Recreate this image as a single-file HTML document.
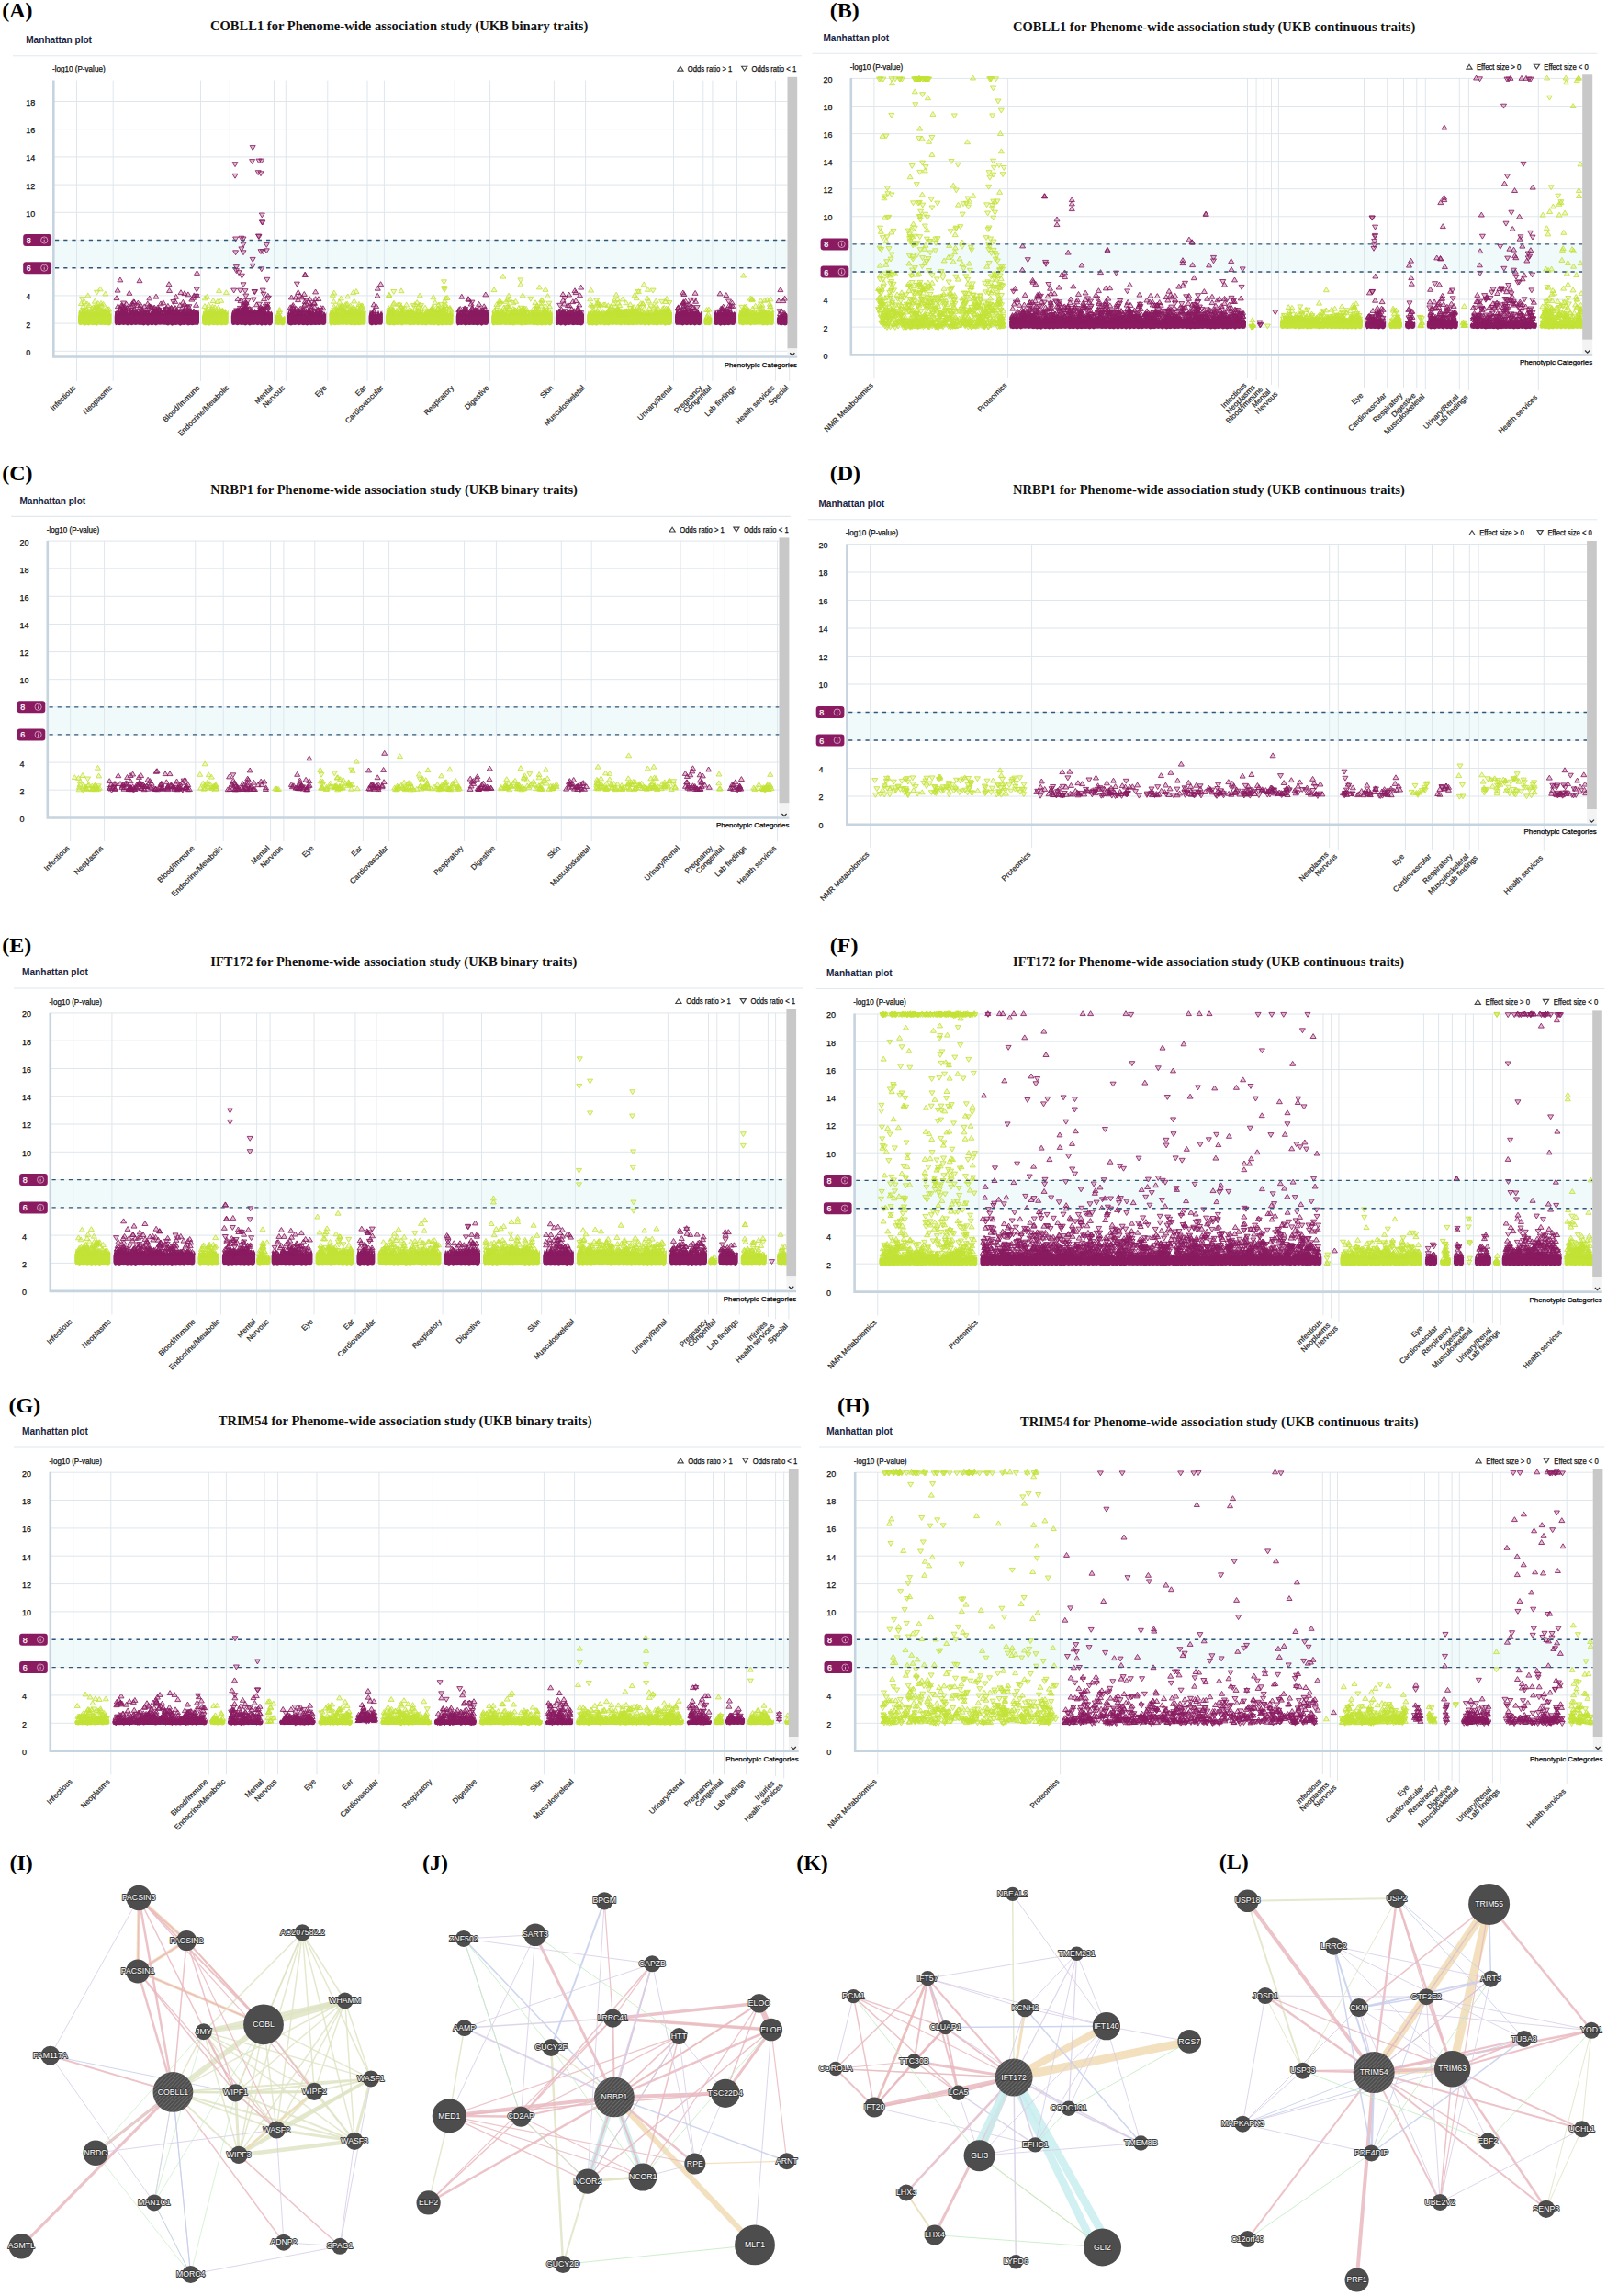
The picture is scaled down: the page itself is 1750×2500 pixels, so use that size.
<!DOCTYPE html>
<html lang="en"><head><meta charset="utf-8"><title>PheWAS Manhattan plots and gene networks</title><style>
html,body{margin:0;padding:0;background:#fff}
svg{display:block}
.pl{font:bold 24px 'Liberation Serif','Times New Roman',serif;fill:#000}
.tt{font:bold 14.5px 'Liberation Serif','Times New Roman',serif;fill:#111}
.mp{font:bold 10.1px 'Liberation Sans',Arial,sans-serif;fill:#1a2340}
.yl{font:8.7px 'Liberation Sans',Arial,sans-serif;fill:#111;stroke:#111;stroke-width:.25}
.lg{font:8.2px 'Liberation Sans',Arial,sans-serif;fill:#111;stroke:#111;stroke-width:.25}
.yt{font:9.8px 'Liberation Sans',Arial,sans-serif;fill:#111;stroke:#111;stroke-width:.25}
.pc{font:8px 'Liberation Sans',Arial,sans-serif;fill:#000;stroke:#000;stroke-width:.25}
.xl{font:8.2px 'Liberation Sans',Arial,sans-serif;fill:#222;stroke:#222;stroke-width:.2}
.bd{font:9.8px 'Liberation Sans',Arial,sans-serif;fill:#fff;stroke:#fff;stroke-width:.25}
.nl{font:8.7px 'Liberation Sans',Arial,sans-serif;fill:#fff;text-anchor:middle;paint-order:stroke;stroke:#3a3a3a;stroke-width:1.8px;stroke-linejoin:round}
polyline{fill:none;stroke:none}
.uL{marker:url(#uL)}.dL{marker:url(#dL)}.uP{marker:url(#uP)}.dP{marker:url(#dP)}
</style></head><body>
<svg width="1750" height="2500" viewBox="0 0 1750 2500">
<defs><pattern id="hatch" width="3" height="3" patternUnits="userSpaceOnUse" patternTransform="rotate(-45)"><rect width="3" height="3" fill="#4d4d4d"/><rect width="3" height="1" fill="#6a6a6a"/></pattern><marker id="uL" markerUnits="userSpaceOnUse" markerWidth="10" markerHeight="10" viewBox="-5 -5 10 10" refX="0" refY="0" overflow="visible"><path d="M-3 1.6h6l-3 -4.9z" fill="#c3e336" fill-opacity=".28" stroke="#c3e336" stroke-width=".85"/></marker><marker id="dL" markerUnits="userSpaceOnUse" markerWidth="10" markerHeight="10" viewBox="-5 -5 10 10" refX="0" refY="0" overflow="visible"><path d="M-3 -1.6h6l-3 4.9z" fill="#c3e336" fill-opacity=".28" stroke="#c3e336" stroke-width=".85"/></marker><marker id="uP" markerUnits="userSpaceOnUse" markerWidth="10" markerHeight="10" viewBox="-5 -5 10 10" refX="0" refY="0" overflow="visible"><path d="M-3 1.6h6l-3 -4.9z" fill="#8a1b61" fill-opacity=".28" stroke="#8a1b61" stroke-width=".85"/></marker><marker id="dP" markerUnits="userSpaceOnUse" markerWidth="10" markerHeight="10" viewBox="-5 -5 10 10" refX="0" refY="0" overflow="visible"><path d="M-3 -1.6h6l-3 4.9z" fill="#8a1b61" fill-opacity=".28" stroke="#8a1b61" stroke-width=".85"/></marker></defs>
<rect width="1750" height="2500" fill="#fff"/>
<g>
<text x="2.2" y="19.3" class="pl">(A)</text>
<text x="229" y="33" class="tt" textLength="411.4" lengthAdjust="spacing">COBLL1 for Phenome-wide association study (UKB binary traits)</text>
<text x="28.2" y="46.5" class="mp">Manhattan plot</text>
<path d="M14 60.8H873" stroke="#e1e8ee" stroke-width="1.1"/>
<text x="57" y="77.7" class="yl" textLength="57.6" lengthAdjust="spacingAndGlyphs">-log10 (P-value)</text>
<path d="M737.8 77.1h6.2l-3.1-4.8z" fill="none" stroke="#444" stroke-width="1.15"/>
<text x="748.8" y="77.8" class="lg" textLength="48.6" lengthAdjust="spacingAndGlyphs">Odds ratio &gt; 1</text>
<path d="M807.6 72.2h6.2l-3.1 4.8z" fill="none" stroke="#444" stroke-width="1.15"/>
<text x="818.6" y="77.8" class="lg" textLength="48.6" lengthAdjust="spacingAndGlyphs">Odds ratio &lt; 1</text>
<text x="28.2" y="386.7" class="yt" textLength="5" lengthAdjust="spacingAndGlyphs">0</text>
<text x="28.2" y="356.5" class="yt" textLength="5" lengthAdjust="spacingAndGlyphs">2</text>
<text x="28.2" y="326.3" class="yt" textLength="5" lengthAdjust="spacingAndGlyphs">4</text>
<text x="28.2" y="296.1" class="yt" textLength="5" lengthAdjust="spacingAndGlyphs">6</text>
<text x="28.2" y="265.9" class="yt" textLength="5" lengthAdjust="spacingAndGlyphs">8</text>
<text x="28.2" y="235.7" class="yt" textLength="10" lengthAdjust="spacingAndGlyphs">10</text>
<text x="28.2" y="205.5" class="yt" textLength="10" lengthAdjust="spacingAndGlyphs">12</text>
<text x="28.2" y="175.3" class="yt" textLength="10" lengthAdjust="spacingAndGlyphs">14</text>
<text x="28.2" y="145.1" class="yt" textLength="10" lengthAdjust="spacingAndGlyphs">16</text>
<text x="28.2" y="114.9" class="yt" textLength="10" lengthAdjust="spacingAndGlyphs">18</text>
<path d="M58 382.3H857.5M58 352.1H857.5M58 321.9H857.5M58 291.7H857.5M58 261.5H857.5M58 231.3H857.5M58 201.1H857.5M58 170.9H857.5M58 140.7H857.5M58 110.5H857.5M83.5 87.6V414.8M123.2 87.6V414.8M218.5 87.6V414.8M250.3 87.6V414.8M298.5 87.6V414.8M311.3 87.6V414.8M356.8 87.6V414.8M400 87.6V414.8M418.4 87.6V414.8M495.2 87.6V414.8M533.6 87.6V414.8M603.4 87.6V414.8M637.6 87.6V414.8M733.5 87.6V414.8M765.8 87.6V414.8M775.9 87.6V414.8M802.5 87.6V414.8M844.4 87.6V414.8M859.7 388.3V414.8" stroke="#dfe6ec" stroke-width="1" fill="none"/>
<rect x="59" y="261.5" width="798.5" height="30.2" fill="#f1fafb"/>
<path d="M83.5 261.5V291.7M123.2 261.5V291.7M218.5 261.5V291.7M250.3 261.5V291.7M298.5 261.5V291.7M311.3 261.5V291.7M356.8 261.5V291.7M400 261.5V291.7M418.4 261.5V291.7M495.2 261.5V291.7M533.6 261.5V291.7M603.4 261.5V291.7M637.6 261.5V291.7M733.5 261.5V291.7M765.8 261.5V291.7M775.9 261.5V291.7M802.5 261.5V291.7M844.4 261.5V291.7" stroke="#dde7ec" stroke-width="1" fill="none"/>
<path d="M86 353.8L85 351.3V344.4L86.5 336.5L88 341.1L89.5 336.3L91 340L92.5 339.1L94 340.8L95.5 336.6L97 341.5L98.5 337.4L100 341.5L101.5 336.8L103 341.5L104.5 338.3L106 339.9L107.5 338.2L109 340.9L110.5 337.3L112 340L113.5 338.2L115 340.2L116.5 338.7L118 342.2L119.5 337.5L121 342L121.7 338.4V351.3L120.7 353.7L118.5 354.6L116.3 353.7L114.1 353.9L111.9 353.7L109.7 354L107.5 353.6L105.3 354.7L103.1 353.7L100.9 354.3L98.7 353.6L96.5 354.6L94.3 353.7L92.1 354.7L89.9 353.6L87.7 354.1zM221 353.8L220 351.3V344.4L221.5 338.8L223 341.3L224.5 336.5L226 341.9L227.5 338L229 342.1L230.5 337.7L232 341.1L233.5 336.6L235 340.7L236.5 336.8L238 341.1L239.5 339.1L241 340.5L242.5 339L244 340.9L245.5 336.2L247 342.2L248.5 337.1L248.8 340.3V351.3L247.8 353.5L245.6 354.2L243.4 353.8L241.2 354.6L239 353.5L236.8 354.6L234.6 353.7L232.4 354.3L230.2 353.6L228 354.7L225.8 353.7L223.6 354.6L221.4 353.6zM300 353.8L299 351.3V347.6L300.5 344.4L302 345.4L303.5 343.1L305 344.9L306.5 344.1L308 345.9L309.5 344L310.8 345V351.3L309.8 353.7L307.6 354.4L305.4 353.6L303.2 353.9L301 353.6zM359.3 353.8L358.3 351.3V344.4L359.8 336.6L361.3 341.7L362.8 336.4L364.3 342.4L365.8 336.7L367.3 340L368.8 336.7L370.3 342.1L371.8 336.5L373.3 342.2L374.8 338.8L376.3 340.2L377.8 338.3L379.3 340.9L380.8 336.3L382.3 341.8L383.8 337.7L385.3 342.4L386.8 338.3L388.3 340.7L389.8 336.4L391.3 341.1L392.8 338.1L394.3 342.4L395.8 338.7L397.3 342.2L398.5 337V351.3L397.5 353.5L395.3 353.8L393.1 353.7L390.9 354.3L388.7 353.8L386.5 354.5L384.3 353.8L382.1 354.3L379.9 353.5L377.7 353.9L375.5 353.6L373.3 354L371.1 353.6L368.9 354.1L366.7 353.7L364.5 354.2L362.3 353.5L360.1 354.7zM420.9 353.8L419.9 351.3V344.4L421.4 336.4L422.9 340L424.4 336.4L425.9 340.2L427.4 338.1L428.9 340.9L430.4 337L431.9 342.3L433.4 336.2L434.9 341.5L436.4 336.7L437.9 340.4L439.4 337.3L440.9 341.2L442.4 336.4L443.9 341.2L445.4 337L446.9 340.2L448.4 338L449.9 341.5L451.4 338.5L452.9 342.1L454.4 337.1L455.9 342.3L457.4 336.5L458.9 340.2L460.4 337.3L461.9 341.7L463.4 338.6L464.9 341.4L466.4 336.7L467.9 341.4L469.4 336.5L470.9 341.8L472.4 337.5L473.9 342.3L475.4 336.3L476.9 342.1L478.4 339.1L479.9 342.3L481.4 336.1L482.9 341.7L484.4 338.3L485.9 340.9L487.4 337.9L488.9 341.7L490.4 337.2L491.9 341.5L493.4 336.3L493.7 341.9V351.3L492.7 353.6L490.5 354.2L488.3 353.7L486.1 354.2L483.9 353.5L481.7 354.6L479.5 353.7L477.3 354.7L475.1 353.5L472.9 354.3L470.7 353.7L468.5 354.1L466.3 353.6L464.1 354.6L461.9 353.7L459.7 354.3L457.5 353.6L455.3 354.3L453.1 353.5L450.9 353.9L448.7 353.7L446.5 354.6L444.3 353.5L442.1 353.8L439.9 353.6L437.7 354.6L435.5 353.5L433.3 354.1L431.1 353.7L428.9 354.4L426.7 353.7L424.5 354.3L422.3 353.5zM536.1 353.8L535.1 351.3V344.4L536.6 339.1L538.1 341.2L539.6 336.2L541.1 340L542.6 336.7L544.1 340.2L545.6 336.1L547.1 340.1L548.6 336.6L550.1 340.3L551.6 338.3L553.1 342.2L554.6 339.1L556.1 341.9L557.6 336.8L559.1 341.5L560.6 337.7L562.1 342.5L563.6 337.3L565.1 340.6L566.6 338.8L568.1 340.6L569.6 338.6L571.1 340L572.6 339.1L574.1 341.9L575.6 338.7L577.1 341.8L578.6 337.2L580.1 340.8L581.6 336.8L583.1 340.8L584.6 337.8L586.1 339.9L587.6 337.5L589.1 340.4L590.6 336.9L592.1 341.3L593.6 338.5L595.1 341.8L596.6 336.1L598.1 341.8L599.6 336.6L601.1 340.9L601.9 337.1V351.3L600.9 353.5L598.7 354.6L596.5 353.6L594.3 354.6L592.1 353.7L589.9 354.5L587.7 353.7L585.5 354.6L583.3 353.8L581.1 354.3L578.9 353.6L576.7 353.8L574.5 353.8L572.3 354.1L570.1 353.8L567.9 354.5L565.7 353.7L563.5 353.8L561.3 353.7L559.1 354.5L556.9 353.8L554.7 354L552.5 353.7L550.3 354L548.1 353.6L545.9 353.9L543.7 353.8L541.5 354.1L539.3 353.7L537.1 354.4zM640.1 353.8L639.1 351.3V344.4L640.6 338.3L642.1 340.9L643.6 337.8L645.1 341.8L646.6 338.8L648.1 342.2L649.6 336.5L651.1 340.6L652.6 338.5L654.1 340.1L655.6 339.1L657.1 342.3L658.6 339.2L660.1 340.2L661.6 337.8L663.1 340.3L664.6 336.3L666.1 340.4L667.6 337.8L669.1 341.8L670.6 337.1L672.1 340.9L673.6 338L675.1 342.3L676.6 337.1L678.1 340.6L679.6 338.8L681.1 341.2L682.6 337.3L684.1 341.9L685.6 336.3L687.1 341.1L688.6 337.3L690.1 340.3L691.6 338.3L693.1 342.2L694.6 338.6L696.1 341.8L697.6 336.7L699.1 340.4L700.6 338.1L702.1 341.6L703.6 338.2L705.1 340.7L706.6 338.3L708.1 341.3L709.6 338.9L711.1 342.2L712.6 338.4L714.1 341.8L715.6 336.4L717.1 340.6L718.6 337.1L720.1 342.4L721.6 337.5L723.1 340.1L724.6 336.8L726.1 340.9L727.6 336.3L729.1 340.7L730.6 338.2L732 340.2V351.3L731 353.6L728.8 354.2L726.6 353.7L724.4 354.7L722.2 353.6L720 354.1L717.8 353.6L715.6 354.7L713.4 353.7L711.2 353.9L709 353.6L706.8 354.5L704.6 353.6L702.4 354.6L700.2 353.6L698 354.1L695.8 353.5L693.6 354L691.4 353.6L689.2 354.3L687 353.7L684.8 354.3L682.6 353.8L680.4 354L678.2 353.6L676 354.6L673.8 353.6L671.6 354L669.4 353.6L667.2 353.9L665 353.5L662.8 354.4L660.6 353.8L658.4 354.5L656.2 353.6L654 353.9L651.8 353.5L649.6 354.7L647.4 353.8L645.2 354.4L643 353.7L640.8 354.2zM767.3 353.8L766.3 351.3V348L767.8 345L769.3 345.8L770.8 343.8L772.3 345.7L773.8 343.9L775.3 346.4L775.4 344.2V351.3L774.4 353.5L772.2 354.3L770 353.7L767.8 354.2zM805 353.8L804 351.3V344.4L805.5 336.1L807 342L808.5 337.8L810 342.3L811.5 337.2L813 340L814.5 336.5L816 341.6L817.5 338.7L819 341.4L820.5 338.2L822 342.1L823.5 336.4L825 340.9L826.5 336.9L828 341.2L829.5 336.6L831 340.2L832.5 337.8L834 342.5L835.5 338.7L837 342.3L838.5 338.3L840 340.1L841.5 336.6L842.9 341.5V351.3L841.9 353.7L839.7 354L837.5 353.6L835.3 354.5L833.1 353.8L830.9 354.4L828.7 353.6L826.5 353.8L824.3 353.6L822.1 354.1L819.9 353.6L817.7 354.4L815.5 353.5L813.3 353.9L811.1 353.6L808.9 354.5L806.7 353.6z" fill="#c3e336"/>
<polyline class="uL" points="98.5,340.5 111.6,341.4 105.8,340 91.4,338.9 88.5,330.9 103.7,341.8 110.4,333.2 103.3,328.6 94.8,331.4 110.6,339.3 106.6,340.9 102.5,339.7 90.5,334.3 106.9,340.6 118.6,337.1 112.7,340 88.9,338.5 100,340.5 97,332.9 95.8,322.3 107,335.8 114.4,338.8 117.3,337.9 93.1,338.9 100.1,336 106.7,330.8 111.1,338.5 112.7,338.9 103,338.8 113.3,339.6 104.2,334.2 110.1,330.7 104.4,341.3 90.3,341.3 114,340.7 105.5,333.7 107.7,334.9 112.5,331.6 96.5,339.5 100.7,342.1 115,340.3 103.1,336 102,334.9 99.4,338.9 105.8,335.5 111.1,340.4 94.1,337.6 116.6,340.2 117.1,341.5 105.9,340.1 114.8,320.4 88.9,339.3 116.4,336.2 100.8,342.5 91.9,329.1 110.5,338.4 231,337.1 231.8,342.2 227.3,342.5 239.1,338.3 227.3,332.7 234.9,341.5 244.1,340.6 231.6,342 241.2,339.2 240.7,327.7 242.9,339.3 229.6,340.2 241.3,341.9 232.2,327.9 229.4,338.6 223,333.9 242.7,341.7 242.2,338.5 236.9,328.9 245.4,339.9 228.8,342.3 223.2,325.2 223.9,342.5 231.4,334.5 234,335.1 238.2,339.8 237.8,335.4 224.8,339.9 242,340.6 303,343.2 304.5,337.9 303.4,342.3 304.2,339.8 303.4,345.2 303.1,346.7 305.1,345.4 304.1,347 374.4,342.3 369.7,329.4 378.7,323.3 381.8,340.5 366.8,339.3 370,334.6 365.5,342.5 394.2,341 363.1,342.3 383.3,341.9 371.5,334.7 393,340.4 369.3,341.2 373.5,337.5 372.2,333.9 381.4,341.5 364.3,337.1 367.6,340.6 370.6,336.7 376,338.8 393.2,334.7 384.7,339.6 384.7,319 386.9,337.2 375.1,339.8 363.7,334.5 377,331.6 361.5,340.2 371.2,334.7 390.8,337.9 376.8,342 391,331.7 379,335.7 384.9,337.1 381.6,333.4 394.5,340.4 385.7,328.4 363.4,328.7 382.2,338.2 368.4,339.8 391.1,338.9 394.7,336.1 363.8,319.4 366.5,336.7 374.9,339.1 371.4,325.3 375.7,333 394.1,333.2 395.2,338.3 369.8,337.2 389.2,341.8 377.3,336.1 390.7,342.4 367.8,334.6 389.3,336.2 361.5,341.6 378.3,331.5 384.9,335.1 382,336.6 379.7,342.1 436.8,334.4 485.8,340.9 444.4,340.3 468.6,342 475.4,342 437.6,342.4 427.3,342.1 470.3,337.9 479,338 446.9,342.5 448.3,340.8 471.1,338.4 490.5,337.7 426.2,339.9 454.2,338.8 471,336.5 448,340.5 457.3,322.3 452.7,336.3 448.5,339.2 447.3,340.9 434.6,331.8 448.9,340.1 466.9,339.2 477.4,336.1 445.4,340.9 434.3,342.4 427.6,337.6 469.3,337.9 428.3,331.6 468.5,338.7 457.1,332.2 490,335.8 473.8,329.8 441.1,336.4 478.7,342 477.6,332.4 476.8,336.6 463,335.5 431.9,341.4 468.8,339.8 480.5,339.1 438.9,336.1 434.2,340.8 442.7,332.4 459,337.1 455.8,338.4 438.8,341.4 423.4,322 426.9,340.4 468,340.8 427.9,338.7 449.5,340.9 438.6,338.7 481.9,339.3 437,335.2 425.9,336.7 475,341.6 437.4,339.8 424,338.2 447,342.1 437.8,342.1 446.8,342.3 423.4,336.1 447.5,338.8 455.4,334.9 465,339.5 454.2,329.9 469.6,341.5 434.9,335.7 444.4,341.3 471.4,334.6 424.2,341.7 479.2,340.6 436.7,341.8 443.6,342.1 485.5,325.2 454.9,340.1 429.1,330.6 470.7,342.4 427.4,340.6 484.3,328.3 451.9,331.9 423.9,321.7 445.5,338.4 428.2,337.7 484.2,336.8 487.1,324.8 470.5,341.6 471,337.6 464.8,340.6 463.5,341.4 469.5,339.5 476.6,337 489.3,336.4 471.6,341.2 481.8,337.8 430.9,341 471.9,324.2 485.1,332.9 482.9,335.6 431.8,339 490.6,342.3 482.3,337.2 437.7,341.4 542,333.8 578.5,340.3 538.8,338.3 570.8,339.5 561.8,341.5 580.7,337.2 566.7,340.7 549.6,337.4 591.9,337.2 568.9,338 573,336.6 544,328 593.8,338.9 560,341.8 569.2,322.2 590.4,327.6 580.3,341.3 563.5,338.6 546.5,339.3 571.3,342.4 558.5,339.9 584.9,333 584.7,336.7 593.1,337.9 538.9,338.8 563.9,341.6 587.4,313.3 589.6,333.5 559.1,341.3 586.6,336.2 544.1,342.4 558.7,341.9 548,341.4 560.2,339.3 554,322.5 584.4,342.4 598.5,334.1 582.2,340 587.9,341 553.2,327 597.1,338.8 583.4,336.7 596.5,323 582.9,340.8 542.5,338.8 584.5,334.3 544.8,329.1 552.9,341 565.5,342 582.9,330 589.8,327.1 558.8,336.8 586.3,340 540.9,332 554.3,334.1 569.7,342.4 570.5,339.1 593,339.4 545.7,341.9 574.6,341 541.1,341.5 575.5,340.8 554.8,336 589.8,330.6 571.1,336.3 555,326.3 586.1,340.3 560.6,337.7 551.1,328.7 561.6,328.7 552.9,341.1 569.1,336.4 552.5,334.3 597,340.5 564.9,335.9 594.7,334.4 592.5,339.4 594.4,341.8 561.1,338.6 545.2,340.3 581.2,341.9 559,330.1 548.5,335.7 562.4,340.1 565.4,339.5 668.4,338.1 705,325.4 652.1,341.6 662.3,333.1 679.4,342.4 676.7,339.1 671.1,321.5 658,342.1 674.8,332.9 655.9,341.9 653.9,332.2 662.1,339.5 645.1,333.4 693.8,340.1 686.4,332.1 671.9,340.9 714.3,328.3 707.2,336.1 669.8,339.7 689.2,341.8 650.7,329.9 695.4,341.4 714.4,341.2 673,340.4 695,341.9 721.8,336.6 662.8,338.8 701.5,341.8 688.5,336.9 728.1,342.2 688.2,340.2 715.1,340.5 667.1,339.3 690.1,334.9 652.1,335.9 693.2,325.1 685.5,342.3 720.1,340.3 705.8,341.4 688.1,337.8 697,335.4 679.2,340.1 677.9,341 698.3,340 695.8,336.5 668,330.6 669.1,327.5 726.1,325.7 675,340.3 657.3,332.3 706.4,328.2 664.9,341.7 716.1,335.3 677.3,342 682.4,339.5 669.8,338.7 669.3,340.4 661.2,341.3 713.5,341.2 645.6,340.5 679.7,340.4 723.2,335.7 701.7,336.4 659.7,342.4 673.2,330.3 682.3,339.1 674.1,338 646.7,337.9 682.3,339.5 697.8,330.9 677.4,342.1 673.3,337 709.2,341.4 647,341.2 642.7,326.1 693.4,340.6 727.6,336.6 678.3,340 651.4,332.6 726.5,339.8 651,342.2 673.6,340 665.3,338.2 665.4,334.1 650.7,339.2 673.2,342 656.7,339.9 672.5,326.4 728,337.1 724.2,340.5 691.2,322 668.9,341.7 662.9,341.7 643.5,332.4 713.9,339.5 725.7,336.3 681.7,330.1 694.6,334.6 700.1,331.3 672.8,339.1 678.2,326.3 647.4,341.5 726.2,340.2 693.4,340.7 728,341.9 688.5,342 669.3,340.2 673,341.4 705.8,340.6 672.6,337.7 712.1,335.2 714.2,333.5 651.4,331 647.5,342.1 722.3,339.4 699.9,331.1 664,336.7 642.5,341.6 727.6,339.5 724.9,328.9 714.9,340.6 659,341.9 701.5,341.6 725.8,340 679.9,342.1 659,332.2 771.9,337.4 771.3,342.6 770.3,345 769.6,337.9 772,348.3 837.1,341.2 810.8,337.8 808.6,342.4 819.6,336.6 818.9,327 814.9,338.9 837.4,342.4 829.8,335.3 828.7,340.6 807.1,341.6 835.4,327 838.3,331.6 839.9,338 827.7,341 820,340.2 820,341.6 810,338.1 808.7,341.3 829.9,332.7 815.2,341.9 822.7,333.7 834,342 819.5,340.5 818.8,326 833.4,340.6 812.3,340.9 809.8,338.6 831.5,339.9 829.2,340.2 831.5,342.1 815.7,341 817.2,325.5 824.6,340.2 810.9,334.7 812.2,342.5 815.4,339.5 812.1,341.9 838.8,334.1 838.9,334.1 828.5,327.7 827,332.6 834.9,340.2 812.5,334.5 838.9,326.2 832.7,327.6 819.3,326.2 109.2,315.2 238.5,316.8 225.6,323.6 246.4,319 362.3,321.7 388,317.8 437,317.1 547.8,301.5 566.9,310.5 538,316 594,315.7 643.6,316.5 701.2,310.3 695.4,318 705.4,315.7 809.6,300.4"/>
<polyline class="dL" points="111.9,342.1 105.5,317.8 93.2,337.3 92.7,341.4 103.7,341.1 236.4,339.1 224.2,340.8 244.7,341.9 241.8,340.7 235.3,341.3 241.2,342.4 232,339.2 225,338.2 228,341 305.9,347.7 304.6,347 302.5,344.7 391.5,340.3 392.7,332.7 383.3,340.3 376.3,340.8 380.3,340.1 366.2,342.5 393.7,341.2 388,337.9 386.3,340.6 479.8,338.7 473.5,340.3 484.5,333.5 485.8,336.5 451,341.7 453,342.3 441.2,340.3 450.4,332.2 426.3,336.6 434.7,331.6 485.1,342.1 428.5,339.1 427.2,341.7 474.4,340.3 458.6,332.2 480.1,331.3 545.2,330 562,342.1 551.6,334.2 553.7,339.8 541.6,342 571.8,338.8 597.9,329.8 568.4,338.3 574.5,339.2 594.7,342 544.8,340.9 553.5,340 577.8,324.9 567.8,334.8 708.6,340.2 719.1,339.4 723.9,340.3 719,340.2 672.2,337.4 692,338.9 686.4,335.1 708.6,332.6 649.6,326.7 728.9,329.2 682.3,338.1 661.8,342 665.1,341.5 711.1,315.7 720.6,327.9 681.2,340.2 669.7,334.3 721.3,339.5 685.3,340.8 645.3,334.1 692.4,341.2 690.1,341.6 813.5,337.7 832.2,339.8 835.8,339.1 827.5,337.2 821.5,339.2 807.9,333.9 833.9,341.7 809.2,340.6 808.2,339.4 89.5,325 428.8,317.1 483.5,306.4 483.8,313.2 484,315 566.9,304.5 695,317"/>
<path d="M125.7 353.8L124.7 351.3V343.9L126.2 337.8L127.7 341.7L129.2 336.7L130.7 339.5L132.2 336.5L133.7 339.3L135.2 337.1L136.7 340.5L138.2 337L139.7 341.1L141.2 336.1L142.7 339.5L144.2 337L145.7 341.1L147.2 337.2L148.7 339.3L150.2 338.2L151.7 340.6L153.2 336.4L154.7 341.6L156.2 335.1L157.7 341.2L159.2 336.2L160.7 341.4L162.2 337.2L163.7 341.9L165.2 337.4L166.7 339.7L168.2 335.7L169.7 340.8L171.2 337.4L172.7 339.8L174.2 336L175.7 341.3L177.2 336.4L178.7 340.9L180.2 337.9L181.7 341.1L183.2 336.7L184.7 341.3L186.2 337.7L187.7 340.8L189.2 336.8L190.7 341.7L192.2 335.7L193.7 339.5L195.2 335.4L196.7 340.4L198.2 337L199.7 339.9L201.2 338.2L202.7 341L204.2 336.8L205.7 340.8L207.2 335.3L208.7 339.9L210.2 335.9L211.7 341.2L213.2 337.9L214.7 339.8L216.2 336.4L217 340.6V351.3L216 353.7L213.8 353.8L211.6 353.7L209.4 354.3L207.2 353.8L205 354.4L202.8 353.6L200.6 353.9L198.4 353.7L196.2 354.7L194 353.6L191.8 354.1L189.6 353.7L187.4 354.7L185.2 353.6L183 354.4L180.8 353.7L178.6 353.8L176.4 353.6L174.2 353.8L172 353.5L169.8 354.5L167.6 353.5L165.4 354.6L163.2 353.5L161 354.7L158.8 353.6L156.6 354.5L154.4 353.7L152.2 354.1L150 353.6L147.8 354L145.6 353.6L143.4 354.3L141.2 353.5L139 354.4L136.8 353.6L134.6 354L132.4 353.5L130.2 354.3L128 353.5L125.8 354.3zM252.8 353.8L251.8 351.3V343.9L253.3 337.1L254.8 341.5L256.3 335.9L257.8 340.9L259.3 335.7L260.8 339.2L262.3 338.4L263.8 339.8L265.3 337.5L266.8 339.6L268.3 338.2L269.8 340.8L271.3 337.8L272.8 340.3L274.3 338.1L275.8 340.1L277.3 335.5L278.8 340.2L280.3 337.7L281.8 340.8L283.3 335.7L284.8 339.2L286.3 335.3L287.8 339.3L289.3 337.4L290.8 340.5L292.3 336.8L293.8 340.4L295.3 338.5L296.8 340.9L297 337.8V351.3L296 353.6L293.8 354.6L291.6 353.6L289.4 354.5L287.2 353.6L285 354.7L282.8 353.5L280.6 354.3L278.4 353.5L276.2 354.1L274 353.8L271.8 354.5L269.6 353.6L267.4 354.4L265.2 353.8L263 353.9L260.8 353.6L258.6 354.3L256.4 353.5L254.2 354.1zM313.8 353.8L312.8 351.3V344.4L314.3 336.8L315.8 342L317.3 336.9L318.8 340.4L320.3 338.1L321.8 342.2L323.3 337.6L324.8 340.9L326.3 336.9L327.8 341.1L329.3 336.7L330.8 341.7L332.3 338.4L333.8 342.4L335.3 337L336.8 341.2L338.3 337.9L339.8 340.3L341.3 338.4L342.8 342.1L344.3 336.1L345.8 342.4L347.3 337.5L348.8 341L350.3 336.8L351.8 342L353.3 339.2L354.8 342L355.3 338.9V351.3L354.3 353.6L352.1 354.1L349.9 353.5L347.7 354L345.5 353.8L343.3 353.9L341.1 353.7L338.9 354.2L336.7 353.5L334.5 354.5L332.3 353.8L330.1 354.3L327.9 353.6L325.7 354.2L323.5 353.6L321.3 353.9L319.1 353.7L316.9 354.5L314.7 353.8zM402.5 353.8L401.5 351.3V344.4L403 336.9L404.5 341.6L406 336.2L407.5 342.4L409 338L410.5 342L412 337.3L413.5 341.8L415 338.3L416.5 341.2L416.9 336.7V351.3L415.9 353.6L413.7 353.8L411.5 353.6L409.3 354.5L407.1 353.5L404.9 354.6L402.7 353.6zM497.7 353.8L496.7 351.3V344.4L498.2 336.3L499.7 340.4L501.2 338.3L502.7 341L504.2 339.2L505.7 341.2L507.2 338.3L508.7 342.4L510.2 338.4L511.7 341.7L513.2 338.5L514.7 340.3L516.2 336.5L517.7 341.1L519.2 338.5L520.7 339.9L522.2 338.8L523.7 342.3L525.2 337.8L526.7 340.5L528.2 338.2L529.7 340.1L531.2 336.4L532.1 341.1V351.3L531.1 353.5L528.9 353.9L526.7 353.5L524.5 354.7L522.3 353.5L520.1 354.5L517.9 353.7L515.7 353.9L513.5 353.8L511.3 354.1L509.1 353.7L506.9 354.4L504.7 353.6L502.5 354L500.3 353.7L498.1 354.5zM605.9 353.8L604.9 351.3V344.4L606.4 336.9L607.9 342.3L609.4 336.1L610.9 341.1L612.4 336.4L613.9 342.2L615.4 337.4L616.9 340.1L618.4 337.1L619.9 341.1L621.4 337.9L622.9 341.6L624.4 336.6L625.9 340.5L627.4 338.9L628.9 340.1L630.4 337.3L631.9 340.9L633.4 337.9L634.9 342.4L636.1 339.2V351.3L635.1 353.6L632.9 354.4L630.7 353.7L628.5 354L626.3 353.8L624.1 354.3L621.9 353.6L619.7 354.1L617.5 353.7L615.3 354.7L613.1 353.6L610.9 354.6L608.7 353.6L606.5 353.9zM736 353.8L735 351.3V344.4L736.5 337.1L738 340.5L739.5 338.9L741 341.1L742.5 338.3L744 342.2L745.5 336.4L747 340.8L748.5 337.4L750 340.2L751.5 339.2L753 341.8L754.5 338.2L756 341L757.5 338.8L759 340.3L760.5 337.1L762 341.5L763.5 338.5L764.3 342.4V351.3L763.3 353.7L761.1 354.2L758.9 353.5L756.7 354.6L754.5 353.6L752.3 354.6L750.1 353.6L747.9 354.2L745.7 353.6L743.5 354.6L741.3 353.7L739.1 353.8L736.9 353.7zM778.4 353.8L777.4 351.3V344.4L778.9 336.4L780.4 341.1L781.9 336.5L783.4 342.2L784.9 337.6L786.4 340.2L787.9 336.6L789.4 340.6L790.9 336.4L792.4 341.1L793.9 336.4L795.4 340.1L796.9 339L798.4 340.5L799.9 339.1L801 340.7V351.3L800 353.7L797.8 354L795.6 353.5L793.4 354.2L791.2 353.7L789 354.4L786.8 353.7L784.6 354.7L782.4 353.6L780.2 353.9zM846.9 353.8L845.9 351.3V346.7L847.4 342.7L848.9 344.8L850.4 342.8L851.9 343.8L853.4 342.2L854.9 345.2L856.4 343L857.9 344L858.2 340.9V351.3L857.2 353.7L855 354.5L852.8 353.7L850.6 354.6L848.4 353.6z" fill="#8a1b61"/>
<polyline class="uP" points="171.9,335.4 133.4,341.5 164.6,339.9 160.4,340.3 154.3,337.2 138.8,336.4 128.4,334.1 207.3,339.6 204.9,321.2 169.7,339.5 159.3,337.4 167.9,339.6 212.4,341.8 160.8,331.3 175.1,341.6 195.9,332.8 159.9,341.1 147.7,339.1 152.3,335.3 133.1,332.9 179,337.5 208.8,326.5 133.6,334.5 164.9,334.7 192.8,338.1 150.4,330.4 190.7,328.8 200.4,338.5 135.8,340.1 165.8,340.9 187.1,339.9 173.1,337.5 213.6,332.7 140.9,319.7 205.7,335.3 203.8,340.8 182.9,333.7 146.5,337 179,337.8 143.9,331.1 144.2,340.9 163.4,334.3 191.1,340.4 183.7,338.3 184.5,339 175.1,331.2 181.1,335.6 157.3,334.2 129.6,339.5 133.5,340.2 162.8,325.3 138.5,336 146.2,340.3 199.9,341.4 179,340.9 198.7,334.8 192.1,340.5 167.6,341.4 155.9,340.1 143.3,340.4 168,339.8 188.4,337.9 143.1,334.2 135.8,334.7 153.1,340.4 186.5,335.8 136.8,337.3 172.2,341.3 205.7,339.2 133.9,334.9 186.7,335.7 185.8,337.2 153.1,332.6 195.1,341.7 144,341.1 146.2,329.4 154.9,338.2 183.1,339.3 135,340 211,339.2 211.4,322.2 168.2,335.4 200.3,339.5 168.2,341.5 205.6,341.8 131.9,333.6 202.2,335.4 183.8,341.3 199.6,341.4 132.7,341.7 190.5,340.8 158.3,341.8 162.5,333.4 161.3,341.7 128.1,340.6 131.2,336.4 177.8,330.1 145,332.5 134,341.4 153.6,341.4 201.2,331.8 132.7,339.4 210.4,324.7 187.2,340.6 167.4,339.4 189.9,336.3 148.6,341 150.1,333 145.5,329.1 174,337.9 185.8,339.7 206.4,339.8 137.7,331.7 191.7,323.6 184.5,316.9 144.7,339.6 191.4,340.1 213.3,340.4 203.5,341.1 151.1,339.1 190.9,335.8 178.6,338.5 175.6,341.8 177.6,339.9 199.4,329.6 255.6,339.9 258.4,338.6 282.7,338.3 287.6,326 278.2,340.2 291.6,333.6 291.3,334.7 283.9,338.7 268.2,334.2 292.9,341.7 263.4,340 291.8,322.6 283.9,338.4 285.7,340.2 263,335.4 267.8,341.4 260,340.9 285.2,336.8 272.7,341.2 288.3,340.7 258.9,339.4 265.3,339 279.5,332.2 290.9,335.7 257.8,339.5 273.1,338.8 257.9,341.8 285.6,340.3 289.6,338.3 284.1,338.9 265.6,340.6 285.1,338.1 286.2,341.7 267.3,335.2 282.7,341.2 268.2,330.4 287.6,341.3 277.8,341.2 264.6,340.4 284.1,335.4 266.6,330.6 260.6,340.4 271.8,336.7 267.3,338 266,327.4 286.9,341.8 261.2,337.3 267.5,336.3 263.9,338.3 286.7,341.2 318.7,334.3 331.5,333.1 334.4,341.9 339,335.6 331.8,332.2 324.7,318.9 337.7,342.4 338.1,334.2 330.7,341.6 322.6,336.8 330,338 328.9,324.3 319.1,342.2 327.2,336.6 322,342.4 318.2,340.1 324.9,338.3 336.8,339 346.9,326 333.1,339.6 335.7,339 330.5,338.3 338.6,337.7 337.6,331.6 316.6,339.9 331.3,320.8 319.2,332.8 324.5,327 343.3,339.9 351.9,336.1 337.5,330.7 326.3,322.4 335.5,339.4 342.2,329.9 350.9,342.1 342.3,331 340.4,341.6 346.3,337.2 343.7,342.5 326.2,340.2 318.9,336.1 316.3,335.1 351.6,342.2 346.4,338.8 332.2,337.7 342.2,338.9 332.2,328.8 327.9,338.8 342.7,335.1 325.2,341.7 337.3,326.1 348.2,342.5 349.6,336 319,339.5 411.1,322.6 409.6,333.8 407.1,332.2 405.6,341.1 407.6,339.3 407.1,338.7 528.2,337 517.6,338.6 506.9,342 501.2,336.8 528.8,321.3 519.6,341.2 502.8,323.6 520.7,341.1 512.5,341.7 526.2,339.1 514,336.1 513.3,340.6 521.6,331.7 513.1,331.4 502.7,340.7 506.2,340.9 524.6,339.7 508.4,338 509.9,326 518.6,339.9 523.7,339 506.1,336.2 519.9,342.4 514.4,337.8 521.9,340 526.1,337.9 513,341.4 517.6,337.8 506.8,337.8 499.8,337.8 527.9,340.5 510.6,341.5 522.7,341.8 500.8,342.2 512.4,342 506.9,338.7 502.4,341.6 519.8,338.1 522.2,336.4 524,341.9 518.3,340.3 528.2,341.6 501.9,341.6 514.4,335.9 510.4,326.7 516.8,341.2 528.8,341.7 514.7,342.2 527.2,334.1 513.6,341.2 527.1,342.4 518.6,338.1 517.5,342.3 505.3,338.5 629.1,338.2 608.6,339.5 625.1,338.9 619.1,341.5 620.1,333.2 622.9,341.6 609.7,339.3 613.1,327.6 618.3,342.1 627,327.9 614.5,331.4 629.5,336.2 612.4,341.1 629,336.6 612.8,340 630.8,332.4 631.5,322.1 614.2,342.5 623.8,329 614.7,341.2 618.4,333 632.1,341 619.6,341.7 622.5,337.2 611.4,337.5 619.6,321.4 622,342.3 608.9,341.2 753.8,334.9 744.3,330.6 753.4,342.6 744.6,329.1 749.6,336.6 744.7,341.5 743.6,342.3 755.3,342.3 738.6,335.6 738.4,341.6 743.8,319.3 739.8,338.4 745.7,338 756.8,338 738.1,336.2 749.9,340 743.8,341.2 742.3,342 745,335.8 744.3,334 754.8,339.6 742.6,338.7 738.8,335.1 755,335.4 757.1,319.7 744.9,320.9 743.9,330.1 757.5,328.7 745,332.8 758.8,340.4 759.4,340.5 749.2,338.6 739.3,339 746.6,328.6 749.6,332 746.7,341.2 751.2,331.4 757.5,342.1 751.6,342.5 754.1,341.5 753.1,339.4 787.7,334.4 790.8,321.9 784.1,341.2 797.7,333.8 795.8,333.5 790,342.5 795.8,341 790.1,340.2 795.1,339.9 786.4,337.1 781.2,340.1 785.1,336.6 793.6,340.5 794.6,336.5 791.3,337.7 786.5,336.3 786.9,339.3 784.2,342.5 789.2,342.4 785.3,339 794,333 789,341.4 852.9,328 854,341.5 853.4,345.6 853.8,345.8 850.5,344.4 850.8,339.1 853.3,344.8 853.3,345.1 854.8,344.6 854.5,343.3 855.2,343 850.5,346.3 849.5,341.9 259,326 262,328 130.9,305.3 152,306.1 184,310 214.5,297.8 128.1,316.5 127,325 214.5,322.3 170,323.5 197,319 201,320 332.1,299.5 332.4,299.8 343.6,318.3 317.4,324.4 322,324.4 343.6,326 411.3,314.6 414.6,310 632.7,313.5 626,317 627,319 613,321 784.1,320.3 797.3,330.3 849.9,316 848,328 854.6,325.5"/>
<polyline class="dP" points="165,334.7 173.1,337.2 143.5,337.2 193.5,339.8 159.8,339.8 199.1,339.2 188.8,328.1 189.9,340.6 169.5,337.9 211.9,339.2 170.8,335.9 205.9,333.3 182.9,336.2 203.4,334.2 192.9,339.2 134.5,329.6 186.3,339.7 190.5,338.7 128,341.3 139.9,337.6 171.1,341.5 211,340.2 182.9,340.1 135.5,337.8 197.9,339.7 209.6,341 186.4,339.9 136,341.8 257.6,337.5 269.7,340.5 267.4,335.8 258,339.4 265.4,340.4 259.1,338.8 272.7,336.4 272.8,341.4 279.3,340.1 289.3,332.9 256.8,341 265,337.1 261.4,335 285,337.8 283.6,336.6 276.3,325.6 285.9,339.2 268.2,340.1 278.9,341.2 283.7,338.5 258.5,338.6 267.9,336.9 267,332.7 268,331.4 284.3,335.7 265.2,332.3 290.7,334.3 291.2,330.9 272.5,341.3 282.4,330.8 287,335.8 321.2,341.4 318.7,339.5 320.8,340.9 348.7,337.1 323.5,338 337.8,340.5 346.8,341.1 345.6,339.2 318.4,338.4 506,339.8 506.7,336 513.9,328.7 516.9,340.4 518.2,338.4 514.3,338.7 528.8,339.2 630.4,341.6 615.7,338.3 622.3,340.3 615.1,324 629.3,341.1 609.7,331.9 632.6,340.2 759.1,334.2 748.3,342.4 748.4,336.6 750.2,342.1 744.7,339.2 749.4,339.3 788.9,338.8 791.3,338.1 793.5,327.6 854.1,345.5 849,338.4 854.3,343.6 275.2,160.2 256,178.3 274.6,175.2 282,174.7 284.8,174.7 256,190.9 281.2,187.3 284,188.4 285.3,233.6 285.3,241.5 285.9,241.7 256.6,259.6 262.9,258.8 265,259.6 281.5,256.6 282,257.2 265,265.6 290.3,266.1 262.9,270.5 256.6,274.4 265,274.4 284,273.3 286.2,273.3 290.3,272.4 275.2,282 275.2,288.9 257.4,290.2 284.8,292.4 257.4,294.3 260.1,296.3 263.4,299.8 290.8,303.9 265,309.4 254.7,315.7 261.5,315.7 267,316.3 277.1,317.1 277.6,317.3 286.2,315.7 267.8,321.7 287,319.8 292.4,323.9 270,327 214.2,314.6 214,322 323.4,308.7 333.5,326.8 752,326 756,326"/>
<path d="M60 261.5H857.5M60 291.7H857.5" stroke="#2f5878" stroke-width="1.35" stroke-dasharray="4.2 5" fill="none"/>
<path d="M58.3 87.6V388.5H868.2" stroke="#c6d4df" stroke-width="2.6" fill="none"/>
<rect x="857.5" y="379.2" width="10.7" height="8.1" fill="#f3f3f3"/>
<rect x="857.5" y="83.8" width="10.7" height="295.4" fill="#c8c8c8"/>
<path d="M860.2 384.2l2.6 2.6l2.6-2.6" stroke="#333" stroke-width="1.3" fill="none"/>
<rect x="25.2" y="255" width="30.9" height="13" rx="3" fill="#8a1b61"/>
<text x="28.8" y="265" class="bd" textLength="5" lengthAdjust="spacingAndGlyphs">8</text>
<circle cx="48.2" cy="261.5" r="3.6" fill="none" stroke="#e9cfe0" stroke-width=".7"/>
<path d="M48.2 260.9v2.6M48.2 259.3v.8" stroke="#e9cfe0" stroke-width=".8"/>
<rect x="25.2" y="285.2" width="30.9" height="13" rx="3" fill="#8a1b61"/>
<text x="28.8" y="295.2" class="bd" textLength="5" lengthAdjust="spacingAndGlyphs">6</text>
<circle cx="48.2" cy="291.7" r="3.6" fill="none" stroke="#e9cfe0" stroke-width=".7"/>
<path d="M48.2 291.1v2.6M48.2 289.5v.8" stroke="#e9cfe0" stroke-width=".8"/>
<text x="868" y="399.5" class="pc" text-anchor="end" textLength="79.3" lengthAdjust="spacingAndGlyphs">Phenotypic Categories</text>
<text transform="translate(82.9 422.8) rotate(-45)" class="xl" text-anchor="end" textLength="35.1" lengthAdjust="spacingAndGlyphs">Infectious</text>
<text transform="translate(122.6 422.8) rotate(-45)" class="xl" text-anchor="end" textLength="41" lengthAdjust="spacingAndGlyphs">Neoplasms</text>
<text transform="translate(217.9 422.8) rotate(-45)" class="xl" text-anchor="end" textLength="52.9" lengthAdjust="spacingAndGlyphs">Blood/Immune</text>
<text transform="translate(249.7 422.8) rotate(-45)" class="xl" text-anchor="end" textLength="74.3" lengthAdjust="spacingAndGlyphs">Endocrine/Metabolic</text>
<text transform="translate(297.9 422.8) rotate(-45)" class="xl" text-anchor="end" textLength="24.6" lengthAdjust="spacingAndGlyphs">Mental</text>
<text transform="translate(310.7 422.8) rotate(-45)" class="xl" text-anchor="end" textLength="30.5" lengthAdjust="spacingAndGlyphs">Nervous</text>
<text transform="translate(356.2 422.8) rotate(-45)" class="xl" text-anchor="end" textLength="14.1" lengthAdjust="spacingAndGlyphs">Eye</text>
<text transform="translate(399.4 422.8) rotate(-45)" class="xl" text-anchor="end" textLength="12.8" lengthAdjust="spacingAndGlyphs">Ear</text>
<text transform="translate(417.8 422.8) rotate(-45)" class="xl" text-anchor="end" textLength="54.7" lengthAdjust="spacingAndGlyphs">Cardiovascular</text>
<text transform="translate(494.6 422.8) rotate(-45)" class="xl" text-anchor="end" textLength="41.9" lengthAdjust="spacingAndGlyphs">Respiratory</text>
<text transform="translate(533 422.8) rotate(-45)" class="xl" text-anchor="end" textLength="33.7" lengthAdjust="spacingAndGlyphs">Digestive</text>
<text transform="translate(602.8 422.8) rotate(-45)" class="xl" text-anchor="end" textLength="16" lengthAdjust="spacingAndGlyphs">Skin</text>
<text transform="translate(637 422.8) rotate(-45)" class="xl" text-anchor="end" textLength="58.3" lengthAdjust="spacingAndGlyphs">Musculoskeletal</text>
<text transform="translate(732.9 422.8) rotate(-45)" class="xl" text-anchor="end" textLength="50.1" lengthAdjust="spacingAndGlyphs">Urinary/Renal</text>
<text transform="translate(765.2 422.8) rotate(-45)" class="xl" text-anchor="end" textLength="39.2" lengthAdjust="spacingAndGlyphs">Pregnancy</text>
<text transform="translate(775.3 422.8) rotate(-45)" class="xl" text-anchor="end" textLength="39.2" lengthAdjust="spacingAndGlyphs">Congenital</text>
<text transform="translate(801.9 422.8) rotate(-45)" class="xl" text-anchor="end" textLength="44.2" lengthAdjust="spacingAndGlyphs">Lab findings</text>
<text transform="translate(843.8 422.8) rotate(-45)" class="xl" text-anchor="end" textLength="56.1" lengthAdjust="spacingAndGlyphs">Health services</text>
<text transform="translate(859.1 422.8) rotate(-45)" class="xl" text-anchor="end" textLength="26.9" lengthAdjust="spacingAndGlyphs">Special</text>
</g>
<g>
<text x="903.8" y="19.3" class="pl">(B)</text>
<text x="1103" y="33.7" class="tt" textLength="438.4" lengthAdjust="spacing">COBLL1 for Phenome-wide association study (UKB continuous traits)</text>
<text x="896.4" y="44.6" class="mp">Manhattan plot</text>
<path d="M884.6 58.3H1739.4" stroke="#e1e8ee" stroke-width="1.1"/>
<text x="925.7" y="75.8" class="yl" textLength="57.6" lengthAdjust="spacingAndGlyphs">-log10 (P-value)</text>
<path d="M1596.9 75.1h6.2l-3.1-4.8z" fill="none" stroke="#444" stroke-width="1.15"/>
<text x="1607.9" y="75.8" class="lg" textLength="48.5" lengthAdjust="spacingAndGlyphs">Effect size &gt; 0</text>
<path d="M1670.3 70.2h6.2l-3.1 4.8z" fill="none" stroke="#444" stroke-width="1.15"/>
<text x="1681.3" y="75.8" class="lg" textLength="48.5" lengthAdjust="spacingAndGlyphs">Effect size &lt; 0</text>
<text x="896.4" y="390.6" class="yt" textLength="5" lengthAdjust="spacingAndGlyphs">0</text>
<text x="896.4" y="360.5" class="yt" textLength="5" lengthAdjust="spacingAndGlyphs">2</text>
<text x="896.4" y="330.4" class="yt" textLength="5" lengthAdjust="spacingAndGlyphs">4</text>
<text x="896.4" y="300.4" class="yt" textLength="5" lengthAdjust="spacingAndGlyphs">6</text>
<text x="896.4" y="270.3" class="yt" textLength="5" lengthAdjust="spacingAndGlyphs">8</text>
<text x="896.4" y="240.2" class="yt" textLength="10" lengthAdjust="spacingAndGlyphs">10</text>
<text x="896.4" y="210.1" class="yt" textLength="10" lengthAdjust="spacingAndGlyphs">12</text>
<text x="896.4" y="180" class="yt" textLength="10" lengthAdjust="spacingAndGlyphs">14</text>
<text x="896.4" y="150" class="yt" textLength="10" lengthAdjust="spacingAndGlyphs">16</text>
<text x="896.4" y="119.9" class="yt" textLength="10" lengthAdjust="spacingAndGlyphs">18</text>
<text x="896.4" y="89.8" class="yt" textLength="10" lengthAdjust="spacingAndGlyphs">20</text>
<path d="M926.5 356.1H1723.2M926.5 326H1723.2M926.5 296H1723.2M926.5 265.9H1723.2M926.5 235.8H1723.2M926.5 205.7H1723.2M926.5 175.6H1723.2M926.5 145.6H1723.2M926.5 115.5H1723.2M926.5 85.4H1723.2M951.9 84.9V412.1M1097.6 84.9V412.1M1358.5 84.9V412.1M1368.1 84.9V414M1376.3 84.9V416.2M1384.5 84.9V418.9M1392.4 84.9V421.7M1485.5 84.9V423M1510.7 84.9V423M1528.5 84.9V423M1542.8 84.9V423M1552.3 84.9V424.4M1589.3 84.9V424.4M1599.4 84.9V425.2M1675.3 84.9V425.2" stroke="#dfe6ec" stroke-width="1" fill="none"/>
<rect x="927.5" y="265.9" width="795.7" height="30.1" fill="#f1fafb"/>
<path d="M951.9 265.9V296M1097.6 265.9V296M1358.5 265.9V296M1368.1 265.9V296M1376.3 265.9V296M1384.5 265.9V296M1392.4 265.9V296M1485.5 265.9V296M1510.7 265.9V296M1528.5 265.9V296M1542.8 265.9V296M1552.3 265.9V296M1589.3 265.9V296M1599.4 265.9V296M1675.3 265.9V296" stroke="#dde7ec" stroke-width="1" fill="none"/>
<path d="M1394.9 357.8L1393.9 355.3V350.7L1395.4 345L1396.9 348.9L1398.4 345.3L1399.9 348.2L1401.4 345.2L1402.9 348.1L1404.4 345.3L1405.9 348.8L1407.4 345.4L1408.9 347.8L1410.4 346.7L1411.9 347.7L1413.4 345.4L1414.9 349.3L1416.4 345.2L1417.9 347.5L1419.4 346.1L1420.9 348.8L1422.4 346.6L1423.9 348.2L1425.4 347L1426.9 349L1428.4 346.1L1429.9 347.6L1431.4 346.8L1432.9 348L1434.4 345.1L1435.9 348.7L1437.4 346.4L1438.9 348.9L1440.4 345.2L1441.9 349.3L1443.4 345.6L1444.9 349.1L1446.4 344.9L1447.9 348.3L1449.4 345.2L1450.9 348.4L1452.4 346.3L1453.9 348.7L1455.4 347L1456.9 349.2L1458.4 345.7L1459.9 348.8L1461.4 345.3L1462.9 348.2L1464.4 346.2L1465.9 348.8L1467.4 345.4L1468.9 348.2L1470.4 346.5L1471.9 348.8L1473.4 345.3L1474.9 347.6L1476.4 346.8L1477.9 348.6L1479.4 347.1L1480.9 348.1L1482.4 345.2L1483.9 349.2L1484 346.6V355.3L1483 357.7L1480.8 358.3L1478.6 357.6L1476.4 358.7L1474.2 357.6L1472 358.4L1469.8 357.7L1467.6 358.4L1465.4 357.7L1463.2 358.6L1461 357.7L1458.8 358.2L1456.6 357.8L1454.4 357.9L1452.2 357.8L1450 358.4L1447.8 357.6L1445.6 358.1L1443.4 357.6L1441.2 357.9L1439 357.7L1436.8 358.4L1434.6 357.8L1432.4 357.8L1430.2 357.6L1428 358.2L1425.8 357.7L1423.6 358.6L1421.4 357.6L1419.2 358L1417 357.7L1414.8 358.4L1412.6 357.5L1410.4 358.3L1408.2 357.6L1406 357.8L1403.8 357.8L1401.6 358.3L1399.4 357.6L1397.2 358L1395 357.7zM1513.2 357.8L1512.2 355.3V352.5L1513.7 349.9L1515.2 350.7L1516.7 349L1518.2 350.6L1519.7 349.4L1521.2 351.4L1522.7 349.3L1524.2 351.1L1525.7 349.2L1527 351.4V355.3L1526 357.6L1523.8 358.2L1521.6 357.7L1519.4 357.9L1517.2 357.8L1515 358.2zM1677.8 357.8L1676.8 355.3V353.4L1678.3 351.2L1679.8 352.7L1681.3 350.5L1682.8 352.1L1684.3 351.3L1685.8 352L1687.3 351.2L1688.8 351.9L1690.3 350.8L1691.8 352.6L1693.3 351L1694.8 352.2L1696.3 350.9L1697.8 352.1L1699.3 350.7L1700.8 352L1702.3 351.3L1703.8 352L1705.3 350.7L1706.8 352.3L1708.3 351.5L1709.8 352.5L1711.3 350.7L1712.8 352L1714.3 351.6L1715.8 352L1717.3 351.2L1718.8 352.1L1720.3 350.8L1721.8 352.3L1723.3 350.7L1724.8 352L1725.2 350.8V355.3L1724.2 357.6L1722 358.1L1719.8 357.6L1717.6 358L1715.4 357.6L1713.2 358.2L1711 357.7L1708.8 358.6L1706.6 357.6L1704.4 358.2L1702.2 357.5L1700 358.5L1697.8 357.6L1695.6 358.3L1693.4 357.6L1691.2 358.6L1689 357.7L1686.8 358.7L1684.6 357.7L1682.4 358.1L1680.2 357.6L1678 358.1z" fill="#c3e336"/>
<polyline class="uL" points="1027.8,320.8 1007.3,186.3 1090.2,304.1 962.8,340.8 979.8,341 962.4,308.2 1039.6,321.9 970.7,253.4 1064.4,343.5 1085.8,300.8 1055.8,219.6 1000.3,356 1041.8,349.8 1004.3,348.1 1034.9,319.6 1049,346.2 975.7,351.1 973.6,347.6 1063.5,355.7 1091.6,346.6 1010.1,328.5 973,338.4 1074.7,290.6 979.9,347.2 960.3,315.1 1064.7,333.3 1065.8,329.5 1059.2,355.4 1055.4,338 1004.6,315.3 964.2,339.8 1088.6,209.7 1068,352 990.7,351.4 1031,332 1085.6,348.1 1020.6,354.9 992.1,250.1 1052.6,353.5 1067.2,335.6 1049.5,337.3 975,352.7 1085.2,352.9 974.5,343.6 963.4,237.5 1040.7,345.8 1040.4,270.4 1087.1,313.2 986.7,340.3 1041,347.7 1049,348.8 990.1,336.3 1030.1,347.3 1090.7,349.3 1073.4,347.3 1071.5,341.2 1014.9,168.8 999.3,344 1021.7,353.8 1038.7,351.8 962,340.6 1051.9,341.5 998,337.8 1028,314.7 971.5,91.1 960.4,349.3 1024.3,352.8 1056.4,337.4 989.9,287.4 1053.5,155.1 1038.2,202.5 963.7,344.1 1027.2,298.8 1083.1,220.4 1063.4,333.9 993.7,329.7 1091.8,355.4 977,321.3 965.2,341.3 958.6,300.1 959.1,323 979.9,338.1 1086.2,331.4 1066.9,351.6 1004.3,212.4 1088,331 1055.7,339.9 1013.9,314.4 1045.3,337.4 1007.3,352.6 1060.4,324.6 1007,311 1081,312.1 1056,350.6 1047.6,340.1 1008,267.6 971,313.5 1056.6,337.9 1041.1,355.6 1056.3,352.4 1005.7,354.9 1054.1,345.5 1007,347.4 1033.7,267.8 1050.1,346.4 1039.8,275.1 1014.3,353.3 1010.8,324.4 958.3,289.6 1064.9,353.2 1079.6,353.5 1078.6,325.3 1080.4,340.6 1000.7,345.3 1015.9,124.8 1074.4,344 1049.2,348 1030.8,353.5 1040.2,256 1054,309.5 1066.2,333.7 1075,335.2 1013.4,330.3 1077,342.5 985.9,351.3 1043.3,354.8 993.3,299.6 1000.8,298.6 1007.5,314.9 969,300.3 1038.3,334.9 1060.7,336.3 989.7,329 990,316.8 1023.9,340.7 962.9,216.2 981.3,333 1055.8,347.9 1001.2,342.4 1035.5,339.7 1006.2,344.2 1089,313.8 1087.7,326.5 1010.8,308.3 1059.6,347.4 1010.4,107.1 989.2,309.9 1014.6,349.1 992,354.6 1033.9,346.5 1027.9,338 1082.3,339.1 959.5,327.8 1066.1,346.1 1089.4,145.9 1090.4,165.2 1088.5,325.4 1014,352 1057.8,313 999.3,299.5 1092.3,353.8 1025.1,324.9 992.3,356 1078.4,351.5 1061.9,342.4 1005.6,315.4 996.3,100.2 965,262.6 1036.4,341.5 965.5,343.8 1000.7,333.4 973.5,353.7 986.2,346.5 956.5,314.8 979.1,350.2 1039.9,336 988.1,355 961,148.7 1029.9,327.4 1000.9,85.4 1066.9,347.9 959.4,252.7 1075.5,331.3 1017.5,346.8 1081.1,332.2 1079.4,319.3 958.4,338.3 998.8,349.6 1026.8,342.5 1088.9,345.3 1021,349.1 996.4,349.6 1007.6,341.9 1011.6,154.7 981.2,336.4 1051.2,349.5 1008.2,335.9 1002.4,313 1053.6,353.6 1011.6,312.3 1055.5,287.4 1084.9,304.7 1047.8,288 983.6,350.4 981.9,319.2 1044.7,347.3 1069.4,341.8 1092.6,339.2 974.6,343.5 995,350 994.6,244.4 1028.2,349.5 1059.5,85.4 971.6,328.4 1062.2,354.7 1040,355.8 1001.7,140.5 991.1,193.1 965.3,335.8 1054.6,320.2 1028.1,284.3 957.6,324.3 1003.4,331.4 1047.5,333.3 1007.8,344.9 1047.8,264.3 1015.2,308.6 961.4,351.1 1045,282.3 1043.5,223.5 968.1,343.9 1059.9,213.6 1087.9,326 1010,352 1090.8,352.3 1028.9,349.5 1023.9,340.5 1071.3,333.5 1074,339.9 1015,352.9 1002.4,354 966,344.8 974.4,348.4 1043.4,304.5 1062.6,336.3 1032.8,280.7 1055.8,326 998.3,355.9 1062.4,328.6 1021.8,334.1 975,340.8 1004.2,151.4 1001.8,309.7 991.8,335.4 974.9,298.8 1008,345.4 1040.5,339.7 1060.9,342.1 961.2,330 1080.4,316.9 1090.5,355.9 1009.6,251.1 995.3,324.2 1061.5,346.8 1056.9,350.3 1038.1,285.5 964,325.2 1020.6,339.5 996.9,352.8 1085.6,331.5 1006.7,271.7 1006.7,287 996.6,319.7 1081.6,347.2 1022.2,351.7 1082.4,300.3 968.9,347.6 1053.1,347.1 1029.7,343.1 980.7,347 964.8,288.7 1364,354.6 1363.9,349.1 1364.4,354.4 1364.5,354.7 1402.6,345.2 1455,344.2 1470.1,347.9 1435,348.9 1474.5,347.8 1412.5,347.9 1441.1,348.4 1470.5,339.1 1478.6,346.6 1398.3,349.8 1469.2,347.8 1441.1,346 1403.7,346.8 1461.5,346 1474,342.5 1422.4,337.8 1472.3,345.1 1463.3,346.6 1480,346.8 1410.6,346.7 1401.4,346.1 1433.2,348 1413.7,347.9 1454.3,345.6 1407,339.2 1438.9,345.7 1397.4,344.3 1435.2,348.8 1459.5,350 1418.8,343.9 1428.5,342.3 1466.4,349.2 1432.1,349.3 1444.2,338.3 1433.8,348.9 1450.1,337.5 1434.8,350.3 1460,346.5 1470.9,349.4 1412.4,346.4 1472.4,347.4 1410.9,345.7 1477.9,343.4 1473.4,333 1458.4,344.8 1436.5,330.5 1404,340.3 1401.3,348.8 1411.3,347.4 1423.2,349.6 1454.3,349.1 1416,338.3 1475.5,349.3 1476.8,331.1 1424.4,350.3 1474.9,334.4 1410.7,349.5 1474.6,347.2 1443.5,346.6 1417.8,340.2 1477.4,340.1 1410.4,349.6 1399.3,348.6 1402.1,350 1435.7,349.5 1466.4,341.1 1453,347.8 1440.4,341.1 1420.7,347.2 1407.4,349.6 1400.1,347.9 1404.8,344.3 1425,342.8 1399.4,347 1411.4,343.4 1439.4,339.6 1404.7,344.6 1414,346.6 1456.7,348.2 1412.8,349.8 1444.3,345.4 1461.3,334.2 1477.8,349.2 1432.3,350.2 1415.6,347.4 1445.5,348.3 1414.2,348.8 1404.9,348.9 1446.1,347.1 1457.1,345.8 1444.3,316.1 1480.2,349.9 1438.1,344.5 1453.6,336.5 1446.6,349.1 1402.5,348.9 1480.8,346.9 1435.8,344.8 1404,348.2 1474.8,334.2 1456.9,349.3 1415.7,343 1422.6,344.9 1422.6,346 1465.8,349.2 1441.9,349.1 1429.3,347.5 1477.9,345.5 1403.2,350.1 1475.3,335.9 1407,346.9 1458.9,349.1 1463.5,347.1 1406.9,346.7 1422.9,347.3 1422.2,349.4 1471.5,347.6 1445.9,346.1 1452.1,342.7 1413,348 1479.4,344.8 1471.3,346.7 1407,335.7 1445.8,346.1 1463.1,348.3 1432.1,348 1403.2,334.9 1474.1,335.3 1472.3,346.3 1459.2,341.1 1476.1,346.2 1456.1,344 1470.2,348.6 1463.6,346.7 1448.9,350.3 1433.8,346.3 1451,349.1 1472.3,350.1 1459.5,350.2 1472,343.5 1427.7,345.1 1479.1,349.1 1474.9,349.2 1412.4,345.9 1399.4,350.3 1520.4,352.3 1518.4,341.7 1523,352.7 1517,346.9 1519.8,351.8 1518.3,350.4 1523.1,351.5 1516.8,351.9 1520,346.8 1522.8,347.4 1517.4,338.5 1522.1,345.6 1518.4,349.7 1522.2,346.9 1520.6,346.6 1520.2,338.3 1517.1,336.5 1523.4,348.1 1522.7,351.5 1523.5,352.3 1517.1,353 1523.2,346.5 1519.1,349.3 1519.6,352 1519.7,349.3 1548.4,351.5 1547,355.2 1547.4,354.8 1547,353.7 1548.3,352.2 1594.2,354.8 1595.3,354.9 1594.1,354.5 1593.5,351.3 1595.3,354.5 1594.5,333.9 1592.9,352.3 1595.6,352.2 1692.6,319.6 1705.5,333.3 1698.2,341.7 1684.7,347.4 1700.3,343.9 1707.6,345.2 1703.5,342.3 1721.1,352.7 1712.5,354.8 1684.8,342.4 1690.1,344.1 1692.7,338.9 1705.9,343.6 1699.2,350.6 1693.8,354.9 1717.5,326.4 1708,349.9 1716.7,299.9 1721,337.1 1686.2,313.5 1705.1,350.5 1681.4,342 1719.2,345.8 1689.8,336.7 1697.9,342.3 1691.4,225.3 1684.1,348.5 1688.2,353.7 1684.3,352.8 1694.4,350.8 1687.4,347.6 1703.7,349.1 1721.4,348.3 1719.6,353.3 1688.2,347.5 1721.2,351.2 1691.1,354.7 1699.4,352.4 1718.6,342.8 1690.9,354.8 1710.2,350 1712,272 1692.3,353.5 1720.6,347.9 1700,350.9 1702.7,314.5 1722,339.5 1697,343.4 1717,326.4 1710.1,341.5 1700.9,283.8 1684.4,249 1713.1,115.9 1720.9,352.3 1689.2,344.7 1713.3,350.2 1690.3,327.8 1719.5,213.9 1708.9,348 1696.2,335.8 1703,350.8 1688,341.9 1721.7,351.8 1703.7,354.8 1688.2,351 1719.3,342.1 1686.2,354.7 1688.6,342.1 1713.7,349.8 1718.3,346 1707.8,354.2 1707.5,310.2 1688.4,339.1 1717.7,334.5 1716.3,323.8 1680.2,234.5 1705.7,338.3 1721.1,337.4 1702.8,253.7 1701.4,272.8 1685,341.2 1721.9,337.4 1708.9,349.1 1719.3,348.7 1689.1,349.7 1712.7,344.8 1689.6,293.4 1705.6,345.7 1722.1,320 1711.8,346.8 1707.4,286.8 1693.8,346.2 1702.7,350.7 1721,179.3 1700.6,353 1690.2,320.7 1680.9,353.1 1697.2,349.2 1702.7,343.4 1703.6,354.6 1681.6,352.1 1701.2,341.5 1711.5,352.7 1704.8,344 1697.8,222.7 1702.2,271 1681.6,351.7 1699.8,332.7 1719.1,354.2 1694,336.7 1680,353.3 1695,351.7 1680.6,349.5 1694.9,354 1704.1,232.4 1720.2,345.3 1701.6,352.5 1680.2,354.6 1685.8,255.3 1717.3,87.8 1720.8,349 1715.2,347.7 1701,346.7 1718.7,354.6 1679.9,343.9 1706.3,298.2 1683.7,346.4 1697.9,342.4 1680.4,349.6 1687.6,230.9 1720.9,339.8 1703.7,354.3 1681.7,343.8 1684.7,327.9 1712,353.1 1687,325.5 1683.9,342.9 1682.7,337.2 1687.6,340.1 1721.1,287 1696.7,343.5 1717.6,354.6 1693.2,350.7 1684.4,337.7 1696.5,328.8 1680.3,344.8 1708.2,353.8 1717.5,349.6 1714.2,352.8 1713,316.3 1713.6,273.6 1689.8,335.5 1683.6,293.5 1685.9,351.4 1710,341 1695.3,346 1703.6,329.9 1684.9,334.8 1679.9,353 1702.9,347.4 1719.8,349.9 1713.6,290.6 1684.6,85.4 1693.2,352.9 1688.1,334.8 1715,352.9 1719.4,207.9 1704.3,344.9 1686.2,347.9 1685,353 1689.2,344.7 1716.9,351.9 1683.5,351.1 1696.4,345.5 1719.8,354.1 1718.3,349.2 1710.2,352.8 1705.1,342.5 1698,234.5 1699.9,221 1704.9,351.1 1705.2,85.4 1682.9,346.1 1686.1,294.7 1690.5,343.6 1705.5,90.2 1692.9,350 1707.1,335.4 1706,353.4 1682.4,339.3 1716.9,335.5 1721,342.7 1691.2,348.7 1721.5,332.5 1693.6,350.8 1688.5,348.4 1715.6,332.4 1679.8,334.2 1699,352 1682.2,350.1 1718.2,348.6 1685.9,350.2 1714.4,341.3 1685.3,353.9 1691.1,316.8 1719,85.4 1719.3,85.6"/>
<polyline class="dL" points="1089.9,289.4 995.3,314.9 1001.7,257.3 1015.3,324.4 1070.7,339 1062.7,355.1 974.7,356.1 1020.6,345.7 990.5,254.5 1015.8,341.1 1009.3,332.8 1091.3,347 1068.9,349 1070.1,346 1003.8,352.2 1042.6,350.8 1059.2,308.5 972.5,335.5 975.1,338.3 1016.2,350.1 1034.1,322.5 966.7,345.2 1011.5,312.8 1007.7,346 991.8,349.5 961.9,347.9 1083.5,230.7 991.1,257 978.7,350.9 977.6,325 1024.3,343.5 1022,324.2 1020.1,355.8 957.8,316.8 1077.1,247.6 1012.2,353.1 971.1,211.5 1072.6,307.9 1008.1,85.4 983.2,353.2 994.2,264.3 1033.4,337 1090.1,337.4 1076.2,340.8 1010.6,353.6 1029.5,351.8 968.1,296 958.8,327.9 1015.9,334.7 1076.8,318.7 1032.3,346.3 1051.1,329.4 998.2,349.6 1074.6,222.4 1009.2,332.6 1038.2,352 1072.3,355.2 991.9,349.4 1075.3,335 1024.7,354.6 969.7,308.2 998.3,200.2 1067.4,350.6 967.1,345.3 987,349.1 1051.8,300.4 1006.6,331 1011,281.2 997.1,265.7 963.8,297.6 1052.3,220.8 1071.7,344.4 995.3,327.4 1001.3,235.1 989.3,250.7 1091.6,292.8 1016.5,328.2 1058.1,312.6 1050,324.6 1077.7,339.2 1003.6,324.9 981.5,343.6 991.6,352.5 1061.3,338.3 1092.2,353 1076.1,355.7 998,310.1 1003.7,353.6 1011.5,294.1 997.6,341.7 1089.1,345.7 994.3,330.6 960.9,346.2 1089.4,343.6 1026.9,355.4 1071.8,352.7 958.9,329.7 984.3,323.7 1076.1,338.3 1000.7,354.2 1048.1,351.7 1035.5,315.1 1026.4,353.4 1068,348.6 1080.2,332.4 1058.6,340.6 1071.3,355 1068.4,348.2 1046.2,351.9 998.4,340.8 1087.9,179.2 1085.7,298.2 1037,352 1067.6,337.8 1019.7,354.4 994.5,350.4 1039,327 1049.3,291.9 964.3,333.8 1092.1,189.3 973.6,298 997.1,343.2 1085.8,351.8 1030,350.5 1009.8,236 992.7,346.5 1073.6,317.4 994.2,281.6 1075.8,306.4 1059.8,354.6 981.2,341.9 1003.4,352.6 1005,349.6 992.5,299.7 1024.9,295.2 964.6,349.4 1056.9,316 1089.5,336.7 1086.9,311.8 1056.4,293.9 1020.3,303.5 1046.9,353.2 967.5,338.6 1027.3,348.1 1077.4,347 989.6,338.1 998.1,85.4 1026.9,351.2 1081.5,95.5 1002,307 1087.3,338.5 994.2,266.6 1004.6,102.3 1077.4,268 1085.2,277.8 1078.8,85.4 1004.7,85.5 990.8,352.4 1032.8,355 971.3,342.7 1035.3,251.3 1079.2,307.5 969.7,324.1 1023.9,322.6 1003.1,338.3 1010.7,345 1080.4,223.1 989.3,348.4 1059.9,320.7 981.3,342.7 1036.6,345.7 973,308.9 980.9,327.1 1018.8,330.2 1080.7,125.5 983.3,347.6 982.7,321.7 1079.6,275.1 996.2,247.7 1056.1,349.6 1011.5,332.4 970.8,125 1087,331.4 993.1,355.3 968.8,338.3 983.8,348.8 1073.7,347.7 991,262.3 1076.5,312.1 996.2,256.8 1093.2,182.1 1082.1,272 1076.2,329.7 1021.1,259.3 1015.5,352.2 1019.1,264 1023.3,329.4 1018.6,355.7 968.8,317.9 1038.5,353.5 958.3,303.6 1033.2,306.6 979.8,349.1 1002.1,319.4 1072.3,355.3 1081.7,218.7 1049.7,330.9 966.8,341.4 1055.4,349.4 1067.2,353 1083.7,275.3 970.7,340.1 960.7,335.8 1054.3,355.6 1007.4,316.1 998.8,85.4 1077.7,85.4 1035.4,341.6 1005.7,322.5 1009.4,259.7 1007.3,245.6 1081.7,236.7 1090.7,310.1 1068.1,344.2 993.7,325.5 999.8,355.5 969.6,321.8 1063.4,352.6 1007.6,351.5 1020,354.5 999.3,348.4 1018.7,272.4 1003.6,349.3 1000.3,328.7 984.2,351.7 1019.5,337.3 1026.2,348.2 1055.9,352.1 1000.3,353.7 991.3,356 1040.1,355.1 1029.4,330.3 986.7,320.6 1062.9,351.1 958.9,85.4 1012.3,351.9 1006.5,353.5 1002.4,317.9 991.7,354.8 1031.5,345.1 996.8,317.7 1014.9,149.1 993.4,342 962.1,346.2 1000.6,150 956.9,327.6 982.6,352.5 1012.4,262.1 959.4,318.9 1043.8,348.6 1090.3,119.7 1081.5,337.5 1055.3,353.1 1060.4,321 969,336.8 1086,320.7 1004.5,326.5 996.6,347.9 1037.4,355.2 1019.3,323.2 1049.2,332.6 1005.9,313.4 970.6,298.1 991.5,312.3 961.6,303.8 1027.3,321.8 996.4,291.2 1077.2,286.1 1016.1,345.2 1060.6,333.4 1077.9,192.8 994.5,220.4 966.7,353.9 1090.3,349.4 1040.8,300.8 967.9,351.1 1025.8,354.5 1085.8,318.3 1080,337.5 1077.1,187.3 969.5,355.5 1004.5,280.2 1066.7,345.1 976.1,331.5 1076.5,355.6 1057.8,334.1 1067.8,343.5 1001.7,187 966.4,204.4 1008.8,349.4 1014.6,343.1 1012,355.7 1061.8,331.6 1061.2,328.6 1083.1,303.2 1016.8,324.4 1034.4,320.5 974.9,85.4 959.9,332 1013.5,333 1064,350.2 1079.1,353.9 1068.8,332.6 961.3,258.2 1063.5,333.6 1083.6,335.6 1019,259.7 1057.7,351.8 975.1,351.8 1039.1,338.3 1090.5,331.4 959,334.3 1039.3,125.5 1029.4,337.7 1089.5,348.4 1033.7,347.4 1088.8,330.3 1010.2,323.8 987.2,330.8 1007.1,354.3 971.6,328.8 997.1,349.9 1045.8,246.3 1091.2,350.9 1038.3,348.8 986.8,355.8 1090.5,321.1 1048.5,341.9 990,311.1 1009.3,284 991,325.1 963.4,343.2 998,343.6 1014.2,216.5 1079.2,351.5 1076.7,202.9 1067.3,321.9 994.1,317.5 1076,249.3 1008,328.5 968,270.2 1012.9,329.4 1067.6,347.6 1078.6,331.1 1081.9,345.5 1072.7,351.1 967.8,236 1072.2,353.8 1036.7,353.9 999.5,349.1 1022.1,356.1 990.3,277.8 1017.9,336.1 1071.8,355.1 994.1,278.9 996.8,113.3 964.6,351.4 1002.2,238.6 1067.7,325.2 994.3,345.7 999.7,85.4 973.5,337.7 966,257.4 1070.1,351.5 977.7,342.2 1052.4,323 963.4,213.5 1089.3,351.8 1080.5,226.4 1072.8,337.7 965.6,284.3 1003.4,325.3 1011.2,354.8 988.3,336.4 973.7,340.9 1028.5,332.5 956.6,336 966.1,323.6 961.6,352 959.1,333.9 972.8,343.1 1007.2,351.4 1037.3,322.6 1015,225.6 967.7,352.1 1005.4,355.5 975,341 1049.3,335.8 965.2,337.2 1008.2,85.4 1032.7,336.9 1036,175.1 1071.5,352.2 1034.5,354.9 1002,235.6 1013.5,262.3 959.4,345 1091.8,352.9 1088.8,292.9 1037.1,329.6 968.1,298.1 1084.4,341.1 971,85.4 959.5,350.8 1040.9,248.6 1001.4,319.2 1089,355.3 1051.6,319 1062.3,324.4 1052.2,336.9 1079.2,349.3 1015.4,339.7 1062.2,325.1 1023.3,344.6 1067.8,321.4 1014.4,337.3 1084.5,85.4 1030.2,336.9 978,354.7 1083.1,312.3 975.8,344.6 959.7,271.1 970.7,306.2 1000.6,345.7 1023.3,343.7 983.3,343.6 1084.4,349.9 1065.7,330.7 1087.5,343.8 985.3,354.4 985.7,333.2 1013.1,319.9 1067.7,326.4 965,147.6 1086.5,355.2 992.5,337 1000.3,351.3 958.7,341.2 995.7,85.4 1065.7,352 1053.9,303.9 1002.6,229.8 1015.1,299.2 994.7,349.2 999.2,264.3 1040,329.9 1053.9,215.6 1081.8,189.7 1037.5,332.1 1088.6,294.1 1082.4,181.9 1076.8,265.6 1021.4,348.5 983.8,356 1078.6,259.6 998.9,85.4 1001.6,349 1043.1,178.8 1051.4,353.2 1025.2,339.4 985.9,337.3 998.2,341.4 1004.8,222.7 1001.2,309.6 1004.5,176.7 1053,342.1 1070.3,349.5 968.1,330.5 990.7,259.2 1086.1,218.5 1008.1,181.2 972.3,353.7 1041.4,247.7 1049.6,326.2 1020.9,220.7 1079.4,300.5 1051.2,354.6 1013.7,328.2 1036.3,347.1 1047.9,327.6 1007.6,232.8 1072.9,340.9 1035.8,279.6 993.5,293.6 1058.1,271.7 998.7,277 1039,326.3 1010.2,355.2 1033.1,338 1066.3,348.7 1082.8,351.5 1010.4,347.4 997.1,341.4 961.4,327.6 997.6,355.1 1074.4,352.2 1075.6,231.6 1011.4,347.6 1051.6,330.2 963.3,351.2 989.9,332.4 999.9,332.2 1018.8,354.2 970.1,281.7 1045.4,353.5 1003.3,329.7 1000,220.7 973.6,315.5 1051.9,338.7 1089.1,299.6 1033.5,314.1 989.5,331.4 970.3,316.4 961.9,312.3 963.9,354.7 1026.8,302 1027.1,328.4 1092.7,344 966.6,300.4 1088.8,350.4 1075.5,335.2 966.1,356.1 999.5,333 1037.2,351.7 1021.3,328.4 1024.9,342.8 998.9,85.4 1028.5,342.2 1041.4,206.6 1048.2,349.2 993.2,180.1 1001.3,311.4 985.3,355 1010.1,342.3 1091.7,289.4 1082.8,297.7 967.9,348.3 971.1,276.6 1086.3,283.6 998.2,85.4 1005.6,344.5 966.6,236.6 1051.6,352.3 958,269.7 957,337.1 999.4,352.7 1049.1,221.3 1050.1,318.6 957.2,316.7 1047.7,268 983.3,348.5 1084.1,281.7 1013,274.6 1015.9,349.9 1081.7,337.3 969.8,345.9 1057.8,355.9 1050.1,352.3 1056.4,352.3 992.5,354.7 1088.7,309.1 1019,335 979,350.4 964.3,348.5 1074.1,258.3 1079.4,85.4 1087,109.6 1036.7,312.8 982.5,336.4 978.8,332.5 996.4,353.2 1016.8,350.3 992.4,341.3 1001.3,220 1069.2,354.4 958.5,247.7 1004.3,289.4 1077,333.3 993.3,351.3 1075.7,344.8 1076.7,271.2 962.1,331.2 1009.8,336.2 983.3,350.3 1082.1,262.6 1057.2,268.8 1072.1,328.6 968.5,348.5 993.1,258.4 1089.4,354.1 1081.5,174.8 996.8,354.1 973,251 1057.7,355.6 1036.4,341.4 1044,337.9 1035.3,355.7 1065.9,345.1 994.3,340.4 1054.5,224.7 1091.9,310.9 1002.1,271.3 971.5,332.6 1015.1,354.6 966.9,210.3 961.7,351.2 993.2,307.1 1048.2,232.7 987.3,355.9 1084.8,352.3 1021.9,355.6 1000.9,85.7 1007.9,85.7 1010.1,85.7 1002.2,85.7 1011,85.7 999.6,85.7 999.7,85.7 1001.2,85.7 1002.3,85.7 1002.4,85.7 1005.8,85.7 999.6,85.7 1001.8,85.7 1011.6,85.7 1007.5,85.7 1007.3,85.7 1009.7,85.7 996.3,85.7 1001.2,85.7 996.5,85.7 957.5,85.7 961.8,85.7 982.4,85.7 979.6,85.7 980.3,85.7 1363,354.7 1363.4,355.4 1364.5,355.8 1363,355.9 1380.4,354.6 1453.9,346 1480,343.2 1455.8,342.8 1480.7,346.7 1430.1,349.3 1472.8,347.9 1438.1,343.7 1403.1,346.4 1415.6,346.2 1424,336.8 1415.8,346.3 1463.9,343.2 1400.3,347 1480.7,350.2 1402.1,350 1455.2,346.3 1414.3,345.3 1462.2,340.7 1447.5,345.7 1451.5,343.9 1467.4,337.3 1448.5,344.4 1458.8,346.6 1470.5,349.1 1463.8,339.7 1403.8,346.6 1444.7,350.2 1421.4,348 1398.3,343 1458.2,343.4 1400.8,348.9 1435,349.2 1460.6,349 1410.1,346.3 1413.7,349.2 1428.9,343.3 1472.6,344.8 1428.5,349.6 1433.8,350.1 1416.8,348.1 1417.9,342 1471.8,349.9 1441.5,338.4 1429,347.5 1427.4,348.8 1404.1,342.1 1461.7,346.2 1410.6,348.7 1470.2,349.3 1415.8,333.5 1447.3,347.3 1400.8,345.9 1450,345.8 1456.4,349.4 1413.4,350.3 1477.8,341 1447.4,349.9 1474.1,350 1409.6,350.1 1428.6,347.3 1434.8,346.8 1423.8,349 1423.4,350.2 1400.1,346.2 1521.8,344.8 1520.8,339 1516.3,348.7 1546.6,345.3 1548.4,346.3 1546.3,345.2 1593.9,350.9 1695.6,344.7 1718.4,351.2 1707.7,348.9 1689.3,349.4 1687.4,105.8 1716.1,350.7 1699.3,340.3 1690.6,340.6 1708.4,330.5 1687.9,348.3 1710.5,351.1 1704.1,328.6 1681.2,353.4 1710.9,347.7 1680.5,350.8 1684,332.7 1685,347.5 1688.5,350.8 1683.2,354.9 1697.3,353.2 1707.8,324.1 1685,312.2 1694.4,351.4 1684.4,343 1683.9,328.3 1698.1,334.2 1719.3,349.3 1689.2,203.4 1696.7,212.7 1682.1,339.5 1699.9,219.3 1701.9,333"/>
<path d="M1100.1 357.8L1099.1 355.3V351.2L1100.6 346.7L1102.1 349.4L1103.6 346.1L1105.1 349.2L1106.6 346L1108.1 349.7L1109.6 347L1111.1 349.3L1112.6 347.3L1114.1 348.6L1115.6 345.9L1117.1 349.1L1118.6 347.6L1120.1 349.8L1121.6 346.4L1123.1 349L1124.6 346.6L1126.1 349.5L1127.6 346.2L1129.1 348.3L1130.6 346L1132.1 349.8L1133.6 346.3L1135.1 349.3L1136.6 346.3L1138.1 349.6L1139.6 347.7L1141.1 349.3L1142.6 345.8L1144.1 348.7L1145.6 346.2L1147.1 349.5L1148.6 346.2L1150.1 349.7L1151.6 347.7L1153.1 349.5L1154.6 346.9L1156.1 349.1L1157.6 346.1L1159.1 349.1L1160.6 346.4L1162.1 349.4L1163.6 347.4L1165.1 349.1L1166.6 346.4L1168.1 349.9L1169.6 347.4L1171.1 349.5L1172.6 345.9L1174.1 348.5L1175.6 346.9L1177.1 349.2L1178.6 346.7L1180.1 349.5L1181.6 345.9L1183.1 348.6L1184.6 346.2L1186.1 348.5L1187.6 347.1L1189.1 349.9L1190.6 346.9L1192.1 348.6L1193.6 347.3L1195.1 348.9L1196.6 345.8L1198.1 349.4L1199.6 347.8L1201.1 349.3L1202.6 347.5L1204.1 349L1205.6 347.1L1207.1 348.8L1208.6 346.7L1210.1 349.8L1211.6 346.3L1213.1 349.7L1214.6 346L1216.1 348.8L1217.6 347.7L1219.1 349.8L1220.6 346.9L1222.1 348.7L1223.6 346.6L1225.1 349.7L1226.6 347.1L1228.1 348.9L1229.6 347L1231.1 349.7L1232.6 347.1L1234.1 348.4L1235.6 347.8L1237.1 348.4L1238.6 347.6L1240.1 349.8L1241.6 347.6L1243.1 348.8L1244.6 347.4L1246.1 349.9L1247.6 347L1249.1 348.4L1250.6 347.5L1252.1 348.5L1253.6 346.1L1255.1 349.6L1256.6 347.2L1258.1 349L1259.6 346.3L1261.1 349L1262.6 346.3L1264.1 349L1265.6 347.3L1267.1 349.7L1268.6 346.8L1270.1 349.1L1271.6 346.6L1273.1 349.1L1274.6 346.9L1276.1 349.6L1277.6 346.5L1279.1 349.8L1280.6 347.4L1282.1 349.8L1283.6 346.1L1285.1 349.3L1286.6 347.6L1288.1 349.7L1289.6 346.4L1291.1 349.4L1292.6 346.1L1294.1 349.9L1295.6 347.3L1297.1 349.7L1298.6 346.6L1300.1 349.6L1301.6 347.1L1303.1 349.4L1304.6 347.6L1306.1 349.1L1307.6 346.7L1309.1 349.2L1310.6 346.3L1312.1 348.4L1313.6 346.9L1315.1 349.6L1316.6 347.8L1318.1 348.7L1319.6 347.1L1321.1 348.8L1322.6 347.3L1324.1 349.1L1325.6 346.8L1327.1 348.7L1328.6 346.2L1330.1 349.4L1331.6 346.8L1333.1 349.4L1334.6 347.2L1336.1 349.4L1337.6 346.1L1339.1 349.2L1340.6 346.5L1342.1 349.7L1343.6 347.1L1345.1 348.3L1346.6 347.1L1348.1 349.8L1349.6 346.4L1351.1 348.6L1352.6 345.9L1354.1 349.1L1355.6 347.7L1357 349.9V355.3L1356 357.6L1353.8 358L1351.6 357.6L1349.4 358.1L1347.2 357.5L1345 358.7L1342.8 357.6L1340.6 358.2L1338.4 357.8L1336.2 358.4L1334 357.7L1331.8 358.5L1329.6 357.6L1327.4 358.3L1325.2 357.7L1323 358.4L1320.8 357.7L1318.6 358.4L1316.4 357.7L1314.2 357.9L1312 357.6L1309.8 358L1307.6 357.7L1305.4 358L1303.2 357.7L1301 358.3L1298.8 357.8L1296.6 358.5L1294.4 357.8L1292.2 358.3L1290 357.6L1287.8 358.1L1285.6 357.6L1283.4 358L1281.2 357.7L1279 358.2L1276.8 357.6L1274.6 358.3L1272.4 357.7L1270.2 358.6L1268 357.6L1265.8 358.5L1263.6 357.6L1261.4 358L1259.2 357.5L1257 358.3L1254.8 357.7L1252.6 358.6L1250.4 357.6L1248.2 358L1246 357.6L1243.8 358.2L1241.6 357.7L1239.4 358.2L1237.2 357.6L1235 358.2L1232.8 357.6L1230.6 358.4L1228.4 357.6L1226.2 358.6L1224 357.6L1221.8 358.2L1219.6 357.6L1217.4 358.7L1215.2 357.6L1213 358.6L1210.8 357.7L1208.6 358.2L1206.4 357.6L1204.2 357.9L1202 357.7L1199.8 358L1197.6 357.5L1195.4 357.8L1193.2 357.5L1191 358.6L1188.8 357.6L1186.6 358.6L1184.4 357.8L1182.2 358L1180 357.7L1177.8 358.3L1175.6 357.8L1173.4 358.6L1171.2 357.6L1169 358.2L1166.8 357.7L1164.6 358.2L1162.4 357.5L1160.2 357.9L1158 357.6L1155.8 357.9L1153.6 357.7L1151.4 358.1L1149.2 357.7L1147 358.5L1144.8 357.6L1142.6 358.5L1140.4 357.7L1138.2 358.2L1136 357.6L1133.8 358.7L1131.6 357.7L1129.4 358.6L1127.2 357.7L1125 358.3L1122.8 357.6L1120.6 357.9L1118.4 357.6L1116.2 357.8L1114 357.6L1111.8 358.6L1109.6 357.6L1107.4 358.4L1105.2 357.7L1103 358.2L1100.8 357.5zM1488 357.8L1487 355.3V352.5L1488.5 349.7L1490 350.4L1491.5 348.8L1493 351.3L1494.5 349.4L1496 350.8L1497.5 349.8L1499 350.6L1500.5 349.9L1502 351L1503.5 349.9L1505 351.3L1506.5 349.9L1508 350.5L1509.2 349.2V355.3L1508.2 357.6L1506 358.4L1503.8 357.6L1501.6 358.6L1499.4 357.8L1497.2 358L1495 357.7L1492.8 358.1L1490.6 357.6L1488.4 358.5zM1531 357.8L1530 355.3V353L1531.5 350L1533 351.1L1534.5 350.3L1536 351.9L1537.5 350.3L1539 351.1L1540.5 350.3L1541.3 351.2V355.3L1540.3 357.6L1538.1 357.9L1535.9 357.6L1533.7 358.5L1531.5 357.5zM1554.8 357.8L1553.8 355.3V352.3L1555.3 349.5L1556.8 350.6L1558.3 349.2L1559.8 350.7L1561.3 348.6L1562.8 350.4L1564.3 348.6L1565.8 350.7L1567.3 348.6L1568.8 350.3L1570.3 349.3L1571.8 350.2L1573.3 349.3L1574.8 351.1L1576.3 348.8L1577.8 350.4L1579.3 349.3L1580.8 350.2L1582.3 349.7L1583.8 350.4L1585.3 349.2L1586.8 350.8L1587.8 349.4V355.3L1586.8 357.7L1584.6 358.3L1582.4 357.6L1580.2 358.5L1578 357.8L1575.8 358.3L1573.6 357.6L1571.4 358.6L1569.2 357.6L1567 358L1564.8 357.5L1562.6 358.4L1560.4 357.8L1558.2 358.4L1556 357.6zM1601.9 357.8L1600.9 355.3V353.4L1602.4 351.3L1603.9 352.2L1605.4 351.3L1606.9 352.1L1608.4 350.6L1609.9 352.4L1611.4 351.1L1612.9 352.5L1614.4 351.2L1615.9 352.5L1617.4 350.5L1618.9 351.9L1620.4 351.5L1621.9 352.1L1623.4 350.8L1624.9 352.3L1626.4 350.9L1627.9 352.5L1629.4 351.6L1630.9 352.7L1632.4 350.9L1633.9 352.5L1635.4 351.1L1636.9 351.9L1638.4 350.6L1639.9 352.1L1641.4 350.8L1642.9 352.6L1644.4 351.5L1645.9 352.2L1647.4 351.5L1648.9 352.5L1650.4 351.4L1651.9 352.5L1653.4 351.5L1654.9 352.3L1656.4 351L1657.9 351.9L1659.4 351.5L1660.9 352L1662.4 350.6L1663.9 352.2L1665.4 350.9L1666.9 352.3L1668.4 351.6L1669.9 352.1L1671.4 351L1672.9 352.1L1673.8 351.6V355.3L1672.8 357.7L1670.6 358.1L1668.4 357.6L1666.2 357.9L1664 357.7L1661.8 358.4L1659.6 357.6L1657.4 357.9L1655.2 357.5L1653 358.2L1650.8 357.8L1648.6 358.5L1646.4 357.7L1644.2 358L1642 357.8L1639.8 358L1637.6 357.6L1635.4 358.3L1633.2 357.8L1631 358.7L1628.8 357.7L1626.6 358.3L1624.4 357.7L1622.2 357.9L1620 357.8L1617.8 358.5L1615.6 357.6L1613.4 358.1L1611.2 357.6L1609 358.3L1606.8 357.8L1604.6 358.1L1602.4 357.6z" fill="#8a1b61"/>
<polyline class="uP" points="1102.2,346.4 1230,338.4 1159.1,349.6 1177.1,350.4 1120.4,344.9 1121,351 1194.7,348.6 1153,348.5 1292.9,349.8 1178.5,346 1197.4,351 1124.6,305.7 1168.8,312.3 1308.9,345.1 1298.6,350.6 1233.7,347.8 1175,345.2 1114.7,344.7 1315.8,350.7 1335.3,348.9 1240.4,349.9 1258.7,350.9 1288.2,336.6 1245.9,344.8 1239,336.1 1159.6,346.3 1116.4,338 1302.9,345.7 1136.1,341 1111,349.7 1345,337.5 1105.5,314.7 1285.1,348.2 1166.4,347.3 1124.2,345.5 1329.1,351 1156.8,347.1 1240,333.7 1340.4,338.7 1287.1,338.9 1182.9,347.5 1201.3,348.8 1130.3,345.2 1153.1,343.5 1199.3,338.3 1333.6,351.1 1145.7,346.2 1325.6,347.9 1323.9,345.1 1312.9,350.1 1180.6,350.3 1195,348.6 1219.7,349.6 1253.5,349.2 1186.4,329.7 1164.8,339.6 1329.8,349 1237.4,349.4 1206.8,325.5 1219,350.9 1186.9,345.5 1122.4,344.4 1322.2,347 1108.2,341.8 1205,344.6 1150.7,345.8 1185.1,344.3 1295.4,340.6 1126.2,349.4 1294.8,322.7 1116.3,321.8 1163.9,344.8 1353.5,344.6 1352.7,346.9 1130.4,347.7 1140.4,347.8 1223.4,342 1302.9,339.3 1347.8,346.9 1139.9,337.6 1271.8,327.4 1301.8,343.9 1259,340 1196.6,348.1 1285.9,340.1 1207.5,341.9 1216.4,350.2 1315.6,346.9 1201.5,349.3 1315.3,341.7 1340.7,347.4 1122.5,343.9 1148.9,342.6 1104.5,331.4 1349.2,349.8 1241.2,350.5 1240,343 1136.4,350.3 1140.4,343.2 1241.1,347.4 1287.8,341.4 1295.4,349.7 1301.5,348.5 1247,342.9 1302.6,345.2 1151.8,345 1199,349.6 1339.5,349.7 1207.4,340.8 1147.9,343.9 1129.8,339.9 1314.7,341.6 1208.6,341.3 1186.4,345.4 1225.1,344.6 1198.1,343.7 1333.5,330.8 1257.5,333.1 1320.7,343.5 1266.9,341.3 1168.7,337.5 1102.4,348.5 1170.7,348.5 1319.7,349.6 1153.6,330.9 1260.7,334.5 1216.9,336.7 1210.5,348.4 1290.5,348.3 1264.7,338.7 1328,325.9 1274.6,347.8 1249.1,339.2 1252.9,343 1351.8,347.4 1230.5,339.4 1295.3,348.5 1205.5,337.8 1216.4,333.7 1240.3,345.3 1314.6,325.7 1225.3,350.4 1313.1,342.7 1165.3,330.1 1303.3,350.8 1329.1,339.5 1294.9,261.4 1204,344.8 1148.6,350.3 1280.6,343.4 1308.2,349.5 1302.4,344 1295.6,349.6 1271.4,350.3 1115.4,332.4 1279,348.9 1121,336.2 1304,340.5 1308.4,345.7 1183.9,344.2 1259.4,344.9 1298.2,332.3 1240.1,349.1 1144,347.2 1141.5,344.3 1272.4,337 1212.2,349.7 1252.6,347.3 1138.3,350.6 1140.3,346.6 1255.5,347.2 1275.6,337.8 1174.5,320.8 1289.7,349.4 1302.5,337.1 1249.5,349.1 1146.1,344.1 1105.6,343.1 1261.7,351 1352.3,351.1 1213.5,346.3 1338.9,336 1158.6,347.5 1304.6,350.7 1307.8,345.1 1316.8,341.9 1228.2,329.7 1256.7,342.9 1314.5,345.8 1352.8,342.4 1231.4,341.1 1217.7,348.3 1197.7,334.1 1327.9,344.2 1156.8,346.6 1258.9,350.1 1320,323.6 1271.4,345.7 1102.6,344.9 1251,348 1323.8,348.9 1233.6,345.2 1219.7,351 1353.5,340.8 1159.1,350.8 1213.3,341.8 1271.3,349.5 1325.9,349.9 1293.2,349.2 1213,344.2 1171,350.6 1114,340.8 1209.8,350 1323,337.6 1164.2,349.9 1255,329.1 1298.4,344.6 1176.5,338.4 1248.2,348.7 1339.6,349.4 1342.1,350.1 1144.4,320.2 1127.4,328.1 1204.6,330.8 1108.1,339.6 1187,338.1 1293.9,342 1258.4,343.2 1294.2,343.7 1349,343.8 1204.5,328.5 1306.7,347.8 1320,330 1155.7,345.7 1215.3,349.9 1229.5,344.9 1314.5,348.6 1221.4,346.7 1164,348.8 1274.6,350.6 1282,346.8 1261.1,340.6 1176.9,339.6 1181,333.4 1215.9,332.2 1291.9,348.4 1241.1,331.8 1333.6,325.7 1212.3,350.4 1279.8,327.3 1258.9,339.9 1146.3,344.4 1120.3,346.4 1239.4,347.5 1305,346.7 1288.9,350.7 1197.2,347.4 1248.7,350.6 1246.5,342.9 1139.9,349.1 1351.3,325.3 1102.5,349 1271.7,345.1 1187.7,347.2 1343.1,344 1199.2,341.5 1293,349.6 1220.3,346.4 1169.8,342.4 1311.1,351.1 1131.3,339.2 1122.9,350.3 1173.3,327.1 1240.9,321.5 1194,348 1144.2,330 1345.7,347.6 1242.7,350.3 1316.6,348.1 1303.5,350.8 1247,348.3 1160.5,349 1199,342.6 1296.6,348 1237.4,347.6 1263.8,342.7 1323.4,340.8 1297.2,350.4 1249.2,345.9 1146.4,345.3 1182.1,319.4 1256.6,349.5 1176.3,350.9 1199.8,350.8 1195.3,337.5 1219.1,347.6 1172.6,329.2 1345.3,344.5 1213.1,347.8 1231.8,349.6 1220.1,344 1220.7,348.9 1216.7,348.4 1321.4,346.5 1326.1,346.5 1144.7,334.8 1248.9,327.4 1102.8,336.5 1351.1,339.9 1131.9,348.2 1169.8,348.8 1125.1,344.3 1111.8,346.8 1154.1,347.7 1281.9,347.6 1156.5,346.8 1128.4,334 1213.5,348.9 1168.5,343.4 1313.6,349.8 1144.6,331.7 1227.1,332.5 1119.7,346.7 1321.8,346.6 1341.7,340.6 1251.9,348.2 1121.4,330.2 1196.9,351.1 1242.9,342.9 1225.4,349.1 1260.3,332.5 1152.7,335 1249.1,344.3 1217.1,346.1 1309.5,343.5 1200.9,350.1 1330.3,333.8 1227.3,350 1209.3,342.5 1137.1,342.3 1301.7,340.7 1214.1,348.9 1217.5,346 1172.9,347.6 1335.7,348.4 1180.9,348.1 1221,338.9 1329.4,351.1 1153.9,332.2 1126.2,345.7 1121.5,329.6 1283.3,344.6 1308.9,350 1153.4,348.5 1207.3,338.2 1227.6,336.6 1347,346.8 1273.3,344.9 1115.5,347.3 1123.8,340.3 1277.7,346.3 1164,343.4 1311.4,317.9 1227.7,350.6 1208.2,350.5 1107.9,350.7 1345.5,350.3 1150,347.4 1210.4,348.5 1310.3,338.9 1295.9,338.9 1279.7,350.1 1177.4,350 1158.7,349.1 1145.3,350.8 1198.2,345.1 1174.1,349 1215.8,345.2 1154.5,350.8 1173.9,348.4 1347,338.2 1170.7,349.9 1174.7,347.1 1333.5,340.3 1187.8,350 1103.6,347.1 1349.3,349.5 1254.1,346.7 1224,344.7 1298.3,341.8 1315.6,346.7 1238.7,346.4 1283.4,349.2 1275.9,343.7 1176.9,342.2 1248.6,344.7 1290.4,350.9 1165.8,342.9 1131.4,340.8 1253.8,346.1 1123.3,338.2 1210.4,350.5 1290.6,335 1304.5,338.5 1281.2,345.3 1122.5,345.1 1328.8,338.4 1294.1,330.8 1128.8,344.3 1128.5,339.5 1247.3,350.8 1323.4,343 1264.2,332.7 1114.8,346.6 1135.8,349.4 1343.7,350.9 1207.6,344.7 1242.4,347.2 1206.9,347.5 1159.4,334.2 1159.5,344.5 1279.6,336.8 1151.5,347.4 1186.1,345.7 1179.9,350 1144.8,342.1 1276.5,324.2 1160.8,338.4 1126.1,343 1208,341.8 1328.3,347.8 1219.6,347.5 1184.3,345.7 1194,340.1 1180.1,349 1126.3,332.6 1151.2,333.8 1181.9,335.7 1213.9,342.5 1171.6,334 1260.3,322.9 1321.4,345.8 1156.3,299.8 1138.5,351.1 1271,350 1220,347.9 1347.2,347.7 1334.2,350.4 1253,322.6 1196.9,331 1148.5,349.8 1221.4,339.9 1272.6,337.7 1137.1,350.5 1249.3,348.8 1202.3,350.6 1338.2,345 1167.6,346.5 1272.4,343.4 1333.5,310.6 1291.8,342.5 1198.4,345.9 1168.3,348.1 1148.2,345.8 1203.8,350.4 1156.9,348.4 1294.6,350.9 1168,350.7 1304.6,339.4 1261.2,350.1 1352.4,347.7 1166,326.3 1308.6,347 1125.3,345.1 1114.4,342.6 1230.4,310.9 1136.6,349.1 1218.8,350.5 1112.8,337.8 1313.2,348.8 1229.3,337.7 1229.3,350.9 1111.1,348.6 1197.8,346.1 1257.4,347.7 1312.2,341.7 1149.2,342.3 1159.1,345.6 1346.7,347.2 1301.7,333.3 1191.5,345.2 1202.6,340.1 1279.2,344.3 1269,345.9 1279.7,322.7 1108.6,350.5 1290.7,346.3 1159.1,349 1189.5,350 1187.7,350.6 1108,326.8 1327,349.3 1306.9,350.7 1266.1,350.2 1153.3,351.1 1220.6,346.9 1168.5,347.9 1175.9,342.6 1125.1,307.6 1162.7,335.5 1232.7,343.7 1338.6,332.4 1141,323.1 1180.4,349.6 1304.9,349.8 1243.4,350.1 1296.3,346.6 1239.9,348.8 1203.2,332.5 1152.8,347.1 1323.9,333.5 1223,348.7 1205.3,333.5 1160.9,350.9 1202.6,349.3 1327.3,348.5 1187.7,345.9 1253.3,350.8 1229.6,342.4 1215.8,340.4 1164.4,346.9 1341.2,343.8 1230.2,337.7 1193.7,345.9 1221.7,350.8 1143.6,314.6 1339.2,345.6 1310.7,342.4 1197.1,350.6 1158.2,334.8 1345.3,348.8 1238.3,343.8 1192.5,349.1 1336.2,350.3 1117.1,347.1 1337.9,348.9 1156.9,348.8 1163.7,350.4 1109.4,347.4 1302.4,350.7 1285.6,343.7 1229.4,345.9 1110.1,332.7 1316.3,337.5 1270,323.9 1305.6,342 1177.3,341.7 1258.2,339.5 1242.9,349 1299,350 1167.3,338.9 1228.8,350.8 1119.5,350.9 1238.4,346.1 1309.4,349.9 1148.9,345.4 1347,350.8 1272.9,347.6 1195.7,339.1 1304.3,333.8 1164.8,347.1 1226.2,343.2 1329.9,344.7 1272.6,344.7 1203.2,337.8 1199.1,341 1131,324.3 1179.5,332.8 1193.5,321.8 1133.3,346.9 1191.4,345.8 1258.7,349.3 1219.1,340.7 1155.2,339.7 1248.1,342.2 1164.6,349 1153.8,337 1196.4,317 1342.7,328.5 1187.3,341.6 1162.3,349.5 1326.3,349.8 1125.5,344.1 1333.3,344.7 1253.2,351 1323.8,349.8 1266.1,342.5 1122.4,336.4 1159.7,345.4 1170.9,351 1135.7,346.1 1184.8,349.7 1350.7,343 1285.4,334.9 1344.4,328.9 1246.9,347.9 1324.8,344.2 1220.9,348.4 1134.5,329.1 1242.5,347.3 1119.7,343.8 1210.8,350.7 1117,347 1156.1,346.9 1225,347.7 1147.1,345.2 1204.5,339.6 1301.3,331.6 1124.2,329.7 1127.9,346.6 1185,347.6 1234,341.3 1129.8,321.8 1204.1,348 1127.3,349.2 1259.6,333.1 1297.3,350 1114.6,339.4 1235.3,338.4 1320.3,338.8 1228.8,350.8 1130.6,349.5 1118.3,340.8 1208.8,333.2 1330.7,343.9 1285.4,350.5 1180.4,334.9 1143.8,349.9 1281.8,338.7 1165.6,347.2 1208,344.4 1144.2,350.9 1109.8,350.5 1163,334 1127.8,309.8 1167.8,341.3 1346.5,342.1 1164,340.6 1338.2,346.9 1124.8,348.6 1183.8,336.4 1235.4,349.3 1184.9,343.4 1305.2,335.9 1307.9,349.4 1353.6,344.9 1120,341.9 1348.2,350.3 1338,351.1 1323.5,346 1222.3,346.1 1146.4,339.6 1190.2,350.7 1152.3,345.7 1316.3,348.3 1204.3,314.3 1105.5,350.8 1121.1,342.6 1281.9,347.4 1283.8,312.5 1294.4,325.7 1318.4,338.9 1138.6,335.3 1173.1,339.3 1293.9,347.4 1324.8,351.1 1197.1,329.2 1255.2,332.4 1337.9,347.8 1152.2,346.4 1123,346.5 1248,349.8 1146.6,350.6 1306.9,346.8 1300.3,303.1 1314.3,351 1278.7,350 1230.9,342.3 1256,347.6 1250.4,341.3 1335.2,346.9 1130.8,349 1156.1,348.9 1225.3,349.1 1289,347.8 1208.7,314.1 1182.1,346.9 1130.8,322.4 1131.8,348.8 1242.3,336.8 1301.3,345.8 1249.4,342.6 1182,327 1158.3,337.8 1273.1,317.6 1178.8,335.3 1278.2,347.7 1287.5,340.3 1312.3,344.8 1249.7,350.4 1279.9,348.6 1264.2,347.7 1264.4,339.4 1113.8,339.8 1213.4,347.3 1228.2,341.2 1304,343.8 1322.3,340.1 1254.6,340.1 1175.9,347.2 1146.7,346.7 1231.2,343.5 1121,332.6 1319.1,347 1170.1,334.9 1124.1,346.9 1125.7,344.5 1349,346.9 1153.2,313.4 1213.4,348.9 1285.2,347.6 1149.3,350.4 1199.7,333.9 1102.6,343.9 1344.9,349.4 1179.7,330.3 1109.2,344.7 1179.5,342.6 1119.4,342 1341,335.9 1335.4,343 1195.3,341.1 1144.5,350.5 1346.1,347.2 1217.7,350.5 1344.5,305.3 1298.6,350.2 1257.8,349.4 1144.6,347.2 1114.3,348.6 1258.4,340.8 1327.3,346 1113.9,343.7 1159.8,344.8 1114.2,340.6 1304,326 1178.1,346.5 1135.2,342.7 1247.3,345 1103.8,349.5 1211.8,347.5 1344.9,342.1 1252,329.4 1176.6,343.5 1153.7,338.8 1114.1,345.7 1148.3,320.2 1322.6,349.2 1212.9,350.6 1329.3,346.2 1164.8,349.2 1329.9,343.8 1331.1,346.2 1107.3,346.8 1234,347.2 1312.5,347.8 1231.2,332.9 1165.3,346.6 1290.5,350.4 1325.9,327.2 1217.8,342.2 1215.9,349.8 1131.1,350.6 1279.1,344.6 1330.6,335.8 1262.7,329.9 1275.9,350.8 1139.1,346.4 1198.6,343.4 1303.7,348.3 1209,348.4 1163,348 1236.1,349.4 1212.3,349 1112,348.9 1104.8,345 1294.3,344.2 1275.2,348.7 1217,345.9 1205.7,347.8 1131.9,320.5 1144.5,336.7 1212.4,350.8 1278.4,348.8 1298.4,338.4 1157.5,341.7 1140.8,344.2 1143.6,349 1170.4,346.4 1278.5,345.4 1116.7,349.7 1140.7,344.7 1196.4,348.4 1183,343.6 1138.5,347.4 1238,350.4 1275.5,348.4 1142.6,336.7 1261.6,344.8 1274.9,321.6 1249.8,348.9 1164.2,348.7 1150.9,350.7 1138.9,348.1 1336.7,337.1 1282.8,344.9 1252.4,349.2 1215.1,350.1 1494.7,350.8 1497.5,327.6 1500.6,344.1 1505.1,329 1494.5,351.1 1491.1,344.4 1498.6,349.6 1495,338.8 1503.9,351.6 1504.6,336.4 1501.6,350.1 1498.9,350.1 1490.6,345.8 1490.2,350.7 1496.7,350.7 1499.2,353.4 1498.8,351.5 1503.5,349.3 1504,339.6 1502.5,341.9 1499.7,339 1500,341.2 1496.4,350.2 1496,348.5 1496.2,350.3 1497.2,349.7 1490.1,348.6 1506.1,337.7 1503.6,350.4 1497.8,301.4 1500,335.9 1490.2,345.3 1498.9,350.2 1495.3,348.3 1501.8,350.2 1492.2,346.9 1493.7,348.1 1497.7,343.5 1501,352.9 1497.1,348.4 1501.1,342.3 1500.3,347.2 1505.6,353.1 1491.4,319.3 1503.7,350.6 1492.4,345.3 1504.9,353.1 1504.4,352.1 1499.3,349.7 1503.2,351.1 1501.5,340 1493.6,350.2 1505.3,345.7 1494.2,348.3 1497.2,349.9 1536.1,350.5 1533.8,351.1 1536.4,346.2 1536.5,351.3 1537,340 1536.5,352.2 1537.8,339.6 1533.8,337.8 1534.5,353.7 1534.6,336.7 1538,345.8 1535.9,341.8 1535.8,352.9 1570.4,325.4 1561.4,350.7 1572.9,349.7 1564.9,349.5 1571.7,346.8 1565,346.5 1566.8,334.9 1571.7,347.3 1557,349.5 1583.1,352.2 1583.8,341.3 1563.9,347.6 1574.4,350.7 1570.9,350.2 1582.7,343.3 1558.1,343.4 1557.6,315.7 1576.9,350.9 1562.8,347.8 1559.1,349.8 1558.4,352.6 1566.3,331.7 1583.5,350.2 1562.4,349.6 1570.1,326.1 1559.3,352.4 1559.2,351.7 1583.1,345.6 1559.9,347.6 1564.7,281.3 1560.3,336.2 1567.8,341.7 1558.9,352.4 1567.5,351.6 1558.2,340.9 1583.1,348 1579.3,351.4 1571.8,344.1 1557.1,329.4 1564.5,351.5 1569.4,348.6 1584.6,340 1565.5,350.6 1562.9,348.4 1566.9,330.1 1567.1,350 1574.7,338.9 1578.8,350.2 1572.1,352.9 1584,341.2 1579.2,343.6 1559.3,347.3 1575.3,338.4 1572,331.9 1573.6,340.1 1563.3,345.7 1575.3,347.2 1572.7,350.7 1584.7,350.2 1558.9,345.4 1558.4,337.1 1580.5,331.4 1569.4,341.8 1558.8,345.8 1570.8,322.6 1579.6,317.7 1567.5,349.6 1583.3,347 1570.2,352 1578.1,345.3 1583.2,333.8 1584,341.3 1582.8,345.5 1568.4,340 1581.5,349.5 1562.1,329.3 1575.9,334.6 1577.6,349.3 1560.7,347.3 1573.9,351.2 1567.4,347.1 1573.3,343.5 1567.4,352 1570.9,351.8 1581.9,341.5 1570,350.5 1572.2,347.1 1558.5,352.7 1567.4,310.4 1563,336.5 1566,345.8 1560.5,343.2 1557.8,342.6 1567.9,346.4 1563.9,334.9 1567.8,350 1581.8,341.7 1581.2,351 1562,348.4 1564,349.2 1581.5,351.2 1577.4,337.4 1638.4,200.4 1609.2,328.8 1632.5,352.2 1646.6,352.8 1654.8,340.6 1659.4,353.4 1661.4,334.3 1616.3,336.5 1611.2,351 1633.7,350.9 1632.4,345.2 1656.2,353.8 1644.7,352.3 1651.2,352.1 1660.5,350.1 1632.6,342.5 1662.7,349.4 1619.6,351.7 1632.4,353.6 1666.3,340.6 1648.6,332.4 1655.1,352.2 1607.9,329 1630.1,330.3 1643.3,343.6 1635.6,352.4 1611.7,342.7 1640.7,318.1 1640.3,340.4 1654.6,236.5 1637.5,350.2 1643.9,271.6 1664.4,353 1639.1,351.7 1627.9,354 1633.8,353.8 1623.7,342.3 1651.1,354.1 1665,349 1649.5,207.9 1669.1,347.1 1630.3,348.7 1626.2,354.9 1646.7,323.2 1646.6,328.1 1631,349.1 1604.5,347.5 1644.5,315 1605.5,341.6 1645.7,350.7 1617.9,353.6 1646.3,344.8 1624,352.8 1621.3,352 1668.2,344.8 1616.7,350.1 1657.8,268.5 1645.6,353.5 1613,349.4 1633.2,346 1607.9,346.8 1635.7,352.2 1666.9,273 1667.2,349.9 1611.5,330.5 1669.3,353.3 1655.2,331.5 1648.3,354.5 1627.2,348.7 1668.5,354 1647.3,349.7 1622.1,347 1630.9,341.6 1666.5,348.7 1630.6,319.9 1668.2,344.6 1648.7,347.2 1653.7,348.3 1655.8,344.3 1670.4,329.6 1639.9,350.2 1621,352.3 1655.1,260.6 1608.8,321.8 1655.7,350.4 1658.9,354.7 1631.5,354 1643.6,350.6 1606.6,353 1658,332 1636.6,335.3 1651.2,331 1625.8,345.2 1627.3,335.3 1650.8,281.1 1614.1,338 1609.3,344.2 1667.8,351 1625.9,331 1611.1,347.1 1649.5,350.8 1660.9,352.1 1626.5,344.8 1652.8,353.3 1648.5,272.5 1658.7,344.3 1659.8,300.2 1652.9,352 1669.2,204.5 1662.8,284.4 1619.6,324.1 1659.9,347.7 1658.1,304.2 1622.1,335 1641.8,353.4 1610.8,344 1658.5,346.3 1620.9,353.7 1620.7,348.3 1640.6,334.7 1657.2,352.9 1649.7,279.1 1669.4,354.7 1637.7,337.9 1637.7,341.6 1613.7,345.2 1635.5,346.9 1650.4,350 1647.2,249.8 1655.2,354.4 1611.4,289.2 1658.6,349.6 1642.4,342.4 1621.8,349.5 1644.4,351.1 1659.7,354.6 1650.2,296.5 1611.9,274 1654.9,341.7 1614.9,349.4 1655.3,329.3 1666.1,345.1 1633.1,352.2 1619.1,324.9 1656.4,350 1669.3,353.6 1604.5,335.4 1632.5,351.9 1604.7,345.2 1663.5,341.4 1607.6,85.4 1644.2,327.5 1632.9,314.9 1662.3,353.8 1137.4,214 1137.7,214.2 1167.3,218 1167.3,222.3 1167.3,228 1151,239.3 1151,245 1313,233.5 1313.3,233.7 1571.3,247 1568.5,281.8 1568.8,282.3 1573.4,291 1536.5,284.5 1534.5,289.5 1536.8,303 1537.3,309.6 1613.3,234.4 1572.9,139.4 1568.8,221 1572.6,215.6 1572.8,218 1645,85.7 1657,85.7 1662,85.7 1113.6,268.3 1113.3,294.4 1163.2,275.5 1206,272.5 1206,273.5 1178,289.4 1198.5,297 1159.5,297.3 1159.5,302 1298,264 1298.3,264.5 1288,284 1288,287 1298.6,289 1288,311.4 1340.7,285 1316.6,289.3 1341,294"/>
<polyline class="dP" points="1181,348.8 1208,340.1 1254.6,347.2 1334.9,346.2 1275.7,342.7 1199.1,336.9 1266.5,349.2 1304.6,349 1258.2,344.9 1282.3,349.4 1161.8,349.2 1326,349.6 1199.9,339.6 1335.9,326 1343.3,326.9 1319.1,349.9 1260.2,332 1337.3,346.3 1347.6,337.2 1103.2,347.8 1221.9,345.5 1131.6,346.9 1318.2,349.4 1250.6,348.3 1330.3,345.9 1229.3,339.2 1153.3,338.9 1257,345.7 1155.3,343.7 1304.3,337.1 1339.3,348.4 1286.8,330.2 1129.2,344.4 1336.5,345.4 1315.7,346.3 1341,323.9 1251.6,344.3 1166.3,337.4 1270,338 1214,340.2 1104.2,347.3 1258.2,349.7 1137.1,338.6 1191.3,349.2 1323.1,350.3 1219.7,346.5 1183.7,349.4 1162.7,334.6 1121.9,337.5 1150.4,328.7 1277.2,339.5 1333.2,343.2 1109.1,350.3 1289.4,349.5 1203.9,350.8 1177.8,348.8 1302.9,335.9 1151.8,349.3 1132.1,332.9 1138,347.2 1203.5,338.9 1231.4,341.1 1348,349.5 1344.1,346.7 1217.7,333.1 1216.5,339.2 1117.4,345.9 1267.9,350 1171.4,350.8 1351.9,341.1 1110.4,347 1231.9,346.7 1248.9,344.7 1289.3,334.8 1303.9,348.9 1243.5,350.8 1145.2,342.2 1254.3,345.5 1187.6,327.6 1227.6,316.5 1184.8,350.4 1278.2,343.6 1183.2,337 1299.4,335.7 1284.7,349 1174.1,349.7 1336.6,349.8 1261.7,341 1194.1,343.8 1254.3,342.8 1268.7,344.3 1214.8,350.6 1126.4,350.9 1145,342.5 1255.4,348.2 1331.4,346.5 1181.7,346.4 1306.4,333.6 1308.9,336 1287.2,349.8 1236.8,344.1 1314.7,336.6 1128.8,350.5 1169.1,349.9 1290.5,307.9 1183.6,351 1216,348.3 1302.6,349.8 1264.9,350.8 1284.1,347.4 1241.9,333.1 1228.9,350.3 1218.3,341.2 1138.7,349.6 1235.5,350.2 1321.8,348.5 1291.7,322.4 1203.7,331.7 1133.9,333.4 1133.4,321.9 1238,344.1 1204.9,345.6 1275.8,333.7 1230.3,344.7 1149.6,327.6 1220.6,345.7 1300.5,331.2 1344,344.1 1252.6,342.4 1288.3,349.6 1214,348.3 1149.6,345.8 1294.3,343.7 1236.9,339.2 1103.9,351 1167.8,347.5 1287.4,350.6 1165.8,341.6 1287.3,335.3 1284.3,350.4 1176.8,347.3 1234,344 1163.7,350.5 1227.7,340.1 1240.7,350.3 1108.7,344.3 1160.1,341.1 1238.6,340.8 1313.4,349.2 1134.9,347.9 1309,348.4 1264.3,350.9 1218.8,350.6 1112.7,343.1 1217.1,350.3 1137.3,328.7 1192.4,346.7 1227.4,348.4 1162.3,338.7 1308.9,344.5 1347.8,349.7 1209.6,339.9 1165.7,349.3 1128.5,337.4 1298.1,342.3 1292.5,350.1 1113.5,345.2 1127.7,337.8 1342.2,338.7 1188.1,333 1296.9,342.5 1143.5,350.7 1136.8,349.5 1150.7,346.6 1132.8,350.9 1219.4,329.8 1211.2,337.5 1266.2,346.8 1275.7,350.7 1222.9,346.6 1133.8,350.2 1141.9,309.1 1104.1,348.2 1304.8,328.1 1173.6,339.8 1279.5,329.5 1226.6,345.3 1195.1,350.5 1263.9,351.1 1251.2,345.5 1319.8,342.7 1304,345.3 1276.4,346.3 1283.2,347.2 1260.4,340 1143.8,329.8 1221.6,350.4 1201.2,349.8 1237.3,345.3 1255.9,339.5 1202,346.4 1332.8,347.8 1141.9,349.8 1120,351.1 1219.7,327.1 1352.1,312 1115.2,346.2 1260.5,344.5 1349.3,343.4 1217.4,348.9 1173.3,335.1 1274.6,348.8 1174.6,347.5 1201.2,350.3 1331.7,306.1 1325.5,338.1 1289.5,341.9 1204.4,348.4 1187.6,351.1 1344.5,344.5 1174.5,342.7 1199.1,350.7 1305.4,346.5 1217,350.9 1138.1,339.6 1269.8,350.8 1142,350.6 1193.1,348.7 1194.6,350.2 1153.8,328.4 1126.9,348.9 1211.9,344 1171.4,350.7 1256,350.7 1172.1,347.2 1307.8,343.9 1273.1,342.5 1136.9,339.8 1331.4,342.1 1168.8,351.1 1241.4,330.9 1269,348.7 1184.5,324.5 1223.3,350.1 1117.5,339.1 1166.8,335.2 1123.4,343.1 1268.4,348.3 1103.6,316.8 1353.2,292.5 1269.3,342.7 1271.8,338 1188.1,342.1 1200.4,349.8 1274.5,342.2 1102.5,349 1201.6,350.7 1235.4,351 1235.5,345.4 1215.5,296.7 1304.6,321.3 1231,347.3 1106.4,328.7 1297.4,347.6 1351.2,341.7 1238.2,345.5 1178.3,347.8 1335.7,347.7 1345.7,343.8 1332.4,344.6 1311.6,349.4 1129.1,346.6 1271.8,345.7 1189,344.1 1175.1,347.3 1121,346.4 1194.9,324.6 1331.7,341.2 1172.2,344.8 1188.4,342.3 1176.2,340.1 1208.8,341.3 1187.3,334.7 1371.9,350.6 1372.3,353.7 1372.7,352.9 1388.8,339.3 1493.5,344.2 1501.7,344.5 1504.5,350.4 1505.9,346 1501,353 1499.3,353 1494.2,345.2 1498.4,348.8 1501.2,346.1 1505.6,349.3 1500.4,350.9 1497.5,349.8 1493.8,347 1500.2,341.5 1535.2,353.5 1536.2,346.7 1533.5,352.1 1535.1,347.2 1535,329.5 1534,345.5 1533.5,351.5 1570.7,350.2 1581.5,315.6 1558.6,347 1582.2,324.4 1562.6,308.3 1578.4,335.7 1561.8,350.8 1572.8,352 1568.1,352.1 1583.4,341.9 1556.8,334.5 1560.6,349.9 1565.1,353 1577.6,342.1 1571.5,348.6 1571.3,351.7 1571.6,345.7 1578.5,350 1564.3,350.2 1573.1,350.1 1571.5,344.9 1564.5,349.5 1561.2,352.8 1576.8,345.7 1642.7,310.1 1662.6,350.8 1666.1,340.5 1669,339.8 1643.9,350.7 1665.5,340.4 1623,324 1664.2,275.6 1667.1,335.6 1649,341.9 1651.8,350.8 1645.9,341.5 1607.3,347.8 1617.2,347.8 1632.5,353.6 1666.4,354.9 1664.2,280.5 1616.6,349.5 1635.1,313.5 1647.9,329.9 1607,348.7 1617.9,325.9 1605.8,347.3 1652.9,333.3 1631.1,353.5 1657,338.1 1625.8,353.8 1619.8,354.7 1618.5,324.9 1657.2,346.6 1637.5,114.8 1654.4,354 1613.3,336.1 1651,301 1617.9,342.6 1619.6,345.5 1611.7,297 1612,350.6 1636.2,331.5 1645.1,327.4 1613.7,335.7 1637.6,347.9 1636.4,353.3 1627.7,353.4 1633.8,267.9 1663.4,348.5 1640.5,325.3 1668.2,350.2 1647.4,352.6 1614.4,256.8 1638.9,330.8 1639.3,347.2 1621.2,346.3 1649.4,352.8 1609.1,348 1609.1,348.7 1665.7,278.8 1640,353.7 1614.5,354.1 1655.2,350.8 1635.2,315.1 1642.4,336 1621.6,343.8 1639,325.2 1651.3,349.6 1648.4,293.8 1660.9,352 1622.4,345.3 1644.3,352 1654.4,306.5 1606.3,344.4 1659,178 1641.7,280.7 1623.1,352.9 1609.6,352.6 1622.4,350.3 1651.1,343.6 1619,347.8 1641.6,327.6 1631.2,346.8 1639.7,352.8 1636.4,345.8 1655.1,335.3 1614.1,352.4 1605.8,342.8 1667.5,343.6 1628.2,349.5 1664.8,352.9 1669.1,346.3 1663.7,354.7 1629.6,330.4 1665.4,337.2 1654.4,354.5 1641.4,191.3 1654.2,354.1 1656.6,343.1 1648.1,327.8 1623.7,354 1669,257.7 1611.5,85.4 1611.8,327.7 1624.6,334.2 1607.6,354.4 1607.1,353.8 1629.4,344.2 1606.3,351.6 1629.8,332.1 1613.5,334.9 1616.2,349.6 1645.8,353.1 1622.1,350.3 1662.7,344.9 1606.8,334.8 1648.4,347.8 1668.7,326.1 1624.6,317.7 1616.1,354.2 1637.7,338 1613.9,349.1 1659.1,352.6 1631.3,344.4 1604.3,347.9 1653.8,347.3 1663.2,351.9 1645.2,345.6 1620,350.9 1641.4,333.1 1666.5,252.9 1639.3,333 1629.8,348.5 1639.8,337.5 1634.4,342.5 1616.6,321.2 1640,242.8 1635.3,350.3 1626.1,314.5 1611.4,353.7 1645.9,319.4 1645.9,230.8 1629.4,349.4 1656,257.4 1664.6,348.5 1654.1,346.9 1614,343.7 1616.3,354.3 1639.2,347.2 1630.9,334.7 1637.8,291.9 1641.5,352.8 1664.6,351.5 1637.8,354.4 1652.8,306.9 1612.2,352.7 1667.9,315.5 1645.4,346.2 1627.3,336.3 1658.3,349.1 1658.7,353.1 1606.7,348 1660.4,354.7 1610.3,354.5 1607.6,352.8 1644.6,349.5 1625.3,340.6 1625.3,349.4 1660.1,325.4 1633.9,351 1668.6,298.6 1607.8,345.9 1669.9,346.6 1641.9,352.7 1668.2,343 1610.5,342.8 1638.1,314.4 1494,236.6 1494.4,236.8 1497.5,246.7 1497.5,256 1497.2,257 1496.7,262 1496.7,266.4 1496,270 1494.3,317 1494.6,317.2 1641,85.7 1643,85.7 1665,85.7 1667,85.7 1119.3,282.3 1138.5,285 1139,287 1321.5,280 1321.5,283.5"/>
<path d="M928.5 265.9H1723.2M928.5 296H1723.2" stroke="#2f5878" stroke-width="1.35" stroke-dasharray="4.2 5" fill="none"/>
<path d="M926.8 84.9V386.4H1734.2" stroke="#c6d4df" stroke-width="2.6" fill="none"/>
<rect x="1723.2" y="369.7" width="11" height="15.5" fill="#f3f3f3"/>
<rect x="1723.2" y="81.3" width="11" height="288.4" fill="#c8c8c8"/>
<path d="M1726.1 381.5l2.6 2.6l2.6-2.6" stroke="#333" stroke-width="1.3" fill="none"/>
<rect x="893.6" y="259.4" width="30.7" height="13" rx="3" fill="#8a1b61"/>
<text x="897.2" y="269.4" class="bd" textLength="5" lengthAdjust="spacingAndGlyphs">8</text>
<circle cx="916.6" cy="265.9" r="3.6" fill="none" stroke="#e9cfe0" stroke-width=".7"/>
<path d="M916.6 265.3v2.6M916.6 263.7v.8" stroke="#e9cfe0" stroke-width=".8"/>
<rect x="893.6" y="289.5" width="30.7" height="13" rx="3" fill="#8a1b61"/>
<text x="897.2" y="299.5" class="bd" textLength="5" lengthAdjust="spacingAndGlyphs">6</text>
<circle cx="916.6" cy="296" r="3.6" fill="none" stroke="#e9cfe0" stroke-width=".7"/>
<path d="M916.6 295.4v2.6M916.6 293.8v.8" stroke="#e9cfe0" stroke-width=".8"/>
<text x="1734.2" y="397.3" class="pc" text-anchor="end" textLength="79.3" lengthAdjust="spacingAndGlyphs">Phenotypic Categories</text>
<text transform="translate(951.3 420.1) rotate(-45)" class="xl" text-anchor="end" textLength="71.5" lengthAdjust="spacingAndGlyphs">NMR Metabolomics</text>
<text transform="translate(1097 420.1) rotate(-45)" class="xl" text-anchor="end" textLength="41" lengthAdjust="spacingAndGlyphs">Proteomics</text>
<text transform="translate(1357.9 420.1) rotate(-45)" class="xl" text-anchor="end" textLength="35.1" lengthAdjust="spacingAndGlyphs">Infectious</text>
<text transform="translate(1367.5 422) rotate(-45)" class="xl" text-anchor="end" textLength="41" lengthAdjust="spacingAndGlyphs">Neoplasms</text>
<text transform="translate(1375.7 424.2) rotate(-45)" class="xl" text-anchor="end" textLength="52.9" lengthAdjust="spacingAndGlyphs">Blood/Immune</text>
<text transform="translate(1383.9 426.9) rotate(-45)" class="xl" text-anchor="end" textLength="24.6" lengthAdjust="spacingAndGlyphs">Mental</text>
<text transform="translate(1391.8 429.7) rotate(-45)" class="xl" text-anchor="end" textLength="30.5" lengthAdjust="spacingAndGlyphs">Nervous</text>
<text transform="translate(1484.9 431) rotate(-45)" class="xl" text-anchor="end" textLength="14.1" lengthAdjust="spacingAndGlyphs">Eye</text>
<text transform="translate(1510.1 431) rotate(-45)" class="xl" text-anchor="end" textLength="54.7" lengthAdjust="spacingAndGlyphs">Cardiovascular</text>
<text transform="translate(1527.9 431) rotate(-45)" class="xl" text-anchor="end" textLength="41.9" lengthAdjust="spacingAndGlyphs">Respiratory</text>
<text transform="translate(1542.2 431) rotate(-45)" class="xl" text-anchor="end" textLength="33.7" lengthAdjust="spacingAndGlyphs">Digestive</text>
<text transform="translate(1551.7 432.4) rotate(-45)" class="xl" text-anchor="end" textLength="58.3" lengthAdjust="spacingAndGlyphs">Musculoskeletal</text>
<text transform="translate(1588.7 432.4) rotate(-45)" class="xl" text-anchor="end" textLength="50.1" lengthAdjust="spacingAndGlyphs">Urinary/Renal</text>
<text transform="translate(1598.8 433.2) rotate(-45)" class="xl" text-anchor="end" textLength="44.2" lengthAdjust="spacingAndGlyphs">Lab findings</text>
<text transform="translate(1674.7 433.2) rotate(-45)" class="xl" text-anchor="end" textLength="56.1" lengthAdjust="spacingAndGlyphs">Health services</text>
</g>
<g>
<text x="2.2" y="522.9" class="pl">(C)</text>
<text x="229.2" y="537.5" class="tt" textLength="399.7" lengthAdjust="spacing">NRBP1 for Phenome-wide association study (UKB binary traits)</text>
<text x="21.4" y="548.5" class="mp">Manhattan plot</text>
<path d="M12.3 562.4H860.8" stroke="#e1e8ee" stroke-width="1.1"/>
<text x="50.7" y="579.7" class="yl" textLength="57.6" lengthAdjust="spacingAndGlyphs">-log10 (P-value)</text>
<path d="M729 579h6.2l-3.1-4.8z" fill="none" stroke="#444" stroke-width="1.15"/>
<text x="740.3" y="579.7" class="lg" textLength="48.6" lengthAdjust="spacingAndGlyphs">Odds ratio &gt; 1</text>
<path d="M798.8 574.1h6.2l-3.1 4.8z" fill="none" stroke="#444" stroke-width="1.15"/>
<text x="810.1" y="579.7" class="lg" textLength="48.6" lengthAdjust="spacingAndGlyphs">Odds ratio &lt; 1</text>
<text x="21.4" y="894.7" class="yt" textLength="5" lengthAdjust="spacingAndGlyphs">0</text>
<text x="21.4" y="864.6" class="yt" textLength="5" lengthAdjust="spacingAndGlyphs">2</text>
<text x="21.4" y="834.5" class="yt" textLength="5" lengthAdjust="spacingAndGlyphs">4</text>
<text x="21.4" y="804.3" class="yt" textLength="5" lengthAdjust="spacingAndGlyphs">6</text>
<text x="21.4" y="774.2" class="yt" textLength="5" lengthAdjust="spacingAndGlyphs">8</text>
<text x="21.4" y="744.1" class="yt" textLength="10" lengthAdjust="spacingAndGlyphs">10</text>
<text x="21.4" y="714" class="yt" textLength="10" lengthAdjust="spacingAndGlyphs">12</text>
<text x="21.4" y="683.9" class="yt" textLength="10" lengthAdjust="spacingAndGlyphs">14</text>
<text x="21.4" y="653.7" class="yt" textLength="10" lengthAdjust="spacingAndGlyphs">16</text>
<text x="21.4" y="623.6" class="yt" textLength="10" lengthAdjust="spacingAndGlyphs">18</text>
<text x="21.4" y="593.5" class="yt" textLength="10" lengthAdjust="spacingAndGlyphs">20</text>
<path d="M51.5 860.2H848.5M51.5 830.1H848.5M51.5 799.9H848.5M51.5 769.8H848.5M51.5 739.7H848.5M51.5 709.6H848.5M51.5 679.5H848.5M51.5 649.3H848.5M51.5 619.2H848.5M51.5 589.1H848.5M76.7 589V916M113.6 589V916M212.8 589V916M243.2 589V916M294.6 589V916M308.9 589V916M342.8 589V916M395.4 589V916M423.6 589V916M505.6 589V916M540.4 589V916M611.3 589V916M644.2 589V916M741.1 589V916M777.3 589V916M789.3 589V916M813.7 589V916M846.6 589V916" stroke="#dfe6ec" stroke-width="1" fill="none"/>
<rect x="52.5" y="769.8" width="796" height="30.1" fill="#f1fafb"/>
<path d="M76.7 769.8V799.9M113.6 769.8V799.9M212.8 769.8V799.9M243.2 769.8V799.9M294.6 769.8V799.9M308.9 769.8V799.9M342.8 769.8V799.9M395.4 769.8V799.9M423.6 769.8V799.9M505.6 769.8V799.9M540.4 769.8V799.9M611.3 769.8V799.9M644.2 769.8V799.9M741.1 769.8V799.9M777.3 769.8V799.9M789.3 769.8V799.9M813.7 769.8V799.9M846.6 769.8V799.9" stroke="#dde7ec" stroke-width="1" fill="none"/>
<polyline class="uL" points="105.6,858.6 93.3,857.5 86.2,860.2 86.3,857.6 106.9,859.6 100.8,859.7 87.1,854.7 100.7,858.9 95.9,855.8 104.6,856.5 85.4,847.7 103.9,855.1 103.2,856.1 99.9,860.1 87.4,851.2 96.6,854.9 94,859.1 90,844.8 100.5,856.3 108.2,858.5 92.2,859.4 102.2,859.1 94.2,859.6 105,860.1 91.1,855.6 235,855 227.3,844.1 221.3,853.4 233.9,857.1 235.3,856.7 218.5,858.6 235.5,859.4 235.2,859.3 231,858.7 226.2,857.1 221.9,859.5 228.6,854 232.2,856.7 224.7,854.2 229.7,858.1 230.3,846.5 226.1,852.3 223.1,859 233.9,856.1 222.7,855.5 299.8,859.2 303.4,859.9 301.1,859.2 301.9,859.8 367.1,847.5 348.7,838.8 373.1,853.2 368.8,859 351.4,851.4 379.6,852.2 375.7,853.7 355.6,857.6 379.8,852.8 355.9,859.1 365.2,856.6 359.7,856.6 364.3,856.7 350.9,852.5 349.8,858.4 350.9,857.2 355.3,859.9 369.6,856.9 378.6,856.1 351.1,858.2 366.3,855.8 365.1,857.8 372.6,858.5 367.7,860.2 370.7,859.2 373.3,858.1 365.4,858 368.9,858.5 349.1,851.1 389.2,859.2 380.3,854.3 366.8,857.3 381.1,854.3 359.9,857.3 369.9,858.1 381.7,855.1 383.9,839.7 383.8,854.9 367.8,846.9 349.9,858.5 359.8,853.6 370.6,849 370,857.2 382.5,859.6 373.7,849.7 473,857.4 489,859.9 440.4,859.1 436.9,855.7 465.9,858.1 442.5,859.3 432.9,858.9 460,848.3 484.8,852.6 434.4,857.1 463.4,856.8 448.7,858 462.4,857.9 475.3,859.2 440.1,852.6 429.8,858.2 466.4,858.7 496.1,850.6 459.4,849.9 441.4,860.1 459,859.4 461.8,858.4 433.5,857.3 480.7,845.3 465.5,854.9 489.2,859.1 500.4,859.3 457.7,856.4 494,855.5 443.6,854.1 484.6,859.1 464.9,853.3 447,853.8 445.5,858.4 479.6,858.2 430.7,860 432.2,860.1 447.2,860.2 445.2,853 486.8,858.9 484.2,853.4 480.2,857.1 498.4,859.7 478,860.1 482,854.3 448.4,857.4 491.3,860.2 456.4,843.5 489.5,859.7 486,855.4 432.7,856.5 465.1,854.7 469.6,859.2 461.3,857.3 482.1,859.1 458.3,856 450.3,860.1 485.9,852.1 499.3,857.6 493,854.1 438.4,857.5 487.8,859.6 463.8,850 476.4,854.8 443.1,858.2 499.2,856.4 479,858.6 453.9,859.7 480.3,859.5 439.5,858.7 491.4,858.4 493.2,853.5 551.7,849 556.7,855.9 571.4,845.1 606,854.3 591.6,850.9 582.2,854.4 570,859 596.2,848.1 552.6,857.9 587.1,843.8 588.6,857.5 570.7,848.3 598,859.7 602.2,856.5 576,857.7 563.7,856.1 550.4,855.2 556.8,856.5 599.8,856.6 554.8,860.1 578.9,854 581.1,851.5 573.9,850 550.9,858.6 565.1,855.1 592.8,850.3 601.1,859.3 590.8,859.7 565.6,859.1 553.9,853.8 563.1,854.7 555.7,856.7 545.7,857.8 559.3,852.7 552.1,858.4 588.7,859.5 604.9,856.2 601.9,858.9 563.5,859.3 587.6,859.2 564.4,858.6 589.6,859.7 550.5,858.6 568.2,860.2 601.5,857.7 595.3,853.5 550,856.2 562.8,857 570.4,847.1 565.2,855.9 577.4,855.5 551.4,856.1 586.9,856 561,850.7 601.9,858.8 574.2,856.2 545.7,859.1 568.3,857.6 570.9,859.2 583.7,859.1 587.1,847.2 606.1,856.9 649.9,853 708.7,858.4 710.1,854.4 691.8,859 712.6,847.2 660.4,859.3 696.8,856.1 661.1,859.2 723.5,855.1 729.2,850.6 693,857.9 692.2,858.8 684.3,853.4 682.9,857.8 707.5,856.4 651.2,859 685,853.9 668.6,853.9 713.4,857.3 650,849.7 664,842.7 665.9,855.1 654.6,854 666.3,857.8 649.7,858.6 683.9,854.5 698.7,853.7 677,855.8 721,854 715.5,859.8 675.5,859.6 731.2,860 701.6,857.4 680.2,857.9 660,858.1 723.2,857 659.5,859.5 689.4,854.7 651,850.9 685.4,859.5 656.5,857.1 704.3,859.3 720.3,859.1 708.8,848.2 651.6,853.7 710.9,852.1 695.5,856 712.2,857.3 723.8,852.2 656.9,858.5 735.1,858.2 691.7,852 678,859.8 724.6,855.9 711.3,858.3 707.1,859 728.5,851 669.8,858.7 650.5,853.6 714.5,848 696.2,854.1 723.3,857.4 671.4,859.6 660.5,853.7 696.6,855.6 687.4,852.4 702,858.6 677.9,858.5 669.6,860.1 716.1,859.1 708.4,857.4 711.9,856.5 660.6,859.6 689.9,851.7 690.5,860 684.2,848.1 664,849.2 651.5,859.2 714.5,858.1 675.6,858.7 703.4,857.7 654.1,857.5 659.5,842.3 655.5,856.9 665.7,854.2 716.7,857.1 704.2,859.4 666.4,858.4 672.5,854.3 727.5,857.2 727,854.4 699.2,858.9 685.7,859.5 687.9,854.9 654.5,848.2 735.4,857.4 782.8,853.2 784.3,859.2 783.4,859.4 831.4,859.9 825.4,858.9 820.8,858.4 831.6,860.1 831.6,858 835.6,855.6 829.9,858.6 833.5,858.3 834.7,858.4 832.6,859 838.8,857 840.1,858.8 826.3,854.8 835.8,859.4 830.9,859.7 821.9,859.8 834.3,859.2 838.3,859.3 836.3,854.4 838.6,855.4 836.1,859 834.8,857.1 837,859.9 106.5,836.6 107.6,845.3 81.3,847 223.2,832.2 217.7,843.7 388.2,829.5 435.5,824 684.6,823.2 651.2,835.5 711.9,835.5 705.4,837.4 567,837 594.4,838.5 489.8,838.2 466,839 783,843.4 838.8,843.7"/>
<polyline class="dL" points="95.6,847.6 107.3,855.4 90.2,859.6 231.5,858.8 496.8,856.4 457.4,848.2 478.3,858.8 498,857.9 585.1,857.9 589.2,855 649.7,857.7 733.1,853.7 733.5,850.3 833.2,860.1 382.8,837.7 364.2,841.5 350,843 576.8,842.3"/>
<polyline class="uP" points="189.7,859.8 140.7,858.5 182.8,858.8 175.8,853.6 202.7,858.1 154.3,859.1 138.6,846.8 204.7,854.9 150.9,857.1 149.2,854.6 135,859.6 159.9,856.6 137.2,853.1 176,857.8 150.6,854.4 119.2,851 141.3,859.7 160.8,859.6 157.5,856.8 198.3,852.7 153.8,858.8 176.3,859.3 125.3,859.7 196.1,854.4 133.3,856 131,853.9 157.5,857 182.9,856.9 133,857.7 159.8,856.3 201.6,858.5 142.1,857.6 148.7,858.3 162.4,856.5 140.4,859.6 125.7,854 174.8,854.8 182.3,858 203.1,856 176.4,858.6 169,859.4 194.1,858.9 171.4,860.2 135.4,857.9 163.3,850.9 203,858 143.4,858.8 119.8,858.7 193.1,860.2 176,855 188.8,857 188.7,857.3 161.1,849.5 189.9,858.5 123.6,858.7 202.1,858.1 169.5,859.8 155.9,854.9 169.8,859.5 151.4,846.8 125.4,859.4 147,859.9 170.2,840.7 195.1,857.8 185.7,856.2 136.7,854.8 194.6,859.1 152.1,852.3 167.3,859.4 144.6,857.1 154.3,854.2 142.1,851.1 164.5,857.8 201.4,849.6 121,854.7 196.9,859.5 153.6,845 141.9,859.3 192.3,859.4 138.7,853.9 142.7,860.1 153.6,855.1 177.1,859.6 142.5,858.2 182.7,860 147.7,857.7 145.8,859.4 194.8,859.3 140.4,860 206.4,860 134,854.9 186.3,855.2 204.6,860.1 174.1,858.4 182.6,856.8 196,857.5 142.2,844.9 157.1,860.1 186.9,855.9 191.4,854.1 151.9,853.1 192.5,851.3 128.8,845.1 165.2,853.7 124.4,854 181.3,852.1 265.1,859.9 289.5,858.1 257,856.4 260,858.5 263.3,858.1 256.2,860.1 273.4,857 266.4,854.6 252.6,854.2 271.6,858.3 248.2,860.1 265.4,859.9 267.3,858.8 269.7,848.4 259.1,859.7 273,858.4 289.4,859.9 287.8,851.4 281.1,855.1 269.2,860.1 250.2,859.9 277.5,859.9 249.6,846.3 258.9,860.1 270.4,849.7 255.8,860.1 269.7,852.6 269.4,855.4 284.2,851.4 264.3,853.9 275.8,859.7 276.5,859.9 256,854.5 272.2,859.9 284.9,855 255.3,852.8 252.3,855.1 253,859.9 276.3,852.6 258.5,857.2 254.1,850.5 268.9,858.8 257.8,859.7 329.9,859.4 333.1,849.6 326.5,850.3 327.1,857.5 334.5,857.8 330.7,858 326.4,859 322.1,858.5 327.9,856 336.1,856.3 323.4,857.9 333.5,860.2 336.8,851 317.4,854.8 324.3,858.9 326.1,854.7 337.1,855.6 325.3,859.1 328.6,855.8 334.1,859.8 319.8,856.1 318.3,857.1 326.5,852.5 334.8,860.1 401.8,859 418.1,852 411.9,854.5 406.4,856.7 412,860 408.7,857.8 416.1,857.1 406.7,858.4 403.8,855.6 407.5,859.7 410.9,856.3 416.3,855.8 411.2,847.1 405.7,855 403,859.6 412,858.1 407,855.6 404.8,854.8 532.6,858.7 534.9,858.7 534.4,858.6 513.1,856.4 521,859.7 524.8,855 519.4,848.7 524.3,857.8 527.9,858 530.6,857.2 533,849.1 526.7,858.7 531,858.8 512.1,859.8 515.6,853.8 522,858.8 520.2,859.2 521.7,859.4 519.8,846.1 521.3,859.9 512.2,848.5 526.3,853.5 515.6,851 514,851.6 529.6,859.3 635.3,853 623.2,857.2 629.4,856.2 628.3,857 620.4,850.9 619.5,857.7 627.3,857.5 633.3,859.3 628.8,859.9 624.7,849.8 638.6,857 619.5,852.1 623.3,853.8 622.4,854.3 620.5,855.2 616.6,859.5 634.2,853.8 625.5,859.5 629.4,857.8 636.5,859.7 631.7,854.3 620,854.1 748.1,852.2 757.4,859.9 763.7,852.7 762.9,859.5 754.5,856.1 762.1,859.4 748.9,858.4 764.2,857 771.6,838.3 753.8,840.3 756.7,856.8 757.1,858.2 762.3,850.3 767.6,855.4 755.3,858 747.7,852.2 772.3,857.7 759.7,859.9 750.9,859.4 762.7,859.7 749.6,856.3 765.3,845.3 762.1,844.2 759.1,859.1 746.5,856.7 764.3,851.9 748.4,845.9 797.6,858 795.5,858.9 805.5,856.9 805,859.1 797.3,855 807.4,848.9 803.9,859.7 806.1,858.2 798.6,855.1 806.7,859.5 800.9,852.1 805.5,856.3 798.8,859.8 171,840 144.6,843.4 180,843 185,843 272.2,839.3 336.8,826.2 323.7,843.7 418.7,820.7 401.5,839.3 417.6,838.8 533.3,837.4 754.5,837.1 746.3,842.8 751.8,844.2"/>
<polyline class="dP" points="119,858.3 145.5,860 198.9,859.7 121.6,859.9 124.4,856.5 200.1,849.7 329.5,856.5 412.3,858.4 523.6,858.1 632.5,858.9 631.7,859.1 751,857.1 803,857.4 803.1,859.6 253.8,843.4"/>
<path d="M53.5 769.8H848.5M53.5 799.9H848.5" stroke="#2f5878" stroke-width="1.35" stroke-dasharray="4.2 5" fill="none"/>
<path d="M51.8 589V890.5H859.4" stroke="#c6d4df" stroke-width="2.6" fill="none"/>
<rect x="848.5" y="874.2" width="10.9" height="15.1" fill="#f3f3f3"/>
<rect x="848.5" y="585.4" width="10.9" height="288.8" fill="#c8c8c8"/>
<path d="M851.4 886l2.6 2.6l2.6-2.6" stroke="#333" stroke-width="1.3" fill="none"/>
<rect x="18.6" y="763.3" width="30.7" height="13" rx="3" fill="#8a1b61"/>
<text x="22.2" y="773.3" class="bd" textLength="5" lengthAdjust="spacingAndGlyphs">8</text>
<circle cx="41.6" cy="769.8" r="3.6" fill="none" stroke="#e9cfe0" stroke-width=".7"/>
<path d="M41.6 769.2v2.6M41.6 767.6v.8" stroke="#e9cfe0" stroke-width=".8"/>
<rect x="18.6" y="793.4" width="30.7" height="13" rx="3" fill="#8a1b61"/>
<text x="22.2" y="803.4" class="bd" textLength="5" lengthAdjust="spacingAndGlyphs">6</text>
<circle cx="41.6" cy="799.9" r="3.6" fill="none" stroke="#e9cfe0" stroke-width=".7"/>
<path d="M41.6 799.3v2.6M41.6 797.7v.8" stroke="#e9cfe0" stroke-width=".8"/>
<text x="859.4" y="901.3" class="pc" text-anchor="end" textLength="79.3" lengthAdjust="spacingAndGlyphs">Phenotypic Categories</text>
<text transform="translate(76.1 924) rotate(-45)" class="xl" text-anchor="end" textLength="35.1" lengthAdjust="spacingAndGlyphs">Infectious</text>
<text transform="translate(113 924) rotate(-45)" class="xl" text-anchor="end" textLength="41" lengthAdjust="spacingAndGlyphs">Neoplasms</text>
<text transform="translate(212.2 924) rotate(-45)" class="xl" text-anchor="end" textLength="52.9" lengthAdjust="spacingAndGlyphs">Blood/Immune</text>
<text transform="translate(242.6 924) rotate(-45)" class="xl" text-anchor="end" textLength="74.3" lengthAdjust="spacingAndGlyphs">Endocrine/Metabolic</text>
<text transform="translate(294 924) rotate(-45)" class="xl" text-anchor="end" textLength="24.6" lengthAdjust="spacingAndGlyphs">Mental</text>
<text transform="translate(308.3 924) rotate(-45)" class="xl" text-anchor="end" textLength="30.5" lengthAdjust="spacingAndGlyphs">Nervous</text>
<text transform="translate(342.2 924) rotate(-45)" class="xl" text-anchor="end" textLength="14.1" lengthAdjust="spacingAndGlyphs">Eye</text>
<text transform="translate(394.8 924) rotate(-45)" class="xl" text-anchor="end" textLength="12.8" lengthAdjust="spacingAndGlyphs">Ear</text>
<text transform="translate(423 924) rotate(-45)" class="xl" text-anchor="end" textLength="54.7" lengthAdjust="spacingAndGlyphs">Cardiovascular</text>
<text transform="translate(505 924) rotate(-45)" class="xl" text-anchor="end" textLength="41.9" lengthAdjust="spacingAndGlyphs">Respiratory</text>
<text transform="translate(539.8 924) rotate(-45)" class="xl" text-anchor="end" textLength="33.7" lengthAdjust="spacingAndGlyphs">Digestive</text>
<text transform="translate(610.7 924) rotate(-45)" class="xl" text-anchor="end" textLength="16" lengthAdjust="spacingAndGlyphs">Skin</text>
<text transform="translate(643.6 924) rotate(-45)" class="xl" text-anchor="end" textLength="58.3" lengthAdjust="spacingAndGlyphs">Musculoskeletal</text>
<text transform="translate(740.5 924) rotate(-45)" class="xl" text-anchor="end" textLength="50.1" lengthAdjust="spacingAndGlyphs">Urinary/Renal</text>
<text transform="translate(776.7 924) rotate(-45)" class="xl" text-anchor="end" textLength="39.2" lengthAdjust="spacingAndGlyphs">Pregnancy</text>
<text transform="translate(788.7 924) rotate(-45)" class="xl" text-anchor="end" textLength="39.2" lengthAdjust="spacingAndGlyphs">Congenital</text>
<text transform="translate(813.1 924) rotate(-45)" class="xl" text-anchor="end" textLength="44.2" lengthAdjust="spacingAndGlyphs">Lab findings</text>
<text transform="translate(846 924) rotate(-45)" class="xl" text-anchor="end" textLength="56.1" lengthAdjust="spacingAndGlyphs">Health services</text>
</g>
<g>
<text x="903.8" y="522.9" class="pl">(D)</text>
<text x="1103.1" y="538.3" class="tt" textLength="426.8" lengthAdjust="spacing">NRBP1 for Phenome-wide association study (UKB continuous traits)</text>
<text x="891.4" y="551.5" class="mp">Manhattan plot</text>
<path d="M879.7 565.7H1739.4" stroke="#e1e8ee" stroke-width="1.1"/>
<text x="920.7" y="583.2" class="yl" textLength="57.6" lengthAdjust="spacingAndGlyphs">-log10 (P-value)</text>
<path d="M1599.9 582.5h6.2l-3.1-4.8z" fill="none" stroke="#444" stroke-width="1.15"/>
<text x="1611.2" y="583.2" class="lg" textLength="48.5" lengthAdjust="spacingAndGlyphs">Effect size &gt; 0</text>
<path d="M1674.1 577.6h6.2l-3.1 4.8z" fill="none" stroke="#444" stroke-width="1.15"/>
<text x="1685.4" y="583.2" class="lg" textLength="48.5" lengthAdjust="spacingAndGlyphs">Effect size &lt; 0</text>
<text x="891.4" y="901.9" class="yt" textLength="5" lengthAdjust="spacingAndGlyphs">0</text>
<text x="891.4" y="871.4" class="yt" textLength="5" lengthAdjust="spacingAndGlyphs">2</text>
<text x="891.4" y="840.9" class="yt" textLength="5" lengthAdjust="spacingAndGlyphs">4</text>
<text x="891.4" y="810.4" class="yt" textLength="5" lengthAdjust="spacingAndGlyphs">6</text>
<text x="891.4" y="779.9" class="yt" textLength="5" lengthAdjust="spacingAndGlyphs">8</text>
<text x="891.4" y="749.4" class="yt" textLength="10" lengthAdjust="spacingAndGlyphs">10</text>
<text x="891.4" y="718.9" class="yt" textLength="10" lengthAdjust="spacingAndGlyphs">12</text>
<text x="891.4" y="688.4" class="yt" textLength="10" lengthAdjust="spacingAndGlyphs">14</text>
<text x="891.4" y="657.9" class="yt" textLength="10" lengthAdjust="spacingAndGlyphs">16</text>
<text x="891.4" y="627.4" class="yt" textLength="10" lengthAdjust="spacingAndGlyphs">18</text>
<text x="891.4" y="596.9" class="yt" textLength="10" lengthAdjust="spacingAndGlyphs">20</text>
<path d="M922.1 867H1728.1M922.1 836.5H1728.1M922.1 806H1728.1M922.1 775.5H1728.1M922.1 745H1728.1M922.1 714.5H1728.1M922.1 684H1728.1M922.1 653.5H1728.1M922.1 623H1728.1M922.1 592.5H1728.1M947.6 592.6V922.9M1123.6 592.6V922.9M1447.7 592.6V922.9M1457.3 592.6V925.1M1530.4 592.6V925.1M1559.5 592.6V925.1M1582.7 592.6V925.1M1600.3 592.6V925.1M1610.1 592.6V926.6M1681.3 592.6V926.6" stroke="#dfe6ec" stroke-width="1" fill="none"/>
<rect x="923.1" y="775.5" width="805" height="30.5" fill="#f1fafb"/>
<path d="M947.6 775.5V806M1123.6 775.5V806M1447.7 775.5V806M1457.3 775.5V806M1530.4 775.5V806M1559.5 775.5V806M1582.7 775.5V806M1600.3 775.5V806M1610.1 775.5V806M1681.3 775.5V806" stroke="#dde7ec" stroke-width="1" fill="none"/>
<polyline class="uL" points="1022.8,846.4 1017.9,862.6 1050.7,847.2 963.9,855.2 1081.4,850.4 1092,854 1004.2,863.2 994.8,861 1093.1,858.6 969.2,859.3 1064.7,861.5 1024,846.5 1023.3,847.8 961.2,860.6 1095.4,864.5 1040.7,857.7 966.9,847.7 1544.7,863.4 1542.4,863.8 1538.8,863.6 1548.9,861.8 1615.2,851.5 1630.2,864.2 1637.3,849.4 1639.5,850.3 1633.9,854.7 1616.1,858.5 1666.6,858.1 1627.7,848.1 1650,847.7 1623,849.9 1651.4,860.7 1639.1,851 1625.4,856.7 1671,863.1 1629.7,858.4 1654.3,851.6 1640.1,861.5 1630.4,861.1 1089.1,839.1 1090.4,844.8 1588.7,845 1613.8,844.2"/>
<polyline class="dL" points="1087,854.7 1033.3,852.2 980.4,859 1058,852.2 1073.6,862.5 1009.1,846.8 1056.8,850.9 1020.3,860.3 954.9,858.3 988.7,864 1033.5,864.6 1057,853 986.4,858.3 1079.4,862.2 1027.3,856.4 982.2,850 987,860.7 1033.3,857.5 1019.3,863.2 1014.3,862.3 999,863.8 1048.7,847.7 1009,855.5 1059,862.7 1026.4,858.7 1041.5,848.8 975.8,859.7 1115,853.6 1106.3,852.1 971.4,857.4 997.3,856 1012.6,852.6 986.7,859.9 1050.9,859.8 977.9,856.6 1045.5,849.6 1027.7,859.9 1054.1,854 1088.6,862 1037.4,853.7 958.5,864.1 1054.8,858.2 1108.6,859 965.2,850 1105.6,858.8 1085.2,864.7 1087.8,863.5 1101.7,850.2 1110.7,846.4 1090.4,864.8 973.6,860.8 1087.5,861.3 978.3,855.7 1047.6,860.7 1053.7,862.6 994.1,853.2 986,848.4 1057.7,862.5 1033.2,859 1094.1,853.2 963.2,864.7 1040.5,858.4 988.8,850.7 1073.1,856.8 966.5,858 1054.6,847.1 1091.5,848.1 1105.8,855.9 1022.6,848.2 973.3,850.7 1015.1,846.5 987.6,847.2 987.1,861.3 988.8,865.2 1056.1,857.4 1038.7,860.5 1017.7,862.4 1008,849.6 1114.9,864.4 1113.3,858.8 1005.8,852 1086.4,853.6 1018.6,856.8 985.2,862.7 993.9,846.5 965.6,846.9 1017.5,856.1 1044.8,862.4 1021.1,857.9 1074.3,861.4 1072.7,863.2 963.2,855.4 1104.8,846.7 1099,854.4 1033.2,854.3 1110.9,861.9 953.4,865 952.7,849.2 1094.7,860.1 983.7,858.2 1100.9,860.7 1030.7,856.4 1064.4,847.4 1072.3,855.6 968.9,864.5 1025.3,861 1090,857.4 1019.7,860.7 1115.1,859.4 1102.6,848.3 1080.4,857.7 1075,849.8 1537.1,861.9 1544,865 1543.9,863.8 1548.3,860.2 1554.2,852.7 1551,858.9 1553.4,854.1 1552.2,859.6 1541,855 1551,856.9 1593,866.6 1589.4,866.9 1624.3,848.8 1671.2,858.6 1645.2,850.8 1616.5,859.3 1630.5,854.7 1659.5,856.7 1662.5,866.5 1631.5,849 1651.6,860.6 1670.7,851.4 1650.5,864.7 1648.1,847.4 1649.1,847.6 1618.9,858.9 1643.8,863.5 1631,850.8 1616.4,862.8 1661.6,856.9 1660.2,851.3 1632.5,854.8 1659.1,848.7 1617.4,860.4 1638.6,851.9 1651.4,849.5 1667.6,865.5 1641.2,860.7 1643,856.8 1656.5,861.3 1669.4,853.8 1665.7,859.5 1620.1,847.4 1647.7,859.1 1670.5,856.7 1649,863.9 1590,833.6 1592.5,854 1652.2,842.3"/>
<polyline class="uP" points="1207,865.1 1205.4,853.2 1160.8,857.4 1195.6,856.1 1222.2,856 1433.4,865.1 1205.3,861.9 1145.6,864.3 1202.2,859.4 1385.9,859.5 1345.6,862.8 1423.4,858.3 1426.8,863.5 1388.4,864.3 1151.6,861.3 1228,861.3 1402.1,865.9 1411.1,864.2 1144.6,861.3 1297,861.6 1146.6,866 1401,859.1 1385.1,862.7 1166.4,855.8 1226.1,864.5 1254.2,862.5 1153.8,859.5 1208.1,864 1295.4,864.8 1391.8,864.9 1264.7,861.7 1317.8,859.7 1296.6,856.8 1346.6,860.3 1302.8,855.6 1178.6,854 1429.6,848.7 1415.5,852.2 1282.1,866.2 1218,865.3 1327.5,864.5 1376.1,861.9 1427.4,865.5 1359.7,861.8 1380.9,862.6 1300.6,865.4 1362.9,843.9 1359.5,856.9 1207.4,861.7 1312.4,862.8 1156.8,841 1316.3,858.5 1400.3,864 1297.2,865.6 1320.4,863.2 1188.3,862 1388.4,860.2 1332.1,862.5 1161.4,865.7 1328.8,863.5 1134.4,861.7 1210,858.6 1183.9,861.2 1349.9,865.4 1410.1,861.3 1133.3,857.5 1174.7,864.4 1233.3,857.1 1366.1,864.9 1371,857.9 1343.7,856.4 1284.6,864.4 1357.3,865.1 1293.2,861.2 1413.6,856.5 1326.4,861.8 1337.8,852 1152.5,865.8 1328.7,863.5 1378.4,860.9 1201.3,865 1152.6,865 1364.8,861.5 1383.9,858.4 1212.5,850.5 1396.4,864.6 1175.5,865.2 1227.4,860.7 1171.3,861.7 1230.4,857.5 1193.5,847.4 1256.9,865.8 1380.2,862.9 1128.8,862.8 1282.4,850.4 1340.8,865.6 1137.7,859.8 1214.7,856.9 1341.8,853.6 1398.2,852.9 1196.5,859.7 1134.3,851.3 1401,860.2 1369.4,855.8 1384.9,858.4 1167.7,865.4 1219.7,862.7 1403.6,858.4 1289.9,859.5 1165.7,864.6 1156.9,866.2 1173.9,853.1 1180.7,865.3 1142.1,865.1 1174.1,866.2 1255.2,866 1269.4,855.4 1395.2,863.9 1374.7,860.1 1305.3,862.9 1396.2,865.1 1338.2,864.7 1213.2,863 1260.3,866.1 1439.9,865.3 1213.8,863.4 1431.2,853.4 1432.8,865.1 1156.7,866.2 1344.9,863.9 1274.1,859.3 1264.4,845 1355.2,865.3 1424.7,863.9 1353.1,845.5 1294.3,852.7 1225.5,857.4 1393.1,863.4 1259.3,864.9 1406.3,850 1273,865.9 1268.4,862.9 1383.7,860.5 1173.2,863.6 1307.1,859.4 1385.1,861.7 1144.9,860.1 1181.5,862.5 1373.9,861.9 1207.8,863.1 1238.6,855.3 1437.9,854.4 1220.8,864.9 1262,865.4 1360.6,864.8 1397.3,864.5 1147.1,865.9 1164.9,840.6 1209.6,864 1433.6,865 1341.3,863.9 1274.9,841.7 1192.9,864 1355.4,863.1 1492.1,863.7 1509,864.4 1489.4,864.9 1524.6,860.4 1473.3,858.2 1520,847.1 1464.2,864.6 1514.9,859.3 1508.4,865.2 1492.3,866 1519.2,853.8 1510.8,864.6 1468.2,854.5 1466.7,865.8 1466.3,862.6 1507.6,860 1480.1,865.1 1462.5,864 1517.9,861.5 1485.9,863.6 1497.7,859.1 1470.8,864.9 1491.6,865.6 1482.7,861.9 1504.9,862.3 1488.8,855.6 1521,860.6 1498.3,859.9 1511.3,865.8 1496.4,862.9 1487.5,861.5 1490.5,861.2 1515.2,866.1 1478.6,866 1485.1,866.1 1523.2,856.4 1507.4,862.7 1573.4,858.8 1575.2,856.4 1567.9,860 1577.5,857.7 1567.9,865.6 1572.9,859.5 1574.7,856.3 1577.4,860.7 1565.7,864.9 1699.6,864.2 1687.3,847.5 1706.1,864.9 1698.8,864.7 1717.6,850.4 1726.7,864.1 1695.1,866 1707.5,854 1724.8,844.1 1689.7,864.6 1715.4,859.5 1725.5,860.6 1693.8,865 1690.5,861.3 1701.4,866.1 1720.3,862.3 1720.9,857.3 1691.6,856.5 1726.1,854.5 1286.3,832.5 1386.1,823.2 1704,839.1"/>
<polyline class="dP" points="1199.3,865.9 1228,863.3 1186.4,861.8 1354.1,863.2 1197.8,857.3 1411.4,861.7 1151.5,861.3 1300.5,865.7 1365.4,861.4 1290.1,862.3 1404.2,859.5 1332.4,863.4 1190.1,862 1254,858.6 1281.9,858.7 1159.3,863.1 1432.7,856.2 1292.5,862.8 1249.2,863.7 1189.3,864.5 1156.4,865.6 1192.6,859.7 1348.2,860.8 1157.5,865.5 1176.8,863 1434.9,866.1 1277.8,865.3 1216.3,865.6 1209.9,859.8 1214.6,866.2 1157.3,855.9 1394.5,844.2 1370.9,865.3 1210.8,865.8 1389.5,863.8 1253.8,863 1359.2,864.3 1326.6,853.9 1186,848.6 1361.9,862.9 1193,861.6 1355.2,860.9 1201.2,865.4 1226.8,864.2 1306.9,863.6 1332.5,865.5 1380.3,864.8 1354.8,865.7 1307.1,855.4 1437.9,863.7 1225.8,863.9 1401.3,862.3 1300.2,861.7 1162.9,846.5 1327.5,864.7 1150.4,865.7 1292.4,862.5 1249,865.1 1308,865.6 1145.1,858.3 1341.3,857.5 1251.8,864.4 1257.5,865.2 1395.7,865.2 1269.8,864 1146.6,856.1 1200.7,858.7 1361.3,865.8 1356.2,854.9 1325,866.1 1226.3,849.9 1260.7,856.3 1374,860.7 1221.5,866 1413.5,862.7 1129.8,860.9 1400.7,859.9 1418.2,859.2 1316.7,860.7 1429.8,860.1 1323.8,865 1421.6,859.5 1382.9,864.6 1192.7,861.3 1182.6,859 1227.3,864.5 1319.9,859.7 1305.1,862.3 1133,865.9 1325.9,858.1 1228.3,863.2 1236.5,861.2 1240.4,865.8 1370.5,860.9 1300.1,864.5 1387.6,859.6 1360.7,859.3 1329.3,860.4 1290,857.4 1290.6,865 1468.7,854.8 1486.7,863.1 1466.4,859.7 1512.8,860.4 1511.1,862 1464.7,863.1 1464.2,865.5 1466.2,863.3 1473,863.8 1502.1,865.9 1498.4,858.6 1464,839.8 1464.9,846.9 1503.4,866.1 1472.5,863.8 1505.5,865.8 1570,856.1 1570.3,857 1702.5,862.8 1711.9,865.1 1716.2,865.1 1695.8,854.6 1707.1,863.5 1698.6,864.4 1714.2,858.5 1710.3,843.8 1701.7,865.9 1695.7,862.9 1704.6,856.6 1702.6,854.5 1713.6,865.5 1696.4,865.7 1705.4,862.5 1695.5,856.3 1690.8,854.8"/>
<path d="M924.1 775.5H1728.1M924.1 806H1728.1" stroke="#2f5878" stroke-width="1.35" stroke-dasharray="4.2 5" fill="none"/>
<path d="M922.4 592.6V897.7H1738.8" stroke="#c6d4df" stroke-width="2.6" fill="none"/>
<rect x="1728.1" y="881" width="10.7" height="15.5" fill="#f3f3f3"/>
<rect x="1728.1" y="589" width="10.7" height="292" fill="#c8c8c8"/>
<path d="M1730.8 892.6l2.6 2.6l2.6-2.6" stroke="#333" stroke-width="1.3" fill="none"/>
<rect x="888.7" y="769" width="30.7" height="13" rx="3" fill="#8a1b61"/>
<text x="892.3" y="779" class="bd" textLength="5" lengthAdjust="spacingAndGlyphs">8</text>
<circle cx="911.7" cy="775.5" r="3.6" fill="none" stroke="#e9cfe0" stroke-width=".7"/>
<path d="M911.7 774.9v2.6M911.7 773.3v.8" stroke="#e9cfe0" stroke-width=".8"/>
<rect x="888.7" y="799.5" width="30.7" height="13" rx="3" fill="#8a1b61"/>
<text x="892.3" y="809.5" class="bd" textLength="5" lengthAdjust="spacingAndGlyphs">6</text>
<circle cx="911.7" cy="806" r="3.6" fill="none" stroke="#e9cfe0" stroke-width=".7"/>
<path d="M911.7 805.4v2.6M911.7 803.8v.8" stroke="#e9cfe0" stroke-width=".8"/>
<text x="1738.8" y="908.1" class="pc" text-anchor="end" textLength="79.3" lengthAdjust="spacingAndGlyphs">Phenotypic Categories</text>
<text transform="translate(947 930.9) rotate(-45)" class="xl" text-anchor="end" textLength="71.5" lengthAdjust="spacingAndGlyphs">NMR Metabolomics</text>
<text transform="translate(1123 930.9) rotate(-45)" class="xl" text-anchor="end" textLength="41" lengthAdjust="spacingAndGlyphs">Proteomics</text>
<text transform="translate(1447.1 930.9) rotate(-45)" class="xl" text-anchor="end" textLength="41" lengthAdjust="spacingAndGlyphs">Neoplasms</text>
<text transform="translate(1456.7 933.1) rotate(-45)" class="xl" text-anchor="end" textLength="30.5" lengthAdjust="spacingAndGlyphs">Nervous</text>
<text transform="translate(1529.8 933.1) rotate(-45)" class="xl" text-anchor="end" textLength="14.1" lengthAdjust="spacingAndGlyphs">Eye</text>
<text transform="translate(1558.9 933.1) rotate(-45)" class="xl" text-anchor="end" textLength="54.7" lengthAdjust="spacingAndGlyphs">Cardiovascular</text>
<text transform="translate(1582.1 933.1) rotate(-45)" class="xl" text-anchor="end" textLength="41.9" lengthAdjust="spacingAndGlyphs">Respiratory</text>
<text transform="translate(1599.7 933.1) rotate(-45)" class="xl" text-anchor="end" textLength="58.3" lengthAdjust="spacingAndGlyphs">Musculoskeletal</text>
<text transform="translate(1609.5 934.6) rotate(-45)" class="xl" text-anchor="end" textLength="44.2" lengthAdjust="spacingAndGlyphs">Lab findings</text>
<text transform="translate(1680.7 934.6) rotate(-45)" class="xl" text-anchor="end" textLength="56.1" lengthAdjust="spacingAndGlyphs">Health services</text>
</g>
<g>
<text x="2.2" y="1037" class="pl">(E)</text>
<text x="229.2" y="1051.6" class="tt" textLength="399.1" lengthAdjust="spacing">IFT172 for Phenome-wide association study (UKB binary traits)</text>
<text x="24.1" y="1062" class="mp">Manhattan plot</text>
<path d="M15 1076H874.2" stroke="#e1e8ee" stroke-width="1.1"/>
<text x="53.4" y="1093.5" class="yl" textLength="57.6" lengthAdjust="spacingAndGlyphs">-log10 (P-value)</text>
<path d="M735.8 1092.5h6.2l-3.1-4.8z" fill="none" stroke="#444" stroke-width="1.15"/>
<text x="747.2" y="1093.2" class="lg" textLength="48.6" lengthAdjust="spacingAndGlyphs">Odds ratio &gt; 1</text>
<path d="M806.2 1087.6h6.2l-3.1 4.8z" fill="none" stroke="#444" stroke-width="1.15"/>
<text x="817.5" y="1093.2" class="lg" textLength="48.6" lengthAdjust="spacingAndGlyphs">Odds ratio &lt; 1</text>
<text x="24.1" y="1410.1" class="yt" textLength="5" lengthAdjust="spacingAndGlyphs">0</text>
<text x="24.1" y="1379.8" class="yt" textLength="5" lengthAdjust="spacingAndGlyphs">2</text>
<text x="24.1" y="1349.5" class="yt" textLength="5" lengthAdjust="spacingAndGlyphs">4</text>
<text x="24.1" y="1319.3" class="yt" textLength="5" lengthAdjust="spacingAndGlyphs">6</text>
<text x="24.1" y="1289" class="yt" textLength="5" lengthAdjust="spacingAndGlyphs">8</text>
<text x="24.1" y="1258.7" class="yt" textLength="10" lengthAdjust="spacingAndGlyphs">10</text>
<text x="24.1" y="1228.4" class="yt" textLength="10" lengthAdjust="spacingAndGlyphs">12</text>
<text x="24.1" y="1198.1" class="yt" textLength="10" lengthAdjust="spacingAndGlyphs">14</text>
<text x="24.1" y="1167.9" class="yt" textLength="10" lengthAdjust="spacingAndGlyphs">16</text>
<text x="24.1" y="1137.6" class="yt" textLength="10" lengthAdjust="spacingAndGlyphs">18</text>
<text x="24.1" y="1107.3" class="yt" textLength="10" lengthAdjust="spacingAndGlyphs">20</text>
<path d="M54.5 1375.4H856.4M54.5 1345.1H856.4M54.5 1314.9H856.4M54.5 1284.6H856.4M54.5 1254.3H856.4M54.5 1224H856.4M54.5 1193.7H856.4M54.5 1163.5H856.4M54.5 1133.2H856.4M54.5 1102.9H856.4M79.7 1102.8V1431.5M121.9 1102.8V1431.5M213.9 1102.8V1431.5M240.4 1102.8V1431.5M279.6 1102.8V1431.5M294.1 1102.8V1431.5M342 1102.8V1431.5M386.9 1102.8V1431.5M409.9 1102.8V1431.5M482.1 1102.8V1431.5M524.5 1102.8V1431.5M589.7 1102.8V1431.5M626.4 1102.8V1431.5M727.4 1102.8V1431.5M771.5 1102.8V1431.5M780.8 1102.8V1431.5M805.2 1102.8V1431.5M836.4 1102.8V1434M844.6 1102.8V1436.5M858.9 1405.7V1436.5" stroke="#dfe6ec" stroke-width="1" fill="none"/>
<rect x="55.5" y="1284.6" width="800.9" height="30.3" fill="#f1fafb"/>
<path d="M79.7 1284.6V1314.9M121.9 1284.6V1314.9M213.9 1284.6V1314.9M240.4 1284.6V1314.9M279.6 1284.6V1314.9M294.1 1284.6V1314.9M342 1284.6V1314.9M386.9 1284.6V1314.9M409.9 1284.6V1314.9M482.1 1284.6V1314.9M524.5 1284.6V1314.9M589.7 1284.6V1314.9M626.4 1284.6V1314.9M727.4 1284.6V1314.9M771.5 1284.6V1314.9M780.8 1284.6V1314.9M805.2 1284.6V1314.9M836.4 1284.6V1314.9M844.6 1284.6V1314.9" stroke="#dde7ec" stroke-width="1" fill="none"/>
<path d="M82.2 1377.1L81.2 1374.6V1367.7L82.7 1359.5L84.2 1363.5L85.7 1360.2L87.2 1365.2L88.7 1361.5L90.2 1363.9L91.7 1360L93.2 1365.7L94.7 1362L96.2 1363.5L97.7 1362.2L99.2 1364.1L100.7 1361.5L102.2 1364.1L103.7 1359.8L105.2 1364.3L106.7 1361.3L108.2 1364.9L109.7 1360.6L111.2 1364.2L112.7 1361.2L114.2 1364.6L115.7 1360.8L117.2 1365.1L118.7 1362L120.2 1364.3L120.4 1362.2V1374.6L119.4 1376.9L117.2 1377.8L115 1376.9L112.8 1377.3L110.6 1377L108.4 1378L106.2 1377L104 1378L101.8 1377.1L99.6 1377.9L97.4 1377.1L95.2 1377.7L93 1376.9L90.8 1377.6L88.6 1376.9L86.4 1377.9L84.2 1376.8zM216.4 1377.1L215.4 1374.6V1369.1L216.9 1362.4L218.4 1366.6L219.9 1363.4L221.4 1366.1L222.9 1364.4L224.4 1367.3L225.9 1363.1L227.4 1366.6L228.9 1362.5L230.4 1366.8L231.9 1364.8L233.4 1367.2L234.9 1362.7L236.4 1366.7L237.9 1363.8L238.9 1365.7V1374.6L237.9 1377.1L235.7 1377.4L233.5 1377L231.3 1377.7L229.1 1377L226.9 1377.9L224.7 1377.1L222.5 1377.2L220.3 1377L218.1 1377.7zM280.1 1377.1L279.1 1374.6V1370.9L280.6 1367.3L282.1 1368.7L283.6 1367L285.1 1368.7L286.6 1366.5L288.1 1368.3L289.6 1366.9L291.1 1369.3L292.6 1366.6L294.1 1368.8L294.6 1366.2V1374.6L293.6 1377L291.4 1377.3L289.2 1376.9L287 1377.2L284.8 1376.9L282.6 1377.8L280.4 1377.1zM344.5 1377.1L343.5 1374.6V1367.7L345 1362.2L346.5 1364L348 1360.9L349.5 1363.4L351 1362.2L352.5 1364.1L354 1362.4L355.5 1365.3L357 1359.9L358.5 1363.6L360 1362.3L361.5 1364.4L363 1361.6L364.5 1364.2L366 1361.3L367.5 1365.5L369 1361.7L370.5 1364.5L372 1359.5L373.5 1364.6L375 1359.9L376.5 1365.3L378 1362.2L379.5 1365.1L381 1359.8L382.5 1364.6L384 1360.1L385.4 1363.5V1374.6L384.4 1376.9L382.2 1378L380 1376.8L377.8 1378L375.6 1376.8L373.4 1377.9L371.2 1377L369 1377.3L366.8 1376.8L364.6 1377.2L362.4 1376.9L360.2 1377.8L358 1377L355.8 1377.2L353.6 1376.9L351.4 1377.6L349.2 1377L347 1377.6L344.8 1376.9zM412.4 1377.1L411.4 1374.6V1367.7L412.9 1361.1L414.4 1365L415.9 1360.2L417.4 1363.4L418.9 1361.4L420.4 1363.4L421.9 1360L423.4 1364.6L424.9 1361.7L426.4 1364.7L427.9 1361.9L429.4 1364.8L430.9 1361.8L432.4 1365.3L433.9 1359.5L435.4 1363.3L436.9 1360.7L438.4 1364.9L439.9 1360.5L441.4 1363.7L442.9 1362.2L444.4 1365.3L445.9 1359.5L447.4 1363.4L448.9 1360.7L450.4 1364.6L451.9 1361.8L453.4 1363.3L454.9 1360.5L456.4 1365.7L457.9 1362.5L459.4 1363.5L460.9 1360.5L462.4 1363.3L463.9 1362.4L465.4 1364.8L466.9 1360.1L468.4 1365L469.9 1360.7L471.4 1364.2L472.9 1362.3L474.4 1364.1L475.9 1361.1L477.4 1363.9L478.9 1361.9L480.4 1363.8L480.6 1360.3V1374.6L479.6 1376.9L477.4 1377.7L475.2 1377.1L473 1377.6L470.8 1376.9L468.6 1377.6L466.4 1376.8L464.2 1377.7L462 1377.1L459.8 1377.7L457.6 1377.1L455.4 1377.1L453.2 1376.8L451 1377.2L448.8 1377.1L446.6 1378L444.4 1377L442.2 1377.9L440 1377L437.8 1377.2L435.6 1377L433.4 1377.7L431.2 1376.9L429 1377.7L426.8 1377L424.6 1377.2L422.4 1376.8L420.2 1377.5L418 1376.9L415.8 1377.1L413.6 1377.1zM527 1377.1L526 1374.6V1367.7L527.5 1360.8L529 1365.7L530.5 1361.5L532 1364.9L533.5 1362L535 1365.8L536.5 1361.6L538 1365L539.5 1362.4L541 1365.4L542.5 1360.2L544 1364.2L545.5 1361.4L547 1365.3L548.5 1362L550 1364L551.5 1359.5L553 1364.5L554.5 1359.7L556 1365.5L557.5 1359.9L559 1364.2L560.5 1360.4L562 1364.8L563.5 1362.1L565 1365.7L566.5 1361.8L568 1364.7L569.5 1359.8L571 1365.1L572.5 1362.1L574 1364.5L575.5 1360.1L577 1365.7L578.5 1361.8L580 1364.9L581.5 1359.4L583 1363.4L584.5 1360.6L586 1364.8L587.5 1360.8L588.2 1364.4V1374.6L587.2 1376.9L585 1377.5L582.8 1377L580.6 1377.8L578.4 1376.9L576.2 1378L574 1376.9L571.8 1377.9L569.6 1376.9L567.4 1377.3L565.2 1377.1L563 1377.2L560.8 1377.1L558.6 1377.5L556.4 1377.1L554.2 1377.6L552 1377.1L549.8 1377.2L547.6 1377.1L545.4 1377.2L543.2 1376.9L541 1377.9L538.8 1377.1L536.6 1377.9L534.4 1376.9L532.2 1377.6L530 1377L527.8 1377.7zM628.9 1377.1L627.9 1374.6V1367.7L629.4 1360L630.9 1363.9L632.4 1362.5L633.9 1363.5L635.4 1362L636.9 1365L638.4 1359.6L639.9 1363.4L641.4 1360.9L642.9 1363.7L644.4 1361.1L645.9 1363.3L647.4 1359.5L648.9 1363.4L650.4 1362.3L651.9 1363.3L653.4 1360.1L654.9 1364.6L656.4 1360.3L657.9 1363.8L659.4 1361L660.9 1365.4L662.4 1362.3L663.9 1365.5L665.4 1360.5L666.9 1363.7L668.4 1359.9L669.9 1365.5L671.4 1362.3L672.9 1363.6L674.4 1361.1L675.9 1365.6L677.4 1361.2L678.9 1363.4L680.4 1362.3L681.9 1365.5L683.4 1362.2L684.9 1365.6L686.4 1361.7L687.9 1365.6L689.4 1360.8L690.9 1365.2L692.4 1360.2L693.9 1363.4L695.4 1360.4L696.9 1365L698.4 1362.3L699.9 1364.9L701.4 1361.4L702.9 1364.7L704.4 1359.6L705.9 1364.5L707.4 1359.8L708.9 1365.7L710.4 1360L711.9 1363.7L713.4 1361.5L714.9 1364.9L716.4 1359.8L717.9 1363.3L719.4 1360.8L720.9 1363.9L722.4 1360.8L723.9 1365.7L725.4 1360.6L725.9 1363.3V1374.6L724.9 1377L722.7 1377.9L720.5 1377L718.3 1377.5L716.1 1377L713.9 1377.4L711.7 1376.9L709.5 1377.8L707.3 1376.9L705.1 1377.9L702.9 1377L700.7 1377.8L698.5 1377.1L696.3 1377.6L694.1 1377L691.9 1377.5L689.7 1376.9L687.5 1377.8L685.3 1376.9L683.1 1377.5L680.9 1376.9L678.7 1377.4L676.5 1376.8L674.3 1377.6L672.1 1377L669.9 1377.3L667.7 1377L665.5 1377.8L663.3 1377L661.1 1377.2L658.9 1376.8L656.7 1377.2L654.5 1376.9L652.3 1377.2L650.1 1376.8L647.9 1377.2L645.7 1377L643.5 1377.7L641.3 1377L639.1 1377.6L636.9 1377L634.7 1377.8L632.5 1377L630.3 1378zM772 1377.1L771 1374.6V1372.7L772.5 1370L774 1371.8L775.5 1370.2L777 1371.4L778.5 1370.5L780 1371.7L781.3 1370.4V1374.6L780.3 1376.9L778.1 1377.5L775.9 1376.9L773.7 1377.6zM807.7 1377.1L806.7 1374.6V1369.1L808.2 1364.4L809.7 1365.5L811.2 1363.1L812.7 1365.9L814.2 1364.3L815.7 1366.5L817.2 1363.5L818.7 1367.5L820.2 1363.7L821.7 1365.7L823.2 1364.4L824.7 1366.7L826.2 1363.1L827.7 1366.1L829.2 1363.7L830.7 1366.9L832.2 1363.1L833.7 1367.5L834.9 1364.7V1374.6L833.9 1376.9L831.7 1377.5L829.5 1376.8L827.3 1377.8L825.1 1377L822.9 1377.2L820.7 1377L818.5 1377.5L816.3 1377L814.1 1377.5L811.9 1376.9L809.7 1377.5zM847.1 1377.1L846.1 1374.6V1369.1L847.6 1363.7L849.1 1366L850.6 1363.7L852.1 1365.5L853.6 1362.9L855.1 1366L856.6 1364.4L858.1 1366.7L858.4 1363V1374.6L857.4 1376.9L855.2 1377.5L853 1377.1L850.8 1377.7L848.6 1376.9z" fill="#c3e336"/>
<polyline class="uL" points="92.3,1364.7 107.2,1363.7 112.1,1361.4 90.8,1359.6 104.5,1364.8 105.3,1355.1 87,1365.2 102.9,1361.7 100.6,1356.7 88.6,1360.9 99.4,1359.7 85.4,1361.8 94.4,1365.3 100.4,1365.2 111.5,1364.8 111.7,1364.4 88.4,1358.5 93.7,1361 102.3,1346.6 115.8,1364.1 88.1,1350.2 99.8,1358.6 99.8,1361.3 85.8,1364.6 111.1,1360.8 112.4,1355.8 103.3,1357 93.4,1357 95.2,1359 96,1361.8 84.4,1365.2 85.5,1348.2 94.9,1348.9 105.3,1354.1 90.3,1360.5 114.4,1364.3 90.8,1358.8 87.4,1362 107.5,1355.1 87.5,1363.4 97.3,1352.5 85.5,1364.4 103,1355.6 93.6,1355.2 115.2,1362.4 114.5,1363.6 116.8,1362.5 102.5,1352.7 107.2,1354.2 108.9,1364.6 93,1365.7 86.4,1359.5 114.7,1363.1 106.3,1363.5 103,1363.4 84.8,1364.1 97.2,1362.6 93.4,1365.7 102.9,1362.7 108.3,1353 91.5,1365.5 100.5,1364.6 94.7,1359.6 105.4,1352.8 104.6,1356.4 91.8,1360.5 227.7,1356.4 227.8,1362.5 235,1366.2 233,1365.4 221.7,1356.3 229,1363.5 231.8,1368 219.2,1361 231.8,1364 231.6,1365.5 233.6,1366.1 219.1,1364.2 232.4,1361.6 232.5,1355.8 222.9,1367.7 223.8,1364.2 224.7,1367.2 224.4,1361.1 221.2,1367.3 229.9,1364.6 226.8,1358.7 234.8,1357.3 220.9,1364 221.7,1366.1 221.3,1365.6 232.4,1366 220.7,1360.5 235.2,1366.5 234.4,1367.4 233.6,1358.6 234.7,1366.9 233.3,1367.6 229.8,1363.2 221,1357.6 232,1363.8 228,1360.7 221,1367.8 224.8,1365.7 228.1,1355.6 227.4,1357.9 282.2,1365.7 287.8,1366.6 290.8,1353.1 285.2,1366.2 282.4,1370.9 290,1370.6 285.2,1370 283.1,1370.2 286.2,1367.6 283.2,1370.2 288.3,1363.4 283.3,1361.6 290,1370.6 291.2,1369 288.9,1369.9 286.8,1358.4 288,1362.9 285.8,1359.1 285,1361.7 285.3,1363.7 283.3,1366.2 286.8,1358.3 286,1339.2 282.6,1371.1 284.3,1366.5 291.2,1369.6 286.7,1354.9 286,1356.9 287.2,1370.7 285.9,1354 374.6,1365.2 360.1,1358.4 379.1,1363.8 353.6,1349.3 362.8,1362 361.7,1363.6 370.8,1365.7 357.9,1365.6 352.4,1349.1 366.4,1364.7 362.1,1364.7 355.1,1341.9 372.8,1363 366.8,1364.8 357.3,1361.3 372.8,1362.9 381.9,1365.1 382.3,1360.8 376.7,1363.3 352.2,1365.4 359.8,1360.1 358.8,1365.2 368.7,1362.2 365,1361.9 357.8,1359.3 350,1360.5 363.5,1361.7 346.8,1364.4 374.3,1365.7 372.1,1365.4 366.2,1363.8 379.3,1364.2 363.5,1359.8 349.2,1362.2 360.4,1356.6 351.9,1359.5 376.3,1361.6 349.3,1357 365.2,1358.5 382.1,1363 349.1,1365.6 382,1365.2 369.5,1364.5 375.5,1364.8 359,1363.8 351,1364 374.7,1362.8 362.6,1361.3 354.1,1362.5 379.9,1356.6 361.2,1362.4 370.6,1347.3 357,1359 382,1360.6 374.5,1361.9 359.5,1352.8 357.9,1358.3 348.1,1342.3 474.1,1365.3 462.3,1365.6 448.8,1361.6 470.2,1365.6 456.7,1365.1 471.8,1361.8 465.4,1362.8 435.8,1357.1 467.5,1352.7 458.6,1332.8 417.5,1353 421.6,1359.8 475.5,1356.3 461,1361.2 477.6,1356.1 473.1,1363.3 427.2,1349.4 459.2,1363.5 425.1,1359.9 468.3,1360.8 440.3,1362.5 431.2,1350.9 453.3,1364.3 452,1351.8 454.1,1359.2 462.3,1358.5 419.9,1362.6 461.5,1354.1 432.2,1360.6 473.2,1351 441,1359.9 457.4,1351.2 418.7,1364.4 472,1364.3 423.8,1362.2 438.9,1359.2 473.5,1356.5 420.6,1356.4 417.9,1362.6 426.5,1355.4 439.5,1363.3 474.6,1355.8 425.7,1364.9 457.3,1363.6 414.6,1364.1 468.6,1359.5 429.5,1343.6 428.5,1355.8 464.9,1364.6 446.8,1360.7 449.4,1357.6 459,1363.9 456.5,1364.7 461.7,1360.5 470.9,1352.1 426.4,1365 456.9,1357.3 460.6,1364.3 470.8,1362.8 430,1365.1 432.4,1347.7 474.8,1360.3 417.5,1365.1 416,1363.7 440.2,1347.5 439.9,1354 442.9,1364 475.5,1356.2 437.1,1351.2 470.5,1363.9 431,1361.4 425.1,1351.7 422.8,1362 434,1339.2 458,1362.4 477,1363.2 440.5,1357 449.2,1361 455.2,1364.9 476,1365.5 475.3,1365.1 415,1362.7 466.5,1365.2 418.3,1365.5 441.1,1365.8 463.1,1365.3 460.2,1362.9 455.1,1362.8 426.7,1358 452.5,1355 417.2,1364.7 472,1364.4 472.5,1365.4 418.1,1362.8 422.5,1362.6 466.2,1352.6 468.4,1365.4 416.5,1365.2 430.8,1358.2 425.3,1365.7 450.1,1359.7 471.6,1363.9 445.4,1363.2 435.6,1364.1 464.2,1363 452.2,1363.3 436.1,1362.1 460,1353.7 428.3,1363.9 447.7,1352.8 472.3,1362.2 472.8,1360.3 417.7,1360.3 420.6,1357.6 462.1,1340.5 434.2,1365.2 465.6,1363.6 471.4,1365.7 563.7,1351.7 562.3,1365.7 545.2,1361.7 559.4,1362.3 549.5,1353.5 552.7,1364.7 531,1359 558.2,1360.4 578.7,1364.6 568.1,1365.2 547.9,1360.1 556.3,1361.4 536.4,1363.8 537.9,1357.6 546.5,1359.2 572.7,1361.6 567.3,1362.8 577.6,1363.3 551.8,1364.5 543.2,1352.9 556.9,1348.8 563.6,1347.6 555.8,1359.4 538.1,1353.5 578.3,1365.7 580.4,1364 531.5,1362.7 542.5,1352.7 572.5,1357.7 550.6,1363.5 535.1,1354.7 529.1,1354 529,1351.7 578.3,1361 578.1,1360.3 560.9,1361.4 574.4,1365.3 529.2,1361.3 536.8,1365.4 543,1360.6 535.8,1360.8 571.1,1358.6 558.1,1363.7 553.3,1365.8 553.7,1365.3 573.8,1359.6 535.1,1332.9 534.2,1362.2 571.6,1363.1 564.5,1364.5 555.6,1356.9 572,1364.1 550.2,1364.5 553.5,1357.6 537.6,1359.7 538.2,1345.1 579.5,1352.2 548.6,1335.8 576.4,1356.5 559.9,1357 565.7,1362.3 556.9,1362.7 583.5,1364.5 551.6,1361.4 537.7,1362.6 556.3,1361.2 553.4,1360.7 529.3,1357.7 538.9,1363.1 578.3,1353.8 577,1362.7 541.9,1359.4 540.5,1363.4 559,1359.9 562.5,1358.4 557,1330.9 550,1356.7 559.8,1365.1 573.2,1364 572.3,1362.6 572.3,1352.6 574.8,1359 567.2,1364.1 549,1362 580.2,1365.3 569.8,1364.2 573.1,1359.8 574.3,1363.4 565.4,1355.5 561.8,1358.7 539.9,1362.9 547.2,1362.4 547.8,1359.7 565.3,1364.3 557.3,1357.9 578.9,1356.9 533.3,1363.6 567.9,1365.6 562.9,1350.9 571.8,1350.6 581.1,1334.6 558.2,1358.8 569.6,1359.2 547.4,1350.8 540.3,1338.9 570.8,1360.4 584.8,1345.7 545.3,1338.2 560.4,1365.8 579.3,1349.5 584.6,1364.6 554,1364.5 583.7,1363.5 568.7,1363.3 532.5,1362.3 550.5,1365.8 530.5,1365.6 548.5,1358 536.7,1363.4 572.6,1361.3 551.7,1363.9 582.5,1360.5 539.7,1357.4 563.8,1361.5 534.7,1363.5 539.7,1359.6 532.4,1361.8 532.7,1365 703.6,1349 664.1,1359.2 647.4,1363.9 721.3,1361.4 673,1359.3 632.1,1362.8 717.1,1362.7 643.5,1361.4 716.4,1365.8 703.1,1360.2 687.7,1365.1 673.1,1365.4 641.5,1365.1 657.6,1364.7 688.6,1365.1 696.9,1360.2 680.8,1365.8 649.3,1354.9 713.8,1362.9 632.1,1361.6 678.9,1356.6 678.2,1363.6 635.5,1351.1 705.6,1363.2 701.5,1364.5 701.2,1353.6 691.2,1361.9 707.3,1362 659,1364.3 702.2,1363.9 640.3,1360.1 707,1351.2 717.1,1363.1 710.6,1357.3 660.8,1362.9 672.4,1362 641.6,1360.7 686,1365.5 672.5,1355 658.6,1363.1 642,1358.1 678.7,1361.6 643.7,1362.1 651.3,1361.5 658,1365.8 634.7,1362.8 693.3,1365.7 651.3,1353.4 709.2,1365.4 695.5,1355.7 634.7,1365.5 674.1,1361.5 638.8,1361.6 680.2,1352.5 691.8,1348.4 641,1364.8 721.7,1354.6 667,1364.5 695.2,1352.9 642.6,1363.9 707.5,1355.8 635.1,1360.8 653.6,1356.8 664.4,1355.5 717.1,1359 643.3,1362.3 664.4,1365.6 678.3,1365.7 644.6,1358.5 632.8,1362.1 676.3,1365.6 705.1,1360.8 655,1363.9 672.3,1365.1 644.3,1365.8 700.6,1359.4 687.7,1365.3 713.7,1363.1 684.9,1365.4 696.8,1363.6 690.2,1360.4 679.4,1363 668.8,1364 664.4,1361.9 719.3,1363.2 667.6,1364.7 714.8,1365.7 664.5,1361.6 653.6,1361.6 633.2,1364.6 690.4,1359.1 699.5,1365.6 705.8,1355.9 665.7,1365.2 642,1365.3 688.7,1362.9 676.8,1354.5 688.2,1356.7 658.3,1362.4 631.1,1364 634,1357.4 704.2,1358.4 718.9,1355.9 681.1,1363.7 683.6,1363.1 705.2,1361.7 639.5,1361.5 671.9,1347.9 709.5,1364.4 686.6,1365.3 711.2,1364.5 662.9,1364.3 660.4,1354 714.5,1355.9 666.7,1362.1 696.5,1364.3 648.2,1339.3 714.5,1361.2 673.4,1362.1 666.7,1357.6 710.2,1349.5 714.9,1338.4 677,1364 644.8,1356.9 636,1349.8 657.1,1356.7 634.8,1358.8 662.2,1349.7 682.8,1359.9 655.4,1365.4 649.6,1361.2 686.3,1357.1 711.4,1365.6 644.5,1362.4 711.8,1360.8 640.9,1363.5 711.9,1360.3 682.1,1360.6 685.7,1361.3 709.9,1365 675.6,1365.3 659.4,1363.8 660.5,1352.2 640.7,1362.8 647.1,1352.5 638,1344.2 693.4,1362.5 658.8,1358.3 656.2,1355.7 631,1357 666.5,1356.4 693.6,1358.7 657.4,1361.9 652.5,1359.2 716.6,1355.1 636.4,1359.1 651.8,1352.4 662.4,1361.8 681.6,1362.4 680,1350.8 710,1363 660.4,1354.3 633,1364.5 681,1358 717.5,1361.6 700.5,1357.9 676,1363.4 650.3,1364.7 701.7,1340.3 662.3,1365.3 703.8,1364.8 693.1,1357.9 652.8,1351.8 720.9,1353 632.6,1351.4 666.7,1360.4 774.5,1372 775.4,1373.9 776.6,1371.7 776.5,1371.8 774,1373.5 774.7,1373.5 777.9,1368.9 775.7,1372.1 774.2,1372.1 812.7,1366.6 812,1352.7 816.4,1362.8 819.7,1365.6 828.7,1356.8 830.8,1348.9 812.4,1365.5 814.5,1361.6 825.9,1361 811.2,1367.2 811.8,1364.7 823.6,1366.3 819.2,1362.3 811,1362.5 812.7,1363.6 820.9,1365.2 831.2,1368 814.8,1364.2 820.5,1367.9 817.3,1368 814.9,1367.6 826.7,1365.1 830.8,1366.3 810.4,1361.5 819,1364.9 811,1349.4 814.2,1360.2 820.7,1367.7 811.4,1367.5 821,1353.4 820.8,1353.2 819.4,1353.7 825.2,1367.6 820.4,1356.2 813.7,1367.3 826,1350.9 819,1361.8 828.5,1367.3 855.2,1366.8 852,1358.7 851.7,1365.2 853.7,1364.4 854.6,1358 854.1,1367.5 853.9,1364.7 850,1344.6 849.2,1367.2 850.7,1362.5 852.2,1368.1 852.8,1367.6 89.3,1339.6 99.4,1339 95.8,1344.7 234.7,1348 345.8,1325.4 368.1,1321.6 356.1,1338.2 353.9,1344.2 366,1344.2 369.8,1347 537.4,1305.3 537.4,1309.4 462.7,1329.1 563.7,1328 563.7,1331 676.2,1334.6 811.3,1333.8 811.6,1334 635,1340 654.6,1341.2"/>
<polyline class="dL" points="106.5,1352.6 94.3,1358.4 96.3,1363.4 101.9,1359.7 106.4,1361.4 105.4,1361.8 227.8,1364.9 219.3,1366.1 228.7,1365.7 373.9,1354.4 349.2,1359.1 369.2,1354.6 379.1,1364.2 351.2,1361.2 368.3,1361.2 380.7,1361.6 354.8,1357.9 368.3,1351.6 374.8,1364 364.4,1364.4 370,1349.5 379.7,1349 348,1365.7 350.7,1364.4 368,1365.1 475,1358.2 462.1,1364 418.3,1363.3 436.8,1362.8 468.9,1358.8 422.3,1359.1 418.7,1365.1 426.9,1361.7 418,1360.1 427.5,1362.9 451.8,1342.3 560.8,1361.4 555.9,1342.9 562.4,1361.4 578.1,1363.6 531.5,1361.4 545,1353.5 558.2,1365.5 565.2,1361.8 536,1363.9 571.9,1363.3 634.7,1353.9 691.4,1352.5 649.8,1364.5 642.9,1365.7 664.2,1356.9 631.7,1358.5 721,1361.2 631,1352.1 661.8,1365.4 646.2,1365.5 711.9,1357.9 642.8,1354.9 647.8,1363.6 722.5,1364.3 710.1,1364 707.7,1364.2 651.7,1363.1 720.4,1357.8 683.2,1360.5 714.5,1356.1 685,1353 662.5,1359.3 665.3,1357.6 819.6,1361.3 824.4,1359.2 822.2,1368.1 826,1366.8 825.8,1366.1 829.7,1368 831.1,1351.7 849.1,1367.4 851.1,1362 631.3,1152.4 642.6,1176.7 630.8,1182 688.8,1188.3 642.6,1211.5 688.6,1214.6 809.4,1234.3 809.4,1246.9 689.6,1253.5 630.5,1274 689.3,1270.8 630.5,1289.4 689.9,1308.6 689.9,1317.9"/>
<path d="M124.4 1377.1L123.4 1374.6V1367.7L124.9 1360.3L126.4 1363.9L127.9 1359.4L129.4 1364.5L130.9 1360.8L132.4 1364.7L133.9 1360.4L135.4 1363.6L136.9 1360.1L138.4 1365.2L139.9 1359.9L141.4 1365.7L142.9 1360.5L144.4 1365.3L145.9 1361.5L147.4 1364.3L148.9 1362.1L150.4 1363.9L151.9 1360.4L153.4 1363.8L154.9 1361L156.4 1363.6L157.9 1360.2L159.4 1364.4L160.9 1360.4L162.4 1365.1L163.9 1360.6L165.4 1365L166.9 1362.1L168.4 1364.2L169.9 1359.6L171.4 1364.6L172.9 1362L174.4 1364.1L175.9 1361.9L177.4 1364.1L178.9 1360.2L180.4 1365.2L181.9 1361.6L183.4 1364.6L184.9 1360.4L186.4 1364L187.9 1359.5L189.4 1364.2L190.9 1359.6L192.4 1365.2L193.9 1361.7L195.4 1363.3L196.9 1360L198.4 1364.8L199.9 1362.3L201.4 1365.1L202.9 1361.2L204.4 1365.7L205.9 1360.6L207.4 1363.4L208.9 1361.5L210.4 1364.9L211.9 1361.6L212.4 1364.7V1374.6L211.4 1376.9L209.2 1377.4L207 1377.1L204.8 1377.2L202.6 1376.8L200.4 1377.7L198.2 1377.1L196 1377.5L193.8 1376.9L191.6 1377.5L189.4 1376.9L187.2 1378L185 1377L182.8 1377.5L180.6 1377.1L178.4 1377.8L176.2 1377L174 1377.6L171.8 1377L169.6 1377.7L167.4 1376.9L165.2 1377.9L163 1376.9L160.8 1377.2L158.6 1377.1L156.4 1377.5L154.2 1377.1L152 1377.3L149.8 1377.1L147.6 1377.9L145.4 1377.1L143.2 1377.8L141 1377L138.8 1377.8L136.6 1377L134.4 1377.3L132.2 1377L130 1377.9L127.8 1376.9L125.6 1377.7zM242.9 1377.1L241.9 1374.6V1367.7L243.4 1362.3L244.9 1365.1L246.4 1362.2L247.9 1363.2L249.4 1361.5L250.9 1365.2L252.4 1359.8L253.9 1365.2L255.4 1360.7L256.9 1364.9L258.4 1360.7L259.9 1364.5L261.4 1359.5L262.9 1363.4L264.4 1361.3L265.9 1364.4L267.4 1362.5L268.9 1363.6L270.4 1361.9L271.9 1363.4L273.4 1360.1L274.9 1363.2L276.4 1360.7L277.9 1363.8L278.1 1360.8V1374.6L277.1 1377L274.9 1377.7L272.7 1377.1L270.5 1377.8L268.3 1377L266.1 1377.8L263.9 1377L261.7 1377.5L259.5 1377L257.3 1377.6L255.1 1377.1L252.9 1377.7L250.7 1376.9L248.5 1378L246.3 1377.1L244.1 1377.3zM296.6 1377.1L295.6 1374.6V1367.7L297.1 1359.8L298.6 1364.7L300.1 1360L301.6 1365.7L303.1 1362.4L304.6 1365.7L306.1 1359.7L307.6 1365.1L309.1 1359.9L310.6 1364L312.1 1361.9L313.6 1363.8L315.1 1360.1L316.6 1364.9L318.1 1362.3L319.6 1364.2L321.1 1362.1L322.6 1365.4L324.1 1362.1L325.6 1365.4L327.1 1362L328.6 1363.5L330.1 1362.5L331.6 1365.3L333.1 1361.9L334.6 1365.3L336.1 1361.6L337.6 1364.6L339.1 1360.4L340.5 1365V1374.6L339.5 1376.9L337.3 1377.2L335.1 1377L332.9 1377.7L330.7 1376.9L328.5 1377.7L326.3 1377L324.1 1377.2L321.9 1377.1L319.7 1377.7L317.5 1377L315.3 1377.5L313.1 1376.9L310.9 1377.6L308.7 1377.1L306.5 1377.2L304.3 1376.9L302.1 1377.7L299.9 1377L297.7 1377.7zM389.4 1377.1L388.4 1374.6V1367.7L389.9 1359.4L391.4 1363.2L392.9 1361.1L394.4 1363.9L395.9 1362L397.4 1364.5L398.9 1360.5L400.4 1365.4L401.9 1360L403.4 1365.2L404.9 1359.5L406.4 1365.6L407.9 1361.6L408.4 1365V1374.6L407.4 1377L405.2 1377.4L403 1377L400.8 1377.9L398.6 1377.1L396.4 1377.5L394.2 1377L392 1377.9L389.8 1377zM484.6 1377.1L483.6 1374.6V1367.7L485.1 1360.4L486.6 1364.4L488.1 1361.3L489.6 1365.5L491.1 1359.8L492.6 1365.5L494.1 1360.5L495.6 1363.8L497.1 1360.6L498.6 1363.2L500.1 1360.7L501.6 1365.7L503.1 1360.3L504.6 1363.2L506.1 1361.2L507.6 1363.6L509.1 1361.4L510.6 1365L512.1 1360L513.6 1365L515.1 1361.8L516.6 1364.8L518.1 1360.1L519.6 1363.6L521.1 1362.2L522.6 1363.8L523 1359.4V1374.6L522 1377L519.8 1377.9L517.6 1376.9L515.4 1377.2L513.2 1376.9L511 1377.7L508.8 1377L506.6 1377.5L504.4 1376.9L502.2 1377.6L500 1376.9L497.8 1377.3L495.6 1376.9L493.4 1377.8L491.2 1376.8L489 1377.9L486.8 1376.9zM592.2 1377.1L591.2 1374.6V1367.7L592.7 1361L594.2 1363.2L595.7 1359.5L597.2 1365.4L598.7 1359.6L600.2 1364.1L601.7 1361.5L603.2 1365.5L604.7 1360.5L606.2 1363.2L607.7 1362L609.2 1364.5L610.7 1361.5L612.2 1363.5L613.7 1359.6L615.2 1365.1L616.7 1361L618.2 1364.2L619.7 1362.2L621.2 1363.7L622.7 1360.6L624.2 1363.5L624.9 1360.9V1374.6L623.9 1377L621.7 1377.5L619.5 1377L617.3 1377.9L615.1 1377L612.9 1377.3L610.7 1377L608.5 1377.8L606.3 1376.9L604.1 1377.6L601.9 1376.9L599.7 1377.5L597.5 1376.9L595.3 1377.4L593.1 1377zM729.9 1377.1L728.9 1374.6V1367.7L730.4 1359.6L731.9 1364.3L733.4 1359.6L734.9 1365.3L736.4 1362.4L737.9 1365.7L739.4 1359.9L740.9 1363.9L742.4 1360.1L743.9 1365L745.4 1360L746.9 1365.3L748.4 1360.7L749.9 1364.2L751.4 1359.5L752.9 1363.5L754.4 1361.1L755.9 1365.5L757.4 1359.4L758.9 1363.6L760.4 1361.2L761.9 1365.7L763.4 1362.3L764.9 1365.1L766.4 1360.3L767.9 1363.8L769.4 1361.9L770 1365.7V1374.6L769 1376.9L766.8 1377.3L764.6 1377L762.4 1377.8L760.2 1376.9L758 1377.7L755.8 1376.9L753.6 1378L751.4 1377.1L749.2 1377.8L747 1377.1L744.8 1377.2L742.6 1377.1L740.4 1377.7L738.2 1377.1L736 1377.6L733.8 1377.1L731.6 1377.5zM783.3 1377.1L782.3 1374.6V1368.6L783.8 1363.3L785.3 1364.9L786.8 1362L788.3 1366.5L789.8 1362.1L791.3 1365.9L792.8 1362.2L794.3 1366.6L795.8 1362.2L797.3 1365.7L798.8 1361.7L800.3 1365.9L801.8 1362.8L803.3 1365.1L803.7 1364V1374.6L802.7 1376.9L800.5 1378L798.3 1376.8L796.1 1377.6L793.9 1377L791.7 1377.4L789.5 1377L787.3 1377.2L785.1 1377.1z" fill="#8a1b61"/>
<polyline class="uP" points="139.8,1364.7 163.1,1360.6 161.5,1358.5 138.7,1360.7 152.2,1355.8 163.5,1359.7 172,1364.3 152.3,1360.3 177.9,1365.1 166.8,1350.4 148.3,1363.4 203.8,1355.7 209.4,1363.8 147.4,1348.7 152.2,1342.3 185.2,1365.1 189.9,1354.2 162.7,1364.1 152.9,1363.7 175,1353.4 174.6,1357 204.6,1351.9 175.9,1361.3 140.5,1348.7 144.8,1365.6 187.4,1365.3 144.3,1351.3 169.5,1347.7 129.5,1361.3 159.5,1365 177.6,1365.6 193.9,1347.7 150.9,1357.6 169.2,1361.5 150.5,1348.4 197.8,1365.2 163.2,1347.2 134.6,1330.2 160.9,1353.5 129.5,1364.5 146.3,1359.6 160.6,1358.8 185.1,1360.5 175.2,1364.5 163.5,1361.5 191.5,1359.6 152.1,1365 182.8,1360.7 138.3,1362.2 188.5,1360.2 205.6,1363.5 193.2,1364.6 168.1,1365.1 199.3,1363.3 181.7,1365.4 173.6,1364.3 191.9,1356.5 134.6,1358.1 189.5,1357.4 145.6,1364 195.1,1363.9 146.2,1360.2 141.3,1362.9 151.4,1362.6 158.1,1349.8 134.9,1361.6 134.4,1364.7 192,1350.7 174,1355.5 161.7,1360.5 132.6,1354.7 199.4,1362.4 128.7,1352.8 145,1360.9 207.9,1353.3 170.1,1338.6 155.3,1364.9 127.5,1360.5 157.9,1332.9 131.3,1362.8 155.7,1357.1 167.5,1361.7 160.4,1353.1 172.3,1361.5 203.9,1363.7 165.5,1363.3 170.4,1363.3 174.7,1353.3 170.1,1364.7 198.1,1365.8 180.7,1355.2 128.9,1364.4 206.7,1349.8 186,1360.1 167.6,1364 172.3,1350.6 159.2,1362.1 207.2,1357.1 159.8,1352 150.3,1359 196.8,1363.5 172.4,1364.7 142.4,1365.4 133.2,1362.8 186.1,1357.8 134.2,1348.9 130.8,1364.9 157.3,1358.3 172.6,1361.6 197.8,1363.8 135.6,1346.7 152.8,1347 173.3,1363.3 172.9,1356.2 191.8,1364.5 164.5,1365 146.8,1361.6 167.1,1362.1 196.8,1346.7 144.9,1362.8 128,1365.5 182.6,1348.6 200,1351.5 154.7,1361 132,1363.6 173.6,1355.5 137.4,1363.5 181.6,1360.1 187.4,1358.8 127.7,1360.1 139.7,1365.5 203.8,1363.1 156.2,1358.3 133.2,1359.9 163.6,1365.1 206.1,1361.7 128.7,1362.1 128.2,1357.1 202.9,1364.8 189.4,1365 202.1,1357.4 135,1353.3 149,1363.8 183.3,1359.2 177.2,1358.9 159.4,1363.8 205.1,1364.9 178.2,1356.2 268.1,1365.5 247.4,1363 246.9,1350.6 262.3,1361.1 268.8,1363.2 270.5,1339.6 251.5,1363.5 260.1,1364.2 268.2,1364.1 263.4,1365.3 269.7,1356.5 264.4,1352.7 250.3,1361.3 262.4,1356 254.9,1365.5 261.2,1365.2 252.2,1364.6 255,1350.8 255.7,1354.5 255,1363.1 248.5,1357.8 259.4,1339.3 271.5,1357.8 254.4,1362 275.1,1364.6 257.9,1352.8 269.6,1360.6 265.4,1364.2 272.6,1356.2 264.2,1361.3 247.1,1359.8 251.5,1353.1 263.7,1362.4 263.2,1360.6 250,1354.8 259.9,1341.9 267.6,1363.5 266,1354 253.8,1350.5 252.4,1348.9 261.3,1363.3 245.4,1360.7 261.9,1359.7 260.2,1365 250.7,1364.2 259.4,1362.8 268.2,1359.4 258.3,1364.8 262.4,1364.5 246.9,1352.5 272.5,1364.6 264,1358.5 259.5,1361.8 248.4,1365.6 249.1,1357.7 265.6,1344.6 268.1,1360.6 268.1,1360.2 245.4,1365.3 333.4,1365 326.6,1356.9 301.7,1353.3 308.9,1363.8 300.3,1364 307.9,1364.8 308.4,1363.2 334.7,1362.3 323.6,1355 328.1,1360.6 321.2,1363 331.3,1360.5 319.7,1365.3 336.7,1362.5 322.7,1362.7 330.5,1352.5 317.5,1347.6 325.9,1365.1 314.5,1361.4 322.8,1363.8 317.5,1360.3 310.5,1361.1 311.9,1355.1 328.3,1343 315.9,1356.8 306.3,1356.9 314.7,1364.8 301.8,1364.9 308.6,1361.6 320.4,1365.8 319,1363.4 324.6,1363.9 300.5,1364.6 318.6,1362.6 315.3,1358.6 319.8,1363.3 322.2,1359.6 305.2,1359.1 316.5,1362.7 318.3,1358.6 315.8,1351.5 323.8,1364.6 332.3,1365.8 307.4,1364.1 319.3,1365.5 318.1,1364.8 324.8,1360.5 323.1,1354.2 335.5,1358.7 313.5,1353.1 320.6,1362.8 319.9,1358.1 326.2,1363.8 309.5,1365.5 320.9,1362.2 303,1352.9 330.9,1361.5 397.4,1356.6 397,1364.7 395.2,1362.3 397.2,1355.3 401.3,1359.2 396.5,1365.5 398.2,1361.8 397.2,1365.7 395.8,1361.3 404.1,1362.2 392.1,1359.2 402.6,1364.6 396,1362.9 397.8,1360.8 398.5,1358.8 397.5,1364.2 400.5,1342.9 405.1,1359.2 403.2,1350 392.2,1351.1 400.6,1342.5 398.5,1363.4 402.9,1363.5 395.8,1364.1 393.3,1353.9 405,1361.3 497,1364.3 515.8,1361.7 513.1,1358.8 519.4,1346.6 498.1,1365.5 519.5,1344.4 501.8,1359.3 488.7,1365.9 516.4,1358.7 493.4,1361.9 510,1363.9 488.3,1356.4 502.9,1363.2 513.1,1351.4 499.6,1356.3 505.4,1364.5 517.4,1360.6 497.4,1359.2 506.3,1363.1 488.1,1353.2 492.1,1360.4 494.4,1354.1 500.9,1354.1 509.7,1364.1 501.4,1362.8 487.8,1347.3 519.8,1360.8 493.2,1361.3 512.5,1360.5 499.8,1363.6 517.5,1332.3 516.4,1365.9 514.5,1354.1 509.5,1359.9 500.3,1365 518.7,1363.9 517.4,1364.1 505.3,1356 492.3,1365.4 514.3,1364.5 497.1,1365 511.4,1354.6 515.2,1353.9 500.1,1365.5 510.7,1365.8 502.6,1364.5 516.3,1355.1 508.3,1362.3 508.4,1359.5 518.8,1354.5 506.9,1364.1 495.5,1365.5 514.6,1362.5 490,1364 487.4,1365.1 494,1362.7 515.7,1365.3 600.1,1362.7 600.9,1365.8 609,1355.5 606.5,1362.5 609.5,1357.7 600.9,1360.6 620.1,1345.2 616.8,1363.4 608.2,1361 618.2,1364.1 615,1361.8 594.6,1352.7 609.8,1362.7 598.9,1354.1 617.7,1361.8 594.6,1356.2 605.9,1347.6 615.7,1363 618.3,1363 618.8,1365.6 614.9,1358.1 617.9,1344.4 607.7,1336.3 609.8,1364.5 594.7,1344.8 611.2,1365.5 619.5,1360.2 599.9,1344.8 599.5,1363.5 611,1352.9 598.2,1359.6 611.9,1358.2 615.2,1357.7 610.8,1357.4 603.4,1337.3 608.3,1350 604,1363 610.1,1365 602.5,1356.2 614.1,1359.3 612.4,1346.5 598.6,1350.2 607.1,1363.2 605.7,1357 606.7,1355.4 607.7,1350.4 619.8,1361.4 604.9,1364.3 599.1,1364.4 621.5,1347.5 606.7,1351.2 618.1,1356.9 603.2,1350.8 611.7,1349.8 602.8,1362.9 753.6,1361.6 758.1,1362.2 739.9,1359 741.7,1361.8 763.2,1364.7 752.3,1365.3 733.5,1351.8 739.2,1365.4 737.9,1359.4 733.1,1363.6 741.5,1364 744.7,1365.2 733.8,1358.6 732.5,1365.5 758.5,1357.4 732.1,1360.8 747,1357.7 755.9,1361.7 733.4,1365.5 752.4,1361.7 763.5,1365.7 765.9,1363.2 766.6,1357.9 732.5,1360.8 744.6,1360.1 737.1,1362.6 766.1,1347.2 746.7,1365.4 746.5,1357.8 766.1,1363.5 744.2,1355.1 764.6,1364.9 765.3,1362.8 751.8,1344.8 765.6,1358.8 761.6,1353.4 740.9,1341.7 733.2,1365.1 737.8,1364.6 746.5,1364.7 759.2,1344.5 760.3,1360.1 748.1,1343.7 745.6,1361.9 760.2,1354.1 752.4,1355.9 741.8,1364.3 742.6,1354.8 766.9,1360.7 756.5,1361.3 756.9,1358.4 754.8,1354.4 739.4,1356 742.3,1348.9 758.1,1356.9 765.5,1350.1 738.9,1356.8 764.2,1354.9 759.7,1357.5 751.7,1365.2 745.7,1365.7 761.5,1363.9 734.7,1360.4 733.8,1360.5 752.2,1363.6 745,1359.7 763.1,1354.4 766.8,1365.3 740.1,1340.2 785.4,1361.1 796.2,1367.3 787.4,1364.7 789.4,1359.5 787.8,1360 792.3,1362.8 790.2,1363.5 785.4,1361.4 788.3,1366.4 796.7,1366.7 793.3,1342 792.4,1361.5 793.3,1364.4 795.7,1364 792.2,1358.8 794.7,1361.7 794,1363.7 796.9,1363.4 789.7,1341.8 799.4,1356.1 796.3,1356.4 790.5,1365.1 787.6,1362.9 794.4,1367.2 792.7,1364.8 789.4,1364.3 245.3,1312.2 245.6,1312.5 246.4,1327.6 246.8,1327.8 253.8,1326.8 244.3,1337.7 263.4,1341.2 139.1,1338.8 146,1335.5 144.6,1344.7 145,1345 173.6,1341 173.9,1341.2 156,1345 166.5,1346.8 306.4,1339.8 316.8,1340.6 321.5,1344.4 303.9,1346.8 309.4,1346.8 332.7,1349.8 337.4,1350.4 393.8,1338.5 399.8,1341.2 405.5,1346.2 513.6,1344.7 486.7,1345.8 599.3,1333.2 612.4,1339.8 610,1343 747.7,1337.9 790.1,1344.7"/>
<polyline class="dP" points="150.5,1362.6 138.1,1365.4 179.6,1362.2 137.5,1358.7 182.2,1354.2 172.8,1362.8 141.6,1355.7 191,1344.5 133.9,1358.5 126.5,1347.2 151.7,1354.1 168.7,1364.3 149.3,1365.7 159.6,1364.5 161.7,1360.5 133.8,1360.3 192.6,1363.3 190.4,1364.7 148.9,1355.5 181.3,1351 142.4,1361.9 252.2,1362.2 248.1,1364.2 245.7,1364.4 253.5,1365.9 266.9,1363.9 252.8,1365.3 253.8,1362.3 267.8,1359.6 255.2,1362.4 252.5,1361.5 255.7,1357.2 265.7,1351.6 266.3,1365.2 269.9,1363.3 271,1356.4 245.3,1346.1 257.1,1349.2 332.4,1359.4 299.2,1358 324.3,1357.7 316.7,1361.2 328,1357.1 312.6,1364.1 326,1359.6 298.9,1364.6 402.4,1351 506.4,1364.2 504.3,1363.9 513.5,1363.7 516.5,1362.3 506.8,1357.7 512.6,1365.6 488,1351.2 508.9,1364.6 518.8,1363.5 507.4,1346.5 507.1,1361.6 596.5,1364.6 615.5,1364 609,1365.5 615.4,1364.4 613.1,1359.9 602.2,1360.6 598.9,1364.7 612.1,1363.4 606,1355.6 742.3,1357.8 735.8,1365.1 754.7,1363.1 758.5,1361.3 746.1,1363.6 786.6,1354.6 790.1,1349.2 800.5,1366 786.5,1362.2 794.3,1364.3 250.5,1208.6 250.5,1221 272.2,1239 272.2,1253.3 272.7,1315.4 272.2,1327.3 253.3,1336.1 263.4,1341.2 273.6,1347.3 405.3,1337.7 402.5,1341.5 509.5,1334.9 509.8,1335.5 747.7,1337.9 840.5,1373.2"/>
<path d="M56.5 1284.6H856.4M56.5 1314.9H856.4" stroke="#2f5878" stroke-width="1.35" stroke-dasharray="4.2 5" fill="none"/>
<path d="M54.8 1102.8V1405.9H867.1" stroke="#c6d4df" stroke-width="2.6" fill="none"/>
<rect x="856.4" y="1389.1" width="10.7" height="15.6" fill="#f3f3f3"/>
<rect x="856.4" y="1099" width="10.7" height="290.1" fill="#c8c8c8"/>
<path d="M859.1 1400.7l2.6 2.6l2.6-2.6" stroke="#333" stroke-width="1.3" fill="none"/>
<rect x="21.1" y="1278.1" width="30.7" height="13" rx="3" fill="#8a1b61"/>
<text x="24.7" y="1288.1" class="bd" textLength="5" lengthAdjust="spacingAndGlyphs">8</text>
<circle cx="44.1" cy="1284.6" r="3.6" fill="none" stroke="#e9cfe0" stroke-width=".7"/>
<path d="M44.1 1284v2.6M44.1 1282.4v.8" stroke="#e9cfe0" stroke-width=".8"/>
<rect x="21.1" y="1308.4" width="30.7" height="13" rx="3" fill="#8a1b61"/>
<text x="24.7" y="1318.4" class="bd" textLength="5" lengthAdjust="spacingAndGlyphs">6</text>
<circle cx="44.1" cy="1314.9" r="3.6" fill="none" stroke="#e9cfe0" stroke-width=".7"/>
<path d="M44.1 1314.3v2.6M44.1 1312.7v.8" stroke="#e9cfe0" stroke-width=".8"/>
<text x="867.1" y="1416.7" class="pc" text-anchor="end" textLength="79.3" lengthAdjust="spacingAndGlyphs">Phenotypic Categories</text>
<text transform="translate(79.1 1439.5) rotate(-45)" class="xl" text-anchor="end" textLength="35.1" lengthAdjust="spacingAndGlyphs">Infectious</text>
<text transform="translate(121.3 1439.5) rotate(-45)" class="xl" text-anchor="end" textLength="41" lengthAdjust="spacingAndGlyphs">Neoplasms</text>
<text transform="translate(213.3 1439.5) rotate(-45)" class="xl" text-anchor="end" textLength="52.9" lengthAdjust="spacingAndGlyphs">Blood/Immune</text>
<text transform="translate(239.8 1439.5) rotate(-45)" class="xl" text-anchor="end" textLength="74.3" lengthAdjust="spacingAndGlyphs">Endocrine/Metabolic</text>
<text transform="translate(279 1439.5) rotate(-45)" class="xl" text-anchor="end" textLength="24.6" lengthAdjust="spacingAndGlyphs">Mental</text>
<text transform="translate(293.5 1439.5) rotate(-45)" class="xl" text-anchor="end" textLength="30.5" lengthAdjust="spacingAndGlyphs">Nervous</text>
<text transform="translate(341.4 1439.5) rotate(-45)" class="xl" text-anchor="end" textLength="14.1" lengthAdjust="spacingAndGlyphs">Eye</text>
<text transform="translate(386.3 1439.5) rotate(-45)" class="xl" text-anchor="end" textLength="12.8" lengthAdjust="spacingAndGlyphs">Ear</text>
<text transform="translate(409.3 1439.5) rotate(-45)" class="xl" text-anchor="end" textLength="54.7" lengthAdjust="spacingAndGlyphs">Cardiovascular</text>
<text transform="translate(481.5 1439.5) rotate(-45)" class="xl" text-anchor="end" textLength="41.9" lengthAdjust="spacingAndGlyphs">Respiratory</text>
<text transform="translate(523.9 1439.5) rotate(-45)" class="xl" text-anchor="end" textLength="33.7" lengthAdjust="spacingAndGlyphs">Digestive</text>
<text transform="translate(589.1 1439.5) rotate(-45)" class="xl" text-anchor="end" textLength="16" lengthAdjust="spacingAndGlyphs">Skin</text>
<text transform="translate(625.8 1439.5) rotate(-45)" class="xl" text-anchor="end" textLength="58.3" lengthAdjust="spacingAndGlyphs">Musculoskeletal</text>
<text transform="translate(726.8 1439.5) rotate(-45)" class="xl" text-anchor="end" textLength="50.1" lengthAdjust="spacingAndGlyphs">Urinary/Renal</text>
<text transform="translate(770.9 1439.5) rotate(-45)" class="xl" text-anchor="end" textLength="39.2" lengthAdjust="spacingAndGlyphs">Pregnancy</text>
<text transform="translate(780.2 1439.5) rotate(-45)" class="xl" text-anchor="end" textLength="39.2" lengthAdjust="spacingAndGlyphs">Congenital</text>
<text transform="translate(804.6 1439.5) rotate(-45)" class="xl" text-anchor="end" textLength="44.2" lengthAdjust="spacingAndGlyphs">Lab findings</text>
<text transform="translate(835.8 1442) rotate(-45)" class="xl" text-anchor="end" textLength="26.4" lengthAdjust="spacingAndGlyphs">Injuries</text>
<text transform="translate(844 1444.5) rotate(-45)" class="xl" text-anchor="end" textLength="56.1" lengthAdjust="spacingAndGlyphs">Health services</text>
<text transform="translate(858.3 1444.5) rotate(-45)" class="xl" text-anchor="end" textLength="26.9" lengthAdjust="spacingAndGlyphs">Special</text>
</g>
<g>
<text x="903.8" y="1037" class="pl">(F)</text>
<text x="1103.1" y="1052.4" class="tt" textLength="426" lengthAdjust="spacing">IFT172 for Phenome-wide association study (UKB continuous traits)</text>
<text x="899.9" y="1062.6" class="mp">Manhattan plot</text>
<path d="M888.7 1076.5H1747.3" stroke="#e1e8ee" stroke-width="1.1"/>
<text x="929.2" y="1094" class="yl" textLength="57.6" lengthAdjust="spacingAndGlyphs">-log10 (P-value)</text>
<path d="M1606.2 1093.3h6.2l-3.1-4.8z" fill="none" stroke="#444" stroke-width="1.15"/>
<text x="1617.5" y="1094" class="lg" textLength="48.5" lengthAdjust="spacingAndGlyphs">Effect size &gt; 0</text>
<path d="M1680.4 1088.4h6.2l-3.1 4.8z" fill="none" stroke="#444" stroke-width="1.15"/>
<text x="1691.7" y="1094" class="lg" textLength="48.5" lengthAdjust="spacingAndGlyphs">Effect size &lt; 0</text>
<text x="899.9" y="1410.8" class="yt" textLength="5" lengthAdjust="spacingAndGlyphs">0</text>
<text x="899.9" y="1380.6" class="yt" textLength="5" lengthAdjust="spacingAndGlyphs">2</text>
<text x="899.9" y="1350.3" class="yt" textLength="5" lengthAdjust="spacingAndGlyphs">4</text>
<text x="899.9" y="1320.1" class="yt" textLength="5" lengthAdjust="spacingAndGlyphs">6</text>
<text x="899.9" y="1289.8" class="yt" textLength="5" lengthAdjust="spacingAndGlyphs">8</text>
<text x="899.9" y="1259.6" class="yt" textLength="10" lengthAdjust="spacingAndGlyphs">10</text>
<text x="899.9" y="1229.4" class="yt" textLength="10" lengthAdjust="spacingAndGlyphs">12</text>
<text x="899.9" y="1199.1" class="yt" textLength="10" lengthAdjust="spacingAndGlyphs">14</text>
<text x="899.9" y="1168.9" class="yt" textLength="10" lengthAdjust="spacingAndGlyphs">16</text>
<text x="899.9" y="1138.6" class="yt" textLength="10" lengthAdjust="spacingAndGlyphs">18</text>
<text x="899.9" y="1108.4" class="yt" textLength="10" lengthAdjust="spacingAndGlyphs">20</text>
<path d="M930.3 1376.2H1734.2M930.3 1345.9H1734.2M930.3 1315.7H1734.2M930.3 1285.4H1734.2M930.3 1255.2H1734.2M930.3 1225H1734.2M930.3 1194.7H1734.2M930.3 1164.5H1734.2M930.3 1134.2H1734.2M930.3 1104H1734.2M955.8 1103.4V1432.4M1065.9 1103.4V1432.4M1440.9 1103.4V1432.1M1449.6 1103.4V1435.7M1457.9 1103.4V1438.9M1550.4 1103.4V1438.9M1566.6 1103.4V1438.9M1581.4 1103.4V1438.9M1595.6 1103.4V1438.9M1604.4 1103.4V1441.1M1625.4 1103.4V1441.1M1634.2 1103.4V1443M1702.1 1103.4V1443" stroke="#dfe6ec" stroke-width="1" fill="none"/>
<rect x="931.3" y="1285.4" width="802.9" height="30.2" fill="#f1fafb"/>
<path d="M955.8 1285.4V1315.7M1065.9 1285.4V1315.7M1440.9 1285.4V1315.7M1449.6 1285.4V1315.7M1457.9 1285.4V1315.7M1550.4 1285.4V1315.7M1566.6 1285.4V1315.7M1581.4 1285.4V1315.7M1595.6 1285.4V1315.7M1604.4 1285.4V1315.7M1625.4 1285.4V1315.7M1634.2 1285.4V1315.7M1702.1 1285.4V1315.7" stroke="#dde7ec" stroke-width="1" fill="none"/>
<path d="M958.3 1377.9L957.3 1375.4V1372.1L958.8 1368.7L960.3 1370.8L961.8 1368.9L963.3 1370.9L964.8 1367.9L966.3 1370.3L967.8 1368.1L969.3 1370.6L970.8 1368.4L972.3 1370.4L973.8 1368.9L975.3 1370.4L976.8 1368.5L978.3 1369.7L979.8 1367.8L981.3 1370.1L982.8 1368.2L984.3 1370.5L985.8 1368.8L987.3 1370.1L988.8 1368.4L990.3 1369.8L991.8 1369L993.3 1370.3L994.8 1368L996.3 1370.5L997.8 1368L999.3 1370.6L1000.8 1368.5L1002.3 1370.2L1003.8 1368.9L1005.3 1370.8L1006.8 1368.8L1008.3 1370.9L1009.8 1368.5L1011.3 1370L1012.8 1369L1014.3 1370.4L1015.8 1369.3L1017.3 1370.2L1018.8 1369.2L1020.3 1369.9L1021.8 1368.3L1023.3 1370.6L1024.8 1368.6L1026.3 1370.6L1027.8 1369.1L1029.3 1370.2L1030.8 1368.2L1032.3 1370.2L1033.8 1368L1035.3 1370.4L1036.8 1368.1L1038.3 1370.4L1039.8 1368.8L1041.3 1369.7L1042.8 1367.8L1044.3 1370.7L1045.8 1369L1047.3 1370.1L1048.8 1369L1050.3 1370.7L1051.8 1368.5L1053.3 1370.3L1054.8 1368.7L1056.3 1370.3L1057.8 1368L1059.3 1370L1060.8 1368.6L1062.3 1369.8L1063.8 1368.7L1064.4 1370.4V1375.4L1063.4 1377.8L1061.2 1378.6L1059 1377.6L1056.8 1378.2L1054.6 1377.6L1052.4 1378.5L1050.2 1377.6L1048 1378.6L1045.8 1377.8L1043.6 1378.7L1041.4 1377.7L1039.2 1378.3L1037 1377.8L1034.8 1378.7L1032.6 1377.8L1030.4 1377.9L1028.2 1377.7L1026 1378.1L1023.8 1377.8L1021.6 1378.6L1019.4 1377.7L1017.2 1378L1015 1377.7L1012.8 1378.1L1010.6 1377.6L1008.4 1378.3L1006.2 1377.8L1004 1378.5L1001.8 1377.8L999.6 1378.4L997.4 1377.8L995.2 1378.1L993 1377.6L990.8 1378.3L988.6 1377.8L986.4 1377.9L984.2 1377.8L982 1378L979.8 1377.7L977.6 1378.1L975.4 1377.8L973.2 1378.4L971 1377.7L968.8 1378.5L966.6 1377.8L964.4 1378.7L962.2 1377.7L960 1378.7zM1460.4 1377.9L1459.4 1375.4V1369.8L1460.9 1365.3L1462.4 1368.1L1463.9 1365.2L1465.4 1367.4L1466.9 1363.7L1468.4 1367.4L1469.9 1365.1L1471.4 1366.2L1472.9 1363.4L1474.4 1366.3L1475.9 1365.3L1477.4 1368.2L1478.9 1364.6L1480.4 1366.4L1481.9 1363.4L1483.4 1368L1484.9 1364.9L1486.4 1368.1L1487.9 1363.9L1489.4 1366.1L1490.9 1364.6L1492.4 1368.1L1493.9 1365L1495.4 1366.9L1496.9 1365.3L1498.4 1367.2L1499.9 1364.5L1501.4 1368L1502.9 1363L1504.4 1367.2L1505.9 1364.7L1507.4 1368.2L1508.9 1365.1L1510.4 1366.8L1511.9 1365.6L1513.4 1367.8L1514.9 1363.2L1516.4 1367.6L1517.9 1363.5L1519.4 1367.9L1520.9 1364.7L1522.4 1368.1L1523.9 1364.1L1525.4 1366.1L1526.9 1364L1528.4 1367.8L1529.9 1364.2L1531.4 1368.2L1532.9 1364.8L1534.4 1366.8L1535.9 1363.5L1537.4 1366.4L1538.9 1363.4L1540.4 1366.6L1541.9 1363.2L1543.4 1367.3L1544.9 1364.1L1546.4 1367.8L1547.9 1365.6L1548.9 1367.8V1375.4L1547.9 1377.8L1545.7 1377.9L1543.5 1377.7L1541.3 1378.4L1539.1 1377.7L1536.9 1378.7L1534.7 1377.6L1532.5 1378.1L1530.3 1377.8L1528.1 1378.5L1525.9 1377.7L1523.7 1378.4L1521.5 1377.8L1519.3 1378.4L1517.1 1377.6L1514.9 1377.9L1512.7 1377.8L1510.5 1378L1508.3 1377.7L1506.1 1378.4L1503.9 1377.6L1501.7 1378.2L1499.5 1377.7L1497.3 1378.3L1495.1 1377.8L1492.9 1378.5L1490.7 1377.6L1488.5 1378.5L1486.3 1377.7L1484.1 1378.2L1481.9 1377.7L1479.7 1378.4L1477.5 1377.6L1475.3 1378.7L1473.1 1377.7L1470.9 1378.4L1468.7 1377.7L1466.5 1378.5L1464.3 1377.8L1462.1 1377.9zM1569.1 1377.9L1568.1 1375.4V1373L1569.6 1370.5L1571.1 1372.1L1572.6 1370L1574.1 1371.4L1575.6 1370.2L1577.1 1371.5L1578.6 1369.7L1579.9 1371.4V1375.4L1578.9 1377.8L1576.7 1378.5L1574.5 1377.8L1572.3 1378.7L1570.1 1377.6zM1626.9 1377.9L1625.9 1375.4V1373.9L1627.4 1371.4L1628.9 1372.8L1630.4 1372.3L1631.9 1373.3L1633.4 1371.5L1633.7 1373.2V1375.4L1632.7 1377.7L1630.5 1377.9L1628.3 1377.8zM1704.6 1377.9L1703.6 1375.4V1369.8L1705.1 1365L1706.6 1366.7L1708.1 1363.7L1709.6 1366.9L1711.1 1363.7L1712.6 1367.4L1714.1 1365.3L1715.6 1367.9L1717.1 1365L1718.6 1367.5L1720.1 1363.6L1721.6 1366.5L1723.1 1365.6L1724.6 1366.8L1726.1 1363.7L1727.6 1367.8L1729.1 1364L1730.6 1367L1732.1 1364.9L1733.6 1366.2L1735.1 1364.5L1736.2 1366.5V1375.4L1735.2 1377.7L1733 1378.7L1730.8 1377.7L1728.6 1378.5L1726.4 1377.6L1724.2 1378.7L1722 1377.6L1719.8 1378.2L1717.6 1377.6L1715.4 1378.4L1713.2 1377.7L1711 1377.9L1708.8 1377.6L1706.6 1377.9z" fill="#c3e336"/>
<polyline class="uL" points="1008.3,1206.6 1058.2,1368.8 1004.1,1360.4 1032.5,1104 983.3,1367 1052.1,1365.1 1032.9,1347.1 977.3,1358 1018,1197.7 1056.3,1370.2 1034.8,1315 1030.9,1233.3 1053.1,1371.3 1034.1,1174.5 1026.4,1326.6 1026.3,1372 1045.3,1369.2 1035.7,1352.4 1056,1362.2 1043.3,1363.9 971.2,1371.2 1005.7,1372.6 1026.7,1371.9 984.1,1349.7 1051.1,1240.6 981.5,1327.5 1055.1,1368.7 990.9,1350.9 970,1323.9 1014.7,1241 1050.8,1370.5 961,1366.4 1028.4,1369 1035.5,1280.2 1047.9,1372.5 1014.6,1371.1 1030.3,1342.3 1053.3,1359.3 1035.8,1262.1 996.6,1367.3 1056.6,1362.8 1022.6,1372.5 978.4,1354.3 1006.2,1371.7 966,1354.8 1027.5,1369.1 1045,1369.1 1049.5,1337.8 1004,1369.6 997,1368 1009.6,1345.1 1017.6,1291.4 1038.5,1369.1 979.7,1359.9 960.9,1250.6 982.7,1335.2 979.9,1369.5 1033.4,1160.1 981.5,1357.8 1057.8,1239.6 1007.1,1276.9 1031,1188.9 991,1369.5 1035.9,1364.4 1045.7,1369.9 979.6,1130.7 973.1,1219.1 1044.4,1370.9 992.1,1371.9 961.4,1360.1 991.1,1359.9 1047,1271.1 1007.6,1371.7 1007.9,1372 1056.2,1296.5 1028.8,1210.3 1016.5,1122.7 987.9,1371.3 1042.3,1367.3 966.8,1359.8 1029.9,1157.2 989.6,1370 1021.6,1371.6 977,1357.8 1010,1370 1013.3,1334.4 967.6,1371.7 1024.1,1270.2 1042.9,1104 1041.9,1371.8 1060.5,1350.1 986.3,1344.8 1013.8,1365.4 1011.7,1235 1039.2,1368 986.5,1119.5 1058.7,1371.6 975.9,1349.9 1027.2,1367.6 1057,1226.6 1031.6,1127.5 962.2,1153.5 989.4,1369.6 999.4,1370 997.6,1366.2 1037.8,1365.2 964.8,1371.4 1043.7,1104 1058.1,1370.4 1000.7,1365.6 973.8,1371.5 998.6,1372.4 1037.9,1366.4 1045.8,1104 973.2,1369.7 974.3,1361.7 997.9,1371.9 1044.3,1361.1 1028.5,1370.1 1020.2,1365.3 1036.6,1311.5 1009.5,1367.7 1034.3,1205.9 968.9,1356.8 971.2,1189.1 993.6,1367.7 1023.6,1117.3 982.9,1371.7 1007,1372.5 990,1369.5 1020.6,1366.5 1040.4,1364.2 1011.2,1332.3 989,1366.4 975.4,1358.6 969.4,1362.6 1035.5,1319.5 1033.5,1362.3 1036.5,1371.1 1059.2,1269.3 1004.5,1358.2 1003.4,1362 998.2,1362.1 1041.3,1104 979.7,1366.6 984.4,1359.5 989.9,1144.7 965.7,1359.2 1011.8,1371.8 999.3,1369.6 1050,1233.2 1020,1274.5 973.7,1305.2 969.2,1302.2 968.4,1364.9 1005.4,1367.3 1020.3,1370.8 984.3,1371.8 1006.6,1367.5 1042.5,1371 992,1370.5 991.1,1350.4 963.7,1372.3 1061.1,1104 963.4,1280.3 980.7,1342.9 1051.3,1215.5 1008.8,1364 1053.3,1286.4 994.3,1353.1 962.3,1367.7 1019.7,1350.6 962.1,1330.4 1017.9,1331.3 1053.5,1354.2 962.8,1370.6 1058.1,1336.3 1058.4,1369.3 1034.3,1338.4 980.7,1372 1037.5,1263 1048.4,1365.2 1042.9,1169.6 979,1303.1 1055.1,1367.1 999,1364.8 984,1204.3 1057.1,1359.9 1013.7,1368.1 1020.7,1368.4 988.1,1261 1037,1350.7 1008.9,1371.4 1034.2,1370.9 1029.2,1347 1019.4,1366.2 972.4,1351.2 1005.9,1356.2 1033.2,1104 990.6,1364.8 981.5,1369.8 1058.7,1357 1012.7,1362 1033.8,1232.4 1032.1,1368.6 1013,1262.1 963.3,1366 1053.6,1104 970.9,1360.7 1029.3,1369.7 1023.6,1355.4 1028.4,1358.3 1043.2,1371.6 1006,1369 972.1,1369.2 1027.4,1247.5 1025.9,1307.8 966.7,1229 1050.6,1311 982.1,1278.3 1047.5,1362.6 1003.8,1372.1 1040.6,1361.1 1007.2,1262.8 1032.9,1371.4 1031.3,1352.3 974.9,1368.8 1054.9,1255.9 1004.4,1366.6 1017.4,1338.6 1028.6,1334.1 1051.8,1358.3 1034.3,1353.4 978.4,1228.2 1034.2,1369.1 1031.8,1279.1 1017.2,1283.6 1021.9,1312.8 1059.1,1283.6 965.3,1371.8 985.2,1368.9 1035.3,1355.7 1059.3,1363.3 984.7,1205.3 966.8,1341.3 1048.8,1369.5 1043,1330 990.8,1290.6 1050.9,1365.6 1034.2,1265.2 965.3,1254.5 991.5,1104 1056.1,1366.3 964.4,1315.3 1030.5,1353.8 1025.7,1371.7 1030,1370.9 1047.2,1362.7 1044.5,1369.8 1008.1,1232.7 987.9,1270.8 990.1,1361 1059.1,1205.6 1033.2,1285.7 1046.1,1109.3 1008.8,1371.9 986.1,1359.5 1017.9,1285.8 1000.9,1372.3 1041.4,1368 997.4,1372.6 982.7,1104.3 1049.8,1104.3 1019.9,1104.3 1034.5,1104.3 1004.1,1104.3 1008.6,1104.3 993.6,1104.3 1023,1104.3 972.1,1104.3 970.7,1104.3 975,1104.3 988.8,1104.3 1042.9,1104.3 1031.4,1104.3 996.5,1104.3 986.3,1104.3 1013.2,1104.3 1034.7,1104.3 1025.5,1104.3 1043.7,1104.3 964.5,1104.3 1009.6,1104.3 1030.5,1104.3 962,1104.3 983.7,1104.3 990.9,1104.3 1034.9,1104.3 1017.6,1104.3 1051.9,1104.3 1028.9,1104.3 995.8,1104.3 994.3,1104.3 961.9,1104.3 974.4,1104.3 1024,1104.3 972.5,1104.3 1024.5,1104.3 1022.7,1104.3 1445.2,1375.9 1516.1,1366.5 1529.9,1368.7 1493.6,1368.2 1495.7,1360.1 1517.1,1365.5 1468.3,1367.6 1540.3,1363.9 1510.1,1360 1484.8,1368.5 1525.2,1367.4 1504.3,1366.5 1484.5,1360 1475.8,1363 1482.9,1360.3 1533.4,1367.6 1469,1355.6 1532.5,1364.9 1544.7,1363.4 1497.1,1368.4 1489.9,1361.9 1518.3,1367.5 1500.8,1365.1 1468.5,1353.7 1482.9,1365.4 1513.2,1366 1501.4,1362.1 1518.4,1363.5 1509.8,1359.6 1517.7,1366.7 1523.2,1368 1513.5,1364.2 1527.1,1367.8 1470,1361.1 1543.2,1366.4 1476.7,1358 1490.7,1361.8 1535.1,1363.7 1527.8,1361.1 1509.5,1353 1529.8,1367.5 1513.6,1358.4 1465,1355.7 1493.9,1362.5 1512.5,1365.7 1508,1362 1537.8,1362.1 1507.1,1361.5 1507.6,1344.7 1544.5,1355.9 1509.1,1365.5 1504.7,1366.6 1510,1364.8 1526.8,1351.8 1495.5,1367.2 1512.2,1362.9 1501.9,1351.9 1490.7,1359.9 1491.1,1368 1527.3,1356.1 1507.2,1363.5 1472.4,1364.8 1479.9,1365 1545.2,1363.6 1490.2,1362.2 1471.9,1366.5 1500.3,1361 1537.5,1362.3 1524.7,1358.1 1488.6,1354.8 1499.7,1350 1494.2,1363.3 1540.1,1366 1513.5,1368.7 1534.1,1357.3 1478.6,1350.7 1476.6,1362 1506.6,1365.6 1541.1,1365.1 1517.6,1368.5 1473.5,1365 1468.1,1367.3 1468.3,1366.9 1477.3,1358 1513.5,1368 1495.4,1368.8 1504.2,1367.3 1484.5,1366 1525.1,1362.4 1463.5,1368.2 1537.3,1366.2 1531.1,1366.7 1530.6,1359.3 1493.8,1362.2 1474.3,1367.2 1511.4,1360.1 1494.4,1353.1 1501.4,1364.7 1539.9,1366.8 1527.7,1359.9 1479.5,1359.1 1515.9,1354.3 1516.4,1356.6 1516.5,1351.3 1499.5,1358.5 1528.4,1361.2 1518.6,1368.7 1488.8,1368.7 1463.8,1364.4 1504.1,1365.5 1500,1367.2 1500.3,1362 1479.1,1367.2 1482.6,1362.4 1534.2,1364.1 1506.1,1367.4 1498.2,1363.4 1520.8,1368.3 1542.1,1367.7 1544.5,1365.6 1470.4,1364.3 1478.6,1360.6 1528.2,1367.5 1536.8,1366.9 1532.7,1355.7 1504.4,1368.1 1510.9,1363.9 1517.3,1364.6 1527.9,1353.7 1476.5,1365.8 1509.1,1365.2 1540.3,1360.6 1534.6,1368.8 1535.2,1342.8 1537,1368.9 1506.7,1366.2 1533.8,1364.2 1497,1367 1517.7,1366.6 1544.5,1365.6 1465.9,1365.3 1490.1,1359.2 1531.8,1365.8 1574.9,1362.3 1575.5,1366.1 1573.8,1364 1572.7,1362.5 1574,1371.6 1574.8,1361.6 1574.3,1373.8 1574.5,1358 1571.4,1371.7 1574.9,1371.1 1574.6,1366.6 1575.6,1370.8 1574.1,1365.9 1575.7,1368.7 1573.3,1361.3 1600.1,1328.2 1629.3,1373.1 1630.6,1375.1 1630.6,1373.5 1630,1372.7 1630.5,1367.8 1629.9,1375.1 1723.2,1368.4 1720.9,1366.1 1723.1,1366.3 1720.4,1363.3 1715.1,1363.8 1723.8,1356.7 1714.7,1333.8 1710,1354.6 1708.5,1353.8 1709.1,1364 1731.7,1357 1727.4,1354.7 1718,1365.3 1722.2,1360.4 1726.9,1360.4 1716.5,1353.6 1716.1,1359.9 1709.7,1368.3 1714.4,1359.1 1709,1358.1 1728.6,1365.4 1730,1363.7 1729.5,1362.3 1721.3,1351.5 1730.6,1367.6 1729.8,1359.9 1714.6,1368.3 1724,1359.1 1722,1355.8 1717.2,1360.9 1728.5,1365.3 1726.1,1356.9 1712.9,1367.6 1707.8,1363 1725.9,1362.1 1711.5,1359.9 1718.5,1360.4 1709.1,1363.4 1715.7,1365.1 1707.7,1318 1716.3,1367.7 1716.7,1367.9 1722.6,1346.6 1729.9,1320.7 1731.9,1350.4 1716.1,1325.8 1715.2,1362.9 1710.6,1336.5 1719.9,1368.3 1718.9,1360.4 1719.1,1366.8 1730.6,1364.5 1732.2,1285.3 1706.6,1368.9 1732.5,1368.6 1720.6,1367.9 1722.8,1356.2 1706.7,1366.9 1730,1362.9 1731.1,1365.5 1721.7,1359 1706.7,1360.9 1722.2,1361.2 1719.3,1366.4 1706.6,1366.9 1712.8,1363.5 1723.9,1350.6 1723.3,1363.1 1730.8,1346.4 1712.1,1331.2 1712.2,1297.9 1714.8,1361.4 1730.4,1367 1722.1,1361.6 1710.7,1348.6 1715.2,1361.8 1717,1366.3 1728.3,1351.3 1713.3,1363.8 1709.9,1361 1717.3,1354.6 1711.1,1351.6 1725.6,1368.2 1706.9,1330.6 1708.5,1358.5 1715.9,1360.1 1713.6,1364.9 1707.3,1192.8 1707.3,1197.2 1488,1337 1519,1328 1542,1347"/>
<polyline class="dL" points="960.7,1239.5 1025.1,1208.2 963.7,1372 1058.2,1349 979.9,1192 959.9,1202.9 992.6,1372.1 1010.1,1368.4 1017,1372.4 1035,1339.2 984.4,1371.3 1044.6,1366 983.5,1339.3 979.9,1368.6 973.9,1366.8 1049,1368.6 975,1289.6 1016.1,1371.9 970.2,1367.5 1014.9,1371.8 977,1354.2 1058.8,1370.6 1023.7,1127.2 973.1,1363.1 975,1358 1054.3,1289.3 1060.2,1368.2 971.5,1361.2 1021,1364.5 1018.7,1288.6 1053.5,1371.7 1020,1262.5 1059.7,1281.6 987.9,1370.1 982.2,1189.6 984.5,1313.6 982.7,1343.2 992.3,1365.6 960.2,1297 984,1303.8 984.9,1104 986.7,1204.8 979.9,1358.7 1054.1,1262.1 994,1369.5 982.3,1356.6 1054.8,1362 1023.9,1148 1051.5,1280.2 1052,1309.6 1027.6,1260.6 1031.8,1364.6 963.6,1356.2 1052.8,1104 974,1364.2 1000.9,1369.5 1061,1371.1 976.8,1330.3 959.5,1304.9 1036.5,1369.6 1022.4,1371.9 1047.8,1371.8 1022.3,1298.1 962.5,1315.8 988,1367.4 1032.7,1273.1 975.5,1369.8 976.5,1370.9 964.2,1372.7 1007.7,1303.2 1024.6,1372.7 993.8,1365.8 996.8,1372.6 1001.1,1372.5 1023.8,1293.9 1057.2,1328.8 986.3,1281.6 1007.8,1324 1007.6,1330.4 987,1243.5 988.3,1365.3 1009.3,1368.2 1006.7,1351.9 1054.4,1370.8 967.4,1370.2 978.2,1367.9 1029.2,1299.6 1043.9,1352.3 1058.8,1210.3 1039.4,1368.9 1035.7,1291.9 1045.8,1360.6 988.4,1359.9 1054.5,1215.4 1017.2,1369.5 1021,1335.6 1023.2,1130 1038.4,1104 1029.7,1352 964.3,1372.4 1032.8,1158.8 996.3,1372.5 1051.7,1372.3 963.8,1364.4 968.9,1134 968.1,1372.4 1058.1,1371.4 1049.9,1227 1025,1341 999,1371 1027,1266.3 973.4,1182.2 969.8,1364.3 1014.5,1371.7 1045,1331.5 1001.6,1364.4 1001.4,1368.7 1007,1372.2 1009.9,1371.5 997.4,1371.2 1013.5,1104 967.8,1263.2 1024.5,1239 967.2,1358.8 1043.2,1118.2 975.7,1366.7 984.3,1355.3 1001,1370.5 1014.7,1174.2 1024.4,1104 1022.5,1289.4 995.5,1366.1 1027.9,1279.3 1039.8,1150.7 999.9,1359.8 998.6,1369.5 1056.5,1322.7 1022.8,1371.9 1043.1,1364 1021.1,1355.6 1031.5,1370.5 1022.9,1172.9 979.1,1367.9 981.9,1370.9 975.7,1371.6 1010.5,1356.4 1030.6,1195.2 1038.9,1342.7 1021.3,1208 978.3,1356.9 1027,1285.1 976.7,1351.8 980.7,1371.3 981.2,1104 1020.4,1337.7 978.7,1334.9 1052.8,1334.4 1034.2,1368.3 985.5,1352.5 1040.2,1104 988.5,1256.9 1006.3,1361.9 1001.7,1366.8 1038,1371.2 1013.2,1371.4 970.1,1313.2 983.1,1320.8 961.3,1247.1 1008.2,1334.8 1016.3,1367.1 997.4,1367.2 1049,1173.6 969.3,1185.5 1032.5,1371.1 1020.6,1320 1010.5,1369.4 1038.4,1365.6 1039.7,1369.6 1049.9,1357.9 1049.6,1357.7 1046.4,1350.6 1061.3,1368.3 1008.7,1330.2 974.5,1296.4 981.6,1372.6 990.8,1161.8 986.4,1282.6 1047,1366.2 975.8,1334.3 976.5,1360.4 996.2,1372.3 963.3,1248.4 1011.1,1368.1 1015.8,1367.6 1026,1358.9 1003.8,1367.2 1032.6,1367.4 985.7,1304.4 1013.9,1299.3 1052.2,1344 1011.3,1369.8 1039.6,1277.7 973.8,1370 1019,1286 975.4,1369.8 1051.7,1371.3 985.1,1306.3 980.6,1368.4 1011.7,1299.4 1008.4,1104 970.6,1363.5 1058.7,1354.9 985.3,1327.5 1002.6,1365.3 1019.7,1371.6 1043.1,1319 1037.3,1342.1 1038.4,1369 974.4,1249.5 1039.8,1369.4 1030.7,1356.8 1049.3,1371.9 974.9,1369 1009.5,1305.8 997.9,1367.5 1048.2,1317 1014.2,1203.8 999.9,1354 971,1372.2 970.8,1281 989.5,1369.7 1036.2,1284.4 1036.9,1250.8 1013.2,1366.7 976.6,1362.3 1038.9,1307.3 1015,1189.5 1021.6,1351.4 1037,1104 966,1365.8 1024.9,1203.7 1044.6,1301.1 1025.9,1144.5 1052,1346.4 1025.9,1364 969.6,1365 1045.8,1371.7 970.3,1300.6 1000.9,1366.8 962.7,1368.4 1042.1,1104 1028,1243.5 1010.6,1358.3 1025.7,1104 1059.7,1259.9 999.7,1366 1047.3,1364.9 1054.8,1153 980.7,1160.5 963.7,1361.9 964,1366.1 1008.9,1292.2 969.7,1368.4 1011.8,1372.7 984,1269.1 1014.3,1322.3 993,1367.4 1039.2,1106.5 1049.7,1335.7 1045.7,1137.2 972.8,1180.2 985.8,1195 970.2,1322 973.5,1284.5 1015.1,1254.2 984.1,1370.6 1028.8,1104 1023.8,1301.4 1024,1290.7 1060.3,1168 969.7,1362.8 1061.7,1255.2 1015.9,1318.2 1045.3,1335.3 982.3,1316 1017.5,1282 989.1,1371.2 960.4,1226.8 997.9,1364 1024.9,1157 973.9,1362.5 970,1358.5 1048.6,1104 1021.5,1273.5 1002.3,1362.9 1035.6,1365.2 1029.1,1372 1033.5,1369.6 976.7,1371.2 1028.6,1371.8 997.1,1369.9 999.2,1364.8 1046.7,1356.8 1052.4,1201.4 970.1,1347.1 1028.5,1168.8 1043.2,1363 1035.6,1274.7 994.7,1363.5 1036.2,1372.6 1014.2,1367.9 1007.8,1280.8 1027.8,1357.5 1010.5,1369 1034,1366.8 980.4,1328.9 988.2,1368.8 1014.4,1363.7 993.4,1370.1 1025.3,1329.9 1020.1,1367.6 1008.5,1370.6 1006.6,1366 993.8,1370.9 1027.3,1368.3 1031.8,1340.4 1039.2,1288.7 1048.4,1364.2 1030.8,1366.5 1016.1,1350.6 993.1,1368.8 1042.2,1307.8 1032.9,1357.5 1032.7,1204 1050.1,1344.6 978.9,1333.9 1029.7,1349.8 1050.5,1104 1032.8,1369.5 1010.9,1270.4 1044.9,1362.9 1045.3,1271.6 1023.3,1371.1 1061.9,1104 1021.2,1220.3 1053.2,1371.5 1038.5,1372.4 986.3,1371.7 1042.7,1362 986.3,1290.4 1012,1341.8 987,1317.1 963,1354.9 1051.6,1342.7 1043.9,1310.9 1049.8,1366.8 969.2,1234.6 985.3,1365.3 1040.3,1372.2 988.5,1353.1 992.9,1364.5 969.6,1288.5 997.3,1355.3 1057,1368.4 1007.6,1285.5 1024.6,1218.7 1020.3,1345.2 1052.3,1353.3 992.4,1367.9 976.4,1363.4 1030.2,1326.5 979,1104 969,1367.5 1054.5,1370.5 1021.7,1270.9 1013,1329.4 1012.2,1371.3 999,1366.9 974,1104 959.7,1209.1 960.9,1372 1059.1,1368.9 1001.1,1372.1 1040.1,1319 965.2,1368.2 1038.8,1365.2 1018.5,1295.1 966.4,1364.1 1061,1298.7 1036.2,1202.2 1004.4,1370.3 1021.3,1371 1035.1,1358.9 1035.8,1372.3 976,1370 985.8,1370.4 1047.9,1363.1 1026.5,1371.6 993.7,1370.6 1044.2,1293.1 1038.5,1222.5 1026.8,1333.8 969.6,1367.6 974.1,1370.6 982.1,1139.4 1034.9,1371.9 961.2,1104.3 1023.9,1104.3 1058.1,1104.3 1056.5,1104.3 997.7,1104.3 1036,1104.3 1037.8,1104.3 972.1,1104.3 975.8,1104.3 1011.2,1104.3 972,1104.3 999.3,1104.3 1004.7,1104.3 961.9,1104.3 1040.3,1104.3 993.9,1104.3 1044.3,1104.3 1000.1,1104.3 1032.3,1104.3 1013.2,1104.3 988.7,1104.3 975.1,1104.3 1043.1,1104.3 1002.2,1104.3 1039.8,1104.3 991.2,1104.3 995.2,1104.3 971.2,1104.3 1056,1104.3 1021.9,1104.3 1059.1,1104.3 1030.8,1104.3 1049.1,1104.3 999.9,1104.3 962.6,1104.3 1041.6,1104.3 1007.2,1104.3 964.3,1104.3 1025.1,1104.3 961.2,1104.3 987.7,1104.3 962.6,1104.3 961.1,1104.3 1051.4,1104.3 1029.7,1104.3 1019.1,1104.3 987.4,1104.3 1055.6,1104.3 982.6,1104.3 1020.5,1104.3 1039.4,1104.3 997.4,1104.3 1048.2,1104.3 992.1,1104.3 1016.3,1104.3 972.3,1104.3 992.8,1104.3 1445.1,1369.5 1446,1375.5 1445.8,1365.7 1465.5,1362.5 1516,1357.5 1484.4,1367.4 1462.7,1367.5 1463.9,1368.7 1537.5,1358.1 1522.3,1359.8 1471.5,1359.3 1529.2,1367.2 1467.6,1367.4 1479.7,1368.7 1523.8,1365.8 1506.8,1352.5 1534.7,1367.2 1475.5,1368.4 1482.8,1360.6 1509.4,1358.9 1536.1,1358.4 1488.6,1366 1511.3,1365.2 1540,1364.6 1542.4,1362.2 1538.5,1341.9 1495.1,1368.8 1462.5,1351.8 1508.9,1366.7 1486.9,1363.2 1463.4,1365.2 1483.3,1364.8 1522.4,1360.4 1504,1362.9 1498.6,1364.9 1482.7,1363.4 1537,1356.7 1490.9,1368.4 1538.6,1367.2 1492.1,1352.9 1475.9,1366.7 1501.1,1365 1528.1,1347.4 1468.7,1366.6 1498.4,1368.5 1479.8,1368.7 1510.3,1367.4 1516.9,1367.4 1470.2,1368.3 1493.5,1365.8 1507.6,1354.8 1490.7,1366 1516.5,1352.3 1496.6,1358.9 1519.1,1368.7 1477.8,1358 1574,1369.6 1573.7,1354.3 1574.8,1356.4 1575.6,1364.4 1575.9,1336 1576.5,1373.4 1576.8,1371.4 1574,1353.9 1571.2,1351 1600.8,1353.4 1600.5,1369.7 1600.1,1352 1599.9,1374 1630.6,1375.4 1709.5,1366.7 1725.3,1358.8 1718.4,1344.2 1711.8,1323.7 1720.9,1359.1 1707.9,1355.9 1722.3,1354.1 1726.1,1368.5 1713.7,1360.6 1711.4,1358.4 1722.4,1360.2 1730.9,1364.4 1721.9,1366.8 1727.7,1368.5 1707.9,1367.4 1724.1,1368.4 1712.3,1352.1 1709.5,1332.6 1716.1,1363.8 1720.2,1362.3 1717.5,1366.9 1629.9,1103.9 1630.2,1104.2 1599.2,1326.7 1599.2,1335.5 1485.5,1316.5 1485.8,1325 1511.3,1337.8 1542,1343"/>
<path d="M1068.4 1377.9L1067.4 1375.4V1370.7L1068.9 1365.9L1070.4 1368L1071.9 1365.8L1073.4 1367.8L1074.9 1364.8L1076.4 1368.2L1077.9 1367.1L1079.4 1367.6L1080.9 1365.4L1082.4 1369.4L1083.9 1366.7L1085.4 1368.6L1086.9 1366.5L1088.4 1368.2L1089.9 1366.2L1091.4 1367.6L1092.9 1366L1094.4 1368.9L1095.9 1366.1L1097.4 1369.3L1098.9 1365L1100.4 1368.9L1101.9 1366L1103.4 1368.9L1104.9 1365.2L1106.4 1368.4L1107.9 1365.4L1109.4 1368.9L1110.9 1365.9L1112.4 1367.7L1113.9 1366.8L1115.4 1369.2L1116.9 1365.9L1118.4 1367.7L1119.9 1367L1121.4 1368.7L1122.9 1366.8L1124.4 1368.2L1125.9 1366L1127.4 1368.2L1128.9 1366.7L1130.4 1369.3L1131.9 1365.5L1133.4 1368.3L1134.9 1365.6L1136.4 1369L1137.9 1365.7L1139.4 1368.8L1140.9 1364.8L1142.4 1367.8L1143.9 1365.5L1145.4 1368.5L1146.9 1365.8L1148.4 1369.2L1149.9 1365.5L1151.4 1368.2L1152.9 1365.5L1154.4 1368.6L1155.9 1365.5L1157.4 1368L1158.9 1366.7L1160.4 1367.8L1161.9 1367.1L1163.4 1368.5L1164.9 1366.4L1166.4 1368.8L1167.9 1366.6L1169.4 1368.7L1170.9 1366L1172.4 1367.7L1173.9 1367L1175.4 1367.8L1176.9 1365.9L1178.4 1368.9L1179.9 1367.1L1181.4 1369.2L1182.9 1364.9L1184.4 1368.8L1185.9 1366.8L1187.4 1369.2L1188.9 1365.9L1190.4 1369.2L1191.9 1366.6L1193.4 1368.4L1194.9 1365.4L1196.4 1368.5L1197.9 1367L1199.4 1367.9L1200.9 1367.1L1202.4 1367.6L1203.9 1366.8L1205.4 1368.8L1206.9 1365.3L1208.4 1368.7L1209.9 1365.2L1211.4 1367.9L1212.9 1367.1L1214.4 1369.1L1215.9 1365.6L1217.4 1368.4L1218.9 1365.8L1220.4 1368.9L1221.9 1365.7L1223.4 1368.4L1224.9 1365.1L1226.4 1369.2L1227.9 1366.4L1229.4 1367.8L1230.9 1365.9L1232.4 1368L1233.9 1366.8L1235.4 1368.9L1236.9 1366.8L1238.4 1368.8L1239.9 1366L1241.4 1368.4L1242.9 1365.3L1244.4 1367.7L1245.9 1365.1L1247.4 1368.8L1248.9 1365.9L1250.4 1368L1251.9 1365.3L1253.4 1369.2L1254.9 1366L1256.4 1368.2L1257.9 1364.8L1259.4 1368.9L1260.9 1365.7L1262.4 1368.8L1263.9 1365L1265.4 1369.2L1266.9 1366L1268.4 1367.9L1269.9 1366.7L1271.4 1367.9L1272.9 1366.1L1274.4 1369L1275.9 1366.2L1277.4 1368L1278.9 1367.1L1280.4 1368.4L1281.9 1366.4L1283.4 1369.1L1284.9 1365.2L1286.4 1367.9L1287.9 1365.9L1289.4 1369.1L1290.9 1365.1L1292.4 1368.5L1293.9 1366L1295.4 1369.3L1296.9 1366.9L1298.4 1367.7L1299.9 1366.7L1301.4 1368.4L1302.9 1365.6L1304.4 1367.6L1305.9 1365.5L1307.4 1368.2L1308.9 1366.8L1310.4 1368.1L1311.9 1366.8L1313.4 1367.7L1314.9 1364.9L1316.4 1369.3L1317.9 1365.5L1319.4 1368.4L1320.9 1365.3L1322.4 1368.3L1323.9 1366.7L1325.4 1367.9L1326.9 1366.8L1328.4 1367.6L1329.9 1365.3L1331.4 1369L1332.9 1365.5L1334.4 1367.6L1335.9 1365.4L1337.4 1367.9L1338.9 1366.2L1340.4 1368.8L1341.9 1367L1343.4 1368.5L1344.9 1365.7L1346.4 1367.6L1347.9 1365.6L1349.4 1367.7L1350.9 1365.1L1352.4 1369L1353.9 1365.4L1355.4 1368.2L1356.9 1365.7L1358.4 1367.7L1359.9 1365.4L1361.4 1367.9L1362.9 1366.7L1364.4 1368L1365.9 1364.9L1367.4 1369L1368.9 1365.3L1370.4 1369.2L1371.9 1366.3L1373.4 1368.6L1374.9 1365L1376.4 1369.2L1377.9 1365.8L1379.4 1368.2L1380.9 1364.8L1382.4 1368.1L1383.9 1365.3L1385.4 1368.2L1386.9 1366.5L1388.4 1368.7L1389.9 1366.2L1391.4 1368.7L1392.9 1366.9L1394.4 1367.6L1395.9 1365L1397.4 1368.6L1398.9 1365.2L1400.4 1369.2L1401.9 1365.4L1403.4 1367.6L1404.9 1366.6L1406.4 1369L1407.9 1366.2L1409.4 1367.9L1410.9 1365.6L1412.4 1367.9L1413.9 1365.4L1415.4 1368.4L1416.9 1366L1418.4 1367.9L1419.9 1366.7L1421.4 1367.5L1422.9 1366.8L1424.4 1368.4L1425.9 1365.7L1427.4 1369.1L1428.9 1366.2L1430.4 1368.9L1431.9 1366.4L1433.4 1369.2L1434.9 1365.1L1436.4 1369.2L1437.9 1364.8L1439.4 1368.8V1375.4L1438.4 1377.7L1436.2 1377.9L1434 1377.8L1431.8 1377.9L1429.6 1377.6L1427.4 1377.9L1425.2 1377.8L1423 1378.3L1420.8 1377.7L1418.6 1378L1416.4 1377.6L1414.2 1378L1412 1377.6L1409.8 1378.3L1407.6 1377.6L1405.4 1378.2L1403.2 1377.8L1401 1378L1398.8 1377.6L1396.6 1377.9L1394.4 1377.6L1392.2 1377.9L1390 1377.7L1387.8 1378.4L1385.6 1377.6L1383.4 1378L1381.2 1377.8L1379 1378L1376.8 1377.7L1374.6 1378L1372.4 1377.8L1370.2 1378.1L1368 1377.8L1365.8 1378L1363.6 1377.6L1361.4 1378L1359.2 1377.6L1357 1378.5L1354.8 1377.7L1352.6 1378.2L1350.4 1377.8L1348.2 1378.7L1346 1377.7L1343.8 1378.7L1341.6 1377.6L1339.4 1378.4L1337.2 1377.6L1335 1378.1L1332.8 1377.8L1330.6 1378.5L1328.4 1377.7L1326.2 1378.2L1324 1377.7L1321.8 1378.5L1319.6 1377.9L1317.4 1378.1L1315.2 1377.8L1313 1378.1L1310.8 1377.7L1308.6 1377.9L1306.4 1377.8L1304.2 1378.2L1302 1377.8L1299.8 1378.7L1297.6 1377.6L1295.4 1378.5L1293.2 1377.6L1291 1378.4L1288.8 1377.7L1286.6 1378.5L1284.4 1377.7L1282.2 1378.5L1280 1377.9L1277.8 1378.3L1275.6 1377.6L1273.4 1378L1271.2 1377.7L1269 1378.7L1266.8 1377.8L1264.6 1378.6L1262.4 1377.7L1260.2 1378L1258 1377.7L1255.8 1378L1253.6 1377.7L1251.4 1378.1L1249.2 1377.8L1247 1378.7L1244.8 1377.8L1242.6 1378.1L1240.4 1377.8L1238.2 1377.9L1236 1377.7L1233.8 1378.1L1231.6 1377.7L1229.4 1378L1227.2 1377.6L1225 1378.7L1222.8 1377.7L1220.6 1378.7L1218.4 1377.6L1216.2 1378.4L1214 1377.7L1211.8 1378.3L1209.6 1377.6L1207.4 1378.6L1205.2 1377.8L1203 1378.5L1200.8 1377.9L1198.6 1378.3L1196.4 1377.6L1194.2 1378.1L1192 1377.7L1189.8 1377.9L1187.6 1377.6L1185.4 1378.5L1183.2 1377.6L1181 1378.1L1178.8 1377.6L1176.6 1378.2L1174.4 1377.6L1172.2 1378.2L1170 1377.6L1167.8 1377.9L1165.6 1377.8L1163.4 1377.9L1161.2 1377.6L1159 1378.2L1156.8 1377.7L1154.6 1378.5L1152.4 1377.6L1150.2 1378.8L1148 1377.6L1145.8 1378.2L1143.6 1377.7L1141.4 1378.1L1139.2 1377.7L1137 1378.3L1134.8 1377.6L1132.6 1378.3L1130.4 1377.6L1128.2 1378.5L1126 1377.7L1123.8 1378.1L1121.6 1377.7L1119.4 1378.2L1117.2 1377.7L1115 1378.6L1112.8 1377.6L1110.6 1378.4L1108.4 1377.7L1106.2 1378L1104 1377.6L1101.8 1378.7L1099.6 1377.8L1097.4 1378.3L1095.2 1377.8L1093 1378.4L1090.8 1377.6L1088.6 1378.2L1086.4 1377.6L1084.2 1378L1082 1377.7L1079.8 1378.1L1077.6 1377.6L1075.4 1378.3L1073.2 1377.8L1071 1378.5L1068.8 1377.8zM1552.9 1377.9L1551.9 1375.4V1371.6L1553.4 1366.8L1554.9 1370.3L1556.4 1367.5L1557.9 1369.4L1559.4 1368.3L1560.9 1370.3L1562.4 1367.5L1563.9 1369.4L1565.1 1367.8V1375.4L1564.1 1377.6L1561.9 1378.4L1559.7 1377.8L1557.5 1378.6L1555.3 1377.6L1553.1 1377.9zM1583.9 1377.9L1582.9 1375.4V1372.1L1584.4 1367.8L1585.9 1369.8L1587.4 1369L1588.9 1370.7L1590.4 1367.9L1591.9 1370L1593.4 1368L1594.1 1370.7V1375.4L1593.1 1377.7L1590.9 1378.4L1588.7 1377.6L1586.5 1378.4L1584.3 1377.8zM1606.9 1377.9L1605.9 1375.4V1371.2L1607.4 1365.9L1608.9 1369.5L1610.4 1367.2L1611.9 1368.8L1613.4 1367.7L1614.9 1369.1L1616.4 1366.3L1617.9 1368.4L1619.4 1365.8L1620.9 1369.1L1622.4 1365.9L1623.9 1369.7V1375.4L1622.9 1377.6L1620.7 1378.5L1618.5 1377.8L1616.3 1378.4L1614.1 1377.7L1611.9 1378.2L1609.7 1377.6L1607.5 1378.6zM1636.7 1377.9L1635.7 1375.4V1370.3L1637.2 1364.1L1638.7 1368.1L1640.2 1365.8L1641.7 1367.4L1643.2 1365.8L1644.7 1368.7L1646.2 1364L1647.7 1368.1L1649.2 1364.8L1650.7 1368.3L1652.2 1366.2L1653.7 1367.4L1655.2 1364.7L1656.7 1368.2L1658.2 1364L1659.7 1368.7L1661.2 1364.9L1662.7 1367.2L1664.2 1364.9L1665.7 1368L1667.2 1364.6L1668.7 1367.3L1670.2 1364.7L1671.7 1367.8L1673.2 1366.2L1674.7 1367L1676.2 1364.5L1677.7 1366.9L1679.2 1364.3L1680.7 1367.6L1682.2 1365.1L1683.7 1368.6L1685.2 1364.4L1686.7 1368.8L1688.2 1364.4L1689.7 1368.1L1691.2 1365.7L1692.7 1367.2L1694.2 1364.3L1695.7 1367.6L1697.2 1366L1698.7 1368.1L1700.2 1365.2L1700.6 1368V1375.4L1699.6 1377.7L1697.4 1378.1L1695.2 1377.8L1693 1378.2L1690.8 1377.8L1688.6 1378.7L1686.4 1377.6L1684.2 1378.5L1682 1377.7L1679.8 1378L1677.6 1377.8L1675.4 1378.2L1673.2 1377.7L1671 1378.4L1668.8 1377.7L1666.6 1378.1L1664.4 1377.7L1662.2 1378.5L1660 1377.6L1657.8 1378.7L1655.6 1377.7L1653.4 1378.4L1651.2 1377.8L1649 1378.2L1646.8 1377.8L1644.6 1378.4L1642.4 1377.8L1640.2 1377.9L1638 1377.7z" fill="#8a1b61"/>
<polyline class="uP" points="1214.8,1339.7 1197.9,1349.3 1178.7,1365.9 1374.9,1367.8 1153,1356.7 1194.3,1354.2 1140.9,1366.6 1192.6,1367.2 1286.5,1358.6 1145.1,1364.7 1291.6,1363 1197.8,1345.9 1071.5,1193.3 1408.3,1363.8 1176.8,1367.7 1265.3,1368.2 1242.6,1357.5 1420.9,1244.3 1255.2,1348 1407.7,1158.7 1297.4,1369.6 1227.4,1368.2 1213.6,1348 1360.9,1360.5 1413.9,1365.8 1373.6,1342.8 1345.3,1336.8 1331.6,1349.9 1095.8,1304.1 1277.7,1370.1 1209.2,1356.1 1177.7,1364.8 1275.3,1350 1399.9,1366.8 1168.8,1363.3 1098.5,1335.3 1394.7,1350 1330.2,1361.3 1322,1364 1187.4,1329.8 1136.3,1348.4 1077.9,1357.4 1289,1137.2 1436,1364.4 1328.2,1369.9 1234.2,1310 1113.9,1369.4 1292.4,1345.9 1417,1363.2 1108.6,1357.1 1413.1,1341 1139.7,1368.9 1124.3,1369.2 1297.7,1367.1 1186.2,1363.1 1390.8,1348.1 1179.4,1345.6 1112.9,1367.6 1277.9,1369.2 1198,1293.3 1115.8,1356.2 1254.3,1369 1217,1352.8 1076.4,1366.3 1331,1359.3 1104.7,1367.1 1394.2,1367.1 1321,1365.4 1313.5,1364.1 1153.7,1345.8 1368.5,1355.7 1338.5,1360.1 1417.1,1364.9 1098.4,1367.4 1400.6,1360.7 1413.2,1330.5 1264.7,1364.3 1110.9,1328 1266,1141.5 1377.4,1361.4 1211.1,1367.6 1434.9,1365.5 1099.4,1359.9 1126.3,1359 1428.7,1360 1369.2,1255.1 1304.1,1367.7 1095.5,1367.8 1396.5,1355.7 1206.5,1360.6 1385,1328.3 1255,1362.7 1243,1368.5 1292.9,1363.8 1187.6,1351.8 1087.6,1306.5 1136.1,1360.2 1125.7,1335.6 1391.7,1367.1 1268.3,1361.8 1103.9,1288 1324.7,1365.7 1434.1,1256.4 1145.5,1349.1 1257.2,1347.6 1426.2,1366.7 1425.4,1368.1 1375.1,1352.3 1172.6,1363.4 1097.5,1337.4 1183.1,1355.2 1224.2,1366.3 1157.9,1368.4 1308.7,1338.6 1383.4,1321.7 1413.7,1367.5 1420.6,1369.5 1203.3,1305.2 1232.2,1367.9 1311.8,1367.9 1162.7,1359 1262.1,1366.3 1238.8,1342.6 1157.2,1367.8 1313.5,1362.3 1142.9,1263 1167.5,1335.2 1241.5,1366.3 1220,1357.6 1343.6,1366.9 1177.1,1331.1 1197,1354.5 1115.1,1368.5 1260.8,1347 1231.5,1364.4 1159.1,1368.5 1406.7,1251.2 1271.4,1361.1 1354.8,1325.5 1228.5,1346.7 1415.7,1370 1129.3,1358.7 1111.9,1366.9 1134.1,1250.5 1179,1370.2 1260.6,1367.8 1131.4,1369 1289.6,1366.7 1304.8,1367.2 1198.1,1369.7 1340.4,1357.1 1370.4,1369.5 1433.1,1367.6 1095.4,1365.7 1358.5,1365.8 1091.6,1370.2 1318.2,1328.7 1384.5,1313.2 1152,1361.8 1142.3,1369.4 1432,1368.8 1196.6,1355.5 1304.5,1359.4 1403.7,1356.2 1077.3,1351.3 1289,1347.8 1243.3,1357.8 1419.7,1370 1255.8,1368.8 1090.9,1366.8 1427.7,1355.7 1236.6,1363.8 1137.7,1363.2 1152.6,1363.4 1425.2,1359 1131.6,1363.5 1425,1364.8 1208.7,1365.8 1294,1350.6 1223.3,1364.8 1139.2,1361 1274.9,1357.3 1108.3,1342.3 1421.8,1350.4 1223.4,1362.4 1076.9,1362.5 1218.3,1362.5 1147,1347.5 1122.7,1368.5 1146.5,1358.6 1397.7,1367.3 1338.4,1367.9 1095.1,1369.6 1324.9,1309 1297.5,1349.5 1279.9,1367.2 1293.4,1348.5 1377.2,1354 1224.9,1358 1421.7,1369.5 1264.1,1354.7 1347.8,1360.6 1136.3,1369.7 1191,1370.1 1315.9,1361.7 1325.5,1337.7 1321,1297 1417.1,1368.5 1207,1368.6 1131.5,1319.9 1380.9,1322 1126.7,1367.4 1286,1362 1263.5,1366 1388.1,1359 1129.5,1359.9 1143.1,1366.5 1367.1,1358.2 1177.3,1369.4 1131,1351.7 1095.1,1360.1 1301.8,1357.9 1243.1,1351.1 1093.4,1333 1262.6,1363.2 1187.6,1104 1229.1,1370.2 1223.5,1357.8 1282.8,1363 1175.2,1348.5 1246.8,1179.5 1359.6,1366.3 1347.5,1352.9 1203.5,1363.5 1351.4,1362.5 1389.5,1363.7 1353.6,1176.2 1389.1,1370.1 1401.1,1367 1356.3,1369.3 1322.7,1185.3 1081.1,1328.2 1294.4,1365.2 1286.1,1356.1 1123,1172.3 1318.1,1359.3 1161.1,1316.3 1179.3,1364.7 1216.6,1370.1 1401.6,1358.6 1362.6,1364.6 1393.4,1200.1 1159.3,1370.1 1399.8,1334.9 1095.5,1368.6 1094.1,1362.9 1221.6,1369.8 1096.8,1347.5 1210.1,1362.5 1330.4,1347.6 1144.3,1369.2 1236.8,1367.2 1266.6,1357 1404,1363 1374.2,1215.1 1206.6,1369.9 1365.2,1339.1 1135.4,1369.2 1125.6,1270.6 1433.4,1350.4 1369.8,1337.3 1303.4,1349.9 1362.7,1369.8 1144.2,1365.2 1268.8,1313.9 1168.4,1366.7 1309,1351.6 1394.4,1369.7 1425.7,1358.3 1411.1,1369 1182.3,1363.8 1112.1,1343.8 1197.1,1367.2 1218,1369.2 1117.1,1363.1 1137.7,1370.3 1070.4,1327.4 1418.4,1354.1 1297.3,1352.4 1384.2,1368.7 1183.9,1335.2 1240.7,1359.2 1188.5,1344.5 1243.8,1368 1297,1320.7 1074.2,1356.9 1347.3,1357.4 1120.3,1363.7 1380,1366.7 1151.1,1360.1 1269.8,1343.3 1423.1,1361.7 1413.3,1200.9 1292.3,1251.7 1308.1,1359.8 1238.6,1367.1 1326.7,1366.7 1072.2,1359 1192.3,1368.7 1245.1,1357.2 1356.1,1349.2 1398.6,1294.5 1167.6,1366.4 1385.6,1365.3 1224.1,1349.1 1265,1356.5 1346.2,1366.1 1347.5,1368.2 1268,1363.4 1099.6,1108.3 1184.9,1342.7 1168.7,1340.5 1254.7,1365.7 1129.5,1342.2 1344.2,1354.3 1387.7,1368.7 1292.5,1369.9 1339.2,1343.6 1338.9,1362 1081.7,1370.2 1247.9,1331 1203.7,1328.9 1226.8,1361.9 1188,1369.6 1321.5,1359.4 1353.7,1365.7 1192.9,1363.9 1418.6,1348.8 1365,1367.2 1198.8,1368.6 1118.3,1367.4 1088.4,1104 1247.1,1357.1 1321.5,1350 1375.9,1366.4 1140.2,1365.5 1415.5,1325.8 1165.8,1366 1209,1265.6 1205.6,1321.3 1287.4,1356.2 1336.1,1358.4 1230.7,1369.5 1366.9,1367.5 1241.3,1350.2 1396.4,1334 1167.5,1245.8 1187.5,1365.2 1248.5,1369.4 1402.1,1320.6 1406,1348.5 1199.8,1315.7 1429.7,1368.9 1354.8,1274.1 1180.2,1358.6 1245.7,1351.1 1264.3,1368.1 1346.4,1184.7 1343,1366.7 1264.1,1354 1196.7,1362.5 1136.9,1335.6 1348.9,1354 1410.5,1369.2 1302.1,1322.4 1312.1,1366.5 1168.1,1341.3 1205.8,1368.1 1356.2,1354.1 1145.2,1370.1 1267.5,1361.4 1151.8,1331.9 1215.2,1353.7 1210.5,1368.1 1276.9,1346.2 1372.9,1368.3 1240.6,1364.4 1147.4,1355.1 1185.3,1320.4 1423.1,1360 1431.6,1362.1 1372.1,1358.2 1326.8,1247 1158.9,1361.6 1323.9,1261.5 1364.8,1367.7 1273.5,1366.2 1317.8,1361 1083,1285.9 1398.3,1344.7 1137.5,1360.2 1235.3,1355.6 1403,1364.8 1402.8,1370.4 1178,1369.6 1130.3,1354.9 1325.3,1357.6 1370.1,1361.2 1394.6,1343.3 1137.1,1297.8 1371.7,1351.6 1226,1104 1103.7,1369 1227,1354.4 1249.4,1358.7 1186.6,1322.6 1091.8,1356.3 1259.9,1352.5 1281.5,1295.8 1345,1355.1 1093.8,1177.3 1200.5,1364.4 1166,1328.3 1295.8,1357.5 1372.2,1365.8 1376.4,1369.1 1091.8,1341.6 1273,1338.3 1423.5,1369.2 1161.5,1364.5 1306.7,1363.8 1318.6,1368.3 1423.4,1357.6 1264.9,1340.6 1074.2,1357.5 1332.7,1370 1274.6,1340.3 1205.2,1349.1 1073.2,1337.6 1185.1,1355.5 1154.2,1249.8 1282.6,1353 1420,1358.9 1192.9,1297 1418,1345.5 1188.4,1345.3 1173.7,1357.4 1271.1,1364 1284.8,1358.7 1260.5,1357.1 1104,1104 1211.2,1356.7 1354.2,1333.8 1086,1368.9 1173.3,1368.6 1327.3,1336.5 1361,1370.1 1230.6,1351 1082.9,1342.3 1119.6,1337.7 1093,1370.3 1201.1,1364.7 1170.4,1365.2 1246.2,1360.2 1281.1,1358.2 1165.1,1326.6 1399.3,1235.7 1374.6,1352.5 1092,1104 1267.7,1362.4 1298.4,1364.5 1314.5,1333.2 1329.6,1291.2 1228.5,1364.5 1374.9,1369.8 1085.6,1360.5 1141.6,1356.8 1143.1,1359.5 1171.3,1232.1 1216.6,1317.8 1159.5,1363.8 1135.6,1357.4 1154,1236.3 1312,1367.3 1401.8,1363.4 1086.4,1355.9 1394.4,1289.1 1152.7,1368.8 1337.8,1356.9 1258.6,1291.1 1099.8,1368.8 1163.5,1361.7 1210.3,1345.6 1302.5,1355.3 1429.5,1358.5 1249.9,1370 1215.5,1362.2 1292,1367 1374.8,1354.2 1136,1357.1 1086.8,1367.8 1126.1,1334.6 1097.8,1359.8 1383.9,1359.8 1309.2,1345.8 1411.9,1363.5 1171.2,1360.9 1306.2,1104 1205.7,1364.3 1162.7,1363.4 1211.2,1334.5 1175.5,1358.4 1106.1,1367.9 1249.6,1292.9 1265.8,1363.4 1242.2,1335.9 1179.2,1104 1304,1355.9 1358.5,1366.8 1404.1,1356.2 1350.8,1370.1 1126.2,1356.5 1130.7,1307.7 1416.7,1312 1263.6,1367.2 1137.1,1369 1407.1,1345.6 1163.5,1344 1121.8,1331.7 1403.3,1362.4 1198.4,1369.3 1135.2,1357.7 1215.2,1367.7 1312,1346.2 1230.3,1365.2 1218.8,1340.5 1361.7,1366.4 1209.5,1342.8 1243.2,1295.8 1070.4,1353.5 1172,1356.8 1354.9,1351.6 1314.2,1341.5 1087,1349.8 1358.1,1365.8 1217.8,1362.8 1361,1359 1171,1356 1401.8,1303.4 1291.6,1308 1365.7,1344.4 1137.1,1368.3 1183.5,1357.5 1232.3,1341 1264.3,1360.9 1383.6,1352.7 1263.8,1357.5 1154.6,1368.5 1427.3,1358.5 1402,1212.1 1254.6,1357.8 1187.3,1351.1 1168.1,1346.7 1077.3,1370.4 1182.3,1366.3 1171.5,1341.7 1415.4,1347.2 1219.1,1355.1 1177.3,1365.4 1351.9,1366 1078.8,1354 1079.1,1359.8 1124.5,1359.6 1161.5,1366.9 1161.1,1313 1270.3,1358.4 1297.5,1362.4 1160,1352.9 1219,1362.6 1094.1,1343.2 1374.4,1295 1118.2,1315.7 1261.1,1354.3 1300.8,1355.8 1193.6,1368.2 1279.7,1366.6 1238.3,1369 1294.4,1104 1429.4,1332.8 1141.4,1364.1 1329.8,1355.4 1093.7,1359.3 1388.1,1348.5 1355,1267.3 1248.4,1359 1359.9,1356.4 1153.1,1345.3 1410.4,1340.1 1198.2,1363.6 1205.4,1323.1 1422.6,1360.1 1382.6,1370.1 1348.9,1341.6 1091,1367.3 1334.6,1361.2 1115.8,1362.2 1251.1,1366.4 1363.5,1365.6 1216.9,1364.1 1112.5,1353.6 1347.1,1364.2 1362.6,1361.2 1290.2,1333.7 1325.7,1362.9 1331.4,1369 1388.6,1324.5 1409,1359.6 1109.8,1365.4 1418.2,1351.2 1230.4,1356.5 1383.5,1369.3 1172.8,1370.1 1090.7,1363.2 1303,1348.5 1266.2,1363.4 1355,1367.4 1210,1355.4 1248.8,1362.5 1290.2,1350.9 1416.2,1350.7 1071.1,1368.9 1098.4,1367.6 1096.4,1368.1 1214.2,1341.3 1435.1,1339.4 1143.2,1370 1123,1306.9 1408.1,1287.5 1205.1,1363.2 1421.8,1363.4 1396.3,1353.9 1419.1,1351.6 1344.9,1368.8 1413.9,1356.3 1114.6,1104 1220.8,1365.3 1179.6,1354.6 1177,1326.8 1093.8,1366.2 1138.5,1342.7 1362.4,1366.5 1414.2,1356.8 1190.2,1359.2 1139,1148.9 1371.1,1355.5 1430.1,1128.9 1084.3,1366.8 1428.9,1341.4 1355.3,1333 1392.1,1341.5 1362,1338.8 1163.2,1344.9 1101.7,1354.7 1125,1359 1175.1,1361.6 1151.4,1368.8 1120.9,1350.2 1295.6,1370.1 1277.5,1166.3 1102.2,1365.6 1397.9,1367.6 1375.9,1370.4 1104.7,1369.3 1115.8,1130.2 1105.4,1362.7 1415.9,1360.6 1344.7,1344 1290.9,1334.9 1422.7,1368.6 1312.6,1363.3 1356.8,1360.6 1166.7,1366.9 1126.1,1358.8 1128.2,1365.2 1274.1,1355.2 1120.9,1364 1286.8,1321.6 1075.8,1104 1351.3,1363 1370.5,1363.9 1330.8,1361.6 1340.7,1361.7 1151.7,1367.7 1145.1,1367.8 1073.1,1292.7 1296.4,1347.1 1188.5,1368.8 1244.1,1362.3 1412.5,1364.1 1194.4,1367.5 1259.1,1345.1 1360.7,1267.4 1071.8,1358.8 1379.9,1363 1136.8,1123.5 1158.6,1367.3 1181,1361.1 1116,1338.7 1135.2,1358.6 1070.6,1364.4 1263.2,1362.8 1395.2,1370.3 1139,1364.1 1392.8,1351.4 1375.8,1359 1329,1293.9 1357.1,1347.6 1261.2,1367.2 1072.1,1348.6 1140.4,1364.6 1374.1,1363.3 1281.5,1362.4 1192.3,1299.7 1296.1,1194.5 1432.1,1292.4 1231.8,1368.4 1337.9,1368.2 1232.6,1332.6 1241.3,1333.1 1136.6,1365.2 1320.3,1354.4 1412.9,1368.3 1317,1104 1133.6,1364.4 1181.6,1359.5 1218.1,1304.1 1122.4,1355.5 1377.8,1363.9 1227.2,1362.4 1136.6,1360.6 1154,1367.1 1186.8,1356.3 1257.5,1365.5 1203.3,1370.2 1328.3,1359.4 1362.5,1262.1 1370.5,1327.3 1366.3,1353 1378.3,1364.7 1085.7,1365.4 1338.3,1358.2 1338.4,1237.7 1079,1342.6 1146.6,1368.6 1141.6,1360.6 1222.2,1351.7 1135.6,1365.3 1412.8,1335.2 1082.4,1370.4 1411.4,1357.4 1424.4,1366 1158,1370.2 1271.7,1357.9 1080.4,1360.3 1204.3,1348 1215,1367.3 1151.1,1368.9 1425,1359.7 1365.2,1357.3 1309.5,1361.3 1072.7,1304.4 1253.6,1368.7 1207.1,1369.4 1212,1370.2 1384.9,1360.5 1453.4,1362.3 1559.4,1367.9 1555.4,1368.1 1559.6,1370.7 1560.1,1367.2 1558.7,1371.3 1558.3,1371.8 1561.8,1371.3 1558.5,1371 1556.5,1370.3 1561.4,1366.9 1561.5,1366.4 1557.9,1368.5 1586.4,1366.8 1587.6,1361.3 1587,1355.2 1588.3,1371.6 1588.1,1357.2 1590.6,1370.2 1590.2,1366.5 1590.7,1365.7 1586,1368.7 1587,1371.1 1590.2,1369.2 1591,1367.9 1586.4,1367.3 1618.8,1370.3 1620.1,1369.5 1610.9,1360.6 1614.8,1367.7 1618,1345.2 1619.5,1370.3 1611.9,1369.9 1615.3,1360.1 1619.9,1368.3 1612.6,1358.1 1611.7,1358.8 1612.9,1371.1 1618.9,1362.8 1618.3,1368.1 1616.7,1361 1614.3,1358.4 1611.8,1364.4 1619.1,1363.5 1616.2,1368.9 1619.7,1357.7 1609.6,1367.7 1611.9,1368.4 1619,1366.2 1616,1370.2 1686,1350.7 1684.3,1368.4 1670.8,1368.9 1667.9,1362.7 1653,1323.5 1640.2,1332.5 1644,1369.5 1689.6,1352.6 1695.6,1344.9 1645.3,1336.9 1660.8,1360.1 1648.2,1367.9 1671.6,1360 1684.7,1356.5 1650.6,1369.6 1667.9,1104 1674,1349.5 1691,1361.3 1660.1,1367.9 1695.9,1232.5 1678.2,1356.6 1659.4,1355 1677.3,1362 1667.6,1368.8 1689.1,1366 1691.7,1360.2 1645.8,1360.5 1665.9,1364.5 1665.3,1349.8 1690.5,1347.1 1687.8,1350 1654.6,1363.8 1645,1363.7 1694.4,1367.5 1682.4,1358.1 1653.4,1367.1 1687,1355.8 1682.2,1345.5 1690.3,1362.1 1655.9,1368.9 1640.3,1368.7 1692.1,1355 1664.7,1368.3 1686.3,1311.5 1649.4,1365.4 1695.8,1361.7 1666.5,1369.6 1673.7,1365.9 1678.5,1367.2 1688.6,1317.5 1689.1,1366.8 1675.5,1352.7 1664.9,1363 1650.9,1369.2 1645.7,1366.2 1662.2,1363.3 1643.8,1369.5 1682.7,1349.5 1656.3,1367.9 1644.5,1356.9 1672.7,1367.1 1659.9,1369.6 1662,1358.9 1648.7,1361.9 1673,1362.7 1649,1369.5 1677.1,1356.9 1675.2,1354.2 1643.9,1354.3 1675.1,1364.8 1678,1336.7 1655.8,1358.9 1674.4,1369 1683.8,1366 1696.6,1361.2 1642.2,1262.8 1687.2,1255.3 1686.9,1338.8 1665.1,1363.9 1695.4,1111.1 1662.2,1360 1663.6,1368.9 1645.1,1367.7 1647.4,1368.3 1689.4,1366 1697.4,1369.2 1690.1,1357.5 1697.5,1368.3 1646.1,1365.6 1696.2,1369.2 1675.1,1368.5 1674.1,1355.3 1693.6,1357.4 1656.4,1330.8 1647.9,1341 1670,1360.3 1646.3,1363.1 1684.3,1358.1 1664.1,1362.4 1653.3,1360.2 1669.1,1307.7 1682.8,1361.6 1639.6,1367.6 1693.1,1366.7 1639.9,1360.8 1660.9,1367.8 1668.8,1364 1665.2,1365.7 1694.3,1352 1676.4,1366.9 1668.4,1352.2 1653.3,1363.3 1669.6,1365 1652.4,1328 1690.7,1359.8 1649.4,1362.7 1650.2,1364.5 1640.7,1364.1 1670.6,1357.7 1694.4,1368.2 1678.3,1117.5 1678,1348.2 1665.2,1365.2 1675.2,1369.5 1655.2,1364 1653.1,1364.4 1692.5,1358.3 1685.9,1364.5 1697.5,1364.7 1682.7,1352.5 1654.5,1362.4 1660.3,1364.3 1640,1369.1 1660.5,1351.2 1647.4,1362.2 1694.3,1287.6 1682.5,1366.7 1640.4,1362.9 1639.5,1369.6 1642.1,1367.5 1641.5,1351.6 1692.5,1352.6 1690.4,1342.9 1652.2,1367.9 1658.5,1104.3 1685.7,1104.3 1660.3,1104.3 1666.9,1104.3 1660.6,1104.3 1677,1104.3 1652.7,1104.3 1670.5,1104.3 1670.2,1104.3 1683.2,1104.3 1586.1,1283.7 1586.4,1284 1587,1339.5 1616.5,1349"/>
<polyline class="dP" points="1176.8,1332 1397.8,1361.7 1220,1366.2 1144.4,1362.9 1297.1,1357.8 1198.6,1356.1 1223.5,1271.9 1418.2,1355.8 1246.8,1357.4 1268.2,1353.8 1263.6,1360.5 1124.9,1353.9 1164.2,1368.8 1073.4,1363.7 1084,1354.9 1301.4,1350.9 1149,1367.7 1154.4,1367.1 1364.4,1359 1117.8,1340.5 1403.4,1329.9 1171.6,1367.2 1327.4,1355.4 1157.8,1358.1 1143.7,1356.2 1130.8,1365.9 1388.7,1341.4 1337.4,1343.4 1115.8,1360.6 1098,1357.4 1179.1,1364.4 1171,1329.5 1313.5,1325.7 1300.6,1356.7 1190.2,1361.9 1282,1359.7 1093.3,1310.4 1341.3,1364.8 1262.8,1370.2 1141.4,1334.9 1406.7,1368 1252.9,1358.5 1112.2,1367.4 1361.1,1368.3 1342.2,1355.5 1415.4,1364.4 1315.6,1344.4 1261.9,1363.6 1146.1,1353.6 1340.4,1351.6 1153.1,1368.2 1323.2,1364.8 1372.9,1353.3 1316.3,1240.4 1360,1362.6 1139.5,1363.3 1213.2,1349.4 1294.6,1358.7 1360.1,1363.1 1381,1370 1128,1179.4 1173.6,1358.9 1371.5,1344.9 1141.1,1369.3 1430.3,1356.7 1377.6,1360.4 1211.2,1339 1424.6,1358.4 1193.5,1359.5 1143.1,1367.1 1266.2,1284.9 1341.2,1363.8 1216.5,1354 1126.6,1364.1 1312.1,1347.2 1228.4,1344.6 1107.6,1266.7 1314.6,1365.4 1171.2,1360.7 1425.6,1357.6 1197.8,1358.3 1137.8,1369.4 1097.4,1366 1129.6,1360.5 1133.2,1341.8 1197.6,1341.8 1169.2,1365.5 1159.8,1360.4 1310.8,1316.5 1271.6,1324.7 1428.5,1335.1 1250.4,1283.7 1232.5,1361.6 1275.7,1353.2 1225.9,1360.5 1071.2,1355.8 1098.3,1344.2 1329.7,1355.3 1083.5,1271.4 1162.1,1349.7 1278.7,1343.1 1077.8,1320.7 1196.2,1347.7 1132.7,1323 1156.9,1363.8 1334.8,1365.7 1354.6,1363.1 1203.4,1361.7 1393.6,1368.6 1177.9,1314.9 1290.8,1368.3 1112,1367.9 1130.1,1362.2 1157.2,1367.2 1297.9,1361.1 1306.8,1358.6 1098.6,1365.1 1323.2,1358 1093.6,1355.1 1272.5,1368.4 1192.4,1362.9 1372.7,1364.6 1235.9,1366 1289.4,1335.7 1431,1368.4 1168.4,1368.8 1313.1,1356.4 1301.1,1366.5 1263.2,1330.9 1164.9,1360.5 1140,1334.1 1250.5,1359.4 1273.6,1326.9 1132.6,1346.5 1206.4,1313.8 1381.7,1369.3 1120.2,1367.3 1217.1,1356.1 1164.6,1358.2 1298.7,1363.6 1129.6,1174.1 1423,1365.6 1362.8,1353.8 1314.5,1363.4 1187.5,1367 1301.5,1352.4 1073.5,1329.7 1402.4,1366 1227.1,1354 1163.6,1258.3 1235.3,1369.3 1354.5,1339.2 1363,1361.3 1153.6,1359.7 1401.1,1365.5 1102.2,1328.6 1121.1,1347.8 1090.4,1364 1375.5,1367.3 1300,1337 1220,1368.8 1110.3,1366.9 1153.3,1362.8 1248.4,1365.7 1294.3,1369.4 1081.9,1312.1 1233.5,1359.7 1290.7,1354.2 1165.5,1363.4 1427.6,1352.4 1153.2,1362.5 1127.8,1366.4 1327.9,1297.9 1165.7,1366.3 1232.8,1157.3 1191.1,1370 1143.6,1355.7 1104,1369.8 1185.4,1346.7 1160.8,1220.8 1391.9,1361.6 1109.6,1362.9 1225.7,1337.7 1304.5,1361.5 1406.7,1335.5 1202.5,1367.8 1366.6,1333.7 1070.5,1368.4 1354.1,1356.6 1375.4,1366.9 1336.9,1352.9 1374.4,1143.5 1219.5,1370.3 1154,1366.9 1427.1,1368.9 1398.1,1349.3 1361.8,1368.4 1401.9,1223.4 1428.1,1307.6 1369.7,1370 1371.3,1327.6 1075.4,1363.2 1434.1,1324 1126.3,1326.6 1303.5,1361.5 1343.2,1367.5 1281.5,1360.7 1340.2,1360.8 1384.7,1359.4 1260,1364.4 1133.9,1326.2 1164.9,1370 1126,1304.2 1202.3,1368.3 1314.3,1357.4 1397.8,1104 1110.9,1365.7 1138.2,1356.2 1076,1104 1385.7,1349.1 1356,1366.9 1363.6,1362.8 1190,1351.2 1221.7,1362 1204,1363 1417.8,1333.7 1140.7,1196 1075,1362.9 1361.8,1338.2 1307.9,1362.6 1111,1358.4 1170.5,1196.3 1284,1340.2 1187.5,1358.7 1212.9,1345 1072.3,1359.6 1366.4,1358.5 1218.3,1317.8 1115.6,1370.2 1126.2,1349.9 1287.1,1369.7 1172.5,1355.9 1210.7,1360.8 1419.6,1366.8 1410.3,1347.4 1096.5,1362.2 1331.9,1370.3 1270.1,1246.6 1313.6,1356.7 1284.4,1364 1420.8,1366.8 1435.6,1363 1075.2,1348.2 1158,1321.7 1227.9,1365.5 1280.4,1370.3 1395.4,1360.2 1354.2,1363 1103.5,1343.4 1126.2,1345.2 1422,1368.2 1299.6,1365.2 1290,1317.1 1324.7,1365.9 1091,1362.8 1342.6,1352.2 1231.7,1104 1227.3,1351.6 1271.2,1366.1 1106.6,1352.2 1088,1346.3 1340,1358.1 1407.8,1368.4 1182.6,1320.9 1286.3,1352.5 1267.6,1347.7 1258,1362.5 1188,1361.7 1312.5,1346.7 1116.6,1351.7 1248.7,1367.9 1232.5,1344.2 1131,1366.9 1299.9,1357.8 1337.4,1360.9 1172.1,1368.1 1081.1,1349 1285.1,1344.6 1283.2,1349.9 1206.6,1370 1410.1,1368 1360.7,1354.5 1194.1,1356.1 1175,1337.7 1297.2,1351.6 1116.9,1365.9 1232.6,1368.7 1359.4,1365.8 1381.5,1364.4 1096.9,1344.7 1149.4,1361.5 1174.4,1322 1337.9,1297 1419.9,1367.6 1285.5,1346.6 1179.3,1365.6 1183.1,1368.2 1178.9,1352.8 1294.8,1366.3 1218.6,1309.1 1412.3,1318.8 1206.6,1322.1 1186,1370.3 1232.9,1348 1320.9,1329.7 1374.8,1359.2 1206.9,1365.4 1178.2,1366.4 1117.5,1358.1 1183.7,1363.1 1288.2,1333.1 1158.1,1194.5 1191.2,1370.3 1097.1,1223.5 1351.9,1356.8 1244.6,1325.5 1324.8,1355.9 1191.1,1288.6 1327.4,1366.9 1240.1,1260.7 1269.9,1365.4 1115,1365.6 1112.2,1359.6 1282.1,1343.9 1164.3,1354 1293.5,1359 1140.1,1322 1187,1310.4 1326.1,1328.4 1123.2,1345.4 1114.5,1352.7 1326,1369.4 1285.7,1370 1153.9,1368.3 1246.9,1362.2 1194.9,1370.4 1336.5,1358.7 1303.4,1359.9 1354.9,1338.9 1252,1311.8 1109.2,1351.1 1121.6,1370.1 1242.3,1358.3 1202.2,1284.3 1411.1,1328.5 1223.5,1366.1 1108.2,1369 1152.2,1370.1 1212.1,1179.8 1242.9,1351.6 1166,1369.8 1278.2,1369.6 1096.9,1366.7 1433.7,1316.8 1136.6,1359.8 1269.9,1240.9 1099.7,1345.2 1186.5,1348.1 1206.2,1360.6 1261.3,1368.3 1309.8,1362.5 1204.2,1354.5 1094.1,1353.9 1336.4,1365.7 1270,1356.4 1098.1,1140 1100.4,1344.4 1365.1,1370.1 1379.1,1354.2 1321.2,1357.9 1295.7,1344.7 1150.5,1367.5 1104.9,1367.6 1365.6,1355.8 1203.4,1229.1 1170.6,1277.7 1140.6,1367 1302.2,1329.9 1194.1,1308.7 1240.2,1354.8 1283.6,1360.7 1149,1361.3 1319.1,1363.7 1302.9,1362.7 1173.5,1363.3 1107.2,1351.1 1092.3,1363.5 1226.5,1350.5 1242.3,1352.2 1367.4,1195.7 1073.6,1354.7 1406.9,1357 1215,1337.9 1237.6,1355.5 1081.8,1337.4 1166.9,1361 1283.2,1368.7 1337.6,1348 1242.6,1359.2 1320,1369.8 1115.6,1337 1090.5,1362 1358.4,1370 1164.3,1365.1 1401.5,1364.4 1226.4,1351.1 1386.9,1357.7 1342.5,1355.9 1269.7,1368.3 1319.9,1370 1252,1366.4 1293.4,1368.9 1148,1359.7 1395.1,1365.8 1341.5,1369.2 1324.7,1234.9 1210.7,1362.1 1356.9,1355.2 1394.1,1343.7 1419.8,1364.5 1387.6,1310.2 1196.9,1349.2 1074.9,1326.8 1311.3,1369.4 1220.7,1361.9 1185.4,1360.3 1202.1,1357.5 1307.6,1366.7 1119.2,1362.8 1162.2,1369.5 1308.5,1356.8 1299.8,1335.8 1261.3,1162.4 1254.2,1298.2 1100.8,1367.2 1081.6,1367.1 1200.5,1305.4 1245.8,1358.5 1147.3,1325.9 1390.9,1365.7 1287.3,1353.8 1082.2,1341.5 1076,1336.2 1231.4,1370 1411.8,1245.3 1386.6,1366.7 1222,1369.7 1433.8,1362.6 1394.5,1347.4 1226.9,1307.7 1177.2,1294.5 1346.4,1365.9 1163.4,1351.8 1080.4,1339.8 1406.3,1357.8 1283.3,1367 1265.3,1306.2 1305.6,1330.7 1151.6,1349.3 1357,1315.9 1071.1,1351.1 1252.1,1362 1425.5,1338.9 1279.5,1340.6 1155.2,1335.3 1279.7,1349.4 1219.7,1367.9 1302.7,1357.8 1422.4,1369.8 1205.2,1367.5 1082.7,1309.8 1435.5,1333.6 1320.1,1354.9 1194,1341.9 1364.8,1349.6 1433.2,1366.1 1384.9,1104 1338,1366.5 1290.7,1354.5 1309.2,1364.1 1233.9,1369.9 1315.2,1357.8 1209.5,1304.6 1309.6,1356.7 1089,1360.7 1392.8,1338.2 1203.1,1356.4 1406.5,1355.6 1120.6,1363.1 1175.6,1365.6 1139.5,1354.3 1288.6,1350.6 1426.8,1359.3 1131,1368.8 1115.9,1355.8 1085.9,1352 1373.4,1365.6 1241.3,1366.3 1293.5,1369 1079.1,1367.2 1432.7,1362.9 1402.4,1367.1 1402,1356.8 1197.1,1366.7 1430.6,1329.8 1300.4,1364.7 1128.2,1363.1 1187.1,1359.2 1133.7,1365 1215.5,1364.4 1093.1,1357.6 1326.1,1360.1 1079.2,1336 1124.6,1366.9 1417.5,1364.7 1264.2,1356.9 1162.5,1364.6 1139.9,1354.6 1195.6,1367.8 1383.9,1235.2 1341.5,1370.4 1345.6,1362.5 1267.7,1359 1362,1182.1 1326.4,1322 1150.6,1350.5 1285.5,1361.9 1297.6,1370.1 1219.5,1352.3 1247.7,1302.9 1153.3,1308.4 1302.6,1367 1326,1365 1424,1104 1384.1,1366.9 1323.1,1370.2 1407,1361.1 1373.8,1368 1118.9,1197.1 1231.2,1365.3 1304.7,1329 1230.5,1357.3 1076,1370.3 1124,1368.2 1359.7,1363.8 1154.7,1358.8 1319.2,1368.3 1239.6,1331.3 1341.7,1362.8 1320.2,1365.8 1189.9,1365.2 1205,1351.7 1129.2,1367.2 1152.3,1357.3 1158.6,1362.3 1325.8,1359.7 1386.2,1299.4 1190.7,1369.5 1089.3,1365.9 1232.2,1362 1167.7,1272.6 1405.8,1355.6 1141.9,1347.7 1267,1364.4 1210.4,1350.2 1349.9,1348.9 1121.2,1280.6 1243.1,1365.2 1076.3,1316.2 1277.6,1218.5 1222,1367.3 1196.6,1337 1376.3,1355 1230.3,1348.7 1248.1,1369.7 1405.7,1370.4 1339.6,1364.9 1205.4,1356 1401.4,1367.9 1098.3,1354.7 1253.2,1370.1 1257,1355.4 1284.9,1348.6 1133.8,1360 1135.5,1343.6 1157.2,1334.8 1186.2,1364.5 1106.4,1335.8 1206.4,1355.5 1137.6,1288.7 1188.5,1346 1228.9,1347.4 1093.6,1359 1189.4,1319.8 1425.4,1354.6 1415.1,1342.7 1355,1314.9 1266.2,1366.5 1160,1352.9 1124.8,1360.9 1172.9,1354 1194.5,1370.1 1192.6,1363.1 1089.2,1366.1 1385.9,1351.1 1107.9,1362.5 1116.7,1302 1199.4,1366.4 1272.8,1354.2 1322.7,1368.9 1118.1,1366.6 1270.9,1365.3 1136.5,1201.5 1178.5,1357.6 1214.6,1348 1271.2,1356.1 1225,1353 1094.1,1369.2 1328.9,1347.6 1338.7,1351.1 1413.9,1369.2 1426.5,1366.7 1338.8,1356.4 1232.4,1354.7 1392.3,1365.6 1166,1360.3 1104.8,1319.6 1133.1,1318.5 1235.4,1370 1329.6,1366.9 1162.6,1363.5 1231.1,1369.3 1306.6,1335.1 1073.4,1363.6 1261,1366.4 1160.6,1286.3 1220.4,1304.2 1101.1,1365.4 1348.1,1363.7 1380.4,1365.3 1110.5,1354 1138,1283.9 1316,1368.5 1435.4,1357.2 1427,1368.4 1083.2,1370 1123.7,1370.4 1294.5,1356.6 1182.1,1365.2 1288.4,1364 1410.3,1303.2 1232.9,1370.1 1130.3,1357.9 1127,1367.3 1300.4,1369 1249.8,1347.7 1380.9,1370.2 1375.9,1354.1 1364.4,1368.9 1271.1,1333.7 1418.9,1369.3 1416.7,1358.1 1207,1358.1 1264.2,1370 1079.6,1367.8 1123,1341.7 1075.1,1356.6 1301.1,1289 1106.6,1365.3 1370.1,1104 1390.5,1369.8 1150.7,1369.9 1100.1,1368.4 1167.6,1362.3 1097.6,1364.7 1123.4,1363.2 1266.8,1369.5 1223.9,1369.1 1334.1,1367.2 1158.8,1369.9 1258.2,1338 1093,1345.6 1090.1,1362.8 1193.6,1370.1 1185.7,1363.6 1092.1,1366.5 1151.4,1369 1183.6,1354.7 1079.8,1367.1 1264.6,1366.7 1267.5,1367.6 1368.7,1338 1154.7,1365.6 1361.3,1227.8 1146.1,1367 1376.2,1360.9 1325,1358.7 1213.4,1357.1 1296.5,1369.7 1196.3,1367.8 1422.6,1250.7 1147.4,1356 1250.3,1369.5 1081.1,1365.3 1429.7,1361.8 1125.8,1369.5 1302.7,1369 1164,1364.5 1414.7,1369.2 1269,1286.9 1356.9,1352.7 1170.3,1207.6 1328,1344.1 1221.4,1356 1104.4,1356.9 1349.6,1353.7 1101.9,1360.1 1421.3,1367.2 1288.8,1366.7 1095,1369.8 1433.8,1362.2 1418.2,1348 1256.7,1368.2 1318.1,1349.9 1314.2,1347.2 1336.9,1359.5 1129.6,1343.5 1276,1330.1 1318.4,1363.5 1157.3,1351.8 1320.7,1370.3 1413.7,1195.8 1371.8,1346.5 1221.1,1351.2 1285.9,1367 1407.3,1356.3 1128.7,1366.4 1365.4,1364.9 1128.3,1349 1409.9,1344.5 1282.1,1354.9 1375.5,1342.8 1134.7,1364.8 1284.3,1366.4 1079.3,1326.6 1195.5,1362.7 1221.8,1364.7 1181.2,1346.3 1179.5,1365.3 1101.6,1339.2 1304.5,1337.7 1322.3,1348 1078.9,1350.6 1158.2,1345.2 1330.1,1343.9 1280.2,1260.5 1077.5,1365.3 1391.3,1338 1303.1,1338.1 1144,1337.2 1194.2,1360 1359.5,1367.5 1290.5,1368.3 1158.6,1370.2 1132.7,1362.7 1083.7,1362 1337.3,1356.7 1361.1,1361.3 1300.6,1363.4 1149.9,1354.6 1222.2,1334.8 1434.5,1360.3 1155.7,1366.5 1083,1361.7 1072.5,1364.4 1236.2,1355.1 1141.4,1346.7 1087.2,1369.8 1178.5,1334.1 1328.4,1369.4 1261.3,1282.2 1361.6,1363.2 1300.8,1355 1127.3,1344.5 1331,1342.3 1168.2,1338.6 1255.6,1363.8 1405.4,1359.1 1130.2,1367.9 1337.1,1369 1131.7,1363.3 1159.6,1366.8 1298.5,1359.9 1097.9,1355 1370.7,1356.3 1110.7,1356 1424.1,1348.4 1287.2,1262.9 1309.2,1350.1 1418.4,1121.4 1362.4,1361.6 1251.6,1367.8 1144.7,1366.6 1112.3,1344.6 1271.3,1194.1 1131.8,1367.6 1179.6,1344.5 1305,1366 1218.8,1339.6 1107.8,1356.6 1332,1366.9 1338.7,1359.1 1101.3,1368.8 1144.7,1303.6 1291.9,1359.6 1380.2,1338.9 1350.1,1369.2 1406.9,1361.4 1129.2,1349.6 1315.8,1333.3 1430.6,1283 1116.2,1370.2 1116.5,1359.3 1286.1,1323.1 1415.9,1248.4 1356.6,1364.4 1341.6,1349.9 1116.2,1368.3 1195.7,1361.3 1226.8,1320.2 1394.1,1363.3 1249.8,1366.8 1304.5,1183.5 1415.8,1367 1220.1,1356.1 1271.2,1367.9 1097.7,1370.3 1358.1,1345.8 1371.2,1359.6 1416.5,1357.2 1097.2,1368.8 1188.4,1356.9 1195.7,1368.4 1219,1344.7 1089.2,1347.4 1263.2,1323.9 1281.1,1293.3 1195.8,1370.1 1245.4,1362.8 1410.4,1364.2 1250,1333.4 1233.8,1369.3 1326.2,1327.2 1321.1,1361.1 1075,1361.3 1162,1354.6 1246.4,1347.3 1388.2,1362.4 1393.5,1357.4 1220.3,1358.9 1304.2,1369.4 1341.7,1368 1315.6,1367.5 1318,1363.2 1294.9,1337.8 1082.7,1367.6 1400.7,1354.2 1404.9,1356.3 1219.5,1269.2 1137.3,1362.3 1421.7,1362 1121.6,1363.5 1273.4,1362 1278,1234.3 1256.8,1368.8 1401.7,1362.7 1142.4,1370.3 1353.1,1360.1 1201.4,1358.7 1225.2,1362.6 1343.6,1364.9 1233.1,1351.1 1190.9,1354.1 1148.3,1367.8 1110.4,1368.2 1355.2,1363.1 1153.8,1357.9 1349.5,1365.2 1135.7,1348.2 1424.7,1365.4 1183.7,1368.4 1396.6,1351.1 1398.2,1332.6 1209.6,1315.6 1415.6,1360.6 1378.1,1361.6 1109.5,1349.9 1136.5,1355.7 1273.4,1331.9 1152.2,1364.2 1296,1367 1363.8,1367.4 1319.9,1338 1155.6,1337.3 1305.1,1369.5 1420,1204.5 1155.1,1349.5 1321,1326.1 1265.9,1367.4 1115,1355.9 1425.2,1348.1 1382.2,1364.6 1383,1362.5 1402.4,1369.8 1425,1333.6 1433,1340.5 1406.6,1356.4 1405.5,1359.9 1307,1245.5 1367.9,1369.9 1175.9,1358.2 1353.7,1368.2 1264.5,1364.7 1559.5,1371.8 1555.3,1359 1555.3,1367.6 1561.4,1356.7 1558,1370.7 1555.3,1364.3 1555.9,1367.7 1560.3,1354.8 1589.9,1370.1 1586.3,1367.5 1588.9,1356.6 1586.9,1369.5 1588.4,1358.2 1589.9,1372.5 1611.2,1367.2 1616.4,1370.4 1614.8,1370.1 1611.9,1366.4 1610.8,1366.8 1616.1,1366.9 1620.4,1370.8 1646.9,1366.9 1661.6,1350.6 1651.5,1305.5 1687.1,1355.1 1671.5,1356.3 1661.9,1365.5 1645,1298.1 1679.8,1365.4 1674.9,1353 1672.3,1366.2 1682.4,1369 1654.1,1366.9 1692.7,1365.5 1675.9,1367.3 1656.9,1354.9 1692.7,1360.3 1648.4,1367 1677.6,1354.9 1686.7,1365.3 1692.5,1365.3 1644.4,1357.7 1681.1,1357.3 1656.7,1369 1654.9,1357.7 1678.3,1352.3 1677.3,1367.2 1679,1366.3 1676.5,1369.1 1641.6,1361.5 1673,1362.8 1680.6,1362.4 1667,1360.1 1694.7,1312 1662,1357.9 1677.4,1361.6 1653.8,1361.6 1683.6,1365.1 1655.5,1362.3 1670.9,1367.8 1665.3,1366.3 1691.2,1369.5 1671,1359.7 1643.2,1358.4 1695,1366.8 1677.4,1345.7 1649.9,1362.2 1665,1366.4 1641,1362.5 1665.7,1354.9 1677.8,1365.6 1671.1,1354.6 1652.9,1199.4 1656.1,1336.6 1675.2,1369.4 1668,1360.6 1660.4,1347.4 1662.9,1368 1696.3,1361.9 1655.8,1340.4 1670.3,1366.4 1641.8,1358.3 1650.8,1298.6 1675.1,1364.7 1672.6,1352.7 1695.7,1368.8 1661.5,1367.7 1688.6,1215.5 1673.3,1323.7 1687.9,1367.1 1671.3,1356.2 1696.2,1367.5 1677.4,1366.8 1680.5,1327.2 1642.5,1286.1 1642.3,1343.2 1683.8,1348.5 1652.3,1352 1663.8,1361.2 1688.7,1357.9 1691.7,1362.9 1692.5,1344.8 1670.3,1364.7 1661.2,1340.9 1654.4,1364 1659.5,1345.9 1650.3,1369.5 1673.4,1358.5 1686,1359.2 1642.3,1368.1 1674.7,1368.7 1683.9,1362.3 1658.4,1350.2 1678.6,1354.7 1675.1,1340.2 1668.7,1361.7 1663.8,1347.9 1681,1367.9 1671,1367.4 1668.9,1367 1654.6,1361.6 1653.7,1359.8 1642.2,1157.6 1691.4,1368.9 1644.6,1240.9 1681.2,1343.3 1682.3,1355.9 1665.5,1365.7 1642.8,1368.9 1683.4,1344.7 1641.4,1360.2 1674.4,1368.1 1676.7,1368.2 1698.6,1104.3 1695.7,1104.3 1682.2,1104.3 1699.5,1104.3 1683.5,1104.3 1678.6,1104.3 1654.1,1104.3 1688.6,1104.3 1667.1,1104.3 1697,1104.3 1666.6,1104.3 1663.5,1104.3 1642.2,1104.3 1656.3,1104.3 1681.1,1104.3 1649.2,1104.3 1587,1337 1616.5,1346"/>
<path d="M932.3 1285.4H1734.2M932.3 1315.7H1734.2" stroke="#2f5878" stroke-width="1.35" stroke-dasharray="4.2 5" fill="none"/>
<path d="M930.6 1103.4V1406.6H1744.8" stroke="#c6d4df" stroke-width="2.6" fill="none"/>
<rect x="1734.2" y="1391" width="10.6" height="14.4" fill="#f3f3f3"/>
<rect x="1734.2" y="1100.4" width="10.6" height="290.6" fill="#c8c8c8"/>
<path d="M1736.9 1402l2.6 2.6l2.6-2.6" stroke="#333" stroke-width="1.3" fill="none"/>
<rect x="896.9" y="1278.9" width="30.7" height="13" rx="3" fill="#8a1b61"/>
<text x="900.5" y="1288.9" class="bd" textLength="5" lengthAdjust="spacingAndGlyphs">8</text>
<circle cx="919.9" cy="1285.4" r="3.6" fill="none" stroke="#e9cfe0" stroke-width=".7"/>
<path d="M919.9 1284.8v2.6M919.9 1283.2v.8" stroke="#e9cfe0" stroke-width=".8"/>
<rect x="896.9" y="1309.2" width="30.7" height="13" rx="3" fill="#8a1b61"/>
<text x="900.5" y="1319.2" class="bd" textLength="5" lengthAdjust="spacingAndGlyphs">6</text>
<circle cx="919.9" cy="1315.7" r="3.6" fill="none" stroke="#e9cfe0" stroke-width=".7"/>
<path d="M919.9 1315.1v2.6M919.9 1313.5v.8" stroke="#e9cfe0" stroke-width=".8"/>
<text x="1744.8" y="1417.8" class="pc" text-anchor="end" textLength="79.3" lengthAdjust="spacingAndGlyphs">Phenotypic Categories</text>
<text transform="translate(955.2 1440.4) rotate(-45)" class="xl" text-anchor="end" textLength="71.5" lengthAdjust="spacingAndGlyphs">NMR Metabolomics</text>
<text transform="translate(1065.3 1440.4) rotate(-45)" class="xl" text-anchor="end" textLength="41" lengthAdjust="spacingAndGlyphs">Proteomics</text>
<text transform="translate(1440.3 1440.1) rotate(-45)" class="xl" text-anchor="end" textLength="35.1" lengthAdjust="spacingAndGlyphs">Infectious</text>
<text transform="translate(1449 1443.7) rotate(-45)" class="xl" text-anchor="end" textLength="41" lengthAdjust="spacingAndGlyphs">Neoplasms</text>
<text transform="translate(1457.3 1446.9) rotate(-45)" class="xl" text-anchor="end" textLength="30.5" lengthAdjust="spacingAndGlyphs">Nervous</text>
<text transform="translate(1549.8 1446.9) rotate(-45)" class="xl" text-anchor="end" textLength="14.1" lengthAdjust="spacingAndGlyphs">Eye</text>
<text transform="translate(1566 1446.9) rotate(-45)" class="xl" text-anchor="end" textLength="54.7" lengthAdjust="spacingAndGlyphs">Cardiovascular</text>
<text transform="translate(1580.8 1446.9) rotate(-45)" class="xl" text-anchor="end" textLength="41.9" lengthAdjust="spacingAndGlyphs">Respiratory</text>
<text transform="translate(1595 1446.9) rotate(-45)" class="xl" text-anchor="end" textLength="33.7" lengthAdjust="spacingAndGlyphs">Digestive</text>
<text transform="translate(1603.8 1449.1) rotate(-45)" class="xl" text-anchor="end" textLength="58.3" lengthAdjust="spacingAndGlyphs">Musculoskeletal</text>
<text transform="translate(1624.8 1449.1) rotate(-45)" class="xl" text-anchor="end" textLength="50.1" lengthAdjust="spacingAndGlyphs">Urinary/Renal</text>
<text transform="translate(1633.6 1451) rotate(-45)" class="xl" text-anchor="end" textLength="44.2" lengthAdjust="spacingAndGlyphs">Lab findings</text>
<text transform="translate(1701.5 1451) rotate(-45)" class="xl" text-anchor="end" textLength="56.1" lengthAdjust="spacingAndGlyphs">Health services</text>
</g>
<g>
<text x="9.6" y="1537.6" class="pl">(G)</text>
<text x="237.7" y="1552.4" class="tt" textLength="406.8" lengthAdjust="spacing">TRIM54 for Phenome-wide association study (UKB binary traits)</text>
<text x="24.1" y="1562" class="mp">Manhattan plot</text>
<path d="M15 1576H872.3" stroke="#e1e8ee" stroke-width="1.1"/>
<text x="53.4" y="1593.5" class="yl" textLength="57.6" lengthAdjust="spacingAndGlyphs">-log10 (P-value)</text>
<path d="M738 1592.8h6.2l-3.1-4.8z" fill="none" stroke="#444" stroke-width="1.15"/>
<text x="749.3" y="1593.5" class="lg" textLength="48.6" lengthAdjust="spacingAndGlyphs">Odds ratio &gt; 1</text>
<path d="M808.7 1587.9h6.2l-3.1 4.8z" fill="none" stroke="#444" stroke-width="1.15"/>
<text x="819.7" y="1593.5" class="lg" textLength="48.6" lengthAdjust="spacingAndGlyphs">Odds ratio &lt; 1</text>
<text x="24.1" y="1911" class="yt" textLength="5" lengthAdjust="spacingAndGlyphs">0</text>
<text x="24.1" y="1880.7" class="yt" textLength="5" lengthAdjust="spacingAndGlyphs">2</text>
<text x="24.1" y="1850.3" class="yt" textLength="5" lengthAdjust="spacingAndGlyphs">4</text>
<text x="24.1" y="1820" class="yt" textLength="5" lengthAdjust="spacingAndGlyphs">6</text>
<text x="24.1" y="1789.6" class="yt" textLength="5" lengthAdjust="spacingAndGlyphs">8</text>
<text x="24.1" y="1759.3" class="yt" textLength="10" lengthAdjust="spacingAndGlyphs">10</text>
<text x="24.1" y="1729" class="yt" textLength="10" lengthAdjust="spacingAndGlyphs">12</text>
<text x="24.1" y="1698.6" class="yt" textLength="10" lengthAdjust="spacingAndGlyphs">14</text>
<text x="24.1" y="1668.3" class="yt" textLength="10" lengthAdjust="spacingAndGlyphs">16</text>
<text x="24.1" y="1637.9" class="yt" textLength="10" lengthAdjust="spacingAndGlyphs">18</text>
<text x="24.1" y="1607.6" class="yt" textLength="10" lengthAdjust="spacingAndGlyphs">20</text>
<path d="M54.5 1876.3H858.9M54.5 1845.9H858.9M54.5 1815.6H858.9M54.5 1785.2H858.9M54.5 1754.9H858.9M54.5 1724.6H858.9M54.5 1694.2H858.9M54.5 1663.9H858.9M54.5 1633.5H858.9M54.5 1603.2H858.9M79.7 1602.8V1932.4M120.8 1602.8V1932.4M227.3 1602.8V1932.4M246.4 1602.8V1932.4M288.1 1602.8V1932.4M302.6 1602.8V1932.4M345 1602.8V1932.4M385.5 1602.8V1932.4M412.9 1602.8V1932.4M471.4 1602.8V1932.4M520.4 1602.8V1932.4M592.4 1602.8V1932.4M625.6 1602.8V1932.4M746.3 1602.8V1932.4M776.5 1602.8V1932.4M788.5 1602.8V1932.4M812.6 1602.8V1932.4M844.6 1602.8V1934M853.7 1602.8V1936.5" stroke="#dfe6ec" stroke-width="1" fill="none"/>
<rect x="55.5" y="1785.2" width="803.4" height="30.3" fill="#f1fafb"/>
<path d="M79.7 1785.2V1815.6M120.8 1785.2V1815.6M227.3 1785.2V1815.6M246.4 1785.2V1815.6M288.1 1785.2V1815.6M302.6 1785.2V1815.6M345 1785.2V1815.6M385.5 1785.2V1815.6M412.9 1785.2V1815.6M471.4 1785.2V1815.6M520.4 1785.2V1815.6M592.4 1785.2V1815.6M625.6 1785.2V1815.6M746.3 1785.2V1815.6M776.5 1785.2V1815.6M788.5 1785.2V1815.6M812.6 1785.2V1815.6M844.6 1785.2V1815.6M853.7 1785.2V1815.6" stroke="#dde7ec" stroke-width="1" fill="none"/>
<path d="M82.2 1878L81.2 1875.5V1874.4L82.7 1872.8L84.2 1873.4L85.7 1872.9L87.2 1873.4L88.7 1872.5L90.2 1874L91.7 1872.6L93.2 1873.5L94.7 1872.8L96.2 1873.9L97.7 1873L99.2 1873.8L100.7 1872.7L102.2 1873.6L103.7 1873L105.2 1873.9L106.7 1873.1L108.2 1873.6L109.7 1872.9L111.2 1873.4L112.7 1872.9L114.2 1873.7L115.7 1872.6L117.2 1873.4L118.7 1872.5L119.3 1873.4V1875.5L118.3 1877.8L116.1 1878.1L113.9 1877.8L111.7 1878.5L109.5 1877.8L107.3 1878L105.1 1877.9L102.9 1878.6L100.7 1877.8L98.5 1878.5L96.3 1877.7L94.1 1878.5L91.9 1877.8L89.7 1878.6L87.5 1877.7L85.3 1878.4L83.1 1877.9zM229.3 1878L228.3 1875.5V1873.5L229.8 1871.5L231.3 1872.7L232.8 1870.8L234.3 1872.2L235.8 1871.4L237.3 1872.5L238.8 1871.2L240.3 1872.2L241.8 1870.7L243.3 1872.7L244.8 1871.3L245.4 1872.1V1875.5L244.4 1877.7L242.2 1878.6L240 1877.7L237.8 1878.7L235.6 1877.9L233.4 1878.2L231.2 1877.7zM347.5 1878L346.5 1875.5V1874.3L348 1872.5L349.5 1873.6L351 1872.8L352.5 1873.2L354 1872.8L355.5 1873.1L357 1872.4L358.5 1873.2L360 1872.4L361.5 1873.5L363 1872.7L364.5 1873.5L366 1872.6L367.5 1873.6L369 1872.2L370.5 1873.3L372 1872.4L373.5 1873.4L375 1872.8L376.5 1873.5L378 1872.3L379.5 1873.6L381 1872.6L382.5 1873.5L384 1872.6V1875.5L383 1877.9L380.8 1878.9L378.6 1877.9L376.4 1878.5L374.2 1877.8L372 1878L369.8 1877.7L367.6 1878.8L365.4 1877.7L363.2 1878.8L361 1877.9L358.8 1878L356.6 1878L354.4 1878.4L352.2 1877.9L350 1878.8L347.8 1877.8zM415.4 1878L414.4 1875.5V1874.3L415.9 1872.6L417.4 1873.2L418.9 1872.2L420.4 1873.6L421.9 1872.3L423.4 1873.7L424.9 1872.1L426.4 1873.6L427.9 1872.5L429.4 1873.4L430.9 1872.1L432.4 1873.6L433.9 1872.3L435.4 1873.5L436.9 1872.2L438.4 1873.7L439.9 1872.6L441.4 1873.3L442.9 1872.3L444.4 1873.1L445.9 1872.4L447.4 1873.2L448.9 1872.4L450.4 1873.3L451.9 1872.4L453.4 1873.1L454.9 1872.8L456.4 1873.5L457.9 1872.4L459.4 1873.4L460.9 1872.6L462.4 1873.5L463.9 1872.7L465.4 1873.7L466.9 1872.9L468.4 1873.7L469.9 1872.4V1875.5L468.9 1877.8L466.7 1878.6L464.5 1877.9L462.3 1878.1L460.1 1877.8L457.9 1878L455.7 1877.9L453.5 1878.1L451.3 1877.9L449.1 1878.5L446.9 1877.7L444.7 1878.7L442.5 1877.7L440.3 1878.5L438.1 1877.8L435.9 1878.8L433.7 1877.8L431.5 1878.1L429.3 1878L427.1 1878L424.9 1877.7L422.7 1878.6L420.5 1877.7L418.3 1878L416.1 1877.9zM522.9 1878L521.9 1875.5V1874.3L523.4 1872.5L524.9 1873.4L526.4 1872.6L527.9 1873.5L529.4 1872.8L530.9 1873.4L532.4 1872.2L533.9 1873.3L535.4 1872.1L536.9 1873.5L538.4 1872.5L539.9 1873.7L541.4 1872.8L542.9 1873.4L544.4 1872.6L545.9 1873.4L547.4 1872.7L548.9 1873.5L550.4 1872.6L551.9 1873.5L553.4 1872.1L554.9 1873.3L556.4 1872.6L557.9 1873.2L559.4 1872.3L560.9 1873.3L562.4 1872.4L563.9 1873.2L565.4 1872.9L566.9 1873.4L568.4 1872.2L569.9 1873.3L571.4 1872.3L572.9 1873.5L574.4 1872.8L575.9 1873.6L577.4 1872.5L578.9 1873.6L580.4 1872.6L581.9 1873.7L583.4 1872.2L584.9 1873.2L586.4 1872.6L587.9 1873.6L589.4 1872.9L590.9 1873.4V1875.5L589.9 1877.8L587.7 1878.9L585.5 1877.9L583.3 1878.3L581.1 1877.8L578.9 1878.2L576.7 1877.9L574.5 1878.9L572.3 1877.8L570.1 1878L567.9 1877.8L565.7 1878.8L563.5 1877.9L561.3 1878.4L559.1 1877.8L556.9 1878.5L554.7 1877.8L552.5 1878.5L550.3 1877.7L548.1 1878.7L545.9 1877.7L543.7 1878.3L541.5 1877.7L539.3 1878L537.1 1877.8L534.9 1878.5L532.7 1877.8L530.5 1878.2L528.3 1877.8L526.1 1878.8L523.9 1877.9zM628.1 1878L627.1 1875.5V1874L628.6 1871.8L630.1 1872.8L631.6 1871.6L633.1 1872.9L634.6 1871.9L636.1 1873.3L637.6 1871.6L639.1 1872.9L640.6 1871.5L642.1 1873.1L643.6 1872.3L645.1 1873.2L646.6 1872.3L648.1 1873L649.6 1871.7L651.1 1873L652.6 1872.4L654.1 1873.2L655.6 1871.5L657.1 1873L658.6 1871.7L660.1 1873L661.6 1872.1L663.1 1872.8L664.6 1871.9L666.1 1873.4L667.6 1872.3L669.1 1873L670.6 1872.5L672.1 1873.1L673.6 1871.6L675.1 1873L676.6 1871.9L678.1 1872.7L679.6 1871.6L681.1 1873.2L682.6 1872.1L684.1 1872.9L685.6 1872.3L687.1 1872.9L688.6 1872.2L690.1 1873.2L691.6 1871.5L693.1 1873L694.6 1871.8L696.1 1872.8L697.6 1872L699.1 1873.1L700.6 1872.4L702.1 1873.2L703.6 1871.7L705.1 1872.9L706.6 1872.2L708.1 1872.7L709.6 1872.1L711.1 1872.9L712.6 1871.8L714.1 1872.9L715.6 1871.9L717.1 1873L718.6 1871.9L720.1 1872.8L721.6 1871.8L723.1 1872.7L724.6 1872.3L726.1 1872.8L727.6 1872.1L729.1 1872.9L730.6 1872.3L732.1 1873.1L733.6 1872.2L735.1 1873L736.6 1872.3L738.1 1872.8L739.6 1872.3L741.1 1873.4L742.6 1872.2L744.1 1872.9L744.8 1871.6V1875.5L743.8 1877.8L741.6 1878.3L739.4 1877.7L737.2 1878.2L735 1877.8L732.8 1878L730.6 1877.9L728.4 1878L726.2 1877.9L724 1878.8L721.8 1877.9L719.6 1878.5L717.4 1877.9L715.2 1878.5L713 1877.7L710.8 1878.1L708.6 1877.9L706.4 1878.9L704.2 1877.8L702 1878.5L699.8 1877.7L697.6 1878.3L695.4 1877.9L693.2 1878.1L691 1878L688.8 1878.5L686.6 1877.9L684.4 1878.2L682.2 1877.8L680 1878.7L677.8 1877.7L675.6 1878.8L673.4 1877.9L671.2 1878.2L669 1877.9L666.8 1878.1L664.6 1877.7L662.4 1878L660.2 1877.9L658 1878.1L655.8 1877.8L653.6 1878.7L651.4 1877.8L649.2 1878.1L647 1877.8L644.8 1878.1L642.6 1877.9L640.4 1878.7L638.2 1877.7L636 1878.4L633.8 1877.8L631.6 1878.4L629.4 1877.9zM778 1878L777 1875.5V1874L778.5 1871.9L780 1872.9L781.5 1872.3L783 1872.8L784.5 1871.5L786 1872.8L787.5 1872.5L788 1872.7V1875.5L787 1877.7L784.8 1878.3L782.6 1877.9L780.4 1878.3L778.2 1877.7zM815.1 1878L814.1 1875.5V1874.3L815.6 1872.4L817.1 1873.4L818.6 1872.8L820.1 1873.3L821.6 1872.6L823.1 1873.4L824.6 1872.3L826.1 1873.6L827.6 1872.4L829.1 1873.3L830.6 1872.1L832.1 1873.7L833.6 1872.7L835.1 1873.2L836.6 1872.4L838.1 1873.7L839.6 1872.7L841.1 1873.5L842.6 1872.4L843.1 1873.3V1875.5L842.1 1877.9L839.9 1878L837.7 1877.9L835.5 1878.6L833.3 1877.9L831.1 1878.4L828.9 1877.8L826.7 1878L824.5 1877.9L822.3 1878.3L820.1 1877.9L817.9 1878.5L815.7 1877.8zM855.2 1878L854.2 1875.5V1874.4L855.7 1873L857.2 1873.5L858.7 1872.9L860.2 1873.8L860.9 1873.1V1875.5L859.9 1877.8L857.7 1878L855.5 1877.8z" fill="#c3e336"/>
<polyline class="uL" points="115.9,1871.6 115.5,1874.8 98.1,1848.4 99.7,1870.7 107.6,1872.8 90.8,1873.5 84.9,1869.6 87.5,1875 90.8,1866 104.9,1872.2 110.9,1874.1 108.8,1871.6 110,1870.9 107.3,1874.4 104.7,1871.1 94.8,1873.1 86.8,1873.1 114.6,1871.7 113.5,1865.7 100.8,1855 91.5,1867.7 108.5,1864.5 101.1,1868.1 93.5,1874.5 96.4,1875.5 96.2,1871.8 107.6,1873.1 109.4,1870.3 112.1,1868 104.6,1870.1 101.1,1873.4 110.7,1874.3 87.7,1875.5 95.6,1874.8 94.7,1873.6 92.8,1874.6 108.6,1868.3 99.4,1871.4 103.7,1874 101.1,1873.1 91.8,1874 114.3,1875.5 87.2,1874.8 110.8,1871.8 115.4,1868.8 99.1,1874.8 90,1870.2 103.1,1868.9 111.1,1871.6 86.3,1871.5 96,1861.8 112.3,1872.3 90,1875.6 86.5,1869.4 89.7,1869.8 112.5,1875.3 94.6,1869.7 100.6,1872 106.8,1875.5 102.3,1875.3 107,1872.5 107.4,1874.6 84.2,1857.8 109.4,1861.1 97.6,1862.8 97.4,1873.9 95.5,1862.5 96.6,1865.2 94.3,1871.2 107.3,1871.1 109.6,1862.9 95.9,1872.2 105.3,1862.9 96,1874.1 98.4,1875.5 93.3,1869.4 100,1873.3 109.1,1872.7 97.4,1865.4 99.9,1862 86.2,1869.6 101.2,1875.7 86.8,1869.9 97.4,1871.9 94,1872.7 94.6,1868.6 114.5,1869.2 102.8,1875.2 108.2,1850.9 106.9,1863.2 104.8,1873.5 94,1865.2 102.3,1868.3 88.6,1868.8 102,1873.9 237.1,1873.7 233.5,1870.5 232.7,1857.8 237.8,1874 240.9,1865.8 234,1874.6 241.4,1867.2 232.4,1872.7 236.3,1872 238.1,1873.7 233.7,1872.8 235.5,1872.1 233.6,1873.9 232.2,1873.3 241.1,1874.5 242.3,1871.9 236.4,1857.5 239,1874.9 237.8,1874.9 241,1873.3 232.9,1871.1 234.6,1872.8 234.9,1872.2 237.4,1872.8 234.5,1868.2 231.5,1872.6 294.5,1859.2 292,1853.4 294.7,1860.1 294.5,1874.4 292.2,1874.9 292.4,1864.8 291.9,1871.1 292.2,1865.2 294.5,1874.3 298.2,1871 293.1,1863.9 365.9,1875 360.2,1875.5 376.7,1870.6 356.4,1868.9 373.8,1868.3 351.1,1864.4 361.1,1869.6 370.9,1871.2 377.9,1875.1 358,1870.7 367.6,1874.7 361.4,1871.9 369.9,1864.9 358.3,1862.7 377.3,1871.7 372.5,1875.3 360.9,1862.6 369.6,1849.3 372.6,1859.7 354.9,1872.7 369.5,1861.3 371.6,1871.1 370.6,1875.3 366.3,1873.2 364.9,1872.5 375.9,1853.6 358.4,1872.7 366.6,1872.2 354.8,1860.4 378.6,1874.8 373.9,1871.5 368.9,1874.1 378.2,1866.7 357.9,1860.3 367.5,1867.2 379.4,1867.7 374.1,1870.5 373.7,1868.8 359.1,1871.8 375.5,1871.8 358.7,1875.1 380.8,1868.9 380,1864.1 368.6,1875.3 351.9,1870.9 377.2,1866.2 352.3,1875.3 361.5,1856.4 363.1,1868.5 357.4,1875.1 367.3,1867 359,1870.6 368.6,1865.2 355.4,1873.6 370.9,1874.9 378.8,1867.4 363.9,1869.3 369.8,1875.1 372.6,1871.9 380.2,1874.1 369.1,1862.1 357.4,1857.6 365.7,1875 371.1,1861.8 372.5,1874.1 376.1,1875.6 373.1,1873.1 371.7,1875 351.8,1872.3 366.5,1873.7 367.3,1867.6 359.2,1859 366.8,1866 372.5,1875.6 351.2,1870.4 363.6,1864.3 373.9,1875.3 376.2,1870.5 371.4,1873.3 374.5,1875.4 362,1874.2 380.7,1869.5 380.7,1873.3 378.1,1857.8 363,1875.7 377.2,1867.1 371.8,1870.1 351.1,1870 378.7,1868.5 364,1869.9 374.9,1874.5 371.2,1875.3 353.2,1874.6 375.7,1874.3 375.6,1875.1 431.5,1874 451.7,1862.7 445.9,1873.5 457.3,1867 454,1867.7 420.1,1875 450.7,1875.4 418.7,1868.9 434.2,1861.1 425.5,1863.4 440.9,1869.7 423.5,1864.7 459.6,1873.9 442.4,1864.6 451.8,1869.1 441.1,1874 440.5,1872 425.7,1871.3 435.4,1863.8 430.6,1873.1 464.8,1871.6 420.4,1864.3 432.7,1875.7 461.6,1853.2 466.7,1875.5 419.9,1873.5 452.2,1873.6 449.6,1860.6 425,1869.4 464,1872.1 435.4,1872.7 434,1872 438.8,1867 453.8,1872.6 455.4,1873.6 436.7,1855.8 420,1873.9 429.7,1872.7 444.4,1856 453.1,1872 444.2,1871.8 459.8,1870.4 439.3,1867.8 449.5,1857 458.1,1875 440.6,1872.2 461.5,1875.5 429.8,1875.2 422.9,1875.6 426.4,1861.5 451.7,1874.9 459.3,1873 463.5,1874.3 428.3,1872.9 455.6,1873.5 426.2,1875.7 452.5,1870.9 449.1,1875.8 463.7,1868.3 463.9,1868.8 434.1,1875.1 464.9,1875.7 442.6,1868.8 434.4,1863.8 426.8,1874.6 431.6,1873.7 463.1,1872.8 459.2,1875.4 455.1,1867.3 418.2,1864.8 429.6,1874.4 456.9,1872.7 462.8,1875.2 450.1,1868.7 433.7,1873.8 433.5,1872.3 429.8,1871.9 464.6,1866 449.1,1870.1 440.3,1866.3 436.4,1866.1 430.7,1863.8 433,1873.7 422.5,1859.5 425.9,1874.1 425.4,1874.7 433.3,1867.5 451.2,1868.4 440.4,1875.7 434,1869.1 426.5,1867 449.5,1871.1 463.1,1875.1 425.1,1868 441.3,1861.9 433,1874 455.4,1875.8 448,1875.1 441.7,1875.3 450.6,1875.4 443.6,1872.7 433.8,1873.6 421.1,1875.8 435.7,1867.9 452.2,1873.5 439.9,1873.8 430.5,1863.3 446.5,1863.6 439.7,1874.9 447.7,1867 447.9,1875.3 446,1874.7 466.4,1874.7 447.6,1873.2 441.4,1867.9 425.1,1874.4 436.3,1865.2 446.3,1875.7 421.1,1872.6 464,1875.7 450.3,1875.1 466.1,1874.9 462.7,1875.2 425.1,1868.2 466.4,1875.7 429,1867.1 446.6,1874.2 445.3,1869.1 453.3,1868.8 421.4,1870.4 421.8,1873.2 453.4,1874.9 448.5,1861.3 419.5,1870.2 419,1866.8 435.5,1868.1 459.8,1872.7 459.1,1874.7 465.8,1874.6 417.8,1874.2 437.2,1857.5 442.7,1875 442.2,1871.7 445.5,1867.8 443.1,1874.1 447.2,1873.6 438.1,1871.3 531,1871.5 540.3,1870.9 532.9,1872.9 525.4,1875.3 553,1874.4 552,1868.3 567.9,1875.8 551.5,1875.5 583.3,1869.2 539.6,1865.7 548.8,1864 549.9,1873.6 559.9,1872.8 533.6,1874.6 578.5,1866.8 535.5,1871.7 529.9,1866.1 535.6,1875.5 526,1871.2 553.6,1875.2 561.9,1871.7 541.8,1873.3 549.7,1870.8 555.4,1869.5 560.3,1864.4 560.2,1874.1 547.8,1856.1 550.1,1863.5 573.6,1874.4 578.7,1871.8 566.3,1875.1 533.1,1874.8 543.7,1874.9 529.3,1875.3 579.5,1874.8 533,1869.9 534.8,1865.5 554.4,1871 535.6,1875.2 545.8,1872.6 570.9,1875.8 572.6,1872.9 537.9,1872.8 579,1874.4 547.4,1873.9 539.4,1868 539.4,1873.3 532.3,1873.1 541.3,1873.1 569.9,1873.5 543.3,1874.3 554.7,1871.7 532,1872.9 555,1870.7 564.6,1873.5 563.3,1875.4 535.5,1873.9 582,1873.5 580.2,1859.5 582.5,1870.8 548.6,1870.8 547.2,1867.6 549.8,1869.3 585,1866.5 555.4,1867.7 585.7,1872.7 575.1,1872.5 575.2,1874.8 571.3,1873.1 574.1,1871.9 558.4,1867 555.4,1875.2 536.4,1873.3 530.1,1873.1 525.2,1869 552.5,1875 546.9,1870.9 525.7,1866.9 559.7,1873.8 581,1871.6 546.8,1856 536.6,1862.4 558.8,1874.2 535.4,1874.8 557.5,1870.1 527.1,1866.7 570.7,1863 565,1873.2 534.4,1874.4 537.2,1857.6 568.1,1875.2 537,1868.6 548.1,1875.2 569.7,1875.3 553.7,1873.9 532.6,1863.7 535.8,1872.8 559,1875.2 579.8,1873.8 566.5,1871.6 533.5,1872.7 565.7,1875.5 537.2,1873 535.5,1871.7 585.2,1863.9 568.3,1872.9 577.5,1867.5 536.8,1872.4 570.1,1872.5 549.3,1873.3 570.8,1868.7 553.5,1872.7 559.9,1875.5 577.1,1871.1 571.6,1874.2 539.2,1872.5 579.7,1871.2 554.4,1867.9 564.4,1871.9 531.4,1875 586.1,1875 532,1869.3 555.9,1845.8 535.5,1875.5 564.6,1872.7 559.9,1872.5 583.1,1874.7 535.9,1862.5 539,1875.5 569,1875.5 541,1872.5 547.8,1872.3 539.6,1874.1 567.5,1865.1 584.8,1874.6 546.9,1873.9 548,1871.6 582.5,1874.5 574.5,1864.4 555.8,1865.7 543.9,1875.7 584,1862.8 569,1872.3 531.4,1868.8 531.6,1874.7 556.4,1875.7 552.2,1850.5 537.6,1870.4 559.4,1856.4 559,1875.5 542.6,1863.8 552.3,1874.5 538.5,1872 552.1,1872.7 580,1874.6 579.6,1872.8 554.3,1873.9 541.6,1870.3 537.6,1868.2 563.8,1873.6 543.5,1867.2 572.7,1865.8 574.5,1871.4 552.7,1869.6 526.1,1870.7 568.5,1874.1 553.9,1871.1 537.3,1866.6 576.6,1873.4 530.3,1866.6 586.9,1874 538.5,1875.3 532.7,1857.8 532.1,1873.8 541.2,1875.3 537.4,1873.3 525.1,1872.6 583.1,1875 540.6,1872.9 553.6,1866.6 526.3,1865 528.8,1874 567.1,1875.5 528.2,1873.6 678.8,1872.5 683.9,1871.3 732.5,1869.5 652.1,1872 709.9,1870.5 635.1,1860.2 666.8,1870.5 661.4,1873.7 675.6,1870.3 653.9,1874.7 677.4,1871.6 728.1,1875 654.2,1872.4 641.8,1873.6 738.6,1875.4 739.8,1867.7 693.8,1874.7 681.7,1874.6 632.5,1873.3 709.8,1870.8 695.4,1875.2 698.1,1871.9 666.7,1870.6 667,1871.4 733.2,1875 682,1867.5 651.6,1875.4 654.1,1872.7 671,1874.9 666.8,1874.1 660.8,1872.5 685.8,1861 731.7,1861.9 674.6,1873.6 646.7,1873.8 679.9,1874.3 643.9,1862.3 690.4,1874.7 636.9,1875.2 658,1862.2 667.8,1873.2 685.6,1869.1 654.4,1871.1 704.9,1862.5 645.1,1872.8 687.4,1874.3 669.6,1868.7 633.6,1870 694.6,1875.5 676.1,1866.2 729.2,1865.2 667.1,1871.4 737.6,1871.8 710.8,1874.9 645.4,1875 674.8,1874.4 730.4,1864 683.3,1867.6 733.2,1869.1 725.1,1867.7 654.3,1873.9 716.1,1871.8 732.1,1861.7 633.1,1872.9 654.7,1871.1 662.6,1870.5 731.6,1875.3 681.5,1875.3 740,1875 657.2,1873.5 735.7,1858.4 677.7,1869.2 739.5,1869.8 665.7,1861.4 669.1,1865.4 735.9,1858 704.5,1860.4 716,1867.5 643.6,1870.9 663.9,1875.1 736.1,1873.7 700.3,1870.6 724,1866.8 723.8,1872.3 645.7,1874.8 729.1,1871.2 668.5,1869.6 708.3,1867.6 698.6,1873.6 729.1,1857.6 665.4,1874.9 719.8,1864 634.9,1875.5 683.8,1872.3 730.1,1869.7 631.5,1870.5 696.8,1871.3 678.3,1866.5 717.5,1875.5 643.8,1862.8 649.2,1871.6 708,1865.1 679.1,1865.6 641.7,1867.1 715.2,1866.9 635,1875.6 665.8,1856.8 725.7,1874.1 709.5,1873.8 723.5,1861 637.1,1867 684.9,1870.7 672.8,1874.1 738.8,1874.2 668.8,1869.3 721.8,1875.7 642.3,1875.2 647.8,1857.7 701.9,1872.4 671.8,1871.6 715.4,1873.6 687.9,1874.7 674.9,1875.4 731,1875.4 723.3,1855 739.3,1875.2 675,1867.6 685.5,1875.6 694.5,1874.6 732.3,1874.3 687.6,1860.7 692.1,1875.2 723.3,1863.4 736.6,1875 713.7,1862.6 739.1,1852.7 716.5,1873.1 737.3,1871.3 718.8,1866.4 677.4,1870.9 695.9,1869 676.4,1866.9 681.9,1875.4 650.2,1875.2 727.8,1874.6 653.8,1872.2 712.9,1873.7 654.6,1873.6 644.8,1874.3 659.8,1873.1 716,1874.2 681.4,1873.8 733.4,1873.2 643.4,1867.9 653.4,1856 686.4,1861.9 691.3,1875.6 706.3,1872.8 737.6,1866.9 712.8,1869.2 730.5,1874.5 677.3,1870.6 637.1,1861.8 680.1,1866.1 694.3,1875.8 724.8,1873.2 669.3,1870.9 728.6,1865.6 718.4,1872 693.9,1865.4 665.5,1874.4 678.7,1872.9 736.7,1872.3 635.9,1872.1 731.2,1871.2 735.4,1867.3 634.9,1872.9 666.2,1865.4 645.7,1869.9 701.6,1871.9 639,1867.1 735.9,1860.2 741.3,1872.5 734.2,1869.2 707.4,1848.7 732,1870.9 699.6,1867.5 679.9,1866.3 690.6,1875.3 724.9,1875.7 722.3,1875.4 678.2,1859 691,1872.4 705.2,1870 707.7,1874.7 635.8,1874.9 669.3,1871.5 709.8,1872.7 634.5,1868.3 732.8,1868.1 659.9,1874.7 670.3,1862.9 631.9,1875.7 635.4,1870.6 716.2,1863.2 668.4,1874.1 714.2,1870.1 666.9,1869.5 704.8,1867.5 643.9,1875.2 680.3,1871.3 683.8,1870.7 658.2,1874.1 693.5,1869.5 676.2,1867.6 720.6,1875.3 630.9,1875.8 634.1,1871.5 696.8,1875.4 645.1,1874.1 729.8,1872.7 634.7,1874.9 715.2,1874.7 631.4,1859.7 714.9,1875.8 723.6,1872.6 726.5,1874.2 690.9,1869.1 715.6,1871.8 701.2,1868.8 635.6,1874.4 715.7,1874.7 660.5,1853.1 652.2,1867.9 706.2,1869.2 723.6,1875.6 680.7,1870.5 731.8,1869.4 704.7,1873.1 634.7,1869.1 698,1874.9 676.4,1872 638.8,1868.1 680.8,1874.6 693.3,1875.3 642.1,1870.4 664.4,1875.2 733.7,1873.7 726.8,1872.2 698.2,1867.7 635.4,1869.7 706.6,1871.4 670.1,1875.7 679.9,1864.7 675.9,1870 654.8,1875 708.7,1870.6 716.1,1861.9 687.5,1874.1 725.4,1871.1 733.8,1871.8 636.3,1873.2 640.6,1864.8 643.5,1872.1 704.4,1874.1 668.3,1869.7 658.2,1863.5 641.3,1875.8 714.7,1873.1 713.8,1869.5 723.2,1873.1 731.6,1875.6 673.7,1875.4 649.7,1871.5 694,1858.4 656,1863.7 698.7,1874.7 740,1875.3 652.8,1875.6 652,1872 633.5,1865.6 643.3,1875.2 635.5,1873.2 642.9,1873.9 686.4,1875.7 686,1875.7 675.6,1874.1 721.3,1867.1 730.8,1870.7 670.5,1870.1 636.1,1874.6 659.5,1872 664,1872.6 680.9,1872.4 728.7,1869.3 656.3,1872.4 669.4,1871.4 678.1,1869.5 733.9,1870.1 673.3,1872.3 679,1873.5 724.4,1872.4 708.7,1871.2 704.4,1871.8 709.8,1874.8 636.5,1865.6 638.5,1875.6 666.2,1875 677.5,1861.9 697.4,1874.7 646.4,1875 637.4,1875.6 701.2,1873.9 726,1867.8 682.3,1872.1 702.7,1874.3 738.8,1866.6 689.4,1871.3 678.9,1866.6 687.9,1875.7 663,1863.2 670.9,1874.3 681.9,1856.8 658.7,1875.8 704,1871.9 635.3,1869.6 734.7,1873.9 690.8,1871.8 676.3,1872.7 717.4,1861.7 652.4,1868.8 633.5,1875.6 679.7,1872.9 732.2,1873.1 687.4,1873.8 697.5,1875.3 662.5,1875 670.1,1873.1 634.2,1872.8 631,1875.5 693.2,1860.2 726.4,1872.1 638.3,1872.4 719.7,1874.8 685.4,1874.6 738.9,1869.5 651.5,1865.2 639.5,1864.3 648.4,1870.3 706.9,1875.4 665.5,1874.8 643.5,1874 657.6,1875.2 652.3,1866 672.5,1874.7 670.2,1870.2 654.8,1874.3 673,1872.1 675.5,1873.3 696.9,1859.9 728.8,1872.9 673.3,1857.2 687,1869.4 650,1863.1 684.1,1874.6 684.5,1861.9 638.4,1875.7 682.8,1875.3 732,1864.7 706.9,1875.3 697.1,1874.7 690.1,1858.9 674.5,1875.2 643,1871.7 665.7,1875.1 683.1,1864.8 649.9,1874 708.3,1870.2 666.1,1871.8 642,1871.8 661.1,1873.9 726,1869 645.1,1875.1 702.1,1871 652.9,1874 714.5,1873.7 719.4,1870.5 784.4,1871.3 782.6,1872.9 780.3,1875.1 784.4,1875.7 784.6,1875.4 784.1,1870.7 784,1874.4 784.4,1867.8 781.9,1875.1 782,1871 784,1870.1 782,1870 780.8,1875.2 783,1873.5 784.1,1875.1 783.9,1873.3 825.9,1863 822.4,1873.8 820.2,1870.9 818.5,1870 832.6,1864.8 838.9,1874.7 836.4,1871.3 832,1857.6 822.5,1874.5 820.4,1872.6 836.4,1875.3 824.5,1874.5 821.8,1866.9 838.2,1875.5 832.1,1868.1 825,1874.7 835.9,1870.6 827.8,1875.2 835.2,1873.2 831.1,1875.4 829.8,1874.5 818.4,1871.8 829.7,1873.9 837.5,1873 828.7,1867.3 824,1873.4 822.3,1873.6 837.3,1875.4 837.1,1873.5 828.7,1875 829.8,1868 817.3,1875.6 826.4,1872.9 820.5,1873 829.6,1872.2 830.5,1873.8 817.7,1875.6 827.6,1871.7 828.8,1871 835.1,1870.5 829.3,1867.7 831,1867 838.6,1862.7 818.9,1871.8 837.2,1873.5 838.1,1875.3 821.7,1874.5 833.2,1874.8 818,1871.8 824.2,1872.6 833.6,1875.6 832,1874.8 825,1863 817.1,1871.9 831.3,1875.4 825.1,1872.5 819.6,1865.8 824.6,1868.9 831.4,1864.8 824.4,1873.1 834.8,1868.8 826.5,1875.6 834.8,1873.4 834,1866.4 820.5,1869 832.7,1873.4 828.7,1874.2 857.3,1873.1 857.8,1868.2 93.1,1845.3 104,1850 115.3,1850.2 293.5,1853 297.9,1855.4 426.1,1850.8 440,1852 703.3,1783.4 703.6,1797.7 631.3,1795.5 629.4,1834.9 688.3,1836 706.9,1843 711,1845 680.9,1842.5 817.4,1818.5 782.4,1848.3 557.7,1844.2"/>
<polyline class="dL" points="95.7,1875.6 99.7,1867.9 116.2,1871.1 111.1,1866.6 111.4,1870.7 102.6,1872.5 95.7,1874.7 89.2,1872.7 94.6,1874.2 94.8,1871.4 102.2,1860.5 297.2,1871.2 355.1,1872.4 378.1,1871.5 349.8,1864.5 359.5,1872.8 362.1,1874.6 380,1866.7 353,1872 359.3,1875.3 372.6,1875.1 423.6,1870.4 465.3,1860.4 456.8,1873.2 437,1875.8 438.4,1871 450.9,1869.3 452.5,1871.1 427,1872.4 439.6,1874.2 417.7,1873 425.7,1872.4 451,1871.8 449,1869.2 460.8,1874.8 438,1874.7 454.3,1867.6 532.7,1874.1 572.4,1863.7 532.5,1875.5 583.3,1874 570.1,1873.1 581.3,1873.7 546.8,1872.7 545.2,1873.1 576.1,1875.6 567.5,1875.6 583.5,1875.4 585.5,1874.3 538.5,1874.1 550.5,1873.3 549.2,1874.3 563,1872.3 567.2,1870.8 584,1872.8 554.4,1871.2 580.2,1871.5 571.4,1866.8 549.8,1875.1 585.3,1870.8 669.9,1871.6 657.7,1869.4 711.5,1845.6 660.5,1871.7 729.1,1866.3 730.4,1875.8 693.3,1875.5 721.5,1873.9 633.1,1865.8 697.6,1873.1 648.4,1872.6 735.9,1875.2 649.9,1864.1 709.5,1871.5 634.5,1870.4 637.6,1873.5 675,1866.7 730.1,1875.5 658.1,1873.9 736.4,1871.8 641.4,1875.7 725.3,1873.3 644.9,1867.9 710.1,1870.2 688.9,1866.5 682,1875.5 647.2,1874.2 712,1869.5 681.5,1871.6 727,1859.3 740.1,1875 708.2,1875 709.9,1873.3 640.2,1874.3 697.5,1874.5 725.3,1868.6 631.6,1866.5 785,1868.1 781.3,1873.6 834.6,1869.6 823.4,1871.4 831.8,1874 826.2,1872.9 824.5,1873.5 831.4,1871.7 827.5,1873.7 823.6,1872 822.3,1871.9 703.6,1812.2 631.3,1809.7 641.2,1832.1 703.6,1832.1 817.4,1829.7"/>
<path d="M123.3 1878L122.3 1875.5V1874.3L123.8 1872.3L125.3 1873.7L126.8 1872.8L128.3 1873.6L129.8 1872.1L131.3 1873.7L132.8 1872.6L134.3 1873.7L135.8 1872.1L137.3 1873.7L138.8 1872.2L140.3 1873.2L141.8 1872.7L143.3 1873.5L144.8 1872.3L146.3 1873.7L147.8 1872.5L149.3 1873.2L150.8 1872.6L152.3 1873.3L153.8 1872.4L155.3 1873.4L156.8 1872.5L158.3 1873.7L159.8 1872.6L161.3 1873.7L162.8 1872.7L164.3 1873.4L165.8 1872.8L167.3 1873.6L168.8 1872.9L170.3 1873.5L171.8 1872.9L173.3 1873.3L174.8 1872.8L176.3 1873.6L177.8 1872.5L179.3 1873.1L180.8 1872.8L182.3 1873.3L183.8 1872.7L185.3 1873.4L186.8 1872.8L188.3 1873.7L189.8 1872.7L191.3 1873.1L192.8 1872.8L194.3 1873.5L195.8 1872.3L197.3 1873.6L198.8 1872.9L200.3 1873.2L201.8 1872.6L203.3 1873.6L204.8 1872.4L206.3 1873.4L207.8 1872.4L209.3 1873.7L210.8 1872.6L212.3 1873.6L213.8 1872.2L215.3 1873.6L216.8 1872.8L218.3 1873.5L219.8 1872.8L221.3 1873.7L222.8 1872.2L224.3 1873.5L225.8 1872.1V1875.5L224.8 1877.7L222.6 1878.4L220.4 1877.9L218.2 1878L216 1877.7L213.8 1878.7L211.6 1877.7L209.4 1878.5L207.2 1877.7L205 1878.4L202.8 1877.8L200.6 1878L198.4 1877.9L196.2 1878.5L194 1877.9L191.8 1878.4L189.6 1877.8L187.4 1878.5L185.2 1877.9L183 1878L180.8 1877.7L178.6 1878L176.4 1877.8L174.2 1878.1L172 1877.8L169.8 1878.5L167.6 1877.8L165.4 1878.1L163.2 1877.9L161 1878L158.8 1877.7L156.6 1878.6L154.4 1877.8L152.2 1878.3L150 1877.9L147.8 1878.1L145.6 1877.8L143.4 1878.1L141.2 1877.9L139 1878L136.8 1877.9L134.6 1878.6L132.4 1877.8L130.2 1878.3L128 1877.9L125.8 1878.6L123.6 1877.8zM248.9 1878L247.9 1875.5V1874.4L249.4 1872.5L250.9 1873.8L252.4 1872.7L253.9 1873.9L255.4 1872.9L256.9 1873.8L258.4 1873.1L259.9 1873.9L261.4 1873.2L262.9 1873.8L264.4 1872.7L265.9 1873.5L267.4 1872.6L268.9 1873.9L270.4 1872.5L271.9 1873.8L273.4 1872.5L274.9 1873.9L276.4 1873.1L277.9 1873.8L279.4 1873L280.9 1873.5L282.4 1873L283.9 1873.9L285.4 1873.1L286.6 1873.4V1875.5L285.6 1877.7L283.4 1878.4L281.2 1877.9L279 1878.1L276.8 1877.9L274.6 1878.1L272.4 1877.8L270.2 1878.2L268 1877.7L265.8 1878.5L263.6 1877.9L261.4 1878.3L259.2 1877.7L257 1878.6L254.8 1877.9L252.6 1878L250.4 1877.7zM305.1 1878L304.1 1875.5V1874.3L305.6 1872.5L307.1 1873.1L308.6 1872.3L310.1 1873.3L311.6 1872.2L313.1 1873.7L314.6 1872.5L316.1 1873.7L317.6 1872.4L319.1 1873.3L320.6 1872.5L322.1 1873.4L323.6 1872.3L325.1 1873.5L326.6 1872.8L328.1 1873.1L329.6 1872.6L331.1 1873.7L332.6 1872.7L334.1 1873.6L335.6 1872.9L337.1 1873.1L338.6 1872.8L340.1 1873.6L341.6 1872.3L343.1 1873.2L343.5 1872.2V1875.5L342.5 1877.8L340.3 1878.3L338.1 1877.8L335.9 1878.5L333.7 1877.9L331.5 1878.7L329.3 1877.9L327.1 1878.6L324.9 1877.7L322.7 1878.6L320.5 1877.8L318.3 1878.1L316.1 1877.9L313.9 1878L311.7 1877.8L309.5 1878.2L307.3 1877.7L305.1 1878.1zM473.9 1878L472.9 1875.5V1874L474.4 1871.6L475.9 1873.2L477.4 1872.1L478.9 1873.4L480.4 1872.2L481.9 1873.2L483.4 1872.4L484.9 1872.9L486.4 1871.6L487.9 1873.4L489.4 1871.5L490.9 1873.2L492.4 1871.5L493.9 1872.8L495.4 1872.1L496.9 1872.7L498.4 1872.1L499.9 1873L501.4 1871.9L502.9 1872.8L504.4 1871.7L505.9 1873.4L507.4 1871.7L508.9 1872.7L510.4 1872.3L511.9 1872.8L513.4 1871.8L514.9 1873.3L516.4 1872.5L517.9 1872.9L518.9 1872V1875.5L517.9 1877.8L515.7 1878.8L513.5 1877.8L511.3 1878.3L509.1 1877.8L506.9 1878.5L504.7 1877.8L502.5 1878.8L500.3 1877.8L498.1 1878.1L495.9 1877.9L493.7 1878.5L491.5 1877.7L489.3 1878.3L487.1 1877.9L484.9 1878.1L482.7 1877.8L480.5 1878.7L478.3 1877.7L476.1 1878L473.9 1877.8zM594.9 1878L593.9 1875.5V1874.4L595.4 1873.1L596.9 1873.9L598.4 1872.9L599.9 1873.5L601.4 1873.1L602.9 1873.9L604.4 1872.5L605.9 1873.6L607.4 1872.7L608.9 1873.7L610.4 1872.8L611.9 1873.4L613.4 1873.2L614.9 1873.7L616.4 1872.7L617.9 1873.8L619.4 1873L620.9 1873.9L622.4 1872.8L623.9 1873.6L624.1 1872.5V1875.5L623.1 1877.9L620.9 1878.3L618.7 1877.9L616.5 1878.3L614.3 1877.7L612.1 1878.5L609.9 1877.8L607.7 1878.4L605.5 1877.8L603.3 1878.3L601.1 1877.8L598.9 1878.2L596.7 1877.8zM748.8 1878L747.8 1875.5V1874.4L749.3 1873L750.8 1873.9L752.3 1872.9L753.8 1873.6L755.3 1872.5L756.8 1873.9L758.3 1873.2L759.8 1874L761.3 1872.9L762.8 1873.9L764.3 1872.6L765.8 1873.9L767.3 1872.5L768.8 1873.7L770.3 1872.9L771.8 1873.7L773.3 1873L774.8 1873.4L775 1872.5V1875.5L774 1877.8L771.8 1878L769.6 1877.9L767.4 1878.2L765.2 1877.8L763 1878.5L760.8 1877.7L758.6 1878.2L756.4 1877.9L754.2 1878.1L752 1877.8L749.8 1878.5zM791 1878L790 1875.5V1873.1L791.5 1870.3L793 1871.9L794.5 1870.3L796 1871.5L797.5 1870.1L799 1871.4L800.5 1870.3L802 1871.9L803.5 1869.7L805 1871.5L806.5 1870L808 1871.3L809.5 1870.1L811 1871.4L811.1 1870.3V1875.5L810.1 1877.9L807.9 1878.1L805.7 1877.8L803.5 1878.1L801.3 1877.7L799.1 1878.1L796.9 1877.8L794.7 1878.5L792.5 1877.8z" fill="#8a1b61"/>
<polyline class="uP" points="166.7,1871.6 161.7,1857.6 176.1,1872.3 171.6,1873.2 221.5,1859.9 211.1,1866.8 204.1,1870.2 195.1,1871.2 148.9,1874.9 213.8,1870.9 141.3,1873.5 132,1847.3 151.5,1865.5 126.8,1857.1 212.9,1872.2 153.8,1872.4 215.5,1859 157.5,1859.7 170.4,1875.3 133.9,1873.7 163.5,1875.7 162.4,1873.3 133.7,1866.6 180.1,1867.6 144,1874.8 214.5,1854.7 200.6,1870.7 188.4,1871.2 162.8,1865.9 188.1,1866 145.7,1867.4 143.5,1873 197.8,1871.7 167.3,1870.1 161.3,1866.6 182.7,1863.3 136,1872.3 153.5,1873 199.8,1872.4 196.9,1875.3 160.2,1872 145.9,1872.2 136.7,1874.7 218.2,1875.8 161.9,1866.7 179.6,1864.7 203.9,1866.1 175.4,1873.6 179.2,1874.5 182.5,1866.7 202.4,1872.1 218.3,1869 208.8,1870.6 201.4,1871.8 183.5,1874.2 167,1874.7 159.1,1868.3 221.1,1872.8 174.8,1857.7 205,1874.6 137.2,1875.2 137.3,1871.8 153.9,1874 160.6,1869.8 132.9,1855.4 212.3,1874.9 206.1,1864.6 156.4,1868.6 146.2,1862.7 205.3,1871.8 174.7,1871.6 139.2,1863.2 175.8,1875.5 220.2,1858.8 149.1,1872.8 166.9,1867.2 140.5,1875.1 161.5,1870.4 190.5,1874.7 165.2,1870.9 157.5,1859.2 130.7,1874.6 176.7,1855.3 158.9,1874.4 171.4,1848.5 169.4,1872.9 175.5,1870.5 191.9,1875.1 179.6,1868.5 202.3,1874.6 180.3,1875.1 221.7,1870.3 127.9,1874 194.9,1874.1 219.3,1875.4 207.9,1863.7 207.4,1873.3 158.9,1871.6 181.5,1875.2 179.3,1864.1 128.4,1870.1 128.2,1874.4 180.8,1864.1 182.3,1873.8 184.9,1872.4 204.7,1871.7 171.7,1855.6 173.7,1872.2 213.7,1872.8 197.8,1874.4 193.6,1875.5 178.8,1871.5 158.3,1871 208.1,1875.7 128.4,1875.4 146.2,1869.7 176.9,1871.6 145.3,1853.8 221.3,1872 134.2,1866.6 164.8,1872.5 179.9,1873.8 184.5,1863.5 139.8,1873.8 200.1,1874.5 170.4,1871.5 165.9,1865.9 160.3,1874.6 158.9,1868.2 190.4,1874.5 194.8,1875.7 135,1875.5 140.6,1871.4 171.4,1874.5 182.1,1866 133.6,1872 203.7,1865.7 167.8,1868.3 152.9,1864.4 137.7,1856.6 210.2,1869.6 164,1875 146.9,1851.8 145,1868.2 154.9,1871.3 175.3,1873.7 197.8,1873.2 184.9,1864 195.8,1875.1 129.7,1871.3 212,1873.6 202.9,1875.2 204.7,1865.1 135.5,1872.7 156.5,1875 172.1,1875.1 135.4,1874.7 158.6,1871.1 187.7,1872 205.8,1875.6 186.9,1867.8 131.2,1868.1 185.9,1864.8 193.1,1873.6 216.8,1867.3 191,1862.1 203.2,1873.7 205.7,1875.2 139.8,1873.7 220.2,1875.3 142.6,1869.4 134.1,1874.3 201.1,1868.7 170.1,1864.5 203.7,1872.2 212,1869.7 193.5,1865.1 212.7,1874.7 219.2,1872 176.5,1870 128.9,1874.5 220.8,1874.3 142.1,1873.9 222.7,1860.1 167.9,1860.2 149.9,1875.3 180.4,1874.6 177.1,1871.5 194,1868.2 191.2,1873.8 165.6,1874.3 184.5,1859.5 212.3,1868.2 212.3,1865.3 206.4,1864.8 159.1,1866.7 177,1872.2 212.1,1870.5 137.1,1867 131.9,1856.3 207.3,1871.4 177.2,1874.8 140.3,1874 127.3,1853.4 194.3,1875 154.9,1869.4 191.3,1875 184,1875.6 212.7,1875.6 210.5,1869.7 152.5,1870.8 218.4,1872.4 150.9,1875.2 197.3,1873.4 203.7,1872.6 127.9,1875.4 216.3,1848.1 150.9,1865.4 166.3,1875 189.3,1872.2 207.4,1870.8 217,1873.7 151.2,1875.6 163.3,1864.5 221,1862.8 162,1867.5 204.4,1856.4 161.3,1869.9 162.3,1869.5 164.9,1861.5 164.4,1875.8 173.6,1860.4 201,1869.9 162.8,1875.3 129.1,1872.6 193.7,1851 173,1874.6 220.1,1866.8 177.9,1868.7 131,1854.9 143.1,1873.9 131.8,1872.9 186.1,1873.8 131.6,1871.7 161.7,1868.5 201.3,1863.1 128,1856.3 180.8,1871.8 162.3,1858.6 129.7,1875.1 135.7,1875.5 188.9,1872.7 170.2,1867.2 166.9,1854.4 191.8,1875.6 156.2,1866.1 172.7,1860.7 149.7,1871.8 167.1,1873.1 154.5,1873.3 177,1874.9 159.9,1875.8 184.8,1869.3 172.1,1871.3 177.6,1859.8 173.5,1872.2 192.2,1871 195.3,1874.9 164,1875.4 167.6,1868.5 158.4,1875.1 137.2,1874 127.2,1871 144.8,1871.7 213.5,1874.1 170,1872.1 212.5,1872.5 187.7,1867.1 169,1866.4 209.5,1875.5 207.5,1869.5 211.5,1865 157.8,1873.8 170.8,1853.8 146.4,1872.6 131.3,1875.4 200.5,1871.6 174.2,1873.7 219,1871.5 126,1870.8 180.6,1870.1 166.2,1869.8 186.3,1872.7 140.8,1867 152.5,1873.7 197.7,1873.6 178.3,1873.9 214.5,1874.1 129.6,1851.7 195.6,1873.2 196.4,1875 169.9,1851.4 156.9,1872.9 167.9,1875.3 217.4,1870.9 153.5,1870.6 215.1,1861.5 161,1873.1 163.4,1870.9 214.3,1870.4 129.7,1867.8 191.7,1873.2 202.7,1871.1 196.8,1871.5 202.5,1869.6 280.2,1874.5 266.9,1867.6 275.9,1867.7 256.7,1874.9 267.8,1873.6 254.4,1873.4 260.6,1861.3 270.5,1872 262.5,1867.9 270.9,1869.2 280.8,1870.3 267,1855.7 255.9,1849.2 261.2,1868.1 278.3,1861.9 262.1,1875 266.6,1871.7 265.7,1874.2 271.2,1874.9 252.6,1869.1 259.5,1875.6 252.4,1871.9 267.5,1865.2 274.8,1875.1 253.5,1866.5 255.5,1855.7 251.6,1871.6 272.1,1872.3 268.9,1875.3 270,1869 278.7,1870.7 258.3,1866.8 257.4,1868.1 264.3,1851.7 273.6,1866.7 279.3,1874.3 253.9,1875.1 261.4,1875 269.2,1875.1 265.5,1869.4 273.6,1862.3 254,1864.6 282.3,1874.3 262.8,1873 252.5,1862.6 276.5,1872.4 261.9,1858.5 255,1869.7 262,1874.5 271.1,1872.6 273.9,1872.7 257.5,1870 273.2,1874.4 256.1,1871.4 273.9,1875.5 281.3,1875.2 267.1,1873 257.7,1867.8 258.6,1873.2 256.1,1871.1 282.4,1870.9 266.5,1874.9 282.9,1866 281.4,1861.1 265.5,1871.8 261.7,1864.8 252.2,1867.9 276.7,1874.4 280.8,1872.7 280.9,1869.5 251.7,1870 275.1,1867.2 253.4,1872.3 251.8,1874.5 280,1862.1 280.2,1866.2 261.3,1875.5 267.8,1872.4 277.4,1854.8 269.5,1874.9 271.3,1859.5 267,1864.7 253.6,1862.1 253.6,1875.1 265.8,1871.7 283.6,1867.1 254.7,1863 272.7,1866.7 315.8,1875.2 340.4,1873.7 329.9,1870.2 315.3,1869.6 330.5,1874.3 311.4,1871.1 319.5,1872.9 337.9,1873.3 329.2,1873.5 327.4,1874.9 312.5,1873.3 340.1,1869.9 322.9,1874.2 325.9,1874.4 332.1,1868.1 309.2,1873.6 325.7,1860.7 322.7,1875.1 312.5,1868.1 333,1875.2 313.2,1873.7 315.9,1875.7 335.6,1872.3 320.7,1870.9 330.6,1873.7 335.1,1874.6 336.6,1872.4 315.5,1872.5 316,1872.6 324.4,1868.5 320.8,1874.5 326.8,1871.1 334.9,1869.6 332.5,1865.9 326.3,1875 334.1,1872.6 320.9,1874.5 324.7,1871.8 320,1869 332.8,1873.7 310,1871 324.2,1874 312.8,1874.8 339.6,1866.8 340.5,1867.1 327.2,1859.3 321.7,1871.5 335.9,1862.8 336.4,1868.8 322.1,1868.4 313.9,1868.2 318.3,1873.5 325.2,1875.7 338.7,1871.3 312,1869.8 322.9,1873.9 308.8,1875.6 329.8,1871.9 316.3,1873 324.9,1871.9 330.4,1866 323.6,1869.5 311.1,1869.9 319.2,1874.4 322.1,1863.5 322.5,1870.8 336.8,1871.6 316.9,1872.5 312.3,1875.7 331.5,1872.4 315.7,1868.9 317,1861.9 308.2,1861.8 323.2,1871.5 312.4,1873.6 313.4,1875.5 337.5,1871.2 327.8,1864.5 320.3,1872.1 336.9,1871.5 321.9,1875.3 326.4,1871.3 322.2,1874.7 336.1,1869 338.4,1875.3 337.7,1874.4 323,1872.4 316.1,1875.7 311.2,1873.1 328.3,1873.1 335,1866.3 311.6,1875.5 323.1,1869.1 338.9,1875.5 324,1875.4 337.6,1872 322.1,1873.2 406.1,1872.4 397.8,1871 407.7,1867.3 396.4,1870.9 399.4,1867.3 393,1867.1 406.4,1865.7 404.5,1870.7 396.9,1872.9 396.4,1872.7 403,1869.4 390.3,1873.7 403.2,1852.5 406.7,1872.7 395.1,1863.8 396.5,1873.1 408.4,1872.8 394.1,1873 405.4,1869.1 403.6,1870.9 401.8,1870.6 393.9,1865.5 404.5,1872 397.7,1870 400.4,1865.7 398.6,1869 391.1,1873.8 403.7,1872.7 408.2,1872.2 405.7,1872.7 396.5,1863.2 397.4,1872.9 397.3,1872.1 403.2,1872 405.2,1868.9 404.5,1861.5 406.9,1867.6 403.9,1866.1 401.9,1868.9 394.3,1856.9 404.1,1872.8 404.6,1872.7 407.4,1871.2 398.8,1871.8 390.1,1870.8 390.7,1867.6 405,1867 407.3,1873.9 396.9,1873.5 396.8,1870.2 390.1,1873.9 395.9,1869.2 400.4,1866.4 390.7,1870.9 400.9,1841.8 392.3,1868.6 391.7,1872.7 407.8,1865 405.9,1872.9 400.7,1872.9 394.8,1865.1 396.7,1871.8 396.1,1859.6 391.2,1872.6 391.7,1871.6 392.6,1869.6 405.5,1868 407.4,1873.6 395.6,1860.5 397,1863 399.8,1873.7 407.9,1870 496.8,1865.3 480.6,1874 501.6,1874.7 482.8,1861.6 494.4,1872.6 496,1872 515.6,1866.7 508.1,1862.3 514.2,1873.8 491.3,1860.3 508.7,1872.4 481,1872.8 500.6,1870.7 493.8,1871.9 512.8,1873.1 503.6,1846.2 515.1,1875.7 504.8,1874.4 502.7,1865.1 476.7,1873.8 497.4,1871.5 514.6,1868.9 480.4,1867.5 506.1,1854.2 509.5,1875.3 492.5,1872.6 484,1874.3 504.7,1870.5 514.5,1872.8 513.2,1870.3 495.5,1872.2 503.6,1871.8 493.5,1866 483.8,1875.3 497.7,1875.5 491.6,1866 489,1872.1 503.5,1868.8 513.6,1872.5 494.4,1867.4 478.6,1874.2 479.2,1875.7 501.7,1864.4 511.9,1874.8 481.9,1875.5 486.7,1870.6 491.7,1874.8 480.5,1874.2 490.2,1862.6 498.1,1872.1 496.4,1868.2 481.4,1872.5 506.6,1867.3 505.1,1855.4 491.6,1870.2 490.5,1868 508,1869.5 515,1873.7 494,1874 509.4,1875.3 508.2,1874.3 486.5,1869.1 492.9,1872.9 501.3,1872.5 515.4,1873.3 511,1875.7 478.5,1873.3 513.6,1867.5 502.1,1871.6 495.7,1874.9 477.3,1866.4 481.1,1875.4 502.8,1874.7 486.6,1861.7 498.6,1869.2 476.7,1875.5 488.8,1874.5 491.1,1870.8 508.1,1872.1 482.4,1860.9 506.6,1872.5 486.3,1875.5 483,1868.9 509.2,1867.6 511.3,1854.3 476.6,1874.3 482.7,1873.5 486.9,1864.2 489.4,1874.8 502.7,1874 512.1,1874.2 482.8,1868.9 514,1871.9 506.4,1863.1 480.8,1849.3 498.2,1862.6 503.5,1869.5 620.6,1875.5 611.9,1867.6 611.6,1868.8 600.1,1872.5 598.4,1872.2 607.8,1861 615.7,1874 599.3,1858 620.9,1867.8 620.3,1873.1 600.3,1863.5 619,1875.2 606.4,1854.7 613.4,1861.6 619.9,1874.3 620.4,1865.3 608.4,1867 620.3,1872.8 610.5,1870.1 599.4,1858.6 611.9,1873.7 610.4,1873.7 615.6,1865.4 611.1,1856.5 608.6,1870.3 620.5,1865.8 616.6,1867.5 603.8,1873.3 602.6,1864.8 607.7,1874.3 604.5,1871.1 603.3,1858 615.7,1856.3 611.7,1870.5 597.5,1864.6 612.8,1873.9 597.3,1855 612,1873.8 616.9,1875.1 610.5,1871.1 611.8,1861.7 608.8,1868.7 604.2,1870 608.2,1867 619.3,1870.7 598.3,1869.8 600.4,1873.9 608.6,1872.2 619.1,1860.7 613.3,1873.4 610.8,1873.3 598.3,1866.3 598.4,1866.6 612.7,1862.3 610.6,1865.8 604.8,1868.1 620.8,1862.6 616.5,1871.1 608.2,1870.2 619.5,1874.3 600.8,1874.4 607.7,1874.5 597.6,1875.7 609,1866.6 619.9,1875.1 607.7,1873.3 601.3,1871.4 609.6,1870.9 601.4,1874.7 616,1855.6 602.8,1867.9 620.1,1874.2 607.6,1851.7 609.5,1866.5 614.5,1875.5 612.7,1873.9 613.2,1875.6 613.2,1873.6 604,1866.3 766.7,1871.4 756.8,1865.3 752.1,1868.8 753.9,1868.8 766.3,1860.3 761,1871.2 764.6,1850.6 754.2,1852.8 761.7,1866.6 756.8,1875.2 752.8,1874.7 760.2,1873 770.6,1875.5 764.5,1870.3 755.7,1872.4 765.5,1866.1 755.9,1874.6 757.4,1873.5 766.4,1872.4 768.9,1874.5 764.8,1869.5 758.5,1860.3 768.6,1869.5 752.9,1866 762.8,1855 760.7,1873.2 755.8,1874.7 752.9,1869.6 762.8,1867.8 762,1870.5 764,1873.2 755,1871.1 755.1,1863.4 757.9,1874.2 756.4,1872 754.3,1857.8 762.4,1871.3 754.3,1857.3 770.3,1874.4 761.6,1873.5 752.7,1865.3 763.5,1874.6 765.4,1864.9 770.2,1870.6 758.5,1867.3 766.3,1872 760.5,1871.7 769.2,1870.5 772,1864.6 753.7,1864 753.4,1868.7 766.8,1856.4 758.8,1862 764.6,1869.2 756.3,1875.6 750.9,1858.3 762.6,1863.9 759.4,1870.5 751.9,1868.6 751.8,1860.2 763.1,1870.6 767,1874.9 752.7,1875.7 759.6,1870.6 753.6,1865 752.8,1873.1 793.9,1858.6 796.4,1874.2 807.4,1873.2 797.2,1869.7 805.9,1872.4 805.9,1873.1 795.1,1868.2 797.3,1871.1 805.7,1873.5 806.6,1872.2 795.8,1873.1 794.3,1873.6 800.1,1874.3 794.4,1872.7 804.3,1861.2 797.3,1868.6 801.6,1872.9 794.4,1852.5 797.1,1870.3 796.3,1870.2 800.6,1871.5 804,1873.5 806.4,1873.5 801.7,1873.8 804.2,1871.1 794.7,1873.4 807.1,1870.2 801.2,1873.4 803.9,1867.5 797.2,1871.3 796.2,1868.4 797,1873.8 803.4,1872.3 803.8,1874.2 800.9,1864.8 803.5,1872.8 793.3,1872.9 804.1,1869 799,1873.8 797.7,1872.7 804.9,1874.2 807,1874.2 793.1,1873.9 794.4,1869.3 255.5,1830.2 252.7,1841.2 279.3,1847 276,1849 283,1858.7 174.1,1845.8 185.1,1843.9 190,1845.8 131.4,1854.3 141,1853 160,1855 170,1853.5 219.3,1852.4 337.6,1857.6 401.2,1848.6 407.2,1853 505.1,1843.1 516,1853 599.6,1838.2 609.2,1843.9 614,1851 757.7,1837.1 754.5,1838 768,1847 771,1847 848.5,1866.5 848.5,1872"/>
<polyline class="dP" points="149.8,1875.2 168.5,1874.9 165.5,1873.2 126.4,1875.5 213.5,1874.3 187.4,1871.4 217.1,1873.8 202.8,1875.6 222,1866.7 206.1,1863.4 157,1870 174,1874.7 184.7,1874.8 131.9,1874.8 206.7,1872.8 167.3,1870 134.8,1875 130.3,1871.2 186.8,1872.6 183.7,1872.8 219.3,1872.7 149.2,1873.1 187.6,1875.2 202.4,1869.5 208.2,1869.7 177.4,1862 141.3,1875.4 220.1,1870.3 151.3,1875 167.3,1870.9 183.7,1872.7 160.1,1870 149,1866 127.6,1868.7 180.6,1875.1 255.5,1864.1 251.7,1863.6 271.8,1859.4 267.4,1870.2 266.1,1871.3 267.5,1874.5 252.4,1870.8 262.3,1873.4 262.5,1869.4 279.4,1875.1 268.2,1867.3 260.2,1866.8 273.7,1874.3 264,1868.6 277.4,1868.3 274.3,1869.8 263.4,1865.9 255.3,1875.1 262.5,1875.5 281.7,1869.7 254.4,1858.5 266.1,1858.3 252.1,1875.5 310.7,1874.1 321.6,1875.8 320.6,1873.2 318.9,1874.5 322,1874.7 324.9,1874.1 319.8,1869.1 312.3,1870.3 329.6,1874.9 320.9,1858.1 311.2,1865.1 337.5,1863.7 331.1,1861 399.5,1868.6 399.3,1873.9 398.9,1869.5 402.2,1872.1 391,1869.6 397.8,1866.3 396.1,1872.1 401.7,1873.4 400.7,1871.2 399.8,1867 408.2,1871.8 503.1,1866.5 481.8,1871.8 479.4,1875.3 513.8,1875.7 513,1867.9 480.1,1874.6 512.9,1871.9 512.7,1875.4 489.5,1875.3 489.1,1868.8 480.9,1869.9 484.2,1875.5 494.7,1874.4 485,1867.7 515,1873 486.1,1849.9 512.7,1859.2 501.4,1875.2 491.7,1872.5 478.5,1875.4 511.9,1874.4 493.5,1867.3 502.4,1871.1 505.4,1873.8 496.9,1873.9 511.7,1874.9 482.9,1874.6 508.1,1867.1 514.5,1862.2 497.2,1866.6 483.7,1864.3 501.1,1871.2 493,1868.5 490.3,1875.6 477.5,1874.8 483.9,1868.1 513,1864 515.6,1857.7 491.4,1867.5 493.8,1870.7 479.7,1870.8 492.8,1875.3 501.6,1870 511.3,1871.8 476.6,1875.3 504.9,1872.5 597.6,1868.8 614.8,1874.9 610.2,1862.6 600.2,1863.5 602.9,1866.1 621,1873.5 604,1864.7 611.5,1873.7 598,1856.5 601.4,1875.7 616.4,1869.5 612.5,1855.9 768.7,1855.9 771.4,1870.6 755.5,1869.3 760.5,1871.6 758.5,1871 757.8,1872.7 766.1,1875.3 765.6,1863.2 761.2,1874.2 761,1873.3 803.5,1864.6 806.2,1867.9 801.4,1871.7 805.4,1870.5 256,1783.4 280.4,1808.6 257.4,1814.6 280.4,1839.5 280.7,1839.8 255.8,1845.3 215.5,1845.8 479.1,1831.3 480.7,1843.4 500.7,1838.2 512,1854 757.7,1837.1 848.5,1866.5 848.5,1872"/>
<path d="M56.5 1785.2H858.9M56.5 1815.6H858.9" stroke="#2f5878" stroke-width="1.35" stroke-dasharray="4.2 5" fill="none"/>
<path d="M54.8 1602.8V1906.8H869.6" stroke="#c6d4df" stroke-width="2.6" fill="none"/>
<rect x="858.9" y="1891" width="10.7" height="14.6" fill="#f3f3f3"/>
<rect x="858.9" y="1599.3" width="10.7" height="291.7" fill="#c8c8c8"/>
<path d="M861.6 1902l2.6 2.6l2.6-2.6" stroke="#333" stroke-width="1.3" fill="none"/>
<rect x="21.1" y="1778.7" width="30.7" height="13" rx="3" fill="#8a1b61"/>
<text x="24.7" y="1788.7" class="bd" textLength="5" lengthAdjust="spacingAndGlyphs">8</text>
<circle cx="44.1" cy="1785.2" r="3.6" fill="none" stroke="#e9cfe0" stroke-width=".7"/>
<path d="M44.1 1784.6v2.6M44.1 1783v.8" stroke="#e9cfe0" stroke-width=".8"/>
<rect x="21.1" y="1809.1" width="30.7" height="13" rx="3" fill="#8a1b61"/>
<text x="24.7" y="1819.1" class="bd" textLength="5" lengthAdjust="spacingAndGlyphs">6</text>
<circle cx="44.1" cy="1815.6" r="3.6" fill="none" stroke="#e9cfe0" stroke-width=".7"/>
<path d="M44.1 1815v2.6M44.1 1813.4v.8" stroke="#e9cfe0" stroke-width=".8"/>
<text x="869.6" y="1917.6" class="pc" text-anchor="end" textLength="79.3" lengthAdjust="spacingAndGlyphs">Phenotypic Categories</text>
<text transform="translate(79.1 1940.4) rotate(-45)" class="xl" text-anchor="end" textLength="35.1" lengthAdjust="spacingAndGlyphs">Infectious</text>
<text transform="translate(120.2 1940.4) rotate(-45)" class="xl" text-anchor="end" textLength="41" lengthAdjust="spacingAndGlyphs">Neoplasms</text>
<text transform="translate(226.7 1940.4) rotate(-45)" class="xl" text-anchor="end" textLength="52.9" lengthAdjust="spacingAndGlyphs">Blood/Immune</text>
<text transform="translate(245.8 1940.4) rotate(-45)" class="xl" text-anchor="end" textLength="74.3" lengthAdjust="spacingAndGlyphs">Endocrine/Metabolic</text>
<text transform="translate(287.5 1940.4) rotate(-45)" class="xl" text-anchor="end" textLength="24.6" lengthAdjust="spacingAndGlyphs">Mental</text>
<text transform="translate(302 1940.4) rotate(-45)" class="xl" text-anchor="end" textLength="30.5" lengthAdjust="spacingAndGlyphs">Nervous</text>
<text transform="translate(344.4 1940.4) rotate(-45)" class="xl" text-anchor="end" textLength="14.1" lengthAdjust="spacingAndGlyphs">Eye</text>
<text transform="translate(384.9 1940.4) rotate(-45)" class="xl" text-anchor="end" textLength="12.8" lengthAdjust="spacingAndGlyphs">Ear</text>
<text transform="translate(412.3 1940.4) rotate(-45)" class="xl" text-anchor="end" textLength="54.7" lengthAdjust="spacingAndGlyphs">Cardiovascular</text>
<text transform="translate(470.8 1940.4) rotate(-45)" class="xl" text-anchor="end" textLength="41.9" lengthAdjust="spacingAndGlyphs">Respiratory</text>
<text transform="translate(519.8 1940.4) rotate(-45)" class="xl" text-anchor="end" textLength="33.7" lengthAdjust="spacingAndGlyphs">Digestive</text>
<text transform="translate(591.8 1940.4) rotate(-45)" class="xl" text-anchor="end" textLength="16" lengthAdjust="spacingAndGlyphs">Skin</text>
<text transform="translate(625 1940.4) rotate(-45)" class="xl" text-anchor="end" textLength="58.3" lengthAdjust="spacingAndGlyphs">Musculoskeletal</text>
<text transform="translate(745.7 1940.4) rotate(-45)" class="xl" text-anchor="end" textLength="50.1" lengthAdjust="spacingAndGlyphs">Urinary/Renal</text>
<text transform="translate(775.9 1940.4) rotate(-45)" class="xl" text-anchor="end" textLength="39.2" lengthAdjust="spacingAndGlyphs">Pregnancy</text>
<text transform="translate(787.9 1940.4) rotate(-45)" class="xl" text-anchor="end" textLength="39.2" lengthAdjust="spacingAndGlyphs">Congenital</text>
<text transform="translate(812 1940.4) rotate(-45)" class="xl" text-anchor="end" textLength="44.2" lengthAdjust="spacingAndGlyphs">Lab findings</text>
<text transform="translate(844 1942) rotate(-45)" class="xl" text-anchor="end" textLength="26.4" lengthAdjust="spacingAndGlyphs">Injuries</text>
<text transform="translate(853.1 1944.5) rotate(-45)" class="xl" text-anchor="end" textLength="56.1" lengthAdjust="spacingAndGlyphs">Health services</text>
</g>
<g>
<text x="912" y="1537.6" class="pl">(H)</text>
<text x="1111" y="1553" class="tt" textLength="433.7" lengthAdjust="spacing">TRIM54 for Phenome-wide association study (UKB continuous traits)</text>
<text x="900.2" y="1562" class="mp">Manhattan plot</text>
<path d="M892 1576H1747.3" stroke="#e1e8ee" stroke-width="1.1"/>
<text x="929.8" y="1593.5" class="yl" textLength="57.6" lengthAdjust="spacingAndGlyphs">-log10 (P-value)</text>
<path d="M1607 1592.8h6.2l-3.1-4.8z" fill="none" stroke="#444" stroke-width="1.15"/>
<text x="1618.3" y="1593.5" class="lg" textLength="48.5" lengthAdjust="spacingAndGlyphs">Effect size &gt; 0</text>
<path d="M1680.9 1587.9h6.2l-3.1 4.8z" fill="none" stroke="#444" stroke-width="1.15"/>
<text x="1692.3" y="1593.5" class="lg" textLength="48.5" lengthAdjust="spacingAndGlyphs">Effect size &lt; 0</text>
<text x="900.2" y="1911" class="yt" textLength="5" lengthAdjust="spacingAndGlyphs">0</text>
<text x="900.2" y="1880.7" class="yt" textLength="5" lengthAdjust="spacingAndGlyphs">2</text>
<text x="900.2" y="1850.3" class="yt" textLength="5" lengthAdjust="spacingAndGlyphs">4</text>
<text x="900.2" y="1820" class="yt" textLength="5" lengthAdjust="spacingAndGlyphs">6</text>
<text x="900.2" y="1789.6" class="yt" textLength="5" lengthAdjust="spacingAndGlyphs">8</text>
<text x="900.2" y="1759.3" class="yt" textLength="10" lengthAdjust="spacingAndGlyphs">10</text>
<text x="900.2" y="1729" class="yt" textLength="10" lengthAdjust="spacingAndGlyphs">12</text>
<text x="900.2" y="1698.6" class="yt" textLength="10" lengthAdjust="spacingAndGlyphs">14</text>
<text x="900.2" y="1668.3" class="yt" textLength="10" lengthAdjust="spacingAndGlyphs">16</text>
<text x="900.2" y="1637.9" class="yt" textLength="10" lengthAdjust="spacingAndGlyphs">18</text>
<text x="900.2" y="1607.6" class="yt" textLength="10" lengthAdjust="spacingAndGlyphs">20</text>
<path d="M930.9 1876.3H1734.7M930.9 1845.9H1734.7M930.9 1815.6H1734.7M930.9 1785.2H1734.7M930.9 1754.9H1734.7M930.9 1724.6H1734.7M930.9 1694.2H1734.7M930.9 1663.9H1734.7M930.9 1633.5H1734.7M930.9 1603.2H1734.7M955.8 1603.1V1932.4M1154.6 1603.1V1932.4M1440.3 1603.1V1932.1M1448.3 1603.1V1935.7M1456.5 1603.1V1938.9M1535.6 1603.1V1938.9M1551.5 1603.1V1938.9M1566.8 1603.1V1938.9M1581.1 1603.1V1938.9M1589.3 1603.1V1941.1M1625.4 1603.1V1941.1M1633.9 1603.1V1943M1706.2 1603.1V1943" stroke="#dfe6ec" stroke-width="1" fill="none"/>
<rect x="931.9" y="1785.2" width="802.8" height="30.3" fill="#f1fafb"/>
<path d="M955.8 1785.2V1815.6M1154.6 1785.2V1815.6M1440.3 1785.2V1815.6M1448.3 1785.2V1815.6M1456.5 1785.2V1815.6M1535.6 1785.2V1815.6M1551.5 1785.2V1815.6M1566.8 1785.2V1815.6M1581.1 1785.2V1815.6M1589.3 1785.2V1815.6M1625.4 1785.2V1815.6M1633.9 1785.2V1815.6M1706.2 1785.2V1815.6" stroke="#dde7ec" stroke-width="1" fill="none"/>
<polyline class="uL" points="1031.5,1868.5 1057.4,1872.5 1022.7,1837.9 1094.4,1865.2 1101.8,1802.9 996.5,1846.4 991,1847.7 1119.6,1866 1041.5,1864.8 1021.1,1861.3 1145.2,1871.5 1073.9,1851.6 981,1874.2 1124.7,1762.9 1029,1870.4 1139.3,1859.1 1006.4,1813.2 1005.6,1603.2 1107.8,1874 1124.7,1711.9 1056.2,1873.4 1136.4,1875.9 1066.7,1866.9 1003.3,1847.4 1003.9,1830.4 1099.7,1873.1 997.6,1824.5 1002.5,1863.3 1010.1,1851.6 1129.7,1866.2 1042.4,1867 1081.7,1864.4 1120.4,1868.1 1071.9,1872.4 971.8,1828.8 1078.6,1875.8 1039.2,1871.6 1062.1,1866 1143.8,1859 1071.9,1843.5 991.4,1870 1105.6,1822.1 1006.7,1715.7 1062.2,1831.4 971.8,1874.5 1063.6,1872.3 1141.8,1867.7 983.6,1866.3 1011.5,1866 1092.8,1819.6 994.5,1839.4 1092.5,1860.8 977,1856.9 1002,1833.2 1078.2,1843.3 962.1,1868.1 986,1867.9 968.4,1852 1019.2,1785.3 1041.8,1865.8 979,1858.5 985.8,1863.4 1039.7,1837 1093.2,1876 969.1,1874.9 1114.1,1875 992.7,1802.7 1017.4,1813.1 1095.8,1793 1114.5,1869.3 1073.5,1859.7 1088.3,1862.1 1127.2,1867.8 970.5,1870.1 1069.6,1797.8 1062.7,1865.3 998.6,1858.2 1008.1,1874.5 1104.2,1855.9 1127.7,1874.9 990.4,1875.6 980.1,1603.2 1013.9,1873.1 1010,1829.7 1026.8,1861.9 1046.9,1834.1 1135,1851.4 1011.7,1874.8 1057.9,1819.6 1004,1784.9 1018.5,1846.1 1015.3,1696 968.4,1659.5 1013.6,1761 1052.1,1871.4 1097.1,1838.9 1047.8,1859.5 1125.7,1608.2 973.8,1876.1 1076.6,1875.5 1103.8,1852.8 1104.1,1861.5 972.6,1810.9 972.7,1804.6 1088.7,1865 1094.3,1851.7 1111.8,1868.1 1097.5,1842.2 1011.7,1849.6 1044.1,1862.1 1139.9,1875 976.8,1869.7 1062.6,1865.2 1028.1,1836.2 996.8,1858.5 1070.4,1849.7 1094.3,1860.2 1054.2,1874 1011.7,1705.3 1014.3,1864.6 995.2,1854.8 1138.9,1866.1 1094.4,1852.9 1090.2,1865.6 1048.9,1872.2 1115.5,1797.4 1095.5,1866.1 1087.3,1659.2 1145.1,1844.4 975.8,1872.4 1078.2,1872.1 1050.1,1852.8 1061.2,1603.2 1097.7,1835.7 1105.8,1801.8 1098.7,1873.2 1013.2,1834.8 1075.4,1860.9 986.4,1824.6 975.4,1875.6 1048,1844.8 1000.1,1833.9 1070.4,1875.6 1033,1863.7 1057.7,1867.5 1147.3,1665 1068.7,1863.6 1040.6,1866.8 1115.6,1637.5 1048.2,1864.6 1030.8,1875 995,1873.3 1036.5,1849.5 1043.4,1862.5 1133,1837.7 1092.3,1840.6 1122.6,1870 1076,1873.9 986,1797 971.4,1852.2 1126.8,1858.5 1136.6,1874.4 1109.9,1857.3 1125.6,1660.8 1138,1850.9 961.9,1874.9 1139.3,1875.8 976,1603.2 1068.9,1874.7 1052.4,1876 983.7,1688.8 1047.3,1755 1057.9,1875.1 1110.3,1874 1146.8,1836.4 988,1813.6 1072.2,1876.1 1130.3,1863.7 1129.1,1684 995.7,1865.1 975.5,1852.1 1093.5,1843 1052,1747.5 1117.3,1875.2 1036,1869.5 964.8,1873.3 978.5,1771.8 1079.4,1863 1070.8,1875.2 1148,1814.1 981.9,1856.6 1030.7,1789.9 994.1,1779.3 1020.3,1855.1 1143.6,1843.9 1022.5,1862 990.1,1875 1058.4,1874 1113.4,1846.4 999.1,1873.3 1065.3,1854.5 1093.5,1868.1 1102.3,1794.7 1092.1,1858.5 990.7,1842.6 999.2,1874.2 1014.3,1628.5 1086.9,1859.1 1028.4,1874.3 1139.5,1871.5 1133.8,1872.5 1056.3,1875.2 994.6,1849.2 976.4,1865.2 1093.2,1842.5 1028.1,1862.1 1066.5,1865.7 978,1863.7 1101.8,1863.1 1011.2,1833.7 1052.1,1871.8 1099.9,1603.2 973,1603.2 975,1810.8 1036.9,1846.7 1002.6,1875.3 1001.5,1855.2 1068.3,1753.8 1117.9,1864.1 1136.7,1873.6 1016.2,1863.9 970.8,1654.3 1007.1,1873.3 1088.5,1871.4 1053.4,1861.8 1017.5,1864.5 1090.3,1838.9 1059.4,1872.4 1121.3,1857.3 1057.5,1871 1048.7,1777.7 1138.7,1856.8 1047.8,1871.1 1051.4,1844.7 993.4,1869.6 1112.6,1867.4 1025.8,1866.7 1015.3,1876.2 1002,1873.2 1145.6,1864.3 1000.8,1768.4 970.4,1866.9 1102.7,1870.7 980.2,1870.9 1063.5,1651 1008,1869.6 988.6,1868 1137.9,1656.3 999.1,1807.3 1007.3,1700.6 1024.5,1842 1094.1,1603.2 973.3,1869.4 979.9,1859.5 1123.3,1858.1 962.4,1856.4 984.4,1868.8 1085.8,1870.7 970.3,1864.2 1001.2,1848.2 1074.4,1868.4 964.5,1870 1018.1,1871.6 962.6,1874 1132.1,1874.9 1142.5,1839.5 1115.6,1829 1013.6,1856.5 1120.2,1873.6 1112.1,1746.8 1121.7,1862.5 991.5,1842.2 1146.7,1794.7 998.1,1872.8 1065.3,1829 1080,1771.5 1026.8,1864.4 1030.4,1823 962.6,1856.5 990.7,1739 1010.7,1866.1 995.4,1867.1 1059.3,1873.5 1128.8,1868.1 1130.1,1756.6 994,1811.6 974.3,1863.9 1005.3,1872.3 992.6,1603.5 979.9,1603.5 979.8,1603.5 1055,1603.5 1055.5,1603.5 1049.8,1603.5 1118.8,1603.5 1128.9,1603.5 1127.6,1603.5 1444.3,1872.2 1465.8,1861.1 1525.7,1874.6 1505.2,1871 1509.6,1861.3 1508.8,1862.7 1527.7,1870.5 1492,1872.6 1495.8,1871 1487.2,1869.7 1519,1874.4 1469.9,1873.1 1486,1875.9 1518.7,1874.8 1505.3,1861.6 1490.6,1874.5 1514.6,1857.7 1519.8,1864.8 1477.4,1874.1 1462.8,1871.5 1481.6,1869.9 1500.2,1857.1 1521.1,1870.8 1529.3,1859.4 1527.1,1866.5 1488.9,1866.9 1514.4,1871.7 1528.8,1865.3 1511.1,1872.8 1463.4,1873.1 1494.5,1875.9 1467.3,1876.2 1506.5,1875 1517.7,1866.6 1464.9,1872.1 1462,1871.8 1512.1,1875.5 1461.4,1875.8 1491.6,1859 1471.7,1850.7 1526.4,1872.2 1498.6,1875.6 1471.8,1869.4 1475,1833.8 1510.8,1869.7 1529.7,1868.7 1499.6,1874.9 1462.2,1872.2 1528.7,1871.2 1481.7,1871.1 1469.2,1866.6 1514,1870.5 1497.8,1838.8 1494.1,1870.7 1505.9,1869.2 1478.8,1860.2 1469.4,1860.9 1482.7,1870.5 1524.5,1875.2 1504.9,1873.4 1468.8,1870.8 1522.1,1875.3 1470.9,1874.2 1485.1,1872.5 1515.2,1861.8 1511.9,1870.5 1496.1,1872.9 1497.9,1871.9 1466.4,1874.7 1495.9,1875 1479.6,1875.9 1489.8,1874.4 1472.7,1875 1483.7,1875.8 1528.3,1845.7 1489,1865.7 1511.2,1863.8 1492.1,1864.5 1483.2,1875.7 1476.7,1876.2 1488.1,1874.3 1483.6,1873.8 1493.5,1871 1486.4,1867.7 1492.6,1875.2 1529.6,1869.3 1522.2,1866.4 1462.1,1875.9 1487.4,1873.9 1486.3,1875.8 1530.9,1853.3 1469,1860.3 1515.8,1862.1 1524.7,1873.4 1474.7,1865.9 1518.6,1874.5 1518,1868.6 1513.9,1874.8 1484.4,1875.6 1522.3,1873.5 1502,1868.6 1480.9,1864.7 1498.3,1873.4 1521.6,1875.1 1468.3,1869.1 1506.9,1872.1 1471.1,1855.9 1508,1856 1485.1,1871.5 1470.2,1869.4 1486.8,1849.8 1463.3,1837.1 1524,1868.7 1493.1,1875.3 1525.2,1867.1 1467.4,1869.9 1501.4,1874.8 1483.3,1858.4 1514.5,1871.6 1530.3,1864.2 1466,1875.2 1481.7,1871 1469.3,1876.1 1483.4,1874.4 1479.4,1865.2 1506.6,1863.2 1525.7,1875.6 1471.5,1867.4 1489.7,1874.3 1494.1,1867 1490.4,1861.7 1493.4,1843 1496.4,1870.2 1475.8,1875.1 1505.3,1871.9 1468.3,1858.2 1468.6,1873.9 1512,1836.2 1507.7,1865 1495.3,1850.7 1467.6,1873.2 1487.9,1875.5 1474.7,1864.2 1530.3,1874.7 1508.2,1869.2 1474.7,1873.5 1481.1,1865.5 1471,1870.1 1504.9,1855 1504.2,1875.3 1490.2,1870.9 1500.1,1873.6 1557.2,1871.6 1556.9,1866.5 1560.5,1873.1 1557.1,1869.7 1556.2,1859 1558.8,1871.4 1562.1,1873.6 1562,1875.3 1556.3,1866.5 1558.6,1874.1 1556.9,1869.5 1722,1873.6 1713.3,1862 1723,1874.6 1728.1,1868.2 1713.9,1869.9 1716.4,1843.1 1720.4,1859.2 1720.6,1870 1725.9,1823.5 1731.7,1787.8 1725.4,1844.3 1719.4,1872.7 1714.8,1872.4 1712,1853.4 1724.6,1874.8 1713.9,1853.5 1726.4,1867.9 1728.9,1849.7 1713.6,1846.1 1732.4,1876.2 1713.3,1770.2 1730.4,1875.6 1714,1833.7 1719.5,1876 1713.3,1873.4 1720.7,1865.9 1721.6,1866.2 1711.1,1869.9 1721.4,1874.2 1728.9,1866.7 1718.2,1859 1719.4,1874.6 1717.2,1861.9 1729.9,1823 1719.3,1872 1724.2,1873.6 1725.5,1874.3 1711.4,1873.8 1710.7,1871.2 1714,1864.8 1732.4,1875.2 1712.2,1866.1 1717.1,1838.9 1726.8,1844.7 1718.8,1870.7 1711.6,1858.3 1727.6,1865.1 1714.1,1874.6 1728.6,1869.1 1712.1,1818.7 1712,1869.7 1728.2,1875.5 1721.8,1858.4 1732.2,1793.2 1629.5,1799"/>
<polyline class="dL" points="987,1859.5 1013.7,1834.3 991.6,1615.9 1126.1,1603.2 1044,1848.3 1031,1863.5 973.6,1763 963.4,1872.2 1101.4,1865.8 1025.2,1849.1 1142.6,1862.4 1009.7,1856 980.2,1871.2 984.6,1871.6 1094.2,1863.7 987.3,1767.1 1122.2,1786.3 1139.1,1827.9 1083.6,1842.4 977.3,1782.4 1125.7,1852.6 1140.6,1867.2 1142.1,1861.4 1092.9,1869 1052.5,1842.9 997.5,1817.4 981.4,1875.7 1144.5,1867.9 965.9,1875.2 1012.9,1660.8 1042.1,1812.3 998.5,1777 1142,1861.3 1095,1865.3 1035.9,1873.7 1035.8,1836.5 1049.2,1873.5 1106,1872.1 1116.6,1860 1073.9,1804.8 1058.3,1874 970.3,1875.4 1021.8,1870.6 1137.6,1830.2 1072.8,1832.5 1022.3,1797.4 962.1,1870.3 992.4,1839.5 1044.2,1870.6 1107.5,1841.2 1015.6,1844.1 1045.5,1839 973.8,1858 1130.7,1627.1 989.1,1834.8 1049.1,1827.9 1029.4,1867.8 1121.8,1873.3 1004.3,1870.7 1139.9,1871.4 1066.9,1838.3 989.4,1781.6 1082.7,1855.9 1048.8,1740.5 968.4,1870.2 1110.9,1868.5 1074.6,1865.3 1089.4,1868.7 1004.8,1843.8 972.9,1874.9 1114.5,1868.4 1023.9,1796.7 1136.6,1859.2 1028.1,1845.8 1037.8,1869 1027.5,1852.8 1005.3,1678.5 1013.4,1857.9 1124.8,1870.4 962.9,1875.7 1014.1,1823.5 1079.7,1867.6 965.2,1847.5 1094.9,1871.1 989.6,1847.3 1089.2,1858.7 1147.7,1834 1114.8,1861 970.2,1865.3 1018.6,1862 1104.9,1845.2 998.3,1826.6 1089.1,1837.5 1005.5,1869.7 1009,1864.2 1016.7,1875.6 990,1859.9 1130,1856.9 963.5,1854.2 1048,1872.7 1010.8,1872.2 989.6,1858.9 1117.9,1863.9 1090.9,1750.8 1122.5,1867.6 1046.8,1740.9 987.3,1603.2 1047.1,1702.8 1130.7,1870.5 968,1603.2 1148,1868.9 1086.6,1856.9 1119.6,1852.3 964.3,1870.9 1040.9,1845.2 1008,1865.5 1149.5,1871.6 1089.5,1866.6 1086.4,1856.1 1133.3,1852.2 1022.9,1871.1 1030.9,1871.2 1114.4,1871.4 1002.5,1688.6 1149.9,1834.7 1028.9,1852.5 1073.9,1847.1 1134.4,1855.1 1133.1,1864.4 1082.1,1871.1 1035.5,1873.4 1003.7,1652.1 1129.4,1696.1 1071,1875.7 1098,1865.6 1011.3,1839.2 1136.2,1864.5 1028.8,1875.5 1060.9,1860.8 1104.1,1869.4 1029.2,1867.7 1056.6,1829.7 1050.6,1827.7 987.9,1865 1088.2,1849.1 976.7,1839.6 1018,1874.8 1131,1873.2 1034,1837.5 1004.8,1865.4 1110.5,1849.3 1037,1869.9 1043.2,1869.7 992.5,1871.3 1050,1851 1043.6,1771 1049.8,1847.5 1021.8,1859.6 1108.1,1862.8 966.3,1852.9 1135.3,1858.4 1000.7,1872.3 1037.6,1859.1 987.3,1866.9 1119.8,1801.3 1019,1876 1093.5,1760.1 1020.7,1654.4 1133.2,1871 1102.3,1709 1030.9,1867.3 962.5,1842.6 1065.8,1845.7 1097.4,1799.7 962.9,1867.8 973.4,1871.6 1064.2,1831.8 1080,1863.5 1040.8,1784.3 1144.7,1852.2 1140.7,1873.7 978.4,1775.2 1144.3,1866.4 1101.7,1797 1120.8,1795 1047.8,1846.4 1139.1,1855.5 968.5,1875.9 970,1680.1 1084.1,1865.7 1102.4,1871.9 1023.8,1861.9 961.9,1866.5 1086.5,1821.6 1004,1871.2 1082.8,1839.6 1062.9,1870.6 1132.2,1875.8 1106.4,1603.2 1115.1,1739.1 1011.5,1858.1 1040.5,1826.8 1058.2,1862.7 990.6,1717.2 1016.8,1869.9 980.4,1850.1 1119.2,1830.9 996,1872 1094.5,1849.1 1047.7,1869.9 1141.8,1875.8 1116.4,1853.6 1064.5,1860.6 962.5,1872.1 1006.1,1835.2 992.5,1873.4 1053.3,1841.9 1090.4,1873.7 1051.9,1780.3 997.9,1825.7 1108.7,1856.1 1032.8,1863.7 1139.3,1870.7 1021,1868.7 1075,1864.2 1143.8,1874.4 1060.2,1865.6 1064.5,1875.5 1097.4,1863.5 985.1,1752.2 1131.5,1844.8 1017.6,1861.1 1120,1625.9 1033.1,1820.1 1002.4,1852.4 1133.7,1871.2 1141.3,1717.6 1092.4,1875.9 1102.9,1865.9 1039.6,1811.7 968.9,1773.7 1083.7,1859.8 987.7,1740.1 1107.2,1854.1 996.6,1874.6 1095.4,1874.3 1111.1,1835 1039,1778.8 965.6,1872.8 1092.6,1861.9 1021.8,1876 1109.2,1833.2 1015.6,1615.2 1062.8,1871.7 1052.9,1873.3 1128.7,1813.8 1136.2,1808.2 996.2,1864.4 989,1723.6 972.8,1836.2 1067.9,1824.4 1128,1800.3 1122.3,1822.1 980.7,1732.3 1103.7,1872.1 1096.2,1862 961.4,1859.2 988.5,1820.3 1027.2,1858.5 1029.8,1855 1013.9,1869.9 1114.5,1873.6 1081.1,1851.7 998.4,1871.1 1077.6,1826.4 1112.7,1804.6 1042.9,1845.9 1114.4,1872.6 995.8,1873.9 1098.3,1872.7 989.4,1849.4 1143.1,1872.6 1121.4,1856.6 1113.8,1629.5 1137.3,1860.2 996.5,1603.2 1055,1603.2 1027.2,1660.4 1056.2,1866.4 1053.7,1872.6 1017.1,1603.5 1026.8,1603.5 1059.5,1603.5 1074.2,1603.5 1007.9,1603.5 968,1603.5 979.2,1603.5 997.1,1603.5 963.2,1603.5 1075.5,1603.5 1041.9,1603.5 972.9,1603.5 1028.3,1603.5 1000.2,1603.5 977.7,1603.5 1066.7,1603.5 967.1,1603.5 1028.2,1603.5 964.2,1603.5 973.7,1603.5 1034.1,1603.5 979,1603.5 1058.7,1603.5 998.4,1603.5 1059.3,1603.5 1048.4,1603.5 1019.6,1603.5 1080.5,1603.5 1055.3,1603.5 994.1,1603.5 982,1603.5 1006.6,1603.5 1054,1603.5 1020.4,1603.5 1118.3,1603.5 1091.7,1603.5 1496.9,1874.2 1516.4,1869.6 1493.2,1875.8 1522.2,1874.1 1493.5,1872.6 1479.7,1866.2 1517.7,1868.2 1509.9,1867.7 1495.1,1867.5 1471,1874.7 1468.1,1871.9 1478.8,1843.6 1471.3,1873.9 1467.4,1869.2 1493.3,1875.1 1485.3,1871.9 1509.6,1873 1515.8,1862 1468.4,1871.9 1517.6,1875.3 1529.5,1862.7 1470.2,1872.3 1521,1870.9 1514.7,1872.4 1529.3,1873.4 1501.2,1867 1514.6,1866.2 1510.7,1874.8 1526.9,1870.2 1482.9,1865.7 1528.8,1860.6 1474.6,1875 1502.4,1870.8 1475.8,1874.4 1467.5,1869 1522.7,1874 1478.9,1868 1498.6,1872 1484.6,1869.1 1490.4,1860.8 1482.7,1857.4 1491.4,1871.5 1499.7,1865.5 1527.5,1864.8 1483.2,1875.8 1507.8,1873.9 1492.8,1861.1 1467,1872.7 1483.5,1873.1 1519.7,1862.1 1473.2,1866.8 1503.2,1869.2 1511.2,1870.7 1520.6,1869 1519.8,1870.4 1504.1,1870.6 1478.6,1870.1 1511.3,1874.3 1513.2,1857.5 1466,1864.5 1490.9,1875.6 1493.1,1875.9 1527,1873.8 1524,1870.9 1475.6,1870.6 1468.2,1870.7 1461.3,1870.6 1467.4,1864.3 1464.6,1876 1479.7,1870.5 1496,1864.4 1519.9,1874.7 1504,1872.9 1471.8,1873 1493.7,1853.7 1512.8,1855.2 1523.5,1873 1527.2,1875.3 1492.4,1863.3 1504.5,1869.3 1527,1870.4 1530.9,1862.9 1467.8,1859 1509.9,1866.8 1503.1,1833.5 1495.5,1875.9 1519.8,1870.4 1561.9,1871.7 1557.8,1871.8 1557.3,1873.9 1558.5,1867 1560.4,1873.3 1557,1868.9 1558.9,1859.3 1561.4,1871.6 1585.2,1856.3 1585.5,1855.2 1712.1,1873.4 1726.5,1860.4 1718.4,1779.3 1718,1861.9 1726.1,1869.1 1716.9,1830.3 1732.5,1868.9 1732.7,1875 1711.4,1867.7 1727,1808.5 1720.2,1860.2 1718.4,1873.9 1729.9,1872.1 1732.6,1869.4 1713.3,1865.2 1711.6,1876.2 1722.4,1868.2 1719.7,1855.5 1721.1,1875.3 1719.2,1831.3 1629.5,1817.5"/>
<polyline class="uP" points="1292.7,1872.9 1393.3,1871.3 1399.1,1870.1 1168.5,1858.9 1343.4,1867.4 1280.6,1847.5 1280.4,1875.1 1412,1874.9 1221,1828.5 1160.5,1862 1346.1,1840.8 1420.8,1875.5 1270.9,1875.8 1322.8,1863.7 1370.1,1838.8 1180.3,1864.9 1429.4,1870.5 1181.1,1875.4 1217.1,1854.1 1192.6,1867 1262.1,1870 1208.6,1867 1323.6,1856.9 1413.9,1862.4 1339.9,1866.2 1411.6,1866.3 1376.8,1871.7 1402.9,1869.3 1300.7,1836.6 1295.2,1868.6 1218.1,1872.1 1330.6,1844.7 1161.5,1693.8 1404,1740.9 1270.9,1867.2 1250.4,1715.7 1379.4,1875.6 1365.2,1852.2 1427.4,1810.4 1265.3,1869.7 1159.2,1873.5 1180.7,1873.3 1307.3,1869.3 1269.4,1874.4 1236.3,1875.8 1169.2,1796.2 1177.7,1871.7 1174.9,1839.1 1386.3,1864.2 1160.1,1875.9 1218.7,1866.1 1312.9,1868.3 1269.8,1726.5 1166.2,1873.1 1419.8,1853.8 1334.3,1866.9 1284.1,1824.3 1339.7,1862.3 1215.7,1850.9 1284.9,1873.1 1179.2,1871.1 1285,1855.5 1276.4,1849.4 1234.7,1874.2 1213.1,1873.6 1317.8,1848.1 1373.3,1861.4 1303.3,1638.9 1361.8,1868.6 1294.2,1865.5 1384.7,1870.5 1417.9,1873.2 1234.5,1875.6 1425.7,1873.7 1277.7,1870.6 1393.3,1804.8 1361.8,1865.8 1200.5,1868.6 1425,1857.9 1302.1,1820.9 1195,1849.4 1211.9,1867.4 1232.8,1873 1355.3,1868.1 1222.2,1863.5 1235.2,1875.7 1327.3,1864.3 1389.5,1700.2 1259.2,1844.3 1195.3,1853 1305.7,1865.6 1370.7,1873.3 1388.8,1833.9 1247.7,1871.5 1247.5,1866.9 1226.2,1854.6 1270.1,1871.3 1427.5,1865.6 1310.4,1852 1218.6,1869.5 1302.8,1853 1258.2,1869.7 1174.8,1869.3 1252.2,1855.7 1273.8,1873.1 1346.6,1742.8 1213.3,1868.4 1411.1,1875.2 1230.1,1876.1 1434.8,1830.2 1166.1,1827.5 1238.6,1804.7 1328.3,1874.7 1311.2,1787.2 1431.6,1870.1 1430.1,1852.2 1421.7,1873.9 1407.2,1868 1222,1863.4 1259.3,1870.8 1267.6,1872.7 1333.6,1855.4 1224.7,1861.5 1411.5,1835.9 1205.7,1874.7 1393.4,1873 1217.5,1846.9 1421.9,1837.9 1256.8,1776.5 1213.4,1806 1177.5,1870.2 1403.7,1855.9 1347.7,1863.9 1404.9,1870.9 1340.4,1836.4 1290.2,1857 1168.2,1873 1374.7,1864.7 1201.1,1865 1162.4,1873.5 1409.6,1874.2 1286.2,1864.7 1182.5,1853.1 1166.4,1865.7 1430,1854 1209.5,1865.8 1218.4,1874 1186.7,1871.3 1189.9,1874.3 1277.4,1855.7 1388,1869.1 1286.2,1859.8 1268.1,1865.5 1276.7,1875.2 1392,1795.7 1415.3,1837.1 1253.5,1859.1 1404.5,1849.5 1219.7,1870.6 1281.6,1861.3 1347,1854.8 1193.5,1826.5 1168.4,1875.7 1359.8,1859 1408.8,1875.8 1218.3,1873.1 1189.3,1832.4 1249.3,1874.8 1430,1807.7 1235.8,1868 1435.3,1862.6 1251.2,1871 1170.6,1875.9 1169.4,1816.2 1296.1,1790.8 1204.8,1854.6 1230.6,1873.6 1242.7,1868.6 1159.8,1764.6 1185.2,1873.9 1320.7,1863.8 1181.3,1841.6 1395,1871.9 1394,1849.3 1296.2,1856.4 1176.5,1849.4 1194.8,1831.2 1431.9,1851 1254.8,1856.3 1388.3,1869.9 1327.6,1830.7 1253.3,1875.2 1318.1,1872.4 1177.3,1863.6 1220.1,1870.1 1384.5,1875.8 1365,1868.4 1305.6,1821.4 1226,1869.6 1313,1832 1233,1858.2 1394.8,1865.3 1179.2,1826.6 1415,1868.4 1289.6,1876.1 1305.8,1867.1 1387,1871.7 1357.1,1861.8 1377,1864 1201.7,1743.9 1357.7,1840.8 1203.4,1860 1191.5,1869.1 1416.4,1856.3 1268.5,1872.9 1253.8,1875.8 1421.5,1861.9 1198.8,1868.8 1297.2,1871.1 1425.5,1873.8 1222.4,1873.6 1372.5,1866.4 1295.9,1863.2 1407.1,1863.8 1398.6,1868.4 1334.3,1865.2 1219.2,1864.4 1258.7,1842.8 1377.4,1819.5 1427.7,1872.4 1385.7,1870.6 1247.7,1873.4 1402.1,1866.7 1385.5,1852.3 1426.3,1843.1 1222.7,1858.2 1277.2,1866.3 1224.6,1870.6 1350.2,1871.6 1177.3,1848.4 1394.1,1870.9 1238,1847.3 1428.1,1773.7 1304.4,1849.5 1265.4,1867.1 1309.7,1869.4 1420.6,1874.3 1361.5,1859.1 1267.8,1866.1 1242.6,1855.3 1321.7,1874.7 1425.5,1846.7 1269.3,1862.8 1250.2,1861.4 1327.6,1853.7 1356.1,1867.8 1239.9,1873.9 1354.5,1868.3 1279.2,1864.4 1184.1,1874.4 1176.7,1874.1 1232.9,1870.8 1209.4,1875.9 1187.4,1871.8 1312.5,1868.9 1424.3,1811.5 1164.3,1873.7 1246.3,1871.7 1417,1859.4 1321.8,1865.6 1199.1,1861.5 1410.8,1776.9 1286,1867.2 1224,1674.4 1393.3,1862.7 1387.4,1834.3 1391.6,1864.1 1238.5,1845.5 1258.4,1861 1256,1816.1 1275.5,1731.1 1267.5,1850 1217.2,1873.2 1333.9,1874.2 1408.6,1873.6 1245.8,1870.3 1180.2,1865 1398.3,1792.8 1323.6,1875.2 1290.1,1868.2 1427.1,1872 1177.9,1867.9 1219.2,1861.6 1377.7,1823 1205.9,1855.2 1198.5,1849 1373.4,1866.5 1307.9,1871.9 1184,1859.3 1303.8,1871.2 1216.4,1873.7 1301.3,1860.4 1328.2,1875.5 1344,1875.8 1245.5,1874.4 1363.5,1860.9 1305.5,1869.6 1270.1,1862.4 1285.1,1874.6 1273.4,1865.6 1300.5,1867.5 1291.1,1874.3 1287.1,1870.3 1187,1863.1 1334.9,1858.3 1301.8,1874.1 1316.7,1872.8 1280.8,1861.6 1197.5,1843.6 1413.6,1822.9 1279.6,1873.2 1284.4,1873.7 1193,1862.7 1342.5,1632 1206.7,1874.7 1203.6,1868.8 1412.4,1723.3 1300.4,1859.7 1194.3,1869.9 1246.5,1869.3 1259.7,1852.8 1390.6,1863.8 1397.9,1844.7 1245.6,1875.6 1366,1860.7 1248.7,1863.5 1173.2,1850.3 1259.5,1876 1365.7,1825.5 1243.5,1866.4 1335.4,1866.7 1362,1876.3 1185.3,1869 1380.5,1869.1 1302.3,1875.5 1191.4,1857.6 1231.8,1859.5 1431.5,1875.5 1343.1,1876 1329.5,1858 1347.8,1798.7 1180.2,1842.8 1216.1,1871.6 1288.1,1803 1244.9,1870.6 1392.6,1875 1179.4,1867.3 1288.1,1874.2 1309.6,1862.8 1172.8,1806.1 1233.2,1871.4 1333.7,1872.6 1339.5,1640.1 1365.8,1855.6 1246.6,1868.6 1253.9,1855.5 1197.3,1853.4 1309.9,1862.8 1207.5,1857.1 1424.6,1856.6 1295.1,1874.7 1343.4,1867.1 1348.9,1870.7 1160.3,1874.8 1331.6,1870.3 1352.8,1853.1 1396,1867.9 1385.9,1872.6 1212.3,1864.7 1356.8,1872.2 1288,1865.3 1186.8,1873.4 1364.4,1875.4 1410.2,1875.5 1341.6,1873.9 1424.7,1869.3 1168,1875.3 1428.5,1871.1 1357.9,1870.6 1290.1,1851.2 1271.7,1875.9 1162.7,1874 1204,1875.2 1224.2,1844.9 1233.1,1865.3 1214.9,1849.4 1274.7,1825.6 1182.4,1849.5 1198.2,1867.3 1255.2,1852.8 1209.3,1849.5 1189,1713.6 1339.8,1871 1428.5,1866.1 1239.9,1873.9 1402.7,1856.5 1279.4,1874.3 1159.8,1871.1 1398.4,1871.9 1305.7,1855.7 1341.9,1869.6 1168.5,1871.6 1226.9,1830.6 1301.4,1850.9 1185.8,1871.1 1382.9,1860.3 1374,1874.6 1383,1855.3 1414,1860.8 1366.2,1859.7 1279.6,1855.2 1281.5,1864.9 1194.3,1859.7 1212.1,1868.9 1223.7,1860.8 1313.3,1851.7 1358.4,1869.5 1180.2,1854.9 1313.1,1875.3 1185.3,1871.5 1348.5,1868.9 1228.2,1876.2 1388.6,1603.2 1229.2,1854.9 1252.7,1866.6 1303.1,1862 1265.5,1869.8 1221.7,1864.7 1288.5,1873.3 1251.5,1870.2 1184.1,1841.3 1331.8,1858.4 1308.9,1870.1 1255.6,1852.3 1221,1813.8 1225.7,1873.3 1159.9,1876 1338,1828.2 1269.7,1872.3 1358.9,1860.3 1169.2,1873.2 1383.7,1860.1 1284,1869.3 1318.1,1873.3 1170.7,1849 1260.8,1862 1254.5,1870.2 1334.2,1871.7 1301.4,1863.4 1199.9,1841.2 1395.4,1851.5 1332.8,1868 1419.1,1865.8 1379.6,1858.2 1432.6,1855.2 1277,1868.2 1216.2,1868.8 1256.5,1774.2 1322.5,1872.1 1364.8,1850.9 1284.4,1858.6 1265.6,1857.2 1166,1848.4 1452.4,1865.1 1544.6,1871.9 1541.4,1868.9 1541.7,1869.6 1546.3,1864.7 1542.8,1869.3 1546.1,1870.9 1544.3,1868.6 1541.4,1857.2 1541.9,1835 1546.2,1872.3 1540.4,1870.8 1547,1868.6 1546.6,1868.9 1544.4,1860.5 1542.3,1872.7 1546.9,1874.7 1544.2,1863.9 1575.5,1868.8 1575.7,1872.8 1573.4,1814.4 1574.6,1867.1 1572.6,1850.4 1576.5,1840.7 1616,1865.6 1595.4,1874.5 1620.6,1866.8 1601.6,1875.1 1608.7,1864.9 1601.8,1872.5 1607.9,1870.6 1605.9,1867.6 1604.8,1874.9 1620.4,1867.4 1603.9,1864.2 1608.1,1865 1611.4,1873.1 1612,1875.6 1597.8,1874.6 1620.9,1858.7 1617.9,1875 1600,1867 1595.5,1873.1 1619.2,1873.4 1613,1872.8 1600.6,1875.2 1602.4,1873 1614.2,1864.7 1614.1,1850.3 1614.9,1871.6 1600.5,1875.9 1598,1865.4 1594.9,1874.5 1616.7,1869.7 1616,1863.7 1606.1,1873.1 1617.6,1870.1 1604.2,1873.3 1618.5,1875.6 1600.1,1868.5 1613,1868.1 1597.7,1871.3 1599.8,1875.2 1598.7,1875.8 1619.6,1875 1618,1875 1599,1869.7 1605.8,1874.9 1616.8,1875.2 1597.6,1873.8 1601.8,1852.1 1608.5,1874.1 1599.4,1872.2 1595.1,1875 1595,1871.5 1601,1875.9 1594.5,1872.2 1611.1,1874 1610.6,1872 1605.1,1875.4 1675.6,1870.9 1643,1868.4 1686.5,1787.3 1700.7,1872.7 1693.5,1869.9 1679,1874.4 1694.1,1875.1 1665.8,1873.2 1647.3,1869.4 1640.2,1869.2 1645,1874.5 1643,1873.1 1673.7,1819.6 1641.4,1788.6 1699.3,1800.8 1647.7,1869.2 1652.5,1828.9 1696,1869.1 1661.3,1874.2 1681.1,1874.5 1679.2,1661 1655.1,1870.5 1681.1,1672.7 1673.8,1603.2 1689.5,1871.8 1692.4,1871.8 1661.9,1871.5 1686.3,1873.7 1684.7,1872.7 1654.2,1819.1 1670.6,1667.2 1664.9,1824.5 1683.9,1785.9 1678.2,1873.1 1645.1,1782.7 1659.4,1649.2 1691.8,1795.8 1695.4,1864 1661.9,1837.3 1661.7,1875.4 1641,1685.7 1680.5,1713.4 1690.7,1873.6 1682,1870.1 1649.4,1655 1696.4,1710.9 1688.1,1873.6 1689.2,1876.1 1685.1,1603.2 1655,1743.8 1667,1875.1 1663.4,1871.9 1667.7,1734.3 1657.4,1833.8 1672.5,1875.2 1681.7,1845 1676.2,1837.2 1682.5,1868.4 1663.8,1854.8 1650.6,1857.5 1660.8,1875.9 1687.8,1757.5 1698.3,1836.2 1660.2,1867.8 1702,1684.1 1700.5,1859.8 1688.1,1843.3 1696,1868.4 1668.6,1875.2 1685,1853.2 1654.1,1873.2 1677.9,1870.5 1662.2,1873.1 1696.4,1865.1 1699.5,1856.1 1647.4,1875.8 1685.3,1866.6 1695.5,1873.9 1669.6,1846.3 1668.4,1837 1659.2,1704.2 1655.2,1875.2 1694.6,1830.2 1692.1,1870.6 1652.2,1695.2 1677.4,1860.9 1655.9,1870.8 1678.7,1679.9 1657.4,1838.4 1686.2,1814.1 1648.9,1874.5 1671.6,1712.2 1700.8,1656 1681.2,1868.6 1652.3,1715 1650.8,1872.6 1686.4,1871.5 1693.4,1871.6 1660.1,1858 1646.5,1874.5 1642.6,1863.9 1695.6,1789.3 1684.1,1871.4 1696,1603.5 1697.5,1603.5 1693.1,1603.5"/>
<polyline class="dP" points="1314.1,1875.5 1311.7,1859 1350.3,1876 1371.3,1858.1 1416.1,1871.1 1385.8,1866.3 1257,1870.6 1186.1,1793.2 1274,1875.8 1231.3,1827.3 1419.2,1875.2 1389.8,1860.8 1376,1873.9 1354.5,1875.2 1408.7,1870.4 1251.6,1866.2 1421.9,1857.1 1375.6,1848.9 1408.1,1874.5 1208.7,1837.9 1253.5,1871.6 1340.6,1856 1178.3,1873.5 1279.4,1819.7 1170.3,1874 1259.6,1862.6 1348.6,1760.3 1175.4,1815.1 1231.4,1864.5 1284.6,1874.9 1198.3,1844.3 1317.4,1808 1406.1,1868 1246.4,1843.9 1291,1866.4 1286.3,1862.4 1177.3,1874.8 1304.4,1871.8 1229.4,1871.7 1243.1,1856.5 1411.7,1836.4 1188.2,1774 1349.6,1873.5 1247,1873.3 1376.1,1855 1322.6,1875 1281.8,1819.7 1184.6,1855.4 1255.7,1868 1240.9,1868.9 1377.5,1868.5 1208,1841.4 1213.9,1873.4 1305.8,1861.7 1169.7,1874.9 1227,1873.9 1299.4,1866.8 1284.7,1867.1 1357.9,1840.1 1179.6,1827.8 1229.1,1864.2 1312.5,1874.1 1263.3,1874.5 1278.7,1872.6 1180.7,1867.4 1346.3,1870.6 1164.7,1875.7 1174.4,1873.1 1382.5,1866.3 1342,1868.7 1167.3,1863.3 1286.1,1839.8 1162.4,1803.1 1314.8,1862.7 1380.6,1688.5 1205.8,1868.9 1430.9,1873.3 1223.8,1874.9 1403.2,1812.5 1278.3,1865.5 1392.9,1850.1 1196.6,1872.8 1390.6,1855.6 1328.3,1874.2 1204.9,1642.8 1246.5,1870.4 1171.7,1790.2 1268.5,1860.4 1291.2,1875.6 1425,1792.9 1392.7,1861.9 1340,1820.7 1204.8,1861.5 1410.4,1827.1 1313.7,1871.5 1228,1717.3 1165.7,1750.5 1318.7,1868.4 1348.5,1873.1 1320.7,1876.1 1350.8,1862.5 1407.1,1871.3 1360.3,1873.8 1306.6,1868.3 1182.2,1868.9 1277.8,1863.3 1376.2,1844 1183.6,1867.8 1372.2,1864 1362.6,1870.2 1170.7,1831.8 1344.9,1849.1 1206.5,1875.8 1178.6,1845 1277.6,1873 1305,1603.2 1164.2,1875.4 1330.1,1805.5 1301.4,1872.5 1329.7,1866.2 1366.7,1874.2 1218.2,1857.8 1168.9,1858.3 1253.7,1869.2 1290.3,1865.9 1385,1865.8 1177.6,1867.4 1208.8,1873.8 1393.9,1874.7 1370.3,1852.9 1339.7,1857.2 1179.8,1874.3 1213.8,1861.6 1265.8,1872.6 1357.6,1871.3 1327.8,1876.2 1211.9,1864.3 1385.6,1863.9 1342.3,1837.1 1423.7,1871.3 1339.6,1868.2 1332.3,1853.1 1322.2,1868 1247.8,1874.3 1406.3,1866.7 1286.1,1875.8 1176.4,1861.8 1373.3,1836.4 1329.6,1714.4 1231.7,1847.6 1208.6,1876 1274.2,1865.3 1297,1875.1 1186.3,1834.7 1220.3,1857.4 1297.8,1870 1220.1,1805.7 1310.9,1875.4 1225.4,1872.1 1192.6,1858.4 1378.2,1872.9 1292.6,1873.3 1216,1868.5 1426.5,1871.4 1310.2,1872.6 1416.1,1867.7 1212.5,1859.7 1290.7,1860.3 1260.1,1869 1228.1,1872.6 1272,1872.6 1373.9,1862.6 1420,1847.9 1258.2,1860.2 1262.8,1872.8 1225.5,1869.8 1354.6,1794 1414.4,1851.2 1391.5,1822.9 1244.6,1870.7 1265.6,1870.8 1363.1,1874.2 1368.8,1874.1 1281.3,1858.3 1354.5,1851.7 1377,1855.4 1428.6,1870.3 1386.5,1875.7 1419.7,1808 1422.2,1850.6 1333.4,1850.6 1278.4,1873.7 1242.4,1774.9 1354.3,1872.1 1189.3,1876.1 1417,1866.4 1190.4,1871.6 1399.6,1868.9 1363.2,1863.2 1431.2,1875.4 1179.6,1874.7 1163.3,1869.9 1392.1,1870.3 1379.8,1869.6 1192.2,1875.5 1191.5,1859.9 1187.4,1872.9 1314.6,1875.2 1242.2,1875.7 1328.1,1863.3 1255.9,1862.2 1238.8,1871 1185.9,1867 1296.5,1858.6 1311.1,1863.7 1185,1860.9 1301.1,1826.4 1259.4,1861.8 1177.8,1844.2 1201.3,1844.1 1206,1842.7 1278.4,1867.9 1220,1850.4 1372.2,1874.5 1420.7,1787.2 1211,1875.8 1310.8,1829.1 1163.4,1864.5 1375.3,1863.4 1309.4,1874.7 1411.5,1870.8 1234.9,1865.3 1300.7,1874.1 1177,1859 1181.2,1856.5 1319.9,1802.4 1357.5,1791 1290.1,1799.8 1369.3,1829.8 1256.6,1874.9 1176.7,1875.6 1200.5,1871.1 1384,1874.5 1432.2,1859.4 1405.1,1869.5 1411.4,1870.4 1239.2,1873.2 1214.7,1875.1 1408.4,1873.9 1344.7,1871.2 1335,1852.8 1243.6,1827.3 1344.1,1699.6 1284.9,1795.3 1390.1,1874.6 1353,1868.5 1404.8,1873.6 1233.1,1846.8 1395.6,1873.2 1312.8,1859.1 1413.2,1859.5 1431.4,1875.5 1203.6,1799 1336.2,1862.8 1201.3,1868.8 1203.9,1875.3 1267.6,1870.1 1172.3,1871.1 1250.3,1860.8 1228.4,1847.9 1417.2,1869.1 1162.7,1865 1223.2,1825.2 1306.8,1779.2 1253.8,1876.2 1393.7,1866.6 1169.5,1871.4 1192.3,1853.6 1364.5,1868.1 1215.7,1876.2 1211.8,1830.3 1275.4,1832 1172.3,1798.2 1304.7,1875.8 1350.9,1866.2 1296.5,1848.9 1296.4,1852.8 1320.2,1875.8 1331.1,1861.2 1243.5,1870.5 1410.4,1875.8 1194.1,1832 1204.2,1862.8 1382.9,1860.2 1225.5,1872.5 1220.3,1871.9 1251.5,1721.5 1241.8,1869.3 1371.2,1854.5 1411.6,1823.8 1215.9,1869.4 1424.4,1854.3 1285.7,1603.5 1198.4,1603.5 1222.1,1603.5 1299.9,1603.5 1394.9,1603.5 1543.3,1858.8 1541.6,1839.1 1543.5,1864 1540.4,1867.2 1575.4,1857.7 1574.1,1866.7 1574.2,1872.5 1574.7,1875 1575.5,1855.7 1574.1,1860.8 1574.8,1859.1 1596.8,1875.7 1599.4,1872 1619.7,1865.9 1601.2,1870.8 1610.3,1828.9 1617.3,1872.9 1620.6,1875.8 1594.3,1876 1605.3,1869 1601.3,1865.5 1614.5,1874.4 1610.3,1860.5 1608.7,1876 1598.7,1864.8 1606.6,1870.8 1617.8,1873.9 1596.4,1867.8 1596.4,1854.2 1616.3,1876.2 1620.1,1863.7 1597.8,1870 1610,1872.3 1617.4,1870.1 1601.7,1873.8 1607.6,1872 1613.7,1871.9 1612.7,1870.3 1601.9,1871.8 1604.4,1866.1 1599.2,1861.6 1613.9,1858.2 1602.5,1856.1 1605.1,1874.2 1615.8,1872 1607.5,1854.2 1598.7,1875.9 1620.7,1874.5 1612.6,1874.3 1604.3,1861.9 1601.5,1872.6 1617.8,1858.8 1605.7,1873 1686.4,1852.8 1655.4,1872.4 1646.6,1777.3 1656.4,1871.7 1687.4,1875.5 1676.4,1874 1693.3,1839 1680.7,1862.7 1689.4,1867.4 1655.3,1874.6 1688.9,1875.2 1668.6,1875.3 1675.2,1864.3 1670.3,1772.7 1689,1876.1 1669.2,1779.9 1695.2,1869.6 1680.2,1875.6 1655.2,1603.2 1660.1,1870.9 1640.7,1855.4 1656.4,1860.3 1694.6,1858.9 1670.7,1875.5 1683.4,1872.4 1680.9,1856.9 1697,1772.8 1675.2,1823.2 1644.8,1870.3 1688,1869.9 1679.9,1782.1 1640.9,1873.9 1652.9,1754 1693.6,1794.4 1690.7,1665.3 1650.9,1874.1 1684.6,1876.3 1675,1825.8 1682.4,1875.7 1697.5,1831.6 1676,1847.3 1658.2,1873.6 1695.4,1646.6 1641.3,1857.1 1643.2,1870 1690.1,1778.1 1680.7,1848 1659.4,1859.7 1671,1875.6 1682,1777.9 1660.2,1839.7 1681.3,1868.2 1644.8,1851.1 1680.4,1866 1674.1,1870.5 1663.7,1869.2 1698.7,1872.4 1695,1860.9 1695.1,1873.9 1693.8,1839 1668,1875.6 1690,1782.7 1668.9,1872.7 1638.9,1849.9 1674.7,1876.1 1684.3,1861.7 1643.8,1867.2 1647.9,1603.2 1695.8,1867.3 1658.5,1851.3 1669.1,1864.9 1659.2,1870.2 1669.7,1751.8 1687.2,1875 1649.1,1876.2 1693.1,1873.6 1699.5,1833.9 1685.4,1757.1 1643.8,1875.1 1683.3,1874.9 1701.2,1876.1 1695.5,1861.1 1696.3,1874.5 1700.9,1871 1689.5,1870.1 1679,1874.6 1694.9,1871.4 1687.5,1603.5 1693.3,1603.5 1701.5,1603.5 1694.6,1603.5 1688.3,1603.5 1690.2,1603.5 1574,1779 1573.5,1803"/>
<path d="M932.9 1785.2H1734.7M932.9 1815.6H1734.7" stroke="#2f5878" stroke-width="1.35" stroke-dasharray="4.2 5" fill="none"/>
<path d="M931.2 1603.1V1906.8H1745.4" stroke="#c6d4df" stroke-width="2.6" fill="none"/>
<rect x="1734.7" y="1891" width="10.7" height="14.6" fill="#f3f3f3"/>
<rect x="1734.7" y="1599.3" width="10.7" height="291.7" fill="#c8c8c8"/>
<path d="M1737.5 1902l2.6 2.6l2.6-2.6" stroke="#333" stroke-width="1.3" fill="none"/>
<rect x="897.5" y="1778.7" width="30.6" height="13" rx="3" fill="#8a1b61"/>
<text x="901.1" y="1788.7" class="bd" textLength="5" lengthAdjust="spacingAndGlyphs">8</text>
<circle cx="920.5" cy="1785.2" r="3.6" fill="none" stroke="#e9cfe0" stroke-width=".7"/>
<path d="M920.5 1784.6v2.6M920.5 1783v.8" stroke="#e9cfe0" stroke-width=".8"/>
<rect x="897.5" y="1809.1" width="30.6" height="13" rx="3" fill="#8a1b61"/>
<text x="901.1" y="1819.1" class="bd" textLength="5" lengthAdjust="spacingAndGlyphs">6</text>
<circle cx="920.5" cy="1815.6" r="3.6" fill="none" stroke="#e9cfe0" stroke-width=".7"/>
<path d="M920.5 1815v2.6M920.5 1813.4v.8" stroke="#e9cfe0" stroke-width=".8"/>
<text x="1745.4" y="1917.6" class="pc" text-anchor="end" textLength="79.3" lengthAdjust="spacingAndGlyphs">Phenotypic Categories</text>
<text transform="translate(955.2 1940.4) rotate(-45)" class="xl" text-anchor="end" textLength="71.5" lengthAdjust="spacingAndGlyphs">NMR Metabolomics</text>
<text transform="translate(1154 1940.4) rotate(-45)" class="xl" text-anchor="end" textLength="41" lengthAdjust="spacingAndGlyphs">Proteomics</text>
<text transform="translate(1439.7 1940.1) rotate(-45)" class="xl" text-anchor="end" textLength="35.1" lengthAdjust="spacingAndGlyphs">Infectious</text>
<text transform="translate(1447.7 1943.7) rotate(-45)" class="xl" text-anchor="end" textLength="41" lengthAdjust="spacingAndGlyphs">Neoplasms</text>
<text transform="translate(1455.9 1946.9) rotate(-45)" class="xl" text-anchor="end" textLength="30.5" lengthAdjust="spacingAndGlyphs">Nervous</text>
<text transform="translate(1535 1946.9) rotate(-45)" class="xl" text-anchor="end" textLength="14.1" lengthAdjust="spacingAndGlyphs">Eye</text>
<text transform="translate(1550.9 1946.9) rotate(-45)" class="xl" text-anchor="end" textLength="54.7" lengthAdjust="spacingAndGlyphs">Cardiovascular</text>
<text transform="translate(1566.2 1946.9) rotate(-45)" class="xl" text-anchor="end" textLength="41.9" lengthAdjust="spacingAndGlyphs">Respiratory</text>
<text transform="translate(1580.5 1946.9) rotate(-45)" class="xl" text-anchor="end" textLength="33.7" lengthAdjust="spacingAndGlyphs">Digestive</text>
<text transform="translate(1588.7 1949.1) rotate(-45)" class="xl" text-anchor="end" textLength="58.3" lengthAdjust="spacingAndGlyphs">Musculoskeletal</text>
<text transform="translate(1624.8 1949.1) rotate(-45)" class="xl" text-anchor="end" textLength="50.1" lengthAdjust="spacingAndGlyphs">Urinary/Renal</text>
<text transform="translate(1633.3 1951) rotate(-45)" class="xl" text-anchor="end" textLength="44.2" lengthAdjust="spacingAndGlyphs">Lab findings</text>
<text transform="translate(1705.6 1951) rotate(-45)" class="xl" text-anchor="end" textLength="56.1" lengthAdjust="spacingAndGlyphs">Health services</text>
</g>
<g>
<text x="10.4" y="2035.6" class="pl">(I)</text>
<g fill="none" stroke-linecap="butt">
<path d="M287 2204.3L188.4 2277.9" stroke="#dfe4c4" stroke-width="6" stroke-opacity=".85"/>
<path d="M287 2204.3L375.7 2178.5" stroke="#dfe4c4" stroke-width="7" stroke-opacity=".85"/>
<path d="M221.8 2212.2L375.7 2178.5" stroke="#dfe4c4" stroke-width="5" stroke-opacity=".85"/>
<path d="M287 2204.3L221.8 2212.2" stroke="#dfe4c4" stroke-width="4" stroke-opacity=".85"/>
<path d="M329.4 2104.3L287 2204.3" stroke="#dfe4c4" stroke-width="1.5" stroke-opacity=".85"/>
<path d="M329.4 2104.3L221.8 2212.2" stroke="#dfe4c4" stroke-width="1.5" stroke-opacity=".85"/>
<path d="M329.4 2104.3L375.7 2178.5" stroke="#dfe4c4" stroke-width="1.5" stroke-opacity=".85"/>
<path d="M329.4 2104.3L403.9 2263.4" stroke="#dfe4c4" stroke-width="1.5" stroke-opacity=".85"/>
<path d="M329.4 2104.3L301.2 2319" stroke="#dfe4c4" stroke-width="1.5" stroke-opacity=".85"/>
<path d="M329.4 2104.3L386.1 2331.3" stroke="#dfe4c4" stroke-width="1.5" stroke-opacity=".85"/>
<path d="M329.4 2104.3L256.6 2278.8" stroke="#dfe4c4" stroke-width="1.5" stroke-opacity=".85"/>
<path d="M329.4 2104.3L342.3 2277.4" stroke="#dfe4c4" stroke-width="1.5" stroke-opacity=".85"/>
<path d="M329.4 2104.3L260.1 2346.4" stroke="#dfe4c4" stroke-width="1.5" stroke-opacity=".85"/>
<path d="M375.7 2178.5L403.9 2263.4" stroke="#dfe4c4" stroke-width="1.5" stroke-opacity=".85"/>
<path d="M375.7 2178.5L301.2 2319" stroke="#dfe4c4" stroke-width="1.5" stroke-opacity=".85"/>
<path d="M375.7 2178.5L386.1 2331.3" stroke="#dfe4c4" stroke-width="1.5" stroke-opacity=".85"/>
<path d="M375.7 2178.5L256.6 2278.8" stroke="#dfe4c4" stroke-width="1.5" stroke-opacity=".85"/>
<path d="M375.7 2178.5L342.3 2277.4" stroke="#dfe4c4" stroke-width="1.5" stroke-opacity=".85"/>
<path d="M375.7 2178.5L260.1 2346.4" stroke="#dfe4c4" stroke-width="1.5" stroke-opacity=".85"/>
<path d="M375.7 2178.5L188.4 2277.9" stroke="#dfe4c4" stroke-width="1.5" stroke-opacity=".85"/>
<path d="M287 2204.3L403.9 2263.4" stroke="#dfe4c4" stroke-width="1.5" stroke-opacity=".85"/>
<path d="M287 2204.3L301.2 2319" stroke="#dfe4c4" stroke-width="1.5" stroke-opacity=".85"/>
<path d="M287 2204.3L386.1 2331.3" stroke="#dfe4c4" stroke-width="1.5" stroke-opacity=".85"/>
<path d="M287 2204.3L256.6 2278.8" stroke="#dfe4c4" stroke-width="1.5" stroke-opacity=".85"/>
<path d="M287 2204.3L342.3 2277.4" stroke="#dfe4c4" stroke-width="1.5" stroke-opacity=".85"/>
<path d="M287 2204.3L260.1 2346.4" stroke="#dfe4c4" stroke-width="1.5" stroke-opacity=".85"/>
<path d="M221.8 2212.2L403.9 2263.4" stroke="#dfe4c4" stroke-width="1.5" stroke-opacity=".85"/>
<path d="M221.8 2212.2L301.2 2319" stroke="#dfe4c4" stroke-width="1.5" stroke-opacity=".85"/>
<path d="M221.8 2212.2L386.1 2331.3" stroke="#dfe4c4" stroke-width="1.5" stroke-opacity=".85"/>
<path d="M221.8 2212.2L256.6 2278.8" stroke="#dfe4c4" stroke-width="1.5" stroke-opacity=".85"/>
<path d="M221.8 2212.2L342.3 2277.4" stroke="#dfe4c4" stroke-width="1.5" stroke-opacity=".85"/>
<path d="M221.8 2212.2L260.1 2346.4" stroke="#dfe4c4" stroke-width="1.5" stroke-opacity=".85"/>
<path d="M221.8 2212.2L188.4 2277.9" stroke="#dfe4c4" stroke-width="1.5" stroke-opacity=".85"/>
<path d="M188.4 2277.9L256.6 2278.8" stroke="#dfe4c4" stroke-width="2" stroke-opacity=".85"/>
<path d="M188.4 2277.9L342.3 2277.4" stroke="#dfe4c4" stroke-width="2" stroke-opacity=".85"/>
<path d="M188.4 2277.9L403.9 2263.4" stroke="#dfe4c4" stroke-width="2" stroke-opacity=".85"/>
<path d="M188.4 2277.9L301.2 2319" stroke="#dfe4c4" stroke-width="2" stroke-opacity=".85"/>
<path d="M188.4 2277.9L386.1 2331.3" stroke="#dfe4c4" stroke-width="2" stroke-opacity=".85"/>
<path d="M188.4 2277.9L260.1 2346.4" stroke="#dfe4c4" stroke-width="2" stroke-opacity=".85"/>
<path d="M403.9 2263.4L301.2 2319" stroke="#dfe4c4" stroke-width="3" stroke-opacity=".85"/>
<path d="M403.9 2263.4L386.1 2331.3" stroke="#dfe4c4" stroke-width="3" stroke-opacity=".85"/>
<path d="M301.2 2319L386.1 2331.3" stroke="#dfe4c4" stroke-width="3" stroke-opacity=".85"/>
<path d="M256.6 2278.8L342.3 2277.4" stroke="#dfe4c4" stroke-width="3" stroke-opacity=".85"/>
<path d="M256.6 2278.8L260.1 2346.4" stroke="#dfe4c4" stroke-width="3" stroke-opacity=".85"/>
<path d="M342.3 2277.4L260.1 2346.4" stroke="#dfe4c4" stroke-width="3" stroke-opacity=".85"/>
<path d="M260.1 2346.4L386.1 2331.3" stroke="#dfe4c4" stroke-width="4.5" stroke-opacity=".85"/>
<path d="M260.1 2346.4L403.9 2263.4" stroke="#dfe4c4" stroke-width="3" stroke-opacity=".85"/>
<path d="M256.6 2278.8L403.9 2263.4" stroke="#dfe4c4" stroke-width="2" stroke-opacity=".85"/>
<path d="M342.3 2277.4L403.9 2263.4" stroke="#dfe4c4" stroke-width="2" stroke-opacity=".85"/>
<path d="M342.3 2277.4L386.1 2331.3" stroke="#dfe4c4" stroke-width="2" stroke-opacity=".85"/>
<path d="M342.3 2277.4L301.2 2319" stroke="#dfe4c4" stroke-width="2" stroke-opacity=".85"/>
<path d="M256.6 2278.8L386.1 2331.3" stroke="#dfe4c4" stroke-width="2" stroke-opacity=".85"/>
<path d="M256.6 2278.8L301.2 2319" stroke="#dfe4c4" stroke-width="2" stroke-opacity=".85"/>
<path d="M260.1 2346.4L301.2 2319" stroke="#dfe4c4" stroke-width="2" stroke-opacity=".85"/>
<path d="M151.2 2066.5L203.2 2113.1" stroke="#f1dbb4" stroke-width="3.5" stroke-opacity=".85"/>
<path d="M151.2 2066.5L150.1 2146.5" stroke="#f1dbb4" stroke-width="3.5" stroke-opacity=".85"/>
<path d="M150.1 2146.5L203.2 2113.1" stroke="#f1dbb4" stroke-width="3.5" stroke-opacity=".85"/>
<path d="M150.1 2146.5L287 2204.3" stroke="#f1dbb4" stroke-width="3" stroke-opacity=".85"/>
<path d="M203.2 2113.1L287 2204.3" stroke="#f1dbb4" stroke-width="2" stroke-opacity=".85"/>
<path d="M342.3 2277.4L260.1 2346.4" stroke="#f1dbb4" stroke-width="2" stroke-opacity=".85"/>
<path d="M188.4 2277.9L23.3 2445.8" stroke="#e9b9c0" stroke-width="3.2" stroke-opacity=".85"/>
<path d="M188.4 2277.9L104.1 2344.2" stroke="#e9b9c0" stroke-width="3.2" stroke-opacity=".85"/>
<path d="M188.4 2277.9L54.8 2238.2" stroke="#e9b9c0" stroke-width="2" stroke-opacity=".85"/>
<path d="M188.4 2277.9L150.1 2146.5" stroke="#e9b9c0" stroke-width="2.5" stroke-opacity=".85"/>
<path d="M188.4 2277.9L203.2 2113.1" stroke="#e9b9c0" stroke-width="1.5" stroke-opacity=".85"/>
<path d="M188.4 2277.9L151.2 2066.5" stroke="#e9b9c0" stroke-width="2.5" stroke-opacity=".85"/>
<path d="M151.2 2066.5L287 2204.3" stroke="#e9b9c0" stroke-width="2" stroke-opacity=".85"/>
<path d="M203.2 2113.1L287 2204.3" stroke="#e9b9c0" stroke-width="2" stroke-opacity=".85"/>
<path d="M150.1 2146.5L287 2204.3" stroke="#e9b9c0" stroke-width="1.5" stroke-opacity=".85"/>
<path d="M150.1 2146.5L151.2 2066.5" stroke="#e9b9c0" stroke-width="1.5" stroke-opacity=".85"/>
<path d="M203.2 2113.1L151.2 2066.5" stroke="#e9b9c0" stroke-width="1.5" stroke-opacity=".85"/>
<path d="M150.1 2146.5L203.2 2113.1" stroke="#e9b9c0" stroke-width="1.5" stroke-opacity=".85"/>
<path d="M151.2 2066.5L256.6 2278.8" stroke="#e9b9c0" stroke-width="1.5" stroke-opacity=".85"/>
<path d="M203.2 2113.1L256.6 2278.8" stroke="#e9b9c0" stroke-width="1.5" stroke-opacity=".85"/>
<path d="M150.1 2146.5L256.6 2278.8" stroke="#e9b9c0" stroke-width="1.5" stroke-opacity=".85"/>
<path d="M203.2 2113.1L301.2 2319" stroke="#e9b9c0" stroke-width="1.2" stroke-opacity=".85"/>
<path d="M151.2 2066.5L342.3 2277.4" stroke="#e9b9c0" stroke-width="1.2" stroke-opacity=".85"/>
<path d="M287 2204.3L342.3 2277.4" stroke="#e9b9c0" stroke-width="1.5" stroke-opacity=".85"/>
<path d="M188.4 2277.9L308.9 2441.7" stroke="#e9b9c0" stroke-width="1.5" stroke-opacity=".85"/>
<path d="M260.1 2346.4L370.2 2445.8" stroke="#e9b9c0" stroke-width="1.5" stroke-opacity=".85"/>
<path d="M256.6 2278.8L301.2 2319" stroke="#e9b9c0" stroke-width="1.5" stroke-opacity=".85"/>
<path d="M221.8 2212.2L256.6 2278.8" stroke="#e9b9c0" stroke-width="1.2" stroke-opacity=".85"/>
<path d="M150.1 2146.5L301.2 2319" stroke="#e9b9c0" stroke-width="1.2" stroke-opacity=".85"/>
<path d="M188.4 2277.9L104.1 2344.2" stroke="#c3ecc3" stroke-width=".8" stroke-opacity=".85"/>
<path d="M221.8 2212.2L167.9 2398.4" stroke="#c3ecc3" stroke-width=".8" stroke-opacity=".85"/>
<path d="M287 2204.3L167.9 2398.4" stroke="#c3ecc3" stroke-width=".8" stroke-opacity=".85"/>
<path d="M104.1 2344.2L207.6 2476.5" stroke="#c3ecc3" stroke-width=".8" stroke-opacity=".85"/>
<path d="M167.9 2398.4L207.6 2476.5" stroke="#c3ecc3" stroke-width=".8" stroke-opacity=".85"/>
<path d="M256.6 2278.8L207.6 2476.5" stroke="#c3ecc3" stroke-width=".8" stroke-opacity=".85"/>
<path d="M188.4 2277.9L167.9 2398.4" stroke="#c3ecc3" stroke-width=".8" stroke-opacity=".85"/>
<path d="M221.8 2212.2L104.1 2344.2" stroke="#c3ecc3" stroke-width=".8" stroke-opacity=".85"/>
<path d="M151.2 2066.5L54.8 2238.2" stroke="#d8cee8" stroke-width="1" stroke-opacity=".85"/>
<path d="M54.8 2238.2L167.9 2398.4" stroke="#d8cee8" stroke-width="1" stroke-opacity=".85"/>
<path d="M104.1 2344.2L301.2 2319" stroke="#d8cee8" stroke-width="1" stroke-opacity=".85"/>
<path d="M188.4 2277.9L207.6 2476.5" stroke="#d8cee8" stroke-width="1" stroke-opacity=".85"/>
<path d="M386.1 2331.3L370.2 2445.8" stroke="#d8cee8" stroke-width="1" stroke-opacity=".85"/>
<path d="M403.9 2263.4L370.2 2445.8" stroke="#d8cee8" stroke-width="1" stroke-opacity=".85"/>
<path d="M301.2 2319L308.9 2441.7" stroke="#d8cee8" stroke-width="1" stroke-opacity=".85"/>
<path d="M308.9 2441.7L370.2 2445.8" stroke="#d8cee8" stroke-width="1" stroke-opacity=".85"/>
<path d="M207.6 2476.5L370.2 2445.8" stroke="#d8cee8" stroke-width="1" stroke-opacity=".85"/>
<path d="M188.4 2277.9L167.9 2398.4" stroke="#d8cee8" stroke-width="1" stroke-opacity=".85"/>
<path d="M54.8 2238.2L256.6 2278.8" stroke="#c6cfec" stroke-width="1" stroke-opacity=".85"/>
<path d="M188.4 2277.9L207.6 2476.5" stroke="#c6cfec" stroke-width="1.2" stroke-opacity=".85"/>
<path d="M167.9 2398.4L207.6 2476.5" stroke="#c6cfec" stroke-width="1" stroke-opacity=".85"/>
</g>
<circle cx="151.2" cy="2066.5" r="13.7" fill="#4d4d4d"/>
<circle cx="203.2" cy="2113.1" r="11" fill="#4d4d4d"/>
<circle cx="150.1" cy="2146.5" r="13" fill="#4d4d4d"/>
<circle cx="329.4" cy="2104.3" r="9" fill="#4d4d4d"/>
<circle cx="375.7" cy="2178.5" r="9" fill="#4d4d4d"/>
<circle cx="287" cy="2204.3" r="21.9" fill="#4d4d4d"/>
<circle cx="221.8" cy="2212.2" r="9" fill="#4d4d4d"/>
<circle cx="54.8" cy="2238.2" r="10.4" fill="#4d4d4d"/>
<circle cx="188.4" cy="2277.9" r="21.9" fill="url(#hatch)"/>
<circle cx="256.6" cy="2278.8" r="9.6" fill="#4d4d4d"/>
<circle cx="342.3" cy="2277.4" r="9.6" fill="#4d4d4d"/>
<circle cx="403.9" cy="2263.4" r="9" fill="#4d4d4d"/>
<circle cx="301.2" cy="2319" r="9.6" fill="#4d4d4d"/>
<circle cx="386.1" cy="2331.3" r="9.6" fill="#4d4d4d"/>
<circle cx="260.1" cy="2346.4" r="9.6" fill="#4d4d4d"/>
<circle cx="104.1" cy="2344.2" r="13.7" fill="#4d4d4d"/>
<circle cx="167.9" cy="2398.4" r="9" fill="#4d4d4d"/>
<circle cx="23.3" cy="2445.8" r="13.7" fill="#4d4d4d"/>
<circle cx="308.9" cy="2441.7" r="9" fill="#4d4d4d"/>
<circle cx="370.2" cy="2445.8" r="9" fill="#4d4d4d"/>
<circle cx="207.6" cy="2476.5" r="9.6" fill="#4d4d4d"/>
<text x="151.2" y="2069.1" class="nl">PACSIN3</text>
<text x="203.2" y="2115.7" class="nl">PACSIN2</text>
<text x="150.1" y="2149.1" class="nl">PACSIN1</text>
<text x="329.4" y="2106.9" class="nl">AC207582.2</text>
<text x="375.7" y="2181.1" class="nl">WHAMM</text>
<text x="287" y="2206.9" class="nl">COBL</text>
<text x="221.8" y="2214.8" class="nl">JMY</text>
<text x="54.8" y="2240.8" class="nl">FAM117A</text>
<text x="188.4" y="2280.5" class="nl">COBLL1</text>
<text x="256.6" y="2281.4" class="nl">WIPF1</text>
<text x="342.3" y="2280" class="nl">WIPF2</text>
<text x="403.9" y="2266" class="nl">WASF1</text>
<text x="301.2" y="2321.6" class="nl">WASF2</text>
<text x="386.1" y="2333.9" class="nl">WASF3</text>
<text x="260.1" y="2349" class="nl">WIPF3</text>
<text x="104.1" y="2346.8" class="nl">NRDC</text>
<text x="167.9" y="2401" class="nl">MAN1C1</text>
<text x="23.3" y="2448.4" class="nl">ASMTL</text>
<text x="308.9" y="2444.3" class="nl">ADNP2</text>
<text x="370.2" y="2448.4" class="nl">SPAG1</text>
<text x="207.6" y="2479.1" class="nl">MORC4</text>
</g>
<g>
<text x="460" y="2035.6" class="pl">(J)</text>
<g fill="none" stroke-linecap="butt">
<path d="M668.9 2283.4L639.9 2375.1" stroke="#c8edee" stroke-width="6" stroke-opacity=".85"/>
<path d="M668.9 2283.4L700.1 2370.5" stroke="#c8edee" stroke-width="6" stroke-opacity=".85"/>
<path d="M668.9 2283.4L822 2444.4" stroke="#f1dbb4" stroke-width="6" stroke-opacity=".85"/>
<path d="M826.6 2181.3L668.9 2283.4" stroke="#f1dbb4" stroke-width="1.5" stroke-opacity=".85"/>
<path d="M667.3 2197.7L839.8 2210" stroke="#f1dbb4" stroke-width="1.5" stroke-opacity=".85"/>
<path d="M756.8 2356L856.8 2353.2" stroke="#f1dbb4" stroke-width="1.2" stroke-opacity=".85"/>
<path d="M700.1 2370.5L639.9 2375.1" stroke="#f1dbb4" stroke-width="2.5" stroke-opacity=".85"/>
<path d="M505.7 2208.1L489.3 2303.9" stroke="#dfe4c4" stroke-width="1.5" stroke-opacity=".85"/>
<path d="M489.3 2303.9L466.6 2398.4" stroke="#dfe4c4" stroke-width="1.5" stroke-opacity=".85"/>
<path d="M600.2 2229.5L613.1 2465.5" stroke="#dfe4c4" stroke-width="2.5" stroke-opacity=".85"/>
<path d="M639.9 2375.1L613.1 2465.5" stroke="#dfe4c4" stroke-width="2" stroke-opacity=".85"/>
<path d="M700.1 2370.5L639.9 2375.1" stroke="#dfe4c4" stroke-width="2" stroke-opacity=".85"/>
<path d="M668.9 2283.4L639.9 2375.1" stroke="#dfe4c4" stroke-width="2" stroke-opacity=".85"/>
<path d="M600.2 2229.5L668.9 2283.4" stroke="#dfe4c4" stroke-width="1.5" stroke-opacity=".85"/>
<path d="M668.9 2283.4L582.9 2106.8" stroke="#e9b9c0" stroke-width="3" stroke-opacity=".85"/>
<path d="M668.9 2283.4L489.3 2303.9" stroke="#e9b9c0" stroke-width="4" stroke-opacity=".85"/>
<path d="M668.9 2283.4L567.3 2304.8" stroke="#e9b9c0" stroke-width="2" stroke-opacity=".85"/>
<path d="M668.9 2283.4L466.6 2398.4" stroke="#e9b9c0" stroke-width="2.5" stroke-opacity=".85"/>
<path d="M668.9 2283.4L789.9 2279.3" stroke="#e9b9c0" stroke-width="4" stroke-opacity=".85"/>
<path d="M668.9 2283.4L826.6 2181.3" stroke="#e9b9c0" stroke-width="2" stroke-opacity=".85"/>
<path d="M668.9 2283.4L839.8 2210" stroke="#e9b9c0" stroke-width="2.5" stroke-opacity=".85"/>
<path d="M668.9 2283.4L667.3 2197.7" stroke="#e9b9c0" stroke-width="2" stroke-opacity=".85"/>
<path d="M668.9 2283.4L739.3 2217.1" stroke="#e9b9c0" stroke-width="1.5" stroke-opacity=".85"/>
<path d="M668.9 2283.4L710.3 2138.3" stroke="#e9b9c0" stroke-width="1.5" stroke-opacity=".85"/>
<path d="M658.2 2069.8L667.3 2197.7" stroke="#e9b9c0" stroke-width="1.2" stroke-opacity=".85"/>
<path d="M668.9 2283.4L756.8 2356" stroke="#e9b9c0" stroke-width="2.5" stroke-opacity=".85"/>
<path d="M668.9 2283.4L700.1 2370.5" stroke="#e9b9c0" stroke-width="2" stroke-opacity=".85"/>
<path d="M668.9 2283.4L639.9 2375.1" stroke="#e9b9c0" stroke-width="1.5" stroke-opacity=".85"/>
<path d="M667.3 2197.7L826.6 2181.3" stroke="#e9b9c0" stroke-width="3.5" stroke-opacity=".85"/>
<path d="M667.3 2197.7L839.8 2210" stroke="#e9b9c0" stroke-width="3.5" stroke-opacity=".85"/>
<path d="M826.6 2181.3L839.8 2210" stroke="#e9b9c0" stroke-width="6" stroke-opacity=".85"/>
<path d="M826.6 2181.3L789.9 2279.3" stroke="#e9b9c0" stroke-width="1.5" stroke-opacity=".85"/>
<path d="M839.8 2210L789.9 2279.3" stroke="#e9b9c0" stroke-width="3" stroke-opacity=".85"/>
<path d="M839.8 2210L856.8 2353.2" stroke="#e9b9c0" stroke-width="1.2" stroke-opacity=".85"/>
<path d="M489.3 2303.9L700.1 2370.5" stroke="#e9b9c0" stroke-width="1.2" stroke-opacity=".85"/>
<path d="M489.3 2303.9L639.9 2375.1" stroke="#e9b9c0" stroke-width="1.2" stroke-opacity=".85"/>
<path d="M489.3 2303.9L567.3 2304.8" stroke="#e9b9c0" stroke-width="2.5" stroke-opacity=".85"/>
<path d="M489.3 2303.9L789.9 2279.3" stroke="#e9b9c0" stroke-width="1.5" stroke-opacity=".85"/>
<path d="M567.3 2304.8L710.3 2138.3" stroke="#e9b9c0" stroke-width="1.5" stroke-opacity=".85"/>
<path d="M567.3 2304.8L667.3 2197.7" stroke="#e9b9c0" stroke-width="1.5" stroke-opacity=".85"/>
<path d="M567.3 2304.8L739.3 2217.1" stroke="#e9b9c0" stroke-width="1.2" stroke-opacity=".85"/>
<path d="M466.6 2398.4L567.3 2304.8" stroke="#e9b9c0" stroke-width="1.5" stroke-opacity=".85"/>
<path d="M466.6 2398.4L667.3 2197.7" stroke="#e9b9c0" stroke-width="1.2" stroke-opacity=".85"/>
<path d="M739.3 2217.1L700.1 2370.5" stroke="#e9b9c0" stroke-width="1.5" stroke-opacity=".85"/>
<path d="M739.3 2217.1L639.9 2375.1" stroke="#e9b9c0" stroke-width="1.2" stroke-opacity=".85"/>
<path d="M739.3 2217.1L489.3 2303.9" stroke="#e9b9c0" stroke-width="1.2" stroke-opacity=".85"/>
<path d="M710.3 2138.3L667.3 2197.7" stroke="#e9b9c0" stroke-width="1.2" stroke-opacity=".85"/>
<path d="M489.3 2303.9L756.8 2356" stroke="#e9b9c0" stroke-width="1.2" stroke-opacity=".85"/>
<path d="M567.3 2304.8L639.9 2375.1" stroke="#e9b9c0" stroke-width="1.2" stroke-opacity=".85"/>
<path d="M567.3 2304.8L700.1 2370.5" stroke="#e9b9c0" stroke-width="1.2" stroke-opacity=".85"/>
<path d="M839.8 2210L639.9 2375.1" stroke="#e9b9c0" stroke-width="1.5" stroke-opacity=".85"/>
<path d="M826.6 2181.3L700.1 2370.5" stroke="#e9b9c0" stroke-width="1.2" stroke-opacity=".85"/>
<path d="M504.9 2110.9L668.9 2283.4" stroke="#c6cfec" stroke-width="1.5" stroke-opacity=".85"/>
<path d="M658.2 2069.8L600.2 2229.5" stroke="#c6cfec" stroke-width="2" stroke-opacity=".85"/>
<path d="M668.9 2283.4L856.8 2353.2" stroke="#c6cfec" stroke-width="1.5" stroke-opacity=".85"/>
<path d="M739.3 2217.1L639.9 2375.1" stroke="#c6cfec" stroke-width="1" stroke-opacity=".85"/>
<path d="M504.9 2110.9L710.3 2138.3" stroke="#d8cee8" stroke-width="1" stroke-opacity=".85"/>
<path d="M504.9 2110.9L582.9 2106.8" stroke="#d8cee8" stroke-width="1" stroke-opacity=".85"/>
<path d="M505.7 2208.1L667.3 2197.7" stroke="#d8cee8" stroke-width="1.5" stroke-opacity=".85"/>
<path d="M505.7 2208.1L668.9 2283.4" stroke="#d8cee8" stroke-width="2" stroke-opacity=".85"/>
<path d="M505.7 2208.1L710.3 2138.3" stroke="#d8cee8" stroke-width="1" stroke-opacity=".85"/>
<path d="M582.9 2106.8L567.3 2304.8" stroke="#d8cee8" stroke-width="1" stroke-opacity=".85"/>
<path d="M582.9 2106.8L489.3 2303.9" stroke="#d8cee8" stroke-width="1" stroke-opacity=".85"/>
<path d="M710.3 2138.3L668.9 2283.4" stroke="#d8cee8" stroke-width="1.2" stroke-opacity=".85"/>
<path d="M710.3 2138.3L639.9 2375.1" stroke="#d8cee8" stroke-width="1.5" stroke-opacity=".85"/>
<path d="M739.3 2217.1L789.9 2279.3" stroke="#d8cee8" stroke-width="1" stroke-opacity=".85"/>
<path d="M739.3 2217.1L756.8 2356" stroke="#d8cee8" stroke-width="1" stroke-opacity=".85"/>
<path d="M789.9 2279.3L756.8 2356" stroke="#d8cee8" stroke-width="1" stroke-opacity=".85"/>
<path d="M839.8 2210L822 2444.4" stroke="#d8cee8" stroke-width="1" stroke-opacity=".85"/>
<path d="M504.9 2110.9L567.3 2304.8" stroke="#d8cee8" stroke-width="1" stroke-opacity=".85"/>
<path d="M710.3 2138.3L756.8 2356" stroke="#d8cee8" stroke-width="1" stroke-opacity=".85"/>
<path d="M700.1 2370.5L756.8 2356" stroke="#d8cee8" stroke-width="1" stroke-opacity=".85"/>
<path d="M658.2 2069.8L639.9 2375.1" stroke="#d8cee8" stroke-width="1" stroke-opacity=".85"/>
<path d="M504.9 2110.9L567.3 2304.8" stroke="#c3ecc3" stroke-width="1" stroke-opacity=".85"/>
<path d="M582.9 2106.8L739.3 2217.1" stroke="#c3ecc3" stroke-width="1" stroke-opacity=".85"/>
<path d="M600.2 2229.5L700.1 2370.5" stroke="#c3ecc3" stroke-width="1" stroke-opacity=".85"/>
<path d="M839.8 2210L700.1 2370.5" stroke="#c3ecc3" stroke-width="1" stroke-opacity=".85"/>
<path d="M822 2444.4L613.1 2465.5" stroke="#c3ecc3" stroke-width="1" stroke-opacity=".85"/>
<path d="M504.9 2110.9L600.2 2229.5" stroke="#c3ecc3" stroke-width="1" stroke-opacity=".85"/>
<path d="M567.3 2304.8L639.9 2375.1" stroke="#c3ecc3" stroke-width="1" stroke-opacity=".85"/>
</g>
<circle cx="658.2" cy="2069.8" r="9.6" fill="#4d4d4d"/>
<circle cx="504.9" cy="2110.9" r="9" fill="#4d4d4d"/>
<circle cx="582.9" cy="2106.8" r="12.3" fill="#4d4d4d"/>
<circle cx="710.3" cy="2138.3" r="9" fill="#4d4d4d"/>
<circle cx="826.6" cy="2181.3" r="10.4" fill="#4d4d4d"/>
<circle cx="667.3" cy="2197.7" r="10.1" fill="#4d4d4d"/>
<circle cx="839.8" cy="2210" r="12.3" fill="#4d4d4d"/>
<circle cx="505.7" cy="2208.1" r="9" fill="#4d4d4d"/>
<circle cx="739.3" cy="2217.1" r="9" fill="#4d4d4d"/>
<circle cx="600.2" cy="2229.5" r="9.6" fill="#4d4d4d"/>
<circle cx="668.9" cy="2283.4" r="21.9" fill="url(#hatch)"/>
<circle cx="789.9" cy="2279.3" r="15.6" fill="#4d4d4d"/>
<circle cx="489.3" cy="2303.9" r="18.6" fill="#4d4d4d"/>
<circle cx="567.3" cy="2304.8" r="11" fill="#4d4d4d"/>
<circle cx="756.8" cy="2356" r="11.5" fill="#4d4d4d"/>
<circle cx="856.8" cy="2353.2" r="9" fill="#4d4d4d"/>
<circle cx="700.1" cy="2370.5" r="15.1" fill="#4d4d4d"/>
<circle cx="639.9" cy="2375.1" r="13.7" fill="#4d4d4d"/>
<circle cx="466.6" cy="2398.4" r="13.1" fill="#4d4d4d"/>
<circle cx="822" cy="2444.4" r="21.9" fill="#4d4d4d"/>
<circle cx="613.1" cy="2465.5" r="9.6" fill="#4d4d4d"/>
<text x="658.2" y="2072.4" class="nl">BPGM</text>
<text x="504.9" y="2113.5" class="nl">ZNF502</text>
<text x="582.9" y="2109.4" class="nl">SART3</text>
<text x="710.3" y="2140.9" class="nl">CAPZB</text>
<text x="826.6" y="2183.9" class="nl">ELOC</text>
<text x="667.3" y="2200.3" class="nl">LRRC41</text>
<text x="839.8" y="2212.6" class="nl">ELOB</text>
<text x="505.7" y="2210.7" class="nl">AAMP</text>
<text x="739.3" y="2219.7" class="nl">HTT</text>
<text x="600.2" y="2232.1" class="nl">GUCY2F</text>
<text x="668.9" y="2286" class="nl">NRBP1</text>
<text x="789.9" y="2281.9" class="nl">TSC22D4</text>
<text x="489.3" y="2306.5" class="nl">MED1</text>
<text x="567.3" y="2307.4" class="nl">CD2AP</text>
<text x="756.8" y="2358.6" class="nl">RPE</text>
<text x="856.8" y="2355.8" class="nl">ARNT</text>
<text x="700.1" y="2373.1" class="nl">NCOR1</text>
<text x="639.9" y="2377.7" class="nl">NCOR2</text>
<text x="466.6" y="2401" class="nl">ELP2</text>
<text x="822" y="2447" class="nl">MLF1</text>
<text x="613.1" y="2468.1" class="nl">GUCY2D</text>
</g>
<g>
<text x="867.2" y="2035.6" class="pl">(K)</text>
<g fill="none" stroke-linecap="butt">
<path d="M1105.4 2261.3L1207.2 2443.4" stroke="#c8edee" stroke-width="8.5" stroke-opacity=".85"/>
<path d="M1102.3 2262.9L1193.8 2450.4" stroke="#c8edee" stroke-width="8.5" stroke-opacity=".85"/>
<path d="M1104.1 2262L1204.9 2206.2" stroke="#f1dbb4" stroke-width="8" stroke-opacity=".85"/>
<path d="M1104.1 2262L1295.2 2222.9" stroke="#f1dbb4" stroke-width="9" stroke-opacity=".85"/>
<path d="M1104.1 2262L1116.4 2186.7" stroke="#f1dbb4" stroke-width="3" stroke-opacity=".85"/>
<path d="M1010.2 2154.2L952.1 2294.4" stroke="#f1dbb4" stroke-width="2.5" stroke-opacity=".85"/>
<path d="M986.9 2387.5L1017.9 2433.5" stroke="#f1dbb4" stroke-width="2" stroke-opacity=".85"/>
<path d="M1102.7 2062.4L1104.1 2262" stroke="#dfe4c4" stroke-width="1.5" stroke-opacity=".85"/>
<path d="M1066.6 2347.2L1200.5 2446.9" stroke="#dfe4c4" stroke-width="1.2" stroke-opacity=".85"/>
<path d="M986.9 2387.5L1017.9 2433.5" stroke="#dfe4c4" stroke-width="1" stroke-opacity=".85"/>
<path d="M910 2252.5L1104.1 2262" stroke="#dfe4c4" stroke-width="1" stroke-opacity=".85"/>
<path d="M1010.2 2154.2L952.1 2294.4" stroke="#e9b9c0" stroke-width="2.5" stroke-opacity=".85"/>
<path d="M1010.2 2154.2L1029.6 2207.6" stroke="#e9b9c0" stroke-width="2" stroke-opacity=".85"/>
<path d="M1010.2 2154.2L995.4 2244.5" stroke="#e9b9c0" stroke-width="2" stroke-opacity=".85"/>
<path d="M1010.2 2154.2L1043.6 2278.8" stroke="#e9b9c0" stroke-width="2" stroke-opacity=".85"/>
<path d="M1010.2 2154.2L1104.1 2262" stroke="#e9b9c0" stroke-width="2" stroke-opacity=".85"/>
<path d="M1010.2 2154.2L910 2252.5" stroke="#e9b9c0" stroke-width="1.5" stroke-opacity=".85"/>
<path d="M929.4 2173.6L952.1 2294.4" stroke="#e9b9c0" stroke-width="1.5" stroke-opacity=".85"/>
<path d="M929.4 2173.6L1043.6 2278.8" stroke="#e9b9c0" stroke-width="1.5" stroke-opacity=".85"/>
<path d="M929.4 2173.6L1029.6 2207.6" stroke="#e9b9c0" stroke-width="1.5" stroke-opacity=".85"/>
<path d="M910 2252.5L952.1 2294.4" stroke="#e9b9c0" stroke-width="2" stroke-opacity=".85"/>
<path d="M910 2252.5L1104.1 2262" stroke="#e9b9c0" stroke-width="1.5" stroke-opacity=".85"/>
<path d="M910 2252.5L995.4 2244.5" stroke="#e9b9c0" stroke-width="1.2" stroke-opacity=".85"/>
<path d="M1029.6 2207.6L952.1 2294.4" stroke="#e9b9c0" stroke-width="2" stroke-opacity=".85"/>
<path d="M1029.6 2207.6L995.4 2244.5" stroke="#e9b9c0" stroke-width="2.5" stroke-opacity=".85"/>
<path d="M1029.6 2207.6L1104.1 2262" stroke="#e9b9c0" stroke-width="2" stroke-opacity=".85"/>
<path d="M1029.6 2207.6L1043.6 2278.8" stroke="#e9b9c0" stroke-width="2" stroke-opacity=".85"/>
<path d="M995.4 2244.5L952.1 2294.4" stroke="#e9b9c0" stroke-width="2" stroke-opacity=".85"/>
<path d="M995.4 2244.5L1104.1 2262" stroke="#e9b9c0" stroke-width="3" stroke-opacity=".85"/>
<path d="M952.1 2294.4L1104.1 2262" stroke="#e9b9c0" stroke-width="4.5" stroke-opacity=".85"/>
<path d="M952.1 2294.4L1043.6 2278.8" stroke="#e9b9c0" stroke-width="1.5" stroke-opacity=".85"/>
<path d="M1043.6 2278.8L1104.1 2262" stroke="#e9b9c0" stroke-width="2" stroke-opacity=".85"/>
<path d="M1104.1 2262L1066.6 2347.2" stroke="#e9b9c0" stroke-width="3" stroke-opacity=".85"/>
<path d="M1104.1 2262L986.9 2387.5" stroke="#e9b9c0" stroke-width="2.5" stroke-opacity=".85"/>
<path d="M1104.1 2262L1017.9 2433.5" stroke="#e9b9c0" stroke-width="3" stroke-opacity=".85"/>
<path d="M995.4 2244.5L1043.6 2278.8" stroke="#e9b9c0" stroke-width="1.5" stroke-opacity=".85"/>
<path d="M929.4 2173.6L1104.1 2262" stroke="#e9b9c0" stroke-width="1.2" stroke-opacity=".85"/>
<path d="M1102.7 2062.4L1204.9 2206.2" stroke="#d8cee8" stroke-width="1" stroke-opacity=".85"/>
<path d="M1172.6 2127.3L1010.2 2154.2" stroke="#d8cee8" stroke-width="1" stroke-opacity=".85"/>
<path d="M1172.6 2127.3L1104.1 2262" stroke="#d8cee8" stroke-width="1.2" stroke-opacity=".85"/>
<path d="M1172.6 2127.3L1163.8 2295.7" stroke="#d8cee8" stroke-width="1.2" stroke-opacity=".85"/>
<path d="M1172.6 2127.3L1116.4 2186.7" stroke="#d8cee8" stroke-width="1" stroke-opacity=".85"/>
<path d="M1172.6 2127.3L1204.9 2206.2" stroke="#d8cee8" stroke-width="1" stroke-opacity=".85"/>
<path d="M1172.6 2127.3L1127.4 2335.4" stroke="#d8cee8" stroke-width="1" stroke-opacity=".85"/>
<path d="M1010.2 2154.2L1116.4 2186.7" stroke="#d8cee8" stroke-width="1" stroke-opacity=".85"/>
<path d="M1116.4 2186.7L1204.9 2206.2" stroke="#d8cee8" stroke-width="1" stroke-opacity=".85"/>
<path d="M1204.9 2206.2L1295.2 2222.9" stroke="#d8cee8" stroke-width="1" stroke-opacity=".85"/>
<path d="M1204.9 2206.2L1163.8 2295.7" stroke="#d8cee8" stroke-width="1" stroke-opacity=".85"/>
<path d="M1204.9 2206.2L1242.4 2333.5" stroke="#d8cee8" stroke-width="1" stroke-opacity=".85"/>
<path d="M1204.9 2206.2L1127.4 2335.4" stroke="#d8cee8" stroke-width="1" stroke-opacity=".85"/>
<path d="M1163.8 2295.7L1242.4 2333.5" stroke="#d8cee8" stroke-width="1.5" stroke-opacity=".85"/>
<path d="M1104.1 2262L1242.4 2333.5" stroke="#d8cee8" stroke-width="1.5" stroke-opacity=".85"/>
<path d="M1104.1 2262L1163.8 2295.7" stroke="#d8cee8" stroke-width="1.2" stroke-opacity=".85"/>
<path d="M1104.1 2262L1127.4 2335.4" stroke="#d8cee8" stroke-width="1.5" stroke-opacity=".85"/>
<path d="M1104.1 2262L1106.3 2462.8" stroke="#d8cee8" stroke-width="1.5" stroke-opacity=".85"/>
<path d="M1066.6 2347.2L1242.4 2333.5" stroke="#d8cee8" stroke-width="1" stroke-opacity=".85"/>
<path d="M1066.6 2347.2L1127.4 2335.4" stroke="#d8cee8" stroke-width="1" stroke-opacity=".85"/>
<path d="M1043.6 2278.8L1127.4 2335.4" stroke="#d8cee8" stroke-width="1.5" stroke-opacity=".85"/>
<path d="M952.1 2294.4L1127.4 2335.4" stroke="#d8cee8" stroke-width="1" stroke-opacity=".85"/>
<path d="M929.4 2173.6L910 2252.5" stroke="#d8cee8" stroke-width="1" stroke-opacity=".85"/>
<path d="M1043.6 2278.8L1066.6 2347.2" stroke="#d8cee8" stroke-width="1" stroke-opacity=".85"/>
<path d="M1116.4 2186.7L1066.6 2347.2" stroke="#d8cee8" stroke-width="1" stroke-opacity=".85"/>
<path d="M1204.9 2206.2L1066.6 2347.2" stroke="#d8cee8" stroke-width="1" stroke-opacity=".85"/>
<path d="M986.9 2387.5L1104.1 2262" stroke="#d8cee8" stroke-width="1" stroke-opacity=".85"/>
<path d="M1029.6 2207.6L1163.8 2295.7" stroke="#d8cee8" stroke-width="1" stroke-opacity=".85"/>
<path d="M1010.2 2154.2L1204.9 2206.2" stroke="#d8cee8" stroke-width="1" stroke-opacity=".85"/>
<path d="M1029.6 2207.6L1204.9 2206.2" stroke="#c6cfec" stroke-width="1.5" stroke-opacity=".85"/>
<path d="M1116.4 2186.7L1242.4 2333.5" stroke="#c6cfec" stroke-width="1.5" stroke-opacity=".85"/>
<path d="M1010.2 2154.2L1029.6 2207.6" stroke="#c6cfec" stroke-width="1" stroke-opacity=".85"/>
<path d="M929.4 2173.6L1066.6 2347.2" stroke="#c3ecc3" stroke-width="1" stroke-opacity=".85"/>
<path d="M1295.2 2222.9L1163.8 2295.7" stroke="#c3ecc3" stroke-width="1" stroke-opacity=".85"/>
<path d="M1017.9 2433.5L1200.5 2446.9" stroke="#c3ecc3" stroke-width="1" stroke-opacity=".85"/>
<path d="M1066.6 2347.2L1200.5 2446.9" stroke="#c3ecc3" stroke-width="1" stroke-opacity=".85"/>
<path d="M1163.8 2295.7L1127.4 2335.4" stroke="#c3ecc3" stroke-width="1" stroke-opacity=".85"/>
<path d="M1102.3 2261.2L1066.6 2347.2" stroke="#c8edee" stroke-width="5.5" stroke-opacity=".85"/>
<path d="M1100.4 2260.4L1059.3 2344" stroke="#c8edee" stroke-width="5.5" stroke-opacity=".85"/>
</g>
<circle cx="1102.7" cy="2062.4" r="7.7" fill="#4d4d4d"/>
<circle cx="1172.6" cy="2127.3" r="7.7" fill="#4d4d4d"/>
<circle cx="1010.2" cy="2154.2" r="8.2" fill="#4d4d4d"/>
<circle cx="929.4" cy="2173.6" r="7.7" fill="#4d4d4d"/>
<circle cx="1116.4" cy="2186.7" r="9.6" fill="#4d4d4d"/>
<circle cx="1029.6" cy="2207.6" r="7.7" fill="#4d4d4d"/>
<circle cx="1204.9" cy="2206.2" r="15.1" fill="#4d4d4d"/>
<circle cx="1295.2" cy="2222.9" r="12.9" fill="#4d4d4d"/>
<circle cx="995.4" cy="2244.5" r="8.2" fill="#4d4d4d"/>
<circle cx="910" cy="2252.5" r="7.7" fill="#4d4d4d"/>
<circle cx="1104.1" cy="2262" r="20.5" fill="url(#hatch)"/>
<circle cx="1043.6" cy="2278.8" r="8.2" fill="#4d4d4d"/>
<circle cx="952.1" cy="2294.4" r="11" fill="#4d4d4d"/>
<circle cx="1163.8" cy="2295.7" r="8.2" fill="#4d4d4d"/>
<circle cx="1127.4" cy="2335.4" r="8.2" fill="#4d4d4d"/>
<circle cx="1242.4" cy="2333.5" r="8.2" fill="#4d4d4d"/>
<circle cx="1066.6" cy="2347.2" r="17" fill="#4d4d4d"/>
<circle cx="986.9" cy="2387.5" r="9" fill="#4d4d4d"/>
<circle cx="1017.9" cy="2433.5" r="11" fill="#4d4d4d"/>
<circle cx="1200.5" cy="2446.9" r="20.5" fill="#4d4d4d"/>
<circle cx="1106.3" cy="2462.8" r="7.7" fill="#4d4d4d"/>
<text x="1102.7" y="2065" class="nl">NBEAL2</text>
<text x="1172.6" y="2129.9" class="nl">TMEM231</text>
<text x="1010.2" y="2156.8" class="nl">IFT57</text>
<text x="929.4" y="2176.2" class="nl">PCM1</text>
<text x="1116.4" y="2189.3" class="nl">KCNH2</text>
<text x="1029.6" y="2210.2" class="nl">CLUAP1</text>
<text x="1204.9" y="2208.8" class="nl">IFT140</text>
<text x="1295.2" y="2225.5" class="nl">RGS7</text>
<text x="995.4" y="2247.1" class="nl">TTC30B</text>
<text x="910" y="2255.1" class="nl">CORO1A</text>
<text x="1104.1" y="2264.6" class="nl">IFT172</text>
<text x="1043.6" y="2281.4" class="nl">LCA5</text>
<text x="952.1" y="2297" class="nl">IFT20</text>
<text x="1163.8" y="2298.3" class="nl">CCDC191</text>
<text x="1127.4" y="2338" class="nl">EFHC1</text>
<text x="1242.4" y="2336.1" class="nl">TMEM8B</text>
<text x="1066.6" y="2349.8" class="nl">GLI3</text>
<text x="986.9" y="2390.1" class="nl">LHX3</text>
<text x="1017.9" y="2436.1" class="nl">LHX4</text>
<text x="1200.5" y="2449.5" class="nl">GLI2</text>
<text x="1106.3" y="2465.4" class="nl">LYPD6</text>
</g>
<g>
<text x="1327.8" y="2034.8" class="pl">(L)</text>
<g fill="none" stroke-linecap="butt">
<path d="M1496.2 2256.6L1621.6 2073.4" stroke="#f1dbb4" stroke-width="9" stroke-opacity=".85"/>
<path d="M1581.6 2252.7L1621.6 2073.4" stroke="#f1dbb4" stroke-width="9" stroke-opacity=".85"/>
<path d="M1496.2 2256.6L1581.6 2252.7" stroke="#f1dbb4" stroke-width="6" stroke-opacity=".85"/>
<path d="M1358.5 2069.8L1521.1 2067.1" stroke="#dfe4c4" stroke-width="2" stroke-opacity=".85"/>
<path d="M1358.5 2069.8L1418.7 2254.7" stroke="#dfe4c4" stroke-width="2" stroke-opacity=".85"/>
<path d="M1521.1 2067.1L1418.7 2254.7" stroke="#dfe4c4" stroke-width="1" stroke-opacity=".85"/>
<path d="M1733.1 2210.8L1722.7 2318.2" stroke="#dfe4c4" stroke-width="1" stroke-opacity=".85"/>
<path d="M1733.1 2210.8L1683.8 2405.3" stroke="#dfe4c4" stroke-width="1" stroke-opacity=".85"/>
<path d="M1722.7 2318.2L1683.8 2405.3" stroke="#dfe4c4" stroke-width="1" stroke-opacity=".85"/>
<path d="M1377.9 2173.1L1418.7 2254.7" stroke="#dfe4c4" stroke-width="1" stroke-opacity=".85"/>
<path d="M1496.2 2256.6L1621.6 2073.4" stroke="#dfe4c4" stroke-width="2" stroke-opacity=".85"/>
<path d="M1496.2 2256.6L1358.5 2069.8" stroke="#e9b9c0" stroke-width="4" stroke-opacity=".85"/>
<path d="M1496.2 2256.6L1477.6 2482.5" stroke="#e9b9c0" stroke-width="4" stroke-opacity=".85"/>
<path d="M1496.2 2256.6L1521.1 2067.1" stroke="#e9b9c0" stroke-width="2.5" stroke-opacity=".85"/>
<path d="M1496.2 2256.6L1358.5 2438.1" stroke="#e9b9c0" stroke-width="2" stroke-opacity=".85"/>
<path d="M1496.2 2256.6L1377.9 2173.1" stroke="#e9b9c0" stroke-width="2.5" stroke-opacity=".85"/>
<path d="M1496.2 2256.6L1418.7 2254.7" stroke="#e9b9c0" stroke-width="2" stroke-opacity=".85"/>
<path d="M1496.2 2256.6L1733.1 2210.8" stroke="#e9b9c0" stroke-width="2.5" stroke-opacity=".85"/>
<path d="M1496.2 2256.6L1659.7 2219.9" stroke="#e9b9c0" stroke-width="2" stroke-opacity=".85"/>
<path d="M1496.2 2256.6L1722.7 2318.2" stroke="#e9b9c0" stroke-width="2" stroke-opacity=".85"/>
<path d="M1496.2 2256.6L1683.8 2405.3" stroke="#e9b9c0" stroke-width="2" stroke-opacity=".85"/>
<path d="M1496.2 2256.6L1568.2 2397.9" stroke="#e9b9c0" stroke-width="2" stroke-opacity=".85"/>
<path d="M1496.2 2256.6L1620.2 2331.3" stroke="#e9b9c0" stroke-width="1.5" stroke-opacity=".85"/>
<path d="M1496.2 2256.6L1581.6 2252.7" stroke="#e9b9c0" stroke-width="2" stroke-opacity=".85"/>
<path d="M1496.2 2256.6L1553.2 2174.2" stroke="#e9b9c0" stroke-width="1.2" stroke-opacity=".85"/>
<path d="M1496.2 2256.6L1623.5 2154.7" stroke="#e9b9c0" stroke-width="1.2" stroke-opacity=".85"/>
<path d="M1581.6 2252.7L1521.1 2067.1" stroke="#e9b9c0" stroke-width="2.5" stroke-opacity=".85"/>
<path d="M1581.6 2252.7L1733.1 2210.8" stroke="#e9b9c0" stroke-width="2" stroke-opacity=".85"/>
<path d="M1581.6 2252.7L1659.7 2219.9" stroke="#e9b9c0" stroke-width="2" stroke-opacity=".85"/>
<path d="M1581.6 2252.7L1722.7 2318.2" stroke="#e9b9c0" stroke-width="2" stroke-opacity=".85"/>
<path d="M1581.6 2252.7L1683.8 2405.3" stroke="#e9b9c0" stroke-width="2.5" stroke-opacity=".85"/>
<path d="M1581.6 2252.7L1568.2 2397.9" stroke="#e9b9c0" stroke-width="1.5" stroke-opacity=".85"/>
<path d="M1581.6 2252.7L1377.9 2173.1" stroke="#e9b9c0" stroke-width="1.5" stroke-opacity=".85"/>
<path d="M1581.6 2252.7L1418.7 2254.7" stroke="#e9b9c0" stroke-width="1.2" stroke-opacity=".85"/>
<path d="M1581.6 2252.7L1553.2 2174.2" stroke="#e9b9c0" stroke-width="2" stroke-opacity=".85"/>
<path d="M1621.6 2073.4L1733.1 2210.8" stroke="#e9b9c0" stroke-width="2.5" stroke-opacity=".85"/>
<path d="M1621.6 2073.4L1479.8 2186.2" stroke="#e9b9c0" stroke-width="1.5" stroke-opacity=".85"/>
<path d="M1521.1 2067.1L1553.2 2174.2" stroke="#e9b9c0" stroke-width="1.2" stroke-opacity=".85"/>
<path d="M1621.6 2073.4L1568.2 2397.9" stroke="#e9b9c0" stroke-width="1.2" stroke-opacity=".85"/>
<path d="M1621.6 2073.4L1496.2 2256.6" stroke="#e9b9c0" stroke-width="1.2" stroke-opacity=".85"/>
<path d="M1452.4 2119.1L1496.2 2256.6" stroke="#c6cfec" stroke-width="2" stroke-opacity=".85"/>
<path d="M1452.4 2119.1L1493.5 2344.5" stroke="#c6cfec" stroke-width="1.5" stroke-opacity=".85"/>
<path d="M1479.8 2186.2L1623.5 2154.7" stroke="#c6cfec" stroke-width="2" stroke-opacity=".85"/>
<path d="M1521.1 2067.1L1659.7 2219.9" stroke="#c6cfec" stroke-width="1" stroke-opacity=".85"/>
<path d="M1521.1 2067.1L1623.5 2154.7" stroke="#c6cfec" stroke-width="1" stroke-opacity=".85"/>
<path d="M1621.6 2073.4L1623.5 2154.7" stroke="#c6cfec" stroke-width="1.5" stroke-opacity=".85"/>
<path d="M1659.7 2219.9L1493.5 2344.5" stroke="#c6cfec" stroke-width="1.5" stroke-opacity=".85"/>
<path d="M1353.3 2312.7L1496.2 2256.6" stroke="#c6cfec" stroke-width="1" stroke-opacity=".85"/>
<path d="M1496.2 2256.6L1493.5 2344.5" stroke="#c6cfec" stroke-width="2.5" stroke-opacity=".85"/>
<path d="M1553.2 2174.2L1493.5 2344.5" stroke="#c6cfec" stroke-width="1" stroke-opacity=".85"/>
<path d="M1623.5 2154.7L1496.2 2256.6" stroke="#c6cfec" stroke-width="1" stroke-opacity=".85"/>
<path d="M1479.8 2186.2L1553.2 2174.2" stroke="#c6cfec" stroke-width="1.5" stroke-opacity=".85"/>
<path d="M1353.3 2312.7L1659.7 2219.9" stroke="#c6cfec" stroke-width="1" stroke-opacity=".85"/>
<path d="M1377.9 2173.1L1553.2 2174.2" stroke="#d8cee8" stroke-width="1" stroke-opacity=".85"/>
<path d="M1377.9 2173.1L1353.3 2312.7" stroke="#d8cee8" stroke-width="1" stroke-opacity=".85"/>
<path d="M1418.7 2254.7L1353.3 2312.7" stroke="#d8cee8" stroke-width="1" stroke-opacity=".85"/>
<path d="M1353.3 2312.7L1581.6 2252.7" stroke="#d8cee8" stroke-width="1" stroke-opacity=".85"/>
<path d="M1353.3 2312.7L1479.8 2186.2" stroke="#d8cee8" stroke-width="1" stroke-opacity=".85"/>
<path d="M1452.4 2119.1L1623.5 2154.7" stroke="#d8cee8" stroke-width="1" stroke-opacity=".85"/>
<path d="M1479.8 2186.2L1733.1 2210.8" stroke="#d8cee8" stroke-width="1" stroke-opacity=".85"/>
<path d="M1553.2 2174.2L1568.2 2397.9" stroke="#d8cee8" stroke-width="1" stroke-opacity=".85"/>
<path d="M1568.2 2397.9L1722.7 2318.2" stroke="#d8cee8" stroke-width="1" stroke-opacity=".85"/>
<path d="M1452.4 2119.1L1659.7 2219.9" stroke="#d8cee8" stroke-width="1" stroke-opacity=".85"/>
<path d="M1452.4 2119.1L1581.6 2252.7" stroke="#d8cee8" stroke-width="1" stroke-opacity=".85"/>
<path d="M1479.8 2186.2L1581.6 2252.7" stroke="#d8cee8" stroke-width="1" stroke-opacity=".85"/>
<path d="M1479.8 2186.2L1496.2 2256.6" stroke="#d8cee8" stroke-width="1.2" stroke-opacity=".85"/>
<path d="M1623.5 2154.7L1568.2 2397.9" stroke="#d8cee8" stroke-width="1" stroke-opacity=".85"/>
<path d="M1353.3 2312.7L1493.5 2344.5" stroke="#d8cee8" stroke-width="1" stroke-opacity=".85"/>
<path d="M1479.8 2186.2L1568.2 2397.9" stroke="#d8cee8" stroke-width="1" stroke-opacity=".85"/>
<path d="M1553.2 2174.2L1733.1 2210.8" stroke="#d8cee8" stroke-width="1" stroke-opacity=".85"/>
<path d="M1623.5 2154.7L1553.2 2174.2" stroke="#d8cee8" stroke-width="1.5" stroke-opacity=".85"/>
<path d="M1581.6 2252.7L1620.2 2331.3" stroke="#d8cee8" stroke-width="1" stroke-opacity=".85"/>
<path d="M1493.5 2344.5L1358.5 2438.1" stroke="#c3ecc3" stroke-width="1" stroke-opacity=".85"/>
<path d="M1733.1 2210.8L1620.2 2331.3" stroke="#c3ecc3" stroke-width="1" stroke-opacity=".85"/>
<path d="M1623.5 2154.7L1493.5 2344.5" stroke="#c3ecc3" stroke-width="1" stroke-opacity=".85"/>
<path d="M1418.7 2254.7L1620.2 2331.3" stroke="#c3ecc3" stroke-width="1" stroke-opacity=".85"/>
</g>
<circle cx="1358.5" cy="2069.8" r="12.3" fill="#4d4d4d"/>
<circle cx="1521.1" cy="2067.1" r="10.1" fill="#4d4d4d"/>
<circle cx="1621.6" cy="2073.4" r="22.5" fill="#4d4d4d"/>
<circle cx="1452.4" cy="2119.1" r="9.6" fill="#4d4d4d"/>
<circle cx="1623.5" cy="2154.7" r="9" fill="#4d4d4d"/>
<circle cx="1377.9" cy="2173.1" r="9" fill="#4d4d4d"/>
<circle cx="1553.2" cy="2174.2" r="9" fill="#4d4d4d"/>
<circle cx="1479.8" cy="2186.2" r="10.1" fill="#4d4d4d"/>
<circle cx="1733.1" cy="2210.8" r="9" fill="#4d4d4d"/>
<circle cx="1659.7" cy="2219.9" r="9" fill="#4d4d4d"/>
<circle cx="1496.2" cy="2256.6" r="22.5" fill="url(#hatch)"/>
<circle cx="1581.6" cy="2252.7" r="19.7" fill="#4d4d4d"/>
<circle cx="1418.7" cy="2254.7" r="9" fill="#4d4d4d"/>
<circle cx="1353.3" cy="2312.7" r="9" fill="#4d4d4d"/>
<circle cx="1722.7" cy="2318.2" r="9" fill="#4d4d4d"/>
<circle cx="1620.2" cy="2331.3" r="9" fill="#4d4d4d"/>
<circle cx="1493.5" cy="2344.5" r="9" fill="#4d4d4d"/>
<circle cx="1568.2" cy="2397.9" r="9" fill="#4d4d4d"/>
<circle cx="1683.8" cy="2405.3" r="9.6" fill="#4d4d4d"/>
<circle cx="1358.5" cy="2438.1" r="9" fill="#4d4d4d"/>
<circle cx="1477.6" cy="2482.5" r="13.1" fill="#4d4d4d"/>
<text x="1358.5" y="2072.4" class="nl">USP18</text>
<text x="1521.1" y="2069.7" class="nl">USP2</text>
<text x="1621.6" y="2076" class="nl">TRIM55</text>
<text x="1452.4" y="2121.7" class="nl">LRRC2</text>
<text x="1623.5" y="2157.3" class="nl">ART3</text>
<text x="1377.9" y="2175.7" class="nl">JOSD1</text>
<text x="1553.2" y="2176.8" class="nl">GTF2E2</text>
<text x="1479.8" y="2188.8" class="nl">CKM</text>
<text x="1733.1" y="2213.4" class="nl">YOD1</text>
<text x="1659.7" y="2222.5" class="nl">TUBA8</text>
<text x="1496.2" y="2259.2" class="nl">TRIM54</text>
<text x="1581.6" y="2255.3" class="nl">TRIM63</text>
<text x="1418.7" y="2257.3" class="nl">USP33</text>
<text x="1353.3" y="2315.3" class="nl">MAPKAPK3</text>
<text x="1722.7" y="2320.8" class="nl">UCHL1</text>
<text x="1620.2" y="2333.9" class="nl">EBF2</text>
<text x="1493.5" y="2347.1" class="nl">PDE4DIP</text>
<text x="1568.2" y="2400.5" class="nl">UBE2V2</text>
<text x="1683.8" y="2407.9" class="nl">SENP3</text>
<text x="1358.5" y="2440.7" class="nl">C12orf49</text>
<text x="1477.6" y="2485.1" class="nl">PRF1</text>
</g>
</svg></body></html>
